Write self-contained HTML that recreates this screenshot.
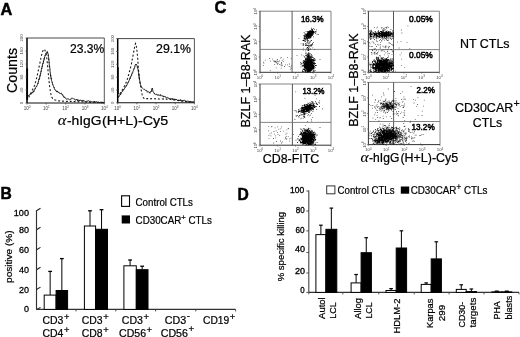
<!DOCTYPE html>
<html><head><meta charset="utf-8"><style>
html,body{margin:0;padding:0;background:#fff;}
svg{display:block;filter:grayscale(1) blur(0.2px);}
text{font-family:"Liberation Sans",sans-serif;}
</style></head><body>
<svg width="520" height="337" viewBox="0 0 520 337">
<rect width="520" height="337" fill="#fff"/>
<text x="0.5" y="14.8" font-size="17" font-weight="bold" text-anchor="start" fill="#000" textLength="11.8" lengthAdjust="spacingAndGlyphs" stroke="#000" stroke-width="0.5">A</text>
<text x="0.6" y="199.2" font-size="17" font-weight="bold" text-anchor="start" fill="#000" textLength="11.3" lengthAdjust="spacingAndGlyphs" stroke="#000" stroke-width="0.5">B</text>
<text x="214.6" y="12.8" font-size="17" font-weight="bold" text-anchor="start" fill="#000" textLength="11.9" lengthAdjust="spacingAndGlyphs" stroke="#000" stroke-width="0.5">C</text>
<text x="237.6" y="199.5" font-size="17" font-weight="bold" text-anchor="start" fill="#000" textLength="11.3" lengthAdjust="spacingAndGlyphs" stroke="#000" stroke-width="0.5">D</text>
<line x1="27" y1="38" x2="104.3" y2="38" stroke="#333" stroke-width="0.9"/>
<line x1="104.3" y1="38" x2="104.3" y2="103" stroke="#444" stroke-width="0.9"/>
<line x1="27" y1="103" x2="104.3" y2="103" stroke="#111" stroke-width="1.1"/>
<line x1="27" y1="38" x2="27" y2="103" stroke="#000" stroke-width="1.5"/>
<line x1="27.2" y1="68.3" x2="27.2" y2="100" stroke="#000" stroke-width="1.7"/>
<line x1="25.5" y1="103.0" x2="27" y2="103.0" stroke="#444" stroke-width="0.8"/>
<line x1="25.5" y1="90.0" x2="27" y2="90.0" stroke="#444" stroke-width="0.8"/>
<line x1="25.5" y1="77.0" x2="27" y2="77.0" stroke="#444" stroke-width="0.8"/>
<line x1="25.5" y1="64.0" x2="27" y2="64.0" stroke="#444" stroke-width="0.8"/>
<line x1="25.5" y1="51.0" x2="27" y2="51.0" stroke="#444" stroke-width="0.8"/>
<line x1="25.5" y1="38.0" x2="27" y2="38.0" stroke="#444" stroke-width="0.8"/>
<line x1="27.0" y1="103" x2="27.0" y2="104.5" stroke="#444" stroke-width="0.8"/>
<line x1="46.325" y1="103" x2="46.325" y2="104.5" stroke="#444" stroke-width="0.8"/>
<line x1="65.65" y1="103" x2="65.65" y2="104.5" stroke="#444" stroke-width="0.8"/>
<line x1="84.975" y1="103" x2="84.975" y2="104.5" stroke="#444" stroke-width="0.8"/>
<line x1="104.3" y1="103" x2="104.3" y2="104.5" stroke="#444" stroke-width="0.8"/>
<text x="27.0" y="110.0" font-size="4.5" text-anchor="middle" fill="#444">10<tspan font-size="3.1" dy="-1.7">0</tspan></text>
<text x="46.3" y="110.0" font-size="4.5" text-anchor="middle" fill="#444">10<tspan font-size="3.1" dy="-1.7">1</tspan></text>
<text x="65.7" y="110.0" font-size="4.5" text-anchor="middle" fill="#444">10<tspan font-size="3.1" dy="-1.7">2</tspan></text>
<text x="85.0" y="110.0" font-size="4.5" text-anchor="middle" fill="#444">10<tspan font-size="3.1" dy="-1.7">3</tspan></text>
<text x="104.3" y="110.0" font-size="4.5" text-anchor="middle" fill="#444">10<tspan font-size="3.1" dy="-1.7">4</tspan></text>
<text transform="translate(23.0,103.0) rotate(-90)" font-size="4.3" text-anchor="middle" fill="#444">0</text>
<text transform="translate(23.0,90.0) rotate(-90)" font-size="4.3" text-anchor="middle" fill="#444">40</text>
<text transform="translate(23.0,77.0) rotate(-90)" font-size="4.3" text-anchor="middle" fill="#444">80</text>
<text transform="translate(23.0,64.0) rotate(-90)" font-size="4.3" text-anchor="middle" fill="#444">120</text>
<text transform="translate(23.0,51.0) rotate(-90)" font-size="4.3" text-anchor="middle" fill="#444">160</text>
<text transform="translate(23.0,38.0) rotate(-90)" font-size="4.3" text-anchor="middle" fill="#444">200</text>
<line x1="117.7" y1="38.6" x2="194.4" y2="38.6" stroke="#333" stroke-width="0.9"/>
<line x1="194.4" y1="38.6" x2="194.4" y2="102.8" stroke="#444" stroke-width="0.9"/>
<line x1="117.7" y1="102.8" x2="194.4" y2="102.8" stroke="#111" stroke-width="1.1"/>
<line x1="117.7" y1="38.6" x2="117.7" y2="102.8" stroke="#000" stroke-width="1.5"/>
<line x1="117.9" y1="67.3" x2="117.9" y2="94" stroke="#000" stroke-width="1.7"/>
<line x1="116.2" y1="102.8" x2="117.7" y2="102.8" stroke="#444" stroke-width="0.8"/>
<line x1="116.2" y1="89.96" x2="117.7" y2="89.96" stroke="#444" stroke-width="0.8"/>
<line x1="116.2" y1="77.12" x2="117.7" y2="77.12" stroke="#444" stroke-width="0.8"/>
<line x1="116.2" y1="64.28" x2="117.7" y2="64.28" stroke="#444" stroke-width="0.8"/>
<line x1="116.2" y1="51.440000000000005" x2="117.7" y2="51.440000000000005" stroke="#444" stroke-width="0.8"/>
<line x1="116.2" y1="38.60000000000001" x2="117.7" y2="38.60000000000001" stroke="#444" stroke-width="0.8"/>
<line x1="117.7" y1="102.8" x2="117.7" y2="104.3" stroke="#444" stroke-width="0.8"/>
<line x1="136.875" y1="102.8" x2="136.875" y2="104.3" stroke="#444" stroke-width="0.8"/>
<line x1="156.05" y1="102.8" x2="156.05" y2="104.3" stroke="#444" stroke-width="0.8"/>
<line x1="175.22500000000002" y1="102.8" x2="175.22500000000002" y2="104.3" stroke="#444" stroke-width="0.8"/>
<line x1="194.4" y1="102.8" x2="194.4" y2="104.3" stroke="#444" stroke-width="0.8"/>
<text x="117.7" y="109.8" font-size="4.5" text-anchor="middle" fill="#444">10<tspan font-size="3.1" dy="-1.7">0</tspan></text>
<text x="136.9" y="109.8" font-size="4.5" text-anchor="middle" fill="#444">10<tspan font-size="3.1" dy="-1.7">1</tspan></text>
<text x="156.1" y="109.8" font-size="4.5" text-anchor="middle" fill="#444">10<tspan font-size="3.1" dy="-1.7">2</tspan></text>
<text x="175.2" y="109.8" font-size="4.5" text-anchor="middle" fill="#444">10<tspan font-size="3.1" dy="-1.7">3</tspan></text>
<text x="194.4" y="109.8" font-size="4.5" text-anchor="middle" fill="#444">10<tspan font-size="3.1" dy="-1.7">4</tspan></text>
<text transform="translate(113.7,102.8) rotate(-90)" font-size="4.3" text-anchor="middle" fill="#444">0</text>
<text transform="translate(113.7,90.0) rotate(-90)" font-size="4.3" text-anchor="middle" fill="#444">40</text>
<text transform="translate(113.7,77.1) rotate(-90)" font-size="4.3" text-anchor="middle" fill="#444">80</text>
<text transform="translate(113.7,64.3) rotate(-90)" font-size="4.3" text-anchor="middle" fill="#444">120</text>
<text transform="translate(113.7,51.4) rotate(-90)" font-size="4.3" text-anchor="middle" fill="#444">160</text>
<text transform="translate(113.7,38.6) rotate(-90)" font-size="4.3" text-anchor="middle" fill="#444">200</text>
<path d="M27.80,95.53 L28.07,95.57 L28.43,95.97 L28.85,95.12 L29.33,94.99 L29.83,94.88 L30.34,94.00 L30.83,94.18 L31.30,93.99 L31.60,93.97 L31.90,92.62 L32.21,92.61 L32.53,91.95 L32.84,92.67 L33.15,92.12 L33.46,90.75 L33.76,91.76 L34.06,91.33 L34.35,90.45 L34.63,89.98 L34.90,88.89 L35.14,88.30 L35.37,88.70 L35.59,87.63 L35.80,87.46 L36.01,87.17 L36.21,86.47 L36.41,86.73 L36.61,86.29 L36.81,86.47 L37.00,85.53 L37.20,85.24 L37.40,84.53 L37.60,84.24 L37.73,83.57 L37.86,82.93 L37.99,83.63 L38.12,83.23 L38.25,82.59 L38.38,81.98 L38.51,80.97 L38.64,80.41 L38.77,80.06 L38.90,79.29 L39.03,79.88 L39.16,78.87 L39.29,79.07 L39.42,77.90 L39.55,78.28 L39.68,77.62 L39.81,75.86 L39.94,75.68 L40.07,76.22 L40.20,75.05 L40.30,75.42 L40.41,74.14 L40.51,73.23 L40.61,73.63 L40.72,73.42 L40.82,72.21 L40.93,71.48 L41.04,71.39 L41.14,71.87 L41.25,71.09 L41.36,69.66 L41.46,69.39 L41.57,68.70 L41.67,68.16 L41.78,68.80 L41.89,67.40 L41.99,67.51 L42.10,66.89 L42.20,66.05 L42.30,66.42 L42.40,65.08 L42.51,65.42 L42.61,64.21 L42.71,64.26 L42.80,63.55 L42.90,63.25 L43.04,63.77 L43.18,62.99 L43.31,61.72 L43.45,62.08 L43.58,60.57 L43.71,60.35 L43.85,60.56 L43.98,59.78 L44.11,58.51 L44.23,59.40 L44.36,57.80 L44.49,57.45 L44.61,57.81 L44.73,56.76 L44.85,56.33 L44.97,55.64 L45.09,55.32 L45.20,55.72 L45.45,54.51 L45.70,54.39 L45.94,53.46 L46.17,53.06 L46.39,53.38 L46.60,52.33 L46.81,52.23 L47.00,52.55 L47.23,51.51 L47.44,51.60 L47.63,53.03 L47.81,53.41 L48.00,53.30 L48.20,54.23 L48.25,55.35 L48.30,55.98 L48.35,55.21 L48.40,56.71 L48.45,57.00 L48.51,56.99 L48.56,57.15 L48.61,57.12 L48.66,57.48 L48.71,59.34 L48.77,58.74 L48.82,59.93 L48.87,59.75 L48.92,61.11 L48.98,61.28 L49.03,61.33 L49.08,61.66 L49.13,62.99 L49.19,62.52 L49.24,63.25 L49.29,64.24 L49.34,65.16 L49.40,65.27 L49.45,65.23 L49.50,66.63 L49.56,66.03 L49.61,66.22 L49.66,67.07 L49.72,67.81 L49.77,67.70 L49.82,68.35 L49.87,69.11 L49.92,69.88 L49.97,69.69 L50.02,70.50 L50.07,71.76 L50.13,72.35 L50.18,72.32 L50.23,72.83 L50.29,73.11 L50.35,72.89 L50.40,73.18 L50.46,73.59 L50.53,75.35 L50.59,75.47 L50.66,76.28 L50.73,75.28 L50.80,76.60 L50.90,76.89 L51.00,77.76 L51.10,77.65 L51.21,79.17 L51.33,78.27 L51.44,79.46 L51.56,80.23 L51.68,80.94 L51.81,81.16 L51.93,81.56 L52.05,82.14 L52.18,82.75 L52.30,82.33 L52.42,83.24 L52.55,83.97 L52.67,84.31 L52.78,84.01 L52.90,84.94 L53.08,85.61 L53.26,85.71 L53.43,86.29 L53.61,86.40 L53.78,87.15 L53.95,87.61 L54.13,87.22 L54.31,88.44 L54.50,89.34 L54.69,89.52 L54.90,89.64 L55.19,89.57 L55.49,90.49 L55.80,90.61 L56.12,90.73 L56.45,91.63 L56.81,90.79 L57.19,92.08 L57.60,91.29 L57.96,92.38 L58.35,92.41 L58.77,92.23 L59.20,93.13 L59.64,93.01 L60.09,93.38 L60.52,94.04 L60.94,93.25 L61.34,93.12 L61.70,93.80 L62.06,94.68 L62.39,94.31 L62.69,94.63 L62.97,96.12 L63.24,96.14 L63.53,96.19 L63.82,97.24 L64.14,96.73 L64.50,97.55 L64.89,97.14 L65.31,97.77 L65.74,98.61 L66.19,99.04 L66.65,99.23 L67.11,98.70 L67.58,99.18 L68.04,98.93 L68.50,98.75 L68.95,99.32 L69.40,99.79 L69.86,99.71 L70.32,99.38 L70.77,99.59 L71.23,98.44 L71.69,98.17 L72.14,98.53 L72.60,98.26 L73.05,98.24 L73.48,98.65 L73.91,99.12 L74.35,99.10 L74.78,99.03 L75.23,100.01 L75.69,100.41 L76.18,99.79 L76.70,99.36 L77.10,99.38 L77.49,100.73 L77.88,99.55 L78.28,100.62 L78.69,100.48 L79.11,100.15 L79.55,100.93 L80.02,99.83 L80.51,100.07 L81.04,100.61 L81.60,100.02 L82.20,101.29 L82.57,100.44 L82.95,100.34 L83.35,100.24 L83.76,101.15 L84.18,100.91 L84.62,101.23 L85.07,101.30 L85.52,101.57 L85.99,101.84 L86.46,101.46 L86.93,100.77 L87.41,101.23 L87.89,100.82 L88.38,100.61 L88.86,101.34 L89.34,101.74 L89.83,100.97 L90.30,101.15 L90.77,101.30 L91.24,101.86 L91.70,101.63 L92.16,101.81 L92.64,102.06 L93.13,101.55 L93.62,102.18 L94.13,102.39 L94.64,101.20 L95.15,102.51 L95.66,102.23 L96.17,101.38 L96.67,101.90 L97.17,102.19 L97.66,102.66 L98.14,101.89 L98.61,102.21 L99.06,102.71 L99.49,102.62 L99.90,102.87 L100.29,102.17 L100.65,102.48 L100.99,101.83 L101.30,102.63 L102.18,102.84 L102.81,102.62 L103.25,102.77 L103.56,102.04 L103.79,103.08 L104.00,102.50" fill="none" stroke="#111" stroke-width="0.95"/>
<path d="M28.70,97.54 L28.84,97.25 L29.01,96.76 L29.22,96.40 L29.45,95.78 L29.70,95.43 L29.96,94.86 L30.24,94.14 L30.51,93.49 L30.79,93.03 L31.05,92.52 L31.30,92.08 L31.54,91.52 L31.78,90.94 L32.03,90.74 L32.27,90.09 L32.52,89.88 L32.77,89.25 L33.01,88.84 L33.26,88.49 L33.51,87.77 L33.75,87.21 L34.00,86.70 L34.15,86.37 L34.30,85.99 L34.45,85.52 L34.60,85.17 L34.75,84.58 L34.90,84.26 L35.05,83.54 L35.20,83.10 L35.35,82.70 L35.50,82.13 L35.65,81.75 L35.80,81.20 L35.95,80.63 L36.10,80.19 L36.25,79.55 L36.40,78.91 L36.55,78.35 L36.70,77.90 L36.81,77.49 L36.92,76.83 L37.03,76.57 L37.14,76.14 L37.25,75.52 L37.36,75.05 L37.47,74.44 L37.58,74.04 L37.69,73.52 L37.80,73.04 L37.91,72.35 L38.02,72.11 L38.13,71.46 L38.24,70.90 L38.35,70.50 L38.46,69.90 L38.57,69.36 L38.67,68.90 L38.78,68.20 L38.89,67.84 L38.99,67.30 L39.09,66.97 L39.20,66.47 L39.30,65.80 L39.40,65.39 L39.52,64.74 L39.64,64.27 L39.75,63.83 L39.87,63.30 L39.98,62.61 L40.09,62.01 L40.20,61.42 L40.31,61.00 L40.42,60.54 L40.53,59.77 L40.64,59.43 L40.75,58.68 L40.86,58.22 L40.96,57.73 L41.07,57.38 L41.17,56.79 L41.28,56.34 L41.39,55.97 L41.49,55.39 L41.60,55.16 L41.70,54.59 L41.90,53.98 L42.10,53.21 L42.30,52.54 L42.49,52.01 L42.68,51.41 L42.88,50.87 L43.07,50.42 L43.25,50.05 L43.44,49.62 L43.62,49.38 L43.80,49.34 L44.12,49.26 L44.44,49.41 L44.74,49.92 L45.04,50.44 L45.33,51.26 L45.60,51.92 L45.70,52.42 L45.80,52.81 L45.89,53.23 L45.98,53.47 L46.07,53.90 L46.16,54.54 L46.25,54.81 L46.34,55.54 L46.42,56.02 L46.51,56.33 L46.59,56.91 L46.67,57.63 L46.76,58.07 L46.84,58.63 L46.92,59.47 L47.00,59.98 L47.05,60.50 L47.10,60.73 L47.15,61.25 L47.20,61.78 L47.25,62.04 L47.30,62.56 L47.34,63.18 L47.39,63.73 L47.43,64.24 L47.48,64.48 L47.53,65.10 L47.57,65.68 L47.62,66.12 L47.66,66.69 L47.71,67.07 L47.75,67.56 L47.80,68.10 L47.85,68.61 L47.90,69.30 L47.94,69.82 L47.99,70.38 L48.04,70.79 L48.09,71.33 L48.15,71.88 L48.20,72.60 L48.25,73.13 L48.30,73.60 L48.35,73.85 L48.40,74.35 L48.45,75.14 L48.50,75.51 L48.55,76.13 L48.60,76.54 L48.66,77.11 L48.71,77.67 L48.76,78.18 L48.82,78.78 L48.87,79.14 L48.92,79.89 L48.98,80.47 L49.03,80.80 L49.09,81.41 L49.14,82.02 L49.20,82.44 L49.26,82.89 L49.31,83.38 L49.37,83.98 L49.42,84.32 L49.48,85.05 L49.53,85.49 L49.59,85.91 L49.64,86.39 L49.70,86.74 L49.79,87.30 L49.87,87.98 L49.95,88.55 L50.04,89.28 L50.12,89.80 L50.20,90.18 L50.28,90.91 L50.37,91.38 L50.45,91.90 L50.54,92.39 L50.62,92.74 L50.71,93.34 L50.80,93.77 L50.90,94.14 L50.99,94.56 L51.09,94.95 L51.19,95.22 L51.30,95.67 L51.53,96.19 L51.73,96.87 L51.93,97.41 L52.15,97.70 L52.41,98.17 L52.72,98.59 L53.11,98.91 L53.60,99.12 L53.93,99.53 L54.27,99.64 L54.62,99.71 L54.99,99.97 L55.37,100.10 L55.79,100.23 L56.24,100.32 L56.73,100.63 L57.26,100.64 L57.85,100.76 L58.50,100.89 L59.21,101.05 L60.00,100.86 L60.37,101.07 L60.75,101.15 L61.15,101.04 L61.57,101.11 L62.00,101.03 L62.45,101.11 L62.91,101.18 L63.38,101.13 L63.87,101.19 L64.36,101.41 L64.87,101.32 L65.38,101.33 L65.90,101.48 L66.43,101.38 L66.96,101.52 L67.50,101.43 L68.04,101.50 L68.59,101.29 L69.13,101.46 L69.68,101.52 L70.23,101.32 L70.78,101.60 L71.32,101.38 L71.86,101.49 L72.40,101.41 L72.93,101.53 L73.46,101.58 L73.98,101.43 L74.50,101.71 L75.00,101.58 L75.50,101.63 L76.00,101.67 L76.50,101.62 L77.01,101.62 L77.51,101.75 L78.02,101.74 L78.52,101.68 L79.03,101.83 L79.53,101.73 L80.04,101.67 L80.54,101.76 L81.05,101.72 L81.55,101.77 L82.06,101.97 L82.56,101.89 L83.07,102.06 L83.57,102.04 L84.07,101.85 L84.57,102.15 L85.07,102.16 L85.57,101.91 L86.07,102.18 L86.57,102.06 L87.06,102.09 L87.56,102.26 L88.05,102.06 L88.54,102.16 L89.03,102.30 L89.52,102.25 L90.00,102.19 L90.53,102.36 L91.06,102.33 L91.61,102.28 L92.17,102.15 L92.74,102.31 L93.32,102.28 L93.90,102.21 L94.48,102.18 L95.06,102.34 L95.65,102.23 L96.23,102.34 L96.80,102.42 L97.37,102.36 L97.94,102.32 L98.49,102.42 L99.03,102.38 L99.56,102.50 L100.07,102.44 L100.57,102.59 L101.05,102.58 L101.51,102.52 L101.94,102.38 L102.36,102.35 L102.74,102.59 L103.10,102.57 L103.43,102.53 L103.73,102.45 L104.00,102.50" fill="none" stroke="#1a1a1a" stroke-width="1.1" stroke-dasharray="2,2"/>
<path d="M118.30,96.66 L118.48,97.03 L118.73,96.52 L119.03,96.16 L119.39,95.74 L119.80,95.38 L120.02,94.24 L120.26,94.02 L120.51,94.80 L120.78,94.36 L121.06,93.95 L121.35,92.31 L121.65,91.95 L121.96,91.85 L122.27,91.65 L122.60,91.49 L122.82,90.39 L123.06,90.72 L123.30,89.68 L123.54,89.35 L123.79,89.88 L124.05,89.33 L124.31,89.08 L124.57,88.31 L124.83,88.08 L125.10,87.28 L125.36,87.07 L125.62,87.26 L125.89,86.98 L126.14,85.40 L126.40,85.03 L126.61,85.69 L126.83,85.02 L127.04,84.84 L127.26,83.59 L127.48,83.49 L127.70,82.81 L127.92,83.21 L128.14,82.11 L128.36,82.09 L128.57,82.15 L128.79,80.72 L129.00,80.61 L129.21,80.47 L129.42,80.30 L129.62,79.13 L129.82,78.62 L130.01,77.80 L130.20,78.56 L130.41,76.92 L130.61,76.48 L130.81,76.76 L131.01,76.21 L131.21,76.07 L131.40,75.06 L131.58,75.34 L131.77,73.87 L131.95,73.66 L132.13,73.91 L132.30,72.63 L132.47,72.56 L132.63,72.79 L132.79,72.36 L132.95,71.35 L133.10,70.76 L133.30,70.58 L133.48,70.63 L133.66,69.59 L133.84,68.73 L134.00,69.13 L134.16,68.45 L134.32,68.52 L134.46,68.12 L134.60,67.67 L134.74,66.57 L134.87,66.77 L135.00,65.71 L135.31,64.86 L135.54,64.27 L135.78,64.70 L136.10,64.79 L136.23,64.00 L136.36,64.40 L136.51,64.69 L136.67,65.02 L136.83,65.44 L136.99,65.85 L137.16,66.01 L137.33,67.06 L137.49,67.93 L137.65,68.09 L137.81,69.10 L137.96,69.29 L138.10,69.31 L138.18,70.55 L138.25,71.12 L138.32,70.63 L138.39,70.66 L138.46,71.85 L138.53,72.35 L138.59,72.86 L138.66,73.94 L138.72,73.96 L138.79,74.69 L138.85,74.08 L138.91,75.30 L138.97,76.17 L139.04,75.61 L139.10,76.10 L139.16,77.57 L139.22,78.29 L139.28,77.53 L139.35,78.80 L139.41,78.50 L139.47,79.81 L139.54,80.06 L139.60,79.82 L139.71,80.39 L139.82,81.79 L139.93,81.98 L140.04,82.87 L140.15,82.81 L140.25,83.19 L140.36,84.58 L140.47,84.56 L140.59,84.70 L140.71,85.14 L140.83,85.77 L140.96,86.09 L141.10,86.72 L141.42,86.55 L141.75,87.59 L142.11,87.68 L142.48,88.23 L142.88,88.43 L143.30,88.80 L143.64,89.17 L143.99,89.56 L144.37,89.38 L144.75,89.50 L145.14,90.07 L145.53,90.50 L145.92,90.21 L146.30,90.48 L146.68,90.35 L147.08,91.55 L147.47,92.24 L147.87,91.62 L148.26,91.58 L148.63,91.87 L148.98,92.38 L149.30,92.29 L149.87,93.31 L150.38,91.75 L150.81,91.77 L151.20,91.02 L151.39,91.44 L151.55,91.10 L151.68,89.61 L151.80,88.84 L151.93,88.94 L152.05,88.80 L152.20,89.21 L152.32,88.05 L152.43,88.48 L152.54,89.03 L152.65,89.60 L152.77,90.20 L152.90,91.50 L153.04,91.87 L153.21,91.80 L153.40,92.13 L153.73,92.70 L154.09,92.88 L154.49,94.04 L154.93,93.61 L155.40,94.17 L155.90,94.78 L156.30,94.40 L156.72,94.17 L157.16,95.18 L157.62,95.28 L158.10,94.49 L158.59,94.86 L159.09,95.57 L159.60,94.97 L160.01,94.70 L160.44,94.57 L160.87,96.05 L161.31,95.97 L161.76,95.50 L162.21,95.87 L162.67,96.01 L163.14,95.82 L163.62,97.06 L164.10,96.74 L164.50,96.26 L164.90,96.08 L165.29,96.94 L165.69,96.96 L166.09,97.78 L166.50,97.83 L166.92,97.85 L167.36,97.35 L167.81,97.52 L168.28,97.93 L168.78,98.00 L169.30,99.05 L169.69,98.62 L170.10,98.89 L170.53,99.52 L170.98,98.51 L171.43,99.00 L171.90,98.51 L172.38,99.52 L172.86,98.44 L173.34,99.74 L173.83,99.85 L174.31,99.89 L174.78,98.85 L175.25,99.20 L175.71,99.93 L176.16,99.07 L176.59,99.71 L177.00,99.75 L177.50,100.56 L177.97,100.07 L178.41,100.54 L178.82,99.76 L179.23,100.54 L179.62,100.03 L180.03,100.82 L180.44,99.64 L180.88,100.79 L181.34,99.93 L181.85,100.50 L182.40,100.55 L183.00,100.09 L183.38,101.16 L183.79,100.44 L184.23,100.51 L184.69,100.23 L185.18,100.65 L185.68,100.97 L186.20,101.43 L186.73,100.98 L187.27,101.56 L187.81,100.78 L188.36,101.30 L188.89,101.49 L189.42,102.33 L189.94,102.21 L190.45,102.03 L190.93,101.15 L191.40,101.77 L191.83,102.34 L192.24,101.70 L192.61,102.25 L192.95,102.15 L193.25,101.52 L193.50,102.30" fill="none" stroke="#111" stroke-width="0.95"/>
<path d="M118.30,97.65 L118.42,97.29 L118.58,96.73 L118.77,96.38 L118.99,95.76 L119.23,95.23 L119.50,94.70 L119.80,94.04 L120.02,93.65 L120.26,93.26 L120.51,92.93 L120.78,92.38 L121.06,91.92 L121.35,91.62 L121.65,91.01 L121.96,90.68 L122.27,90.01 L122.60,89.47 L122.81,88.96 L123.03,88.70 L123.26,88.06 L123.50,87.64 L123.74,87.18 L123.99,86.90 L124.24,86.44 L124.49,85.80 L124.75,85.38 L125.00,85.02 L125.25,84.44 L125.49,83.78 L125.73,83.30 L125.96,82.76 L126.19,82.22 L126.40,81.77 L126.58,81.21 L126.75,81.00 L126.92,80.36 L127.09,79.89 L127.25,79.43 L127.42,78.96 L127.58,78.45 L127.74,77.80 L127.89,77.26 L128.05,76.76 L128.20,76.12 L128.34,75.71 L128.49,75.28 L128.63,74.86 L128.77,74.30 L128.91,73.76 L129.04,73.26 L129.17,72.61 L129.30,72.25 L129.46,71.69 L129.60,71.25 L129.74,70.57 L129.88,70.15 L130.01,69.70 L130.13,69.30 L130.25,68.84 L130.37,68.30 L130.49,67.68 L130.60,67.38 L130.72,66.93 L130.84,66.33 L130.95,65.75 L131.08,65.26 L131.20,64.59 L131.30,64.31 L131.40,63.93 L131.50,63.32 L131.60,62.90 L131.70,62.45 L131.80,61.77 L131.90,61.49 L132.00,60.90 L132.10,60.26 L132.20,59.72 L132.30,59.26 L132.40,58.84 L132.50,58.36 L132.60,57.73 L132.70,57.39 L132.80,56.71 L132.90,56.22 L133.00,55.60 L133.10,55.34 L133.20,54.59 L133.29,54.30 L133.39,53.65 L133.49,53.10 L133.60,52.54 L133.70,51.87 L133.80,51.49 L133.90,50.94 L134.01,50.31 L134.11,49.68 L134.21,48.98 L134.30,48.65 L134.40,47.97 L134.50,47.65 L134.59,46.98 L134.68,46.63 L134.76,46.30 L134.85,45.73 L134.93,45.51 L135.00,45.07 L135.53,43.43 L136.00,44.40 L136.06,44.89 L136.12,45.16 L136.18,45.38 L136.24,45.61 L136.30,46.09 L136.37,46.50 L136.43,46.81 L136.50,47.31 L136.57,47.85 L136.63,48.10 L136.70,48.67 L136.77,49.29 L136.84,49.75 L136.91,50.40 L136.98,51.05 L137.05,51.55 L137.12,52.29 L137.19,52.87 L137.26,53.63 L137.33,54.25 L137.40,55.04 L137.44,55.26 L137.48,55.87 L137.52,56.15 L137.55,56.84 L137.59,57.20 L137.63,57.64 L137.67,58.11 L137.71,58.68 L137.75,59.21 L137.79,59.76 L137.83,60.29 L137.87,60.75 L137.91,61.45 L137.95,61.95 L137.98,62.51 L138.02,62.94 L138.06,63.51 L138.10,64.12 L138.14,64.78 L138.18,65.24 L138.22,65.80 L138.26,66.34 L138.30,67.04 L138.34,67.42 L138.38,67.89 L138.42,68.64 L138.46,69.23 L138.50,69.71 L138.54,70.19 L138.58,70.75 L138.62,71.12 L138.66,71.69 L138.70,72.01 L138.74,72.49 L138.78,73.04 L138.82,73.49 L138.86,73.87 L138.90,74.17 L138.97,75.08 L139.05,75.71 L139.12,76.27 L139.20,76.90 L139.28,77.51 L139.35,78.02 L139.43,78.50 L139.50,79.26 L139.58,79.77 L139.65,80.15 L139.72,80.67 L139.80,80.99 L139.88,81.55 L139.95,81.81 L140.03,82.41 L140.10,82.79 L140.18,83.34 L140.25,83.55 L140.33,84.21 L140.40,84.49 L140.48,85.15 L140.57,85.81 L140.65,86.07 L140.74,86.69 L140.82,87.25 L140.90,87.80 L140.99,88.25 L141.07,89.03 L141.16,89.53 L141.24,89.92 L141.32,90.41 L141.41,90.97 L141.49,91.28 L141.57,91.73 L141.66,92.43 L141.74,92.67 L141.82,93.13 L141.90,93.63 L142.07,94.41 L142.23,94.93 L142.38,95.44 L142.53,95.98 L142.68,96.63 L142.86,97.02 L143.06,97.18 L143.30,97.70 L143.58,97.97 L143.74,98.25 L144.04,98.30 L144.72,98.61 L146.00,98.75 L146.31,98.53 L146.66,98.68 L147.03,98.57 L147.42,98.79 L147.85,98.56 L148.29,98.59 L148.75,98.78 L149.23,98.67 L149.73,98.85 L150.25,98.85 L150.78,98.81 L151.31,98.65 L151.86,98.82 L152.42,98.90 L152.98,98.76 L153.55,98.65 L154.12,98.70 L154.68,98.73 L155.25,98.86 L155.82,98.71 L156.38,98.72 L156.93,98.74 L157.47,98.88 L158.01,98.93 L158.53,98.82 L159.03,98.92 L159.53,99.00 L160.00,98.93 L160.54,98.84 L161.08,98.88 L161.61,99.09 L162.14,99.04 L162.66,98.94 L163.19,99.07 L163.71,98.93 L164.22,99.22 L164.73,99.08 L165.24,99.14 L165.75,99.16 L166.25,99.04 L166.75,99.24 L167.24,99.17 L167.73,99.19 L168.22,99.39 L168.71,99.21 L169.19,99.30 L169.66,99.48 L170.14,99.36 L170.61,99.41 L171.08,99.53 L171.54,99.46 L172.00,99.72 L172.54,99.80 L173.07,99.57 L173.59,99.76 L174.10,99.91 L174.61,99.87 L175.10,100.10 L175.59,100.05 L176.07,100.02 L176.55,100.21 L177.03,100.31 L177.51,100.30 L177.99,100.47 L178.47,100.58 L178.95,100.58 L179.44,100.65 L179.94,100.83 L180.44,100.85 L180.95,100.87 L181.47,101.07 L182.00,100.90 L182.48,101.14 L182.99,101.02 L183.51,101.21 L184.05,101.16 L184.61,101.28 L185.18,101.44 L185.76,101.50 L186.34,101.57 L186.93,101.46 L187.51,101.60 L188.09,101.57 L188.66,101.74 L189.22,101.77 L189.76,101.69 L190.29,101.91 L190.80,101.99 L191.28,102.00 L191.74,102.13 L192.16,101.97 L192.56,102.00 L192.91,102.00 L193.23,102.17 L193.50,102.20" fill="none" stroke="#1a1a1a" stroke-width="1.1" stroke-dasharray="2,2"/>
<text x="70" y="52.8" font-size="12.5" text-anchor="start" fill="#000" textLength="34.3" lengthAdjust="spacingAndGlyphs" stroke="#000" stroke-width="0.22">23.3%</text>
<text x="156.1" y="53.0" font-size="12.5" text-anchor="start" fill="#000" textLength="34.9" lengthAdjust="spacingAndGlyphs" stroke="#000" stroke-width="0.22">29.1%</text>
<text transform="translate(17.1,92.9) rotate(-90)" font-size="14.6" text-anchor="start" fill="#000" textLength="44.9" lengthAdjust="spacingAndGlyphs" stroke="#000" stroke-width="0.22">Counts</text>
<text x="57.7" y="124.6" font-size="14.8" style="font-family:&quot;Liberation Serif&quot;,serif;font-style:italic" stroke="#000" stroke-width="0.1" textLength="8.6" lengthAdjust="spacingAndGlyphs">&#945;</text>
<text x="66.9" y="124.6" font-size="12.3" text-anchor="start" fill="#000" textLength="34.6" lengthAdjust="spacingAndGlyphs" stroke="#000" stroke-width="0.22">-hIgG</text>
<text x="101.9" y="124.6" font-size="12.3" text-anchor="start" fill="#000" textLength="66.3" lengthAdjust="spacingAndGlyphs" stroke="#000" stroke-width="0.22">(H+L)-Cy5</text>
<line x1="260" y1="11.2" x2="331" y2="11.2" stroke="#777" stroke-width="0.9"/>
<line x1="331" y1="11.2" x2="331" y2="72.3" stroke="#777" stroke-width="0.9"/>
<line x1="260" y1="72.3" x2="331" y2="72.3" stroke="#333" stroke-width="1"/>
<line x1="260" y1="11.2" x2="260" y2="72.3" stroke="#333" stroke-width="1"/>
<line x1="292.1" y1="11.2" x2="292.1" y2="72.3" stroke="#444" stroke-width="0.9"/>
<line x1="260" y1="49.4" x2="331" y2="49.4" stroke="#777" stroke-width="0.9"/>
<line x1="260.0" y1="72.3" x2="260.0" y2="73.6" stroke="#555" stroke-width="0.7"/>
<text x="260.0" y="78.6" font-size="4.3" text-anchor="middle" fill="#444">10<tspan font-size="3" dy="-1.4">0</tspan></text>
<line x1="258.7" y1="72.3" x2="260" y2="72.3" stroke="#555" stroke-width="0.7"/>
<text transform="translate(257.2,72.3) rotate(-90)" font-size="4.3" text-anchor="middle" fill="#444">10<tspan font-size="3" dy="-1.4">0</tspan></text>
<line x1="277.75" y1="72.3" x2="277.75" y2="73.6" stroke="#555" stroke-width="0.7"/>
<text x="277.8" y="78.6" font-size="4.3" text-anchor="middle" fill="#444">10<tspan font-size="3" dy="-1.4">1</tspan></text>
<line x1="258.7" y1="57.025" x2="260" y2="57.025" stroke="#555" stroke-width="0.7"/>
<text transform="translate(257.2,57.0) rotate(-90)" font-size="4.3" text-anchor="middle" fill="#444">10<tspan font-size="3" dy="-1.4">1</tspan></text>
<line x1="295.5" y1="72.3" x2="295.5" y2="73.6" stroke="#555" stroke-width="0.7"/>
<text x="295.5" y="78.6" font-size="4.3" text-anchor="middle" fill="#444">10<tspan font-size="3" dy="-1.4">2</tspan></text>
<line x1="258.7" y1="41.75" x2="260" y2="41.75" stroke="#555" stroke-width="0.7"/>
<text transform="translate(257.2,41.8) rotate(-90)" font-size="4.3" text-anchor="middle" fill="#444">10<tspan font-size="3" dy="-1.4">2</tspan></text>
<line x1="313.25" y1="72.3" x2="313.25" y2="73.6" stroke="#555" stroke-width="0.7"/>
<text x="313.2" y="78.6" font-size="4.3" text-anchor="middle" fill="#444">10<tspan font-size="3" dy="-1.4">3</tspan></text>
<line x1="258.7" y1="26.475" x2="260" y2="26.475" stroke="#555" stroke-width="0.7"/>
<text transform="translate(257.2,26.5) rotate(-90)" font-size="4.3" text-anchor="middle" fill="#444">10<tspan font-size="3" dy="-1.4">3</tspan></text>
<line x1="331.0" y1="72.3" x2="331.0" y2="73.6" stroke="#555" stroke-width="0.7"/>
<text x="331.0" y="78.6" font-size="4.3" text-anchor="middle" fill="#444">10<tspan font-size="3" dy="-1.4">4</tspan></text>
<line x1="258.7" y1="11.200000000000003" x2="260" y2="11.200000000000003" stroke="#555" stroke-width="0.7"/>
<text transform="translate(257.2,11.2) rotate(-90)" font-size="4.3" text-anchor="middle" fill="#444">10<tspan font-size="3" dy="-1.4">4</tspan></text>
<path d="M307.4,36.2h0.8v0.8h-0.8zM310.4,36.3h0.8v0.8h-0.8zM313.8,31.8h0.8v0.8h-0.8zM306.2,35.3h0.8v0.8h-0.8zM308.7,32.9h0.8v0.8h-0.8zM310.7,33.9h0.8v0.8h-0.8zM310.9,32.9h0.8v0.8h-0.8zM306.4,34.5h0.8v0.8h-0.8zM310.0,35.7h0.8v0.8h-0.8zM313.1,32.5h0.8v0.8h-0.8zM310.4,34.2h0.8v0.8h-0.8zM311.9,34.1h0.8v0.8h-0.8zM309.2,30.8h0.8v0.8h-0.8zM311.3,32.8h0.8v0.8h-0.8zM308.6,35.4h0.8v0.8h-0.8zM309.5,33.5h0.8v0.8h-0.8zM305.7,37.0h0.8v0.8h-0.8zM310.1,33.0h0.8v0.8h-0.8zM306.3,37.2h0.8v0.8h-0.8zM310.6,33.0h0.8v0.8h-0.8zM309.5,32.9h0.8v0.8h-0.8zM308.2,35.7h0.8v0.8h-0.8zM308.5,34.8h0.8v0.8h-0.8zM316.2,29.4h0.8v0.8h-0.8zM307.7,31.9h0.8v0.8h-0.8zM309.9,34.7h0.8v0.8h-0.8zM307.4,34.9h0.8v0.8h-0.8zM305.1,38.4h0.8v0.8h-0.8zM308.5,35.8h0.8v0.8h-0.8zM311.6,31.5h0.8v0.8h-0.8zM311.2,32.6h0.8v0.8h-0.8zM308.3,34.0h0.8v0.8h-0.8zM308.5,36.9h0.8v0.8h-0.8zM309.8,31.4h0.8v0.8h-0.8zM310.0,31.8h0.8v0.8h-0.8zM307.2,37.9h0.8v0.8h-0.8zM307.6,37.5h0.8v0.8h-0.8zM310.3,34.7h0.8v0.8h-0.8zM311.1,34.5h0.8v0.8h-0.8zM310.3,34.1h0.8v0.8h-0.8zM310.6,34.8h0.8v0.8h-0.8zM309.2,35.8h0.8v0.8h-0.8zM311.9,31.4h0.8v0.8h-0.8zM309.4,32.7h0.8v0.8h-0.8zM308.7,34.8h0.8v0.8h-0.8zM307.5,33.6h0.8v0.8h-0.8zM309.1,34.3h0.8v0.8h-0.8zM310.3,34.3h0.8v0.8h-0.8zM306.8,38.6h0.8v0.8h-0.8zM307.9,33.4h0.8v0.8h-0.8zM308.7,35.1h0.8v0.8h-0.8zM310.4,32.1h0.8v0.8h-0.8zM307.8,31.9h0.8v0.8h-0.8zM309.2,33.6h0.8v0.8h-0.8zM309.0,35.7h0.8v0.8h-0.8zM313.6,32.2h0.8v0.8h-0.8zM308.9,37.1h0.8v0.8h-0.8zM308.3,34.5h0.8v0.8h-0.8zM308.3,35.5h0.8v0.8h-0.8zM310.2,33.2h0.8v0.8h-0.8zM308.4,34.2h0.8v0.8h-0.8zM309.1,35.8h0.8v0.8h-0.8zM307.8,34.7h0.8v0.8h-0.8zM307.9,33.5h0.8v0.8h-0.8zM307.1,32.7h0.8v0.8h-0.8zM310.3,33.9h0.8v0.8h-0.8zM309.9,36.3h0.8v0.8h-0.8zM307.9,36.0h0.8v0.8h-0.8zM309.4,32.6h0.8v0.8h-0.8zM309.4,35.4h0.8v0.8h-0.8zM309.4,34.2h0.8v0.8h-0.8zM312.0,31.9h0.8v0.8h-0.8zM305.0,35.9h0.8v0.8h-0.8zM310.5,32.5h0.8v0.8h-0.8zM305.0,33.5h0.8v0.8h-0.8zM311.1,35.2h0.8v0.8h-0.8zM304.4,33.6h0.8v0.8h-0.8zM309.5,32.6h0.8v0.8h-0.8zM308.1,34.1h0.8v0.8h-0.8zM307.6,36.0h0.8v0.8h-0.8zM311.2,32.9h0.8v0.8h-0.8zM308.9,36.1h0.8v0.8h-0.8zM309.3,34.8h0.8v0.8h-0.8zM307.8,36.3h0.8v0.8h-0.8zM311.7,34.2h0.8v0.8h-0.8zM309.5,34.5h0.8v0.8h-0.8zM308.7,36.0h0.8v0.8h-0.8zM311.6,33.9h0.8v0.8h-0.8zM307.1,33.3h0.8v0.8h-0.8zM308.7,33.9h0.8v0.8h-0.8zM308.1,35.9h0.8v0.8h-0.8zM311.2,32.9h0.8v0.8h-0.8zM311.6,32.6h0.8v0.8h-0.8zM306.5,35.0h0.8v0.8h-0.8zM309.0,35.4h0.8v0.8h-0.8zM310.9,32.6h0.8v0.8h-0.8zM310.2,31.4h0.8v0.8h-0.8zM310.2,35.9h0.8v0.8h-0.8zM310.9,34.5h0.8v0.8h-0.8zM303.7,35.2h0.8v0.8h-0.8zM308.3,36.6h0.8v0.8h-0.8zM311.6,30.6h0.8v0.8h-0.8zM306.1,34.5h0.8v0.8h-0.8zM307.8,36.1h0.8v0.8h-0.8zM310.2,36.6h0.8v0.8h-0.8zM309.8,32.0h0.8v0.8h-0.8zM309.3,33.4h0.8v0.8h-0.8zM311.4,33.7h0.8v0.8h-0.8zM309.2,35.6h0.8v0.8h-0.8zM310.0,33.0h0.8v0.8h-0.8zM310.2,34.3h0.8v0.8h-0.8zM307.7,33.8h0.8v0.8h-0.8zM311.5,31.9h0.8v0.8h-0.8zM308.3,35.5h0.8v0.8h-0.8zM306.2,36.5h0.8v0.8h-0.8zM305.9,35.8h0.8v0.8h-0.8zM304.8,36.1h0.8v0.8h-0.8zM310.6,32.3h0.8v0.8h-0.8zM308.3,38.0h0.8v0.8h-0.8zM309.2,36.7h0.8v0.8h-0.8zM306.6,33.2h0.8v0.8h-0.8zM312.2,30.5h0.8v0.8h-0.8zM311.6,34.1h0.8v0.8h-0.8zM306.5,36.2h0.8v0.8h-0.8zM308.5,35.6h0.8v0.8h-0.8zM307.8,32.6h0.8v0.8h-0.8zM309.9,34.8h0.8v0.8h-0.8zM309.0,35.1h0.8v0.8h-0.8zM307.9,34.8h0.8v0.8h-0.8zM309.8,33.6h0.8v0.8h-0.8zM312.4,33.0h0.8v0.8h-0.8zM311.3,33.4h0.8v0.8h-0.8zM308.2,32.4h0.8v0.8h-0.8zM312.7,34.2h0.8v0.8h-0.8zM309.2,33.3h0.8v0.8h-0.8zM310.1,35.4h0.8v0.8h-0.8zM308.6,32.4h0.8v0.8h-0.8zM308.0,33.4h0.8v0.8h-0.8zM307.8,33.3h0.8v0.8h-0.8zM308.7,37.1h0.8v0.8h-0.8zM309.5,30.5h0.8v0.8h-0.8zM306.7,35.1h0.8v0.8h-0.8zM307.0,33.1h0.8v0.8h-0.8zM309.2,30.7h0.8v0.8h-0.8zM311.0,33.6h0.8v0.8h-0.8zM307.7,33.9h0.8v0.8h-0.8zM309.3,34.1h0.8v0.8h-0.8zM303.8,36.0h0.8v0.8h-0.8zM310.0,33.0h0.8v0.8h-0.8zM307.3,33.6h0.8v0.8h-0.8zM306.9,34.3h0.8v0.8h-0.8zM313.3,28.0h0.8v0.8h-0.8zM312.5,32.0h0.8v0.8h-0.8zM309.6,33.9h0.8v0.8h-0.8zM309.8,36.4h0.8v0.8h-0.8zM310.0,33.1h0.8v0.8h-0.8zM309.0,34.4h0.8v0.8h-0.8zM306.5,35.5h0.8v0.8h-0.8zM308.4,35.7h0.8v0.8h-0.8zM308.4,30.9h0.8v0.8h-0.8zM309.5,35.5h0.8v0.8h-0.8zM305.4,34.8h0.8v0.8h-0.8zM310.8,32.2h0.8v0.8h-0.8zM307.0,33.4h0.8v0.8h-0.8zM308.8,33.1h0.8v0.8h-0.8zM309.8,34.1h0.8v0.8h-0.8zM310.1,32.5h0.8v0.8h-0.8zM308.0,34.9h0.8v0.8h-0.8zM309.0,34.3h0.8v0.8h-0.8zM307.8,34.6h0.8v0.8h-0.8zM307.3,34.3h0.8v0.8h-0.8zM310.4,35.0h0.8v0.8h-0.8zM308.5,35.5h0.8v0.8h-0.8zM309.8,33.6h0.8v0.8h-0.8zM309.8,32.3h0.8v0.8h-0.8zM310.4,33.4h0.8v0.8h-0.8zM302.6,40.1h0.8v0.8h-0.8zM312.0,35.2h0.8v0.8h-0.8zM307.1,35.8h0.8v0.8h-0.8zM308.8,32.3h0.8v0.8h-0.8zM311.8,32.5h0.8v0.8h-0.8zM306.3,34.0h0.8v0.8h-0.8zM310.5,37.3h0.8v0.8h-0.8zM310.9,27.7h0.8v0.8h-0.8zM306.1,37.7h0.8v0.8h-0.8zM308.2,33.5h0.8v0.8h-0.8zM310.3,33.1h0.8v0.8h-0.8zM309.8,33.8h0.8v0.8h-0.8zM308.1,37.3h0.8v0.8h-0.8zM309.2,36.0h0.8v0.8h-0.8zM310.4,32.9h0.8v0.8h-0.8zM309.3,33.7h0.8v0.8h-0.8zM305.1,36.7h0.8v0.8h-0.8zM308.3,31.5h0.8v0.8h-0.8zM307.1,37.7h0.8v0.8h-0.8zM309.1,30.9h0.8v0.8h-0.8zM309.9,33.2h0.8v0.8h-0.8zM310.6,32.0h0.8v0.8h-0.8zM307.9,33.5h0.8v0.8h-0.8zM309.3,33.6h0.8v0.8h-0.8zM307.4,34.7h0.8v0.8h-0.8zM308.1,35.9h0.8v0.8h-0.8zM305.5,33.9h0.8v0.8h-0.8zM308.2,36.8h0.8v0.8h-0.8zM308.6,35.6h0.8v0.8h-0.8zM310.0,32.2h0.8v0.8h-0.8zM311.0,33.3h0.8v0.8h-0.8zM308.3,33.3h0.8v0.8h-0.8zM307.7,32.6h0.8v0.8h-0.8zM307.9,33.8h0.8v0.8h-0.8zM310.2,33.7h0.8v0.8h-0.8zM308.6,36.0h0.8v0.8h-0.8zM311.4,32.1h0.8v0.8h-0.8zM308.0,35.8h0.8v0.8h-0.8zM303.7,37.4h0.8v0.8h-0.8zM312.1,35.3h0.8v0.8h-0.8zM309.0,36.9h0.8v0.8h-0.8zM315.4,32.3h0.8v0.8h-0.8zM305.4,39.1h0.8v0.8h-0.8zM310.4,34.8h0.8v0.8h-0.8zM308.1,33.6h0.8v0.8h-0.8zM310.0,36.1h0.8v0.8h-0.8zM310.4,32.3h0.8v0.8h-0.8zM310.6,34.3h0.8v0.8h-0.8zM310.1,33.0h0.8v0.8h-0.8zM307.0,34.2h0.8v0.8h-0.8zM307.6,34.1h0.8v0.8h-0.8zM304.6,35.0h0.8v0.8h-0.8zM309.7,31.3h0.8v0.8h-0.8zM306.4,36.1h0.8v0.8h-0.8zM313.1,33.0h0.8v0.8h-0.8zM307.2,33.5h0.8v0.8h-0.8zM307.1,33.9h0.8v0.8h-0.8zM308.4,35.5h0.8v0.8h-0.8zM306.2,34.9h0.8v0.8h-0.8zM308.5,34.4h0.8v0.8h-0.8zM306.7,34.4h0.8v0.8h-0.8zM306.1,35.0h0.8v0.8h-0.8zM309.8,32.9h0.8v0.8h-0.8zM303.5,39.9h0.8v0.8h-0.8zM308.0,33.1h0.8v0.8h-0.8zM305.6,31.0h0.8v0.8h-0.8zM306.9,38.1h0.8v0.8h-0.8zM315.3,32.9h0.8v0.8h-0.8zM307.6,35.3h0.8v0.8h-0.8zM309.4,31.3h0.8v0.8h-0.8zM311.8,30.3h0.8v0.8h-0.8zM308.6,32.1h0.8v0.8h-0.8zM309.7,33.4h0.8v0.8h-0.8zM310.0,30.9h0.8v0.8h-0.8zM310.7,36.1h0.8v0.8h-0.8zM307.0,36.4h0.8v0.8h-0.8zM309.4,32.7h0.8v0.8h-0.8zM309.8,36.1h0.8v0.8h-0.8zM311.8,32.7h0.8v0.8h-0.8zM308.4,32.3h0.8v0.8h-0.8zM310.9,35.9h0.8v0.8h-0.8zM309.8,30.7h0.8v0.8h-0.8zM304.2,36.7h0.8v0.8h-0.8zM308.8,33.1h0.8v0.8h-0.8zM308.7,34.9h0.8v0.8h-0.8zM311.0,32.7h0.8v0.8h-0.8zM310.1,30.3h0.8v0.8h-0.8zM310.3,33.7h0.8v0.8h-0.8zM307.3,37.9h0.8v0.8h-0.8zM304.4,35.0h0.8v0.8h-0.8zM315.6,31.0h0.8v0.8h-0.8zM311.1,34.9h0.8v0.8h-0.8zM310.2,30.8h0.8v0.8h-0.8zM311.3,34.8h0.8v0.8h-0.8zM308.8,34.4h0.8v0.8h-0.8zM308.8,35.6h0.8v0.8h-0.8zM307.3,34.3h0.8v0.8h-0.8zM305.7,35.0h0.8v0.8h-0.8zM309.9,34.2h0.8v0.8h-0.8zM307.2,33.4h0.8v0.8h-0.8zM310.0,33.8h0.8v0.8h-0.8zM311.1,31.3h0.8v0.8h-0.8zM308.7,35.3h0.8v0.8h-0.8zM312.0,31.4h0.8v0.8h-0.8zM307.9,33.1h0.8v0.8h-0.8zM309.2,35.7h0.8v0.8h-0.8zM311.8,33.9h0.8v0.8h-0.8zM306.5,37.7h0.8v0.8h-0.8zM307.7,36.2h0.8v0.8h-0.8zM304.2,37.9h0.8v0.8h-0.8zM308.5,37.0h0.8v0.8h-0.8zM310.5,35.3h0.8v0.8h-0.8zM310.0,37.0h0.8v0.8h-0.8zM310.0,36.9h0.8v0.8h-0.8zM307.1,33.7h0.8v0.8h-0.8zM310.4,32.0h0.8v0.8h-0.8zM307.6,32.5h0.8v0.8h-0.8zM308.4,34.7h0.8v0.8h-0.8zM308.0,35.6h0.8v0.8h-0.8zM305.3,38.9h0.8v0.8h-0.8zM309.6,36.4h0.8v0.8h-0.8zM307.7,33.8h0.8v0.8h-0.8zM308.4,35.1h0.8v0.8h-0.8zM309.7,32.5h0.8v0.8h-0.8zM307.8,35.8h0.8v0.8h-0.8zM309.0,30.6h0.8v0.8h-0.8zM306.2,35.0h0.8v0.8h-0.8zM313.6,32.5h0.8v0.8h-0.8zM311.1,33.2h0.8v0.8h-0.8zM307.9,37.2h0.8v0.8h-0.8zM307.3,33.8h0.8v0.8h-0.8zM311.5,29.0h0.8v0.8h-0.8zM312.0,31.9h0.8v0.8h-0.8zM307.3,35.8h0.8v0.8h-0.8zM307.5,35.6h0.8v0.8h-0.8zM306.5,33.7h0.8v0.8h-0.8zM313.9,28.9h0.8v0.8h-0.8zM310.9,32.3h0.8v0.8h-0.8zM309.1,31.4h0.8v0.8h-0.8zM303.7,32.0h0.8v0.8h-0.8zM311.5,32.8h0.8v0.8h-0.8zM307.5,37.0h0.8v0.8h-0.8zM313.1,36.4h0.8v0.8h-0.8zM310.4,34.7h0.8v0.8h-0.8zM311.0,33.9h0.8v0.8h-0.8zM308.6,33.6h0.8v0.8h-0.8zM311.6,34.2h0.8v0.8h-0.8zM305.5,34.7h0.8v0.8h-0.8zM310.7,36.2h0.8v0.8h-0.8zM306.9,32.4h0.8v0.8h-0.8zM311.4,33.5h0.8v0.8h-0.8zM313.1,30.9h0.8v0.8h-0.8zM312.3,29.8h0.8v0.8h-0.8zM311.0,32.6h0.8v0.8h-0.8zM309.1,33.2h0.8v0.8h-0.8zM313.3,31.8h0.8v0.8h-0.8zM311.2,33.6h0.8v0.8h-0.8zM312.6,32.1h0.8v0.8h-0.8zM311.4,32.2h0.8v0.8h-0.8zM309.7,33.0h0.8v0.8h-0.8zM310.4,31.4h0.8v0.8h-0.8zM310.6,32.7h0.8v0.8h-0.8zM311.9,33.0h0.8v0.8h-0.8zM309.2,32.9h0.8v0.8h-0.8zM310.8,31.6h0.8v0.8h-0.8zM310.9,31.4h0.8v0.8h-0.8zM312.1,30.8h0.8v0.8h-0.8zM310.0,34.1h0.8v0.8h-0.8zM311.4,28.7h0.8v0.8h-0.8zM310.7,32.4h0.8v0.8h-0.8zM313.3,32.5h0.8v0.8h-0.8zM309.4,30.9h0.8v0.8h-0.8zM312.4,32.4h0.8v0.8h-0.8zM311.4,31.8h0.8v0.8h-0.8zM311.7,35.3h0.8v0.8h-0.8zM308.1,32.1h0.8v0.8h-0.8zM312.2,31.4h0.8v0.8h-0.8zM311.9,31.8h0.8v0.8h-0.8zM314.0,31.8h0.8v0.8h-0.8zM310.9,33.7h0.8v0.8h-0.8zM308.0,31.8h0.8v0.8h-0.8zM312.0,30.5h0.8v0.8h-0.8zM308.1,34.4h0.8v0.8h-0.8zM310.4,33.4h0.8v0.8h-0.8zM310.1,31.5h0.8v0.8h-0.8zM310.5,33.7h0.8v0.8h-0.8zM309.8,33.3h0.8v0.8h-0.8zM309.9,33.6h0.8v0.8h-0.8zM313.5,30.9h0.8v0.8h-0.8zM312.5,31.5h0.8v0.8h-0.8zM309.4,32.9h0.8v0.8h-0.8zM311.2,32.5h0.8v0.8h-0.8zM310.5,33.4h0.8v0.8h-0.8zM310.0,33.0h0.8v0.8h-0.8zM309.9,31.1h0.8v0.8h-0.8zM312.1,31.2h0.8v0.8h-0.8zM310.9,32.1h0.8v0.8h-0.8zM307.1,33.1h0.8v0.8h-0.8zM310.5,34.1h0.8v0.8h-0.8zM310.6,33.4h0.8v0.8h-0.8zM308.9,32.5h0.8v0.8h-0.8zM311.1,33.7h0.8v0.8h-0.8zM308.6,33.8h0.8v0.8h-0.8zM311.4,31.9h0.8v0.8h-0.8zM311.4,32.9h0.8v0.8h-0.8zM310.4,31.0h0.8v0.8h-0.8zM311.0,30.8h0.8v0.8h-0.8zM311.5,33.9h0.8v0.8h-0.8zM315.0,31.0h0.8v0.8h-0.8zM310.7,31.0h0.8v0.8h-0.8zM311.2,34.5h0.8v0.8h-0.8zM310.1,30.6h0.8v0.8h-0.8zM313.2,31.1h0.8v0.8h-0.8zM312.8,31.2h0.8v0.8h-0.8zM307.6,33.8h0.8v0.8h-0.8zM310.5,32.2h0.8v0.8h-0.8zM312.2,30.0h0.8v0.8h-0.8zM310.6,32.2h0.8v0.8h-0.8zM309.9,31.3h0.8v0.8h-0.8zM307.3,31.1h0.8v0.8h-0.8zM311.1,31.7h0.8v0.8h-0.8zM310.2,31.0h0.8v0.8h-0.8zM310.1,31.3h0.8v0.8h-0.8zM309.8,33.6h0.8v0.8h-0.8zM312.1,32.1h0.8v0.8h-0.8zM310.5,31.9h0.8v0.8h-0.8zM313.5,31.9h0.8v0.8h-0.8zM309.2,31.9h0.8v0.8h-0.8zM311.5,32.1h0.8v0.8h-0.8zM311.5,35.3h0.8v0.8h-0.8zM307.6,33.6h0.8v0.8h-0.8zM311.9,32.9h0.8v0.8h-0.8zM308.2,33.7h0.8v0.8h-0.8zM313.7,32.0h0.8v0.8h-0.8zM310.5,32.5h0.8v0.8h-0.8zM310.0,33.5h0.8v0.8h-0.8zM307.9,31.4h0.8v0.8h-0.8zM309.0,33.8h0.8v0.8h-0.8zM310.0,34.6h0.8v0.8h-0.8zM313.2,31.8h0.8v0.8h-0.8zM312.5,32.6h0.8v0.8h-0.8zM311.8,32.7h0.8v0.8h-0.8zM312.0,32.4h0.8v0.8h-0.8zM309.0,32.6h0.8v0.8h-0.8zM310.2,34.0h0.8v0.8h-0.8zM310.8,30.9h0.8v0.8h-0.8zM309.1,32.7h0.8v0.8h-0.8zM311.8,31.2h0.8v0.8h-0.8zM310.0,31.8h0.8v0.8h-0.8zM311.9,33.8h0.8v0.8h-0.8zM309.7,32.6h0.8v0.8h-0.8zM313.5,31.1h0.8v0.8h-0.8zM310.3,34.4h0.8v0.8h-0.8zM309.7,34.0h0.8v0.8h-0.8zM306.9,33.9h0.8v0.8h-0.8zM311.5,30.7h0.8v0.8h-0.8zM310.0,33.0h0.8v0.8h-0.8zM310.5,31.8h0.8v0.8h-0.8zM311.4,34.6h0.8v0.8h-0.8zM312.9,31.0h0.8v0.8h-0.8zM309.0,32.9h0.8v0.8h-0.8zM310.8,33.0h0.8v0.8h-0.8zM312.4,30.1h0.8v0.8h-0.8zM310.7,31.6h0.8v0.8h-0.8zM310.5,31.4h0.8v0.8h-0.8zM312.2,32.9h0.8v0.8h-0.8zM310.1,32.3h0.8v0.8h-0.8zM309.9,30.9h0.8v0.8h-0.8zM312.0,29.1h0.8v0.8h-0.8zM309.7,31.8h0.8v0.8h-0.8zM312.3,30.2h0.8v0.8h-0.8zM311.7,34.5h0.8v0.8h-0.8zM310.1,31.6h0.8v0.8h-0.8zM311.0,32.4h0.8v0.8h-0.8zM309.8,32.8h0.8v0.8h-0.8zM311.1,33.1h0.8v0.8h-0.8zM312.4,32.2h0.8v0.8h-0.8zM311.3,33.1h0.8v0.8h-0.8zM311.5,33.5h0.8v0.8h-0.8zM311.0,31.4h0.8v0.8h-0.8zM311.2,29.5h0.8v0.8h-0.8zM309.0,32.5h0.8v0.8h-0.8zM309.7,31.2h0.8v0.8h-0.8zM307.9,31.7h0.8v0.8h-0.8zM304.6,38.0h0.8v0.8h-0.8zM307.2,39.6h0.8v0.8h-0.8zM303.1,40.1h0.8v0.8h-0.8zM304.6,39.9h0.8v0.8h-0.8zM303.2,40.0h0.8v0.8h-0.8zM305.8,38.4h0.8v0.8h-0.8zM303.5,38.4h0.8v0.8h-0.8zM304.8,41.2h0.8v0.8h-0.8zM306.7,40.3h0.8v0.8h-0.8zM304.2,38.5h0.8v0.8h-0.8zM305.0,38.5h0.8v0.8h-0.8zM303.9,38.6h0.8v0.8h-0.8zM305.5,38.7h0.8v0.8h-0.8zM304.8,38.5h0.8v0.8h-0.8zM304.3,38.5h0.8v0.8h-0.8zM310.4,45.6h0.8v0.8h-0.8zM310.8,44.6h0.8v0.8h-0.8zM310.0,41.4h0.8v0.8h-0.8zM307.0,44.9h0.8v0.8h-0.8zM306.5,44.7h0.8v0.8h-0.8zM306.0,44.6h0.8v0.8h-0.8zM306.5,45.0h0.8v0.8h-0.8zM307.2,42.4h0.8v0.8h-0.8zM307.0,45.1h0.8v0.8h-0.8zM305.3,45.3h0.8v0.8h-0.8zM310.3,44.4h0.8v0.8h-0.8zM308.9,46.6h0.8v0.8h-0.8zM306.2,48.5h0.8v0.8h-0.8zM312.9,42.3h0.8v0.8h-0.8zM312.1,43.2h0.8v0.8h-0.8zM310.7,40.3h0.8v0.8h-0.8zM310.1,45.4h0.8v0.8h-0.8zM305.2,42.9h0.8v0.8h-0.8zM305.7,42.7h0.8v0.8h-0.8zM308.6,44.5h0.8v0.8h-0.8zM302.8,44.2h0.8v0.8h-0.8zM308.8,45.3h0.8v0.8h-0.8zM311.2,40.2h0.8v0.8h-0.8zM308.3,45.1h0.8v0.8h-0.8zM309.3,41.5h0.8v0.8h-0.8zM305.2,44.6h0.8v0.8h-0.8zM308.0,40.3h0.8v0.8h-0.8zM308.6,45.0h0.8v0.8h-0.8zM309.3,38.2h0.8v0.8h-0.8zM308.8,42.7h0.8v0.8h-0.8zM306.9,47.1h0.8v0.8h-0.8zM311.2,45.4h0.8v0.8h-0.8zM307.6,48.4h0.8v0.8h-0.8zM306.0,44.6h0.8v0.8h-0.8zM306.8,42.4h0.8v0.8h-0.8zM308.2,50.3h0.8v0.8h-0.8zM308.3,46.3h0.8v0.8h-0.8zM307.8,48.0h0.8v0.8h-0.8zM308.2,42.7h0.8v0.8h-0.8zM308.0,48.8h0.8v0.8h-0.8zM307.6,48.2h0.8v0.8h-0.8zM307.7,50.3h0.8v0.8h-0.8zM308.4,46.7h0.8v0.8h-0.8zM307.2,47.2h0.8v0.8h-0.8zM307.4,41.1h0.8v0.8h-0.8zM309.4,61.1h0.8v0.8h-0.8zM312.3,67.6h0.8v0.8h-0.8zM308.7,67.2h0.8v0.8h-0.8zM302.1,70.0h0.8v0.8h-0.8zM307.0,67.2h0.8v0.8h-0.8zM315.1,59.8h0.8v0.8h-0.8zM307.6,66.1h0.8v0.8h-0.8zM309.7,59.6h0.8v0.8h-0.8zM306.3,69.8h0.8v0.8h-0.8zM307.1,66.8h0.8v0.8h-0.8zM305.2,62.1h0.8v0.8h-0.8zM304.0,65.9h0.8v0.8h-0.8zM311.5,65.3h0.8v0.8h-0.8zM307.9,65.8h0.8v0.8h-0.8zM309.8,64.1h0.8v0.8h-0.8zM310.0,71.3h0.8v0.8h-0.8zM314.2,63.2h0.8v0.8h-0.8zM305.4,71.2h0.8v0.8h-0.8zM311.1,68.9h0.8v0.8h-0.8zM310.1,64.3h0.8v0.8h-0.8zM311.1,68.6h0.8v0.8h-0.8zM311.6,61.5h0.8v0.8h-0.8zM311.2,63.9h0.8v0.8h-0.8zM307.7,66.2h0.8v0.8h-0.8zM310.0,65.9h0.8v0.8h-0.8zM308.1,65.8h0.8v0.8h-0.8zM308.0,66.9h0.8v0.8h-0.8zM310.8,67.7h0.8v0.8h-0.8zM305.5,64.0h0.8v0.8h-0.8zM308.8,61.1h0.8v0.8h-0.8zM309.6,64.6h0.8v0.8h-0.8zM308.8,66.3h0.8v0.8h-0.8zM307.1,70.0h0.8v0.8h-0.8zM311.2,63.3h0.8v0.8h-0.8zM309.8,67.4h0.8v0.8h-0.8zM306.7,63.9h0.8v0.8h-0.8zM310.4,56.7h0.8v0.8h-0.8zM305.3,66.1h0.8v0.8h-0.8zM310.2,62.1h0.8v0.8h-0.8zM309.2,64.9h0.8v0.8h-0.8zM308.8,61.8h0.8v0.8h-0.8zM310.0,65.6h0.8v0.8h-0.8zM310.5,69.6h0.8v0.8h-0.8zM308.7,65.6h0.8v0.8h-0.8zM309.4,70.6h0.8v0.8h-0.8zM305.0,65.0h0.8v0.8h-0.8zM307.1,65.4h0.8v0.8h-0.8zM310.7,65.3h0.8v0.8h-0.8zM310.5,65.6h0.8v0.8h-0.8zM306.8,62.9h0.8v0.8h-0.8zM305.2,65.8h0.8v0.8h-0.8zM307.6,67.7h0.8v0.8h-0.8zM311.1,62.2h0.8v0.8h-0.8zM305.9,67.0h0.8v0.8h-0.8zM306.4,65.7h0.8v0.8h-0.8zM310.2,63.8h0.8v0.8h-0.8zM313.1,62.5h0.8v0.8h-0.8zM309.7,63.7h0.8v0.8h-0.8zM301.4,64.5h0.8v0.8h-0.8zM308.2,66.9h0.8v0.8h-0.8zM308.3,62.7h0.8v0.8h-0.8zM307.3,64.1h0.8v0.8h-0.8zM310.5,64.2h0.8v0.8h-0.8zM311.7,67.8h0.8v0.8h-0.8zM306.8,68.4h0.8v0.8h-0.8zM302.9,65.1h0.8v0.8h-0.8zM306.2,64.7h0.8v0.8h-0.8zM311.5,65.0h0.8v0.8h-0.8zM308.2,69.2h0.8v0.8h-0.8zM306.7,62.4h0.8v0.8h-0.8zM311.1,67.0h0.8v0.8h-0.8zM305.0,65.5h0.8v0.8h-0.8zM310.6,64.5h0.8v0.8h-0.8zM307.6,65.5h0.8v0.8h-0.8zM309.2,62.8h0.8v0.8h-0.8zM310.7,60.0h0.8v0.8h-0.8zM306.0,64.9h0.8v0.8h-0.8zM302.9,62.4h0.8v0.8h-0.8zM305.7,65.2h0.8v0.8h-0.8zM307.4,70.9h0.8v0.8h-0.8zM306.3,64.9h0.8v0.8h-0.8zM309.2,67.1h0.8v0.8h-0.8zM310.9,60.0h0.8v0.8h-0.8zM314.1,64.0h0.8v0.8h-0.8zM306.8,59.8h0.8v0.8h-0.8zM307.5,59.3h0.8v0.8h-0.8zM309.1,63.1h0.8v0.8h-0.8zM309.4,62.5h0.8v0.8h-0.8zM311.6,65.5h0.8v0.8h-0.8zM306.2,69.7h0.8v0.8h-0.8zM304.4,60.5h0.8v0.8h-0.8zM311.9,63.1h0.8v0.8h-0.8zM312.0,66.9h0.8v0.8h-0.8zM314.1,70.8h0.8v0.8h-0.8zM310.1,63.0h0.8v0.8h-0.8zM310.1,69.5h0.8v0.8h-0.8zM309.0,55.7h0.8v0.8h-0.8zM307.7,63.8h0.8v0.8h-0.8zM308.5,63.9h0.8v0.8h-0.8zM311.5,61.0h0.8v0.8h-0.8zM309.7,58.7h0.8v0.8h-0.8zM303.2,61.8h0.8v0.8h-0.8zM306.7,62.1h0.8v0.8h-0.8zM306.9,67.0h0.8v0.8h-0.8zM310.1,65.3h0.8v0.8h-0.8zM309.1,62.8h0.8v0.8h-0.8zM306.1,60.5h0.8v0.8h-0.8zM307.6,61.4h0.8v0.8h-0.8zM307.8,67.3h0.8v0.8h-0.8zM310.0,69.3h0.8v0.8h-0.8zM306.3,58.0h0.8v0.8h-0.8zM305.8,71.4h0.8v0.8h-0.8zM310.4,63.6h0.8v0.8h-0.8zM311.9,63.7h0.8v0.8h-0.8zM312.8,63.7h0.8v0.8h-0.8zM307.6,67.2h0.8v0.8h-0.8zM305.7,64.5h0.8v0.8h-0.8zM313.5,66.4h0.8v0.8h-0.8zM305.8,64.2h0.8v0.8h-0.8zM308.5,62.6h0.8v0.8h-0.8zM309.6,69.0h0.8v0.8h-0.8zM308.7,67.8h0.8v0.8h-0.8zM309.3,65.4h0.8v0.8h-0.8zM306.7,68.1h0.8v0.8h-0.8zM312.0,63.6h0.8v0.8h-0.8zM306.4,66.7h0.8v0.8h-0.8zM308.9,68.6h0.8v0.8h-0.8zM309.8,64.6h0.8v0.8h-0.8zM305.1,67.0h0.8v0.8h-0.8zM308.8,60.9h0.8v0.8h-0.8zM304.9,59.1h0.8v0.8h-0.8zM310.2,63.6h0.8v0.8h-0.8zM300.3,62.2h0.8v0.8h-0.8zM307.0,64.6h0.8v0.8h-0.8zM308.7,63.9h0.8v0.8h-0.8zM310.5,68.3h0.8v0.8h-0.8zM308.0,70.1h0.8v0.8h-0.8zM308.3,62.2h0.8v0.8h-0.8zM309.0,60.4h0.8v0.8h-0.8zM307.8,61.6h0.8v0.8h-0.8zM307.5,65.6h0.8v0.8h-0.8zM302.5,66.3h0.8v0.8h-0.8zM309.2,64.3h0.8v0.8h-0.8zM310.4,66.1h0.8v0.8h-0.8zM307.7,61.8h0.8v0.8h-0.8zM310.4,67.4h0.8v0.8h-0.8zM304.9,62.7h0.8v0.8h-0.8zM305.6,67.7h0.8v0.8h-0.8zM307.2,61.0h0.8v0.8h-0.8zM312.4,66.4h0.8v0.8h-0.8zM309.2,65.8h0.8v0.8h-0.8zM308.1,65.1h0.8v0.8h-0.8zM310.8,66.4h0.8v0.8h-0.8zM307.4,65.3h0.8v0.8h-0.8zM313.3,63.2h0.8v0.8h-0.8zM305.3,65.4h0.8v0.8h-0.8zM310.2,66.9h0.8v0.8h-0.8zM309.5,71.3h0.8v0.8h-0.8zM306.0,64.8h0.8v0.8h-0.8zM304.4,69.0h0.8v0.8h-0.8zM308.4,70.7h0.8v0.8h-0.8zM307.9,61.6h0.8v0.8h-0.8zM306.8,67.6h0.8v0.8h-0.8zM306.5,65.8h0.8v0.8h-0.8zM306.8,62.7h0.8v0.8h-0.8zM307.2,70.2h0.8v0.8h-0.8zM305.9,66.0h0.8v0.8h-0.8zM310.6,62.6h0.8v0.8h-0.8zM304.8,69.8h0.8v0.8h-0.8zM312.9,64.2h0.8v0.8h-0.8zM305.6,67.8h0.8v0.8h-0.8zM308.5,62.3h0.8v0.8h-0.8zM307.6,57.3h0.8v0.8h-0.8zM306.5,61.1h0.8v0.8h-0.8zM305.3,66.8h0.8v0.8h-0.8zM309.2,70.4h0.8v0.8h-0.8zM301.8,62.8h0.8v0.8h-0.8zM306.5,69.2h0.8v0.8h-0.8zM311.2,65.3h0.8v0.8h-0.8zM308.8,62.5h0.8v0.8h-0.8zM307.3,63.5h0.8v0.8h-0.8zM302.2,71.1h0.8v0.8h-0.8zM310.4,71.7h0.8v0.8h-0.8zM311.7,66.6h0.8v0.8h-0.8zM310.7,59.5h0.8v0.8h-0.8zM306.0,67.7h0.8v0.8h-0.8zM307.6,59.7h0.8v0.8h-0.8zM308.5,60.8h0.8v0.8h-0.8zM308.6,70.0h0.8v0.8h-0.8zM305.7,63.5h0.8v0.8h-0.8zM309.9,64.9h0.8v0.8h-0.8zM309.0,62.2h0.8v0.8h-0.8zM307.7,57.2h0.8v0.8h-0.8zM308.1,69.1h0.8v0.8h-0.8zM305.7,64.3h0.8v0.8h-0.8zM310.3,68.9h0.8v0.8h-0.8zM311.5,62.1h0.8v0.8h-0.8zM307.5,70.6h0.8v0.8h-0.8zM307.4,65.9h0.8v0.8h-0.8zM306.4,62.8h0.8v0.8h-0.8zM301.0,63.2h0.8v0.8h-0.8zM303.0,61.7h0.8v0.8h-0.8zM306.1,69.3h0.8v0.8h-0.8zM310.5,66.2h0.8v0.8h-0.8zM307.2,60.4h0.8v0.8h-0.8zM309.8,62.2h0.8v0.8h-0.8zM308.3,68.0h0.8v0.8h-0.8zM308.1,64.8h0.8v0.8h-0.8zM306.0,68.3h0.8v0.8h-0.8zM309.9,67.2h0.8v0.8h-0.8zM312.7,59.7h0.8v0.8h-0.8zM308.6,67.0h0.8v0.8h-0.8zM309.4,65.9h0.8v0.8h-0.8zM309.7,60.0h0.8v0.8h-0.8zM308.3,68.7h0.8v0.8h-0.8zM308.4,64.3h0.8v0.8h-0.8zM310.7,59.2h0.8v0.8h-0.8zM309.5,69.8h0.8v0.8h-0.8zM307.9,62.2h0.8v0.8h-0.8zM309.9,63.4h0.8v0.8h-0.8zM306.5,65.5h0.8v0.8h-0.8zM304.3,67.1h0.8v0.8h-0.8zM305.5,63.1h0.8v0.8h-0.8zM310.4,64.8h0.8v0.8h-0.8zM309.2,69.4h0.8v0.8h-0.8zM312.4,71.7h0.8v0.8h-0.8zM307.1,67.9h0.8v0.8h-0.8zM304.3,67.5h0.8v0.8h-0.8zM311.8,62.6h0.8v0.8h-0.8zM309.7,67.6h0.8v0.8h-0.8zM308.1,62.9h0.8v0.8h-0.8zM312.4,60.6h0.8v0.8h-0.8zM309.0,68.0h0.8v0.8h-0.8zM309.1,70.1h0.8v0.8h-0.8zM312.3,66.4h0.8v0.8h-0.8zM313.0,67.4h0.8v0.8h-0.8zM305.4,63.9h0.8v0.8h-0.8zM309.2,65.5h0.8v0.8h-0.8zM304.6,61.3h0.8v0.8h-0.8zM309.7,65.6h0.8v0.8h-0.8zM312.4,65.6h0.8v0.8h-0.8zM309.5,67.3h0.8v0.8h-0.8zM306.7,60.7h0.8v0.8h-0.8zM307.4,68.2h0.8v0.8h-0.8zM307.8,69.0h0.8v0.8h-0.8zM307.1,67.4h0.8v0.8h-0.8zM308.6,67.7h0.8v0.8h-0.8zM308.6,65.6h0.8v0.8h-0.8zM307.4,69.0h0.8v0.8h-0.8zM308.5,66.6h0.8v0.8h-0.8zM310.2,62.0h0.8v0.8h-0.8zM306.4,64.8h0.8v0.8h-0.8zM311.8,61.5h0.8v0.8h-0.8zM306.0,61.7h0.8v0.8h-0.8zM307.6,61.5h0.8v0.8h-0.8zM306.5,66.7h0.8v0.8h-0.8zM305.8,64.9h0.8v0.8h-0.8zM305.6,64.3h0.8v0.8h-0.8zM309.9,58.4h0.8v0.8h-0.8zM308.7,65.7h0.8v0.8h-0.8zM308.4,65.8h0.8v0.8h-0.8zM309.6,60.7h0.8v0.8h-0.8zM308.2,67.0h0.8v0.8h-0.8zM311.8,60.5h0.8v0.8h-0.8zM307.0,60.5h0.8v0.8h-0.8zM308.5,61.5h0.8v0.8h-0.8zM306.1,67.4h0.8v0.8h-0.8zM314.2,58.3h0.8v0.8h-0.8zM312.7,62.0h0.8v0.8h-0.8zM310.3,66.1h0.8v0.8h-0.8zM311.7,64.3h0.8v0.8h-0.8zM306.5,64.7h0.8v0.8h-0.8zM310.6,62.1h0.8v0.8h-0.8zM309.6,64.9h0.8v0.8h-0.8zM309.0,65.0h0.8v0.8h-0.8zM310.1,67.6h0.8v0.8h-0.8zM307.8,63.8h0.8v0.8h-0.8zM303.1,62.1h0.8v0.8h-0.8zM304.7,67.1h0.8v0.8h-0.8zM305.8,62.7h0.8v0.8h-0.8zM309.9,68.2h0.8v0.8h-0.8zM311.6,62.2h0.8v0.8h-0.8zM309.2,68.4h0.8v0.8h-0.8zM306.4,64.2h0.8v0.8h-0.8zM305.5,62.9h0.8v0.8h-0.8zM310.4,65.3h0.8v0.8h-0.8zM307.6,63.1h0.8v0.8h-0.8zM312.4,67.4h0.8v0.8h-0.8zM307.5,64.5h0.8v0.8h-0.8zM307.3,63.1h0.8v0.8h-0.8zM310.2,60.3h0.8v0.8h-0.8zM308.6,63.9h0.8v0.8h-0.8zM313.0,66.2h0.8v0.8h-0.8zM309.7,66.7h0.8v0.8h-0.8zM310.1,65.4h0.8v0.8h-0.8zM302.4,66.3h0.8v0.8h-0.8zM307.8,67.2h0.8v0.8h-0.8zM309.4,63.2h0.8v0.8h-0.8zM306.3,61.7h0.8v0.8h-0.8zM309.3,64.6h0.8v0.8h-0.8zM306.3,63.8h0.8v0.8h-0.8zM309.5,62.8h0.8v0.8h-0.8zM308.3,63.0h0.8v0.8h-0.8zM302.0,65.3h0.8v0.8h-0.8zM308.7,67.6h0.8v0.8h-0.8zM311.9,62.6h0.8v0.8h-0.8zM310.1,65.8h0.8v0.8h-0.8zM308.8,67.6h0.8v0.8h-0.8zM310.8,60.9h0.8v0.8h-0.8zM312.3,64.4h0.8v0.8h-0.8zM306.9,62.7h0.8v0.8h-0.8zM308.0,61.3h0.8v0.8h-0.8zM311.3,66.3h0.8v0.8h-0.8zM306.3,67.6h0.8v0.8h-0.8zM309.2,65.2h0.8v0.8h-0.8zM311.0,64.7h0.8v0.8h-0.8zM307.9,66.6h0.8v0.8h-0.8zM304.0,61.1h0.8v0.8h-0.8zM309.8,68.4h0.8v0.8h-0.8zM304.3,65.0h0.8v0.8h-0.8zM306.9,64.1h0.8v0.8h-0.8zM310.1,69.8h0.8v0.8h-0.8zM313.0,68.0h0.8v0.8h-0.8zM310.2,65.4h0.8v0.8h-0.8zM303.9,66.2h0.8v0.8h-0.8zM305.6,61.4h0.8v0.8h-0.8zM308.9,59.9h0.8v0.8h-0.8zM313.0,66.9h0.8v0.8h-0.8zM309.5,66.5h0.8v0.8h-0.8zM309.2,65.2h0.8v0.8h-0.8zM310.4,62.8h0.8v0.8h-0.8zM309.3,65.5h0.8v0.8h-0.8zM310.5,61.4h0.8v0.8h-0.8zM309.2,64.6h0.8v0.8h-0.8zM310.2,66.7h0.8v0.8h-0.8zM309.0,66.5h0.8v0.8h-0.8zM309.7,69.4h0.8v0.8h-0.8zM309.3,66.7h0.8v0.8h-0.8zM306.2,64.3h0.8v0.8h-0.8zM310.5,68.3h0.8v0.8h-0.8zM306.1,64.8h0.8v0.8h-0.8zM307.9,65.1h0.8v0.8h-0.8zM307.4,63.6h0.8v0.8h-0.8zM308.4,65.4h0.8v0.8h-0.8zM311.1,62.2h0.8v0.8h-0.8zM306.2,67.5h0.8v0.8h-0.8zM309.8,64.4h0.8v0.8h-0.8zM305.7,68.4h0.8v0.8h-0.8zM305.9,68.6h0.8v0.8h-0.8zM309.2,64.5h0.8v0.8h-0.8zM308.2,67.6h0.8v0.8h-0.8zM308.6,59.4h0.8v0.8h-0.8zM306.8,58.1h0.8v0.8h-0.8zM309.6,67.9h0.8v0.8h-0.8zM311.2,60.7h0.8v0.8h-0.8zM313.9,70.8h0.8v0.8h-0.8zM308.3,58.6h0.8v0.8h-0.8zM306.4,68.3h0.8v0.8h-0.8zM313.8,63.2h0.8v0.8h-0.8zM304.0,61.9h0.8v0.8h-0.8zM313.4,65.0h0.8v0.8h-0.8zM305.1,58.3h0.8v0.8h-0.8zM310.2,67.6h0.8v0.8h-0.8zM307.4,64.3h0.8v0.8h-0.8zM308.8,63.9h0.8v0.8h-0.8zM307.2,63.1h0.8v0.8h-0.8zM307.1,68.9h0.8v0.8h-0.8zM309.6,68.3h0.8v0.8h-0.8zM313.2,57.6h0.8v0.8h-0.8zM308.4,68.0h0.8v0.8h-0.8zM308.0,63.1h0.8v0.8h-0.8zM309.6,63.3h0.8v0.8h-0.8zM306.5,64.0h0.8v0.8h-0.8zM308.7,65.0h0.8v0.8h-0.8zM310.8,65.0h0.8v0.8h-0.8zM308.0,64.1h0.8v0.8h-0.8zM308.2,62.7h0.8v0.8h-0.8zM304.6,65.6h0.8v0.8h-0.8zM312.2,59.1h0.8v0.8h-0.8zM306.7,66.3h0.8v0.8h-0.8zM306.9,66.7h0.8v0.8h-0.8zM308.5,61.4h0.8v0.8h-0.8zM308.0,63.3h0.8v0.8h-0.8zM309.9,56.8h0.8v0.8h-0.8zM309.6,69.2h0.8v0.8h-0.8zM309.0,65.7h0.8v0.8h-0.8zM307.2,66.0h0.8v0.8h-0.8zM308.2,60.9h0.8v0.8h-0.8zM305.6,57.5h0.8v0.8h-0.8zM309.7,65.5h0.8v0.8h-0.8zM311.3,65.8h0.8v0.8h-0.8zM310.3,60.7h0.8v0.8h-0.8zM303.9,63.1h0.8v0.8h-0.8zM307.8,66.1h0.8v0.8h-0.8zM308.2,64.4h0.8v0.8h-0.8zM308.7,65.8h0.8v0.8h-0.8zM309.1,66.0h0.8v0.8h-0.8zM307.3,64.7h0.8v0.8h-0.8zM304.9,61.4h0.8v0.8h-0.8zM307.9,66.3h0.8v0.8h-0.8zM306.7,60.5h0.8v0.8h-0.8zM311.0,62.3h0.8v0.8h-0.8zM304.3,61.9h0.8v0.8h-0.8zM305.6,57.2h0.8v0.8h-0.8zM307.6,70.4h0.8v0.8h-0.8zM306.7,62.3h0.8v0.8h-0.8zM311.4,65.2h0.8v0.8h-0.8zM308.3,69.3h0.8v0.8h-0.8zM305.6,64.8h0.8v0.8h-0.8zM309.8,65.6h0.8v0.8h-0.8zM305.6,62.0h0.8v0.8h-0.8zM313.0,64.7h0.8v0.8h-0.8zM307.9,68.4h0.8v0.8h-0.8zM304.1,64.8h0.8v0.8h-0.8zM304.2,69.4h0.8v0.8h-0.8zM306.1,65.3h0.8v0.8h-0.8zM306.3,65.4h0.8v0.8h-0.8zM309.4,65.0h0.8v0.8h-0.8zM307.8,65.8h0.8v0.8h-0.8zM308.0,63.4h0.8v0.8h-0.8zM310.2,67.7h0.8v0.8h-0.8zM305.2,61.7h0.8v0.8h-0.8zM306.6,65.9h0.8v0.8h-0.8zM305.1,69.9h0.8v0.8h-0.8zM308.7,65.5h0.8v0.8h-0.8zM310.8,62.6h0.8v0.8h-0.8zM309.5,66.3h0.8v0.8h-0.8zM311.8,61.6h0.8v0.8h-0.8zM312.0,66.9h0.8v0.8h-0.8zM309.2,68.4h0.8v0.8h-0.8zM308.0,64.4h0.8v0.8h-0.8zM310.7,63.9h0.8v0.8h-0.8zM311.3,69.4h0.8v0.8h-0.8zM309.1,65.6h0.8v0.8h-0.8zM307.0,62.1h0.8v0.8h-0.8zM312.2,61.7h0.8v0.8h-0.8zM308.8,65.9h0.8v0.8h-0.8zM306.4,62.8h0.8v0.8h-0.8zM306.8,71.8h0.8v0.8h-0.8zM309.5,69.4h0.8v0.8h-0.8zM313.7,68.2h0.8v0.8h-0.8zM311.9,63.6h0.8v0.8h-0.8zM306.9,69.6h0.8v0.8h-0.8zM312.3,61.8h0.8v0.8h-0.8zM311.5,66.0h0.8v0.8h-0.8zM310.6,68.1h0.8v0.8h-0.8zM313.4,63.0h0.8v0.8h-0.8zM308.6,69.1h0.8v0.8h-0.8zM308.0,66.8h0.8v0.8h-0.8zM308.4,59.6h0.8v0.8h-0.8zM307.2,67.9h0.8v0.8h-0.8zM307.3,60.1h0.8v0.8h-0.8zM307.4,65.4h0.8v0.8h-0.8zM309.9,66.1h0.8v0.8h-0.8zM310.0,61.7h0.8v0.8h-0.8zM307.1,62.6h0.8v0.8h-0.8zM307.5,66.5h0.8v0.8h-0.8zM312.0,64.3h0.8v0.8h-0.8zM311.3,68.6h0.8v0.8h-0.8zM305.8,62.5h0.8v0.8h-0.8zM309.0,60.7h0.8v0.8h-0.8zM313.3,59.1h0.8v0.8h-0.8zM305.6,67.6h0.8v0.8h-0.8zM306.8,67.3h0.8v0.8h-0.8zM306.2,68.4h0.8v0.8h-0.8zM307.2,67.4h0.8v0.8h-0.8zM311.2,60.3h0.8v0.8h-0.8zM306.4,59.5h0.8v0.8h-0.8zM305.9,68.0h0.8v0.8h-0.8zM308.6,67.8h0.8v0.8h-0.8zM312.2,68.4h0.8v0.8h-0.8zM310.5,63.7h0.8v0.8h-0.8zM307.7,66.1h0.8v0.8h-0.8zM310.8,68.6h0.8v0.8h-0.8zM309.4,64.2h0.8v0.8h-0.8zM308.5,70.4h0.8v0.8h-0.8zM309.4,71.5h0.8v0.8h-0.8zM306.9,67.9h0.8v0.8h-0.8zM309.2,67.5h0.8v0.8h-0.8zM306.8,66.2h0.8v0.8h-0.8zM308.5,64.2h0.8v0.8h-0.8zM305.7,60.6h0.8v0.8h-0.8zM307.8,66.9h0.8v0.8h-0.8zM309.3,65.9h0.8v0.8h-0.8zM309.5,60.8h0.8v0.8h-0.8zM311.3,65.3h0.8v0.8h-0.8zM306.8,63.4h0.8v0.8h-0.8zM311.2,65.7h0.8v0.8h-0.8zM305.0,70.6h0.8v0.8h-0.8zM310.8,61.9h0.8v0.8h-0.8zM311.8,69.1h0.8v0.8h-0.8zM311.3,67.2h0.8v0.8h-0.8zM309.5,65.8h0.8v0.8h-0.8zM307.4,66.0h0.8v0.8h-0.8zM311.9,64.8h0.8v0.8h-0.8zM313.6,60.2h0.8v0.8h-0.8zM308.8,60.4h0.8v0.8h-0.8zM304.3,65.9h0.8v0.8h-0.8zM307.9,63.4h0.8v0.8h-0.8zM306.1,64.4h0.8v0.8h-0.8zM304.7,64.5h0.8v0.8h-0.8zM307.4,61.1h0.8v0.8h-0.8zM309.7,59.2h0.8v0.8h-0.8zM309.8,66.0h0.8v0.8h-0.8zM310.0,65.6h0.8v0.8h-0.8zM310.7,64.3h0.8v0.8h-0.8zM306.0,66.3h0.8v0.8h-0.8zM306.7,64.0h0.8v0.8h-0.8zM309.0,62.2h0.8v0.8h-0.8zM311.1,60.2h0.8v0.8h-0.8zM311.7,65.0h0.8v0.8h-0.8zM312.9,68.7h0.8v0.8h-0.8zM310.4,66.1h0.8v0.8h-0.8zM309.0,60.8h0.8v0.8h-0.8zM307.3,62.1h0.8v0.8h-0.8zM306.9,64.7h0.8v0.8h-0.8zM306.7,65.6h0.8v0.8h-0.8zM308.1,63.6h0.8v0.8h-0.8zM309.7,66.6h0.8v0.8h-0.8zM305.4,64.1h0.8v0.8h-0.8zM316.0,65.2h0.8v0.8h-0.8zM309.8,62.3h0.8v0.8h-0.8zM311.1,70.0h0.8v0.8h-0.8zM310.1,64.7h0.8v0.8h-0.8zM308.8,59.1h0.8v0.8h-0.8zM310.2,64.2h0.8v0.8h-0.8zM309.7,66.3h0.8v0.8h-0.8zM311.0,63.1h0.8v0.8h-0.8zM310.2,67.1h0.8v0.8h-0.8zM308.8,69.6h0.8v0.8h-0.8zM307.8,59.6h0.8v0.8h-0.8zM306.1,66.4h0.8v0.8h-0.8zM306.2,65.6h0.8v0.8h-0.8zM304.9,66.4h0.8v0.8h-0.8zM308.1,62.2h0.8v0.8h-0.8zM307.3,64.3h0.8v0.8h-0.8zM311.0,65.9h0.8v0.8h-0.8zM308.2,65.6h0.8v0.8h-0.8zM310.9,66.6h0.8v0.8h-0.8zM313.1,62.8h0.8v0.8h-0.8zM310.7,65.5h0.8v0.8h-0.8zM307.1,67.0h0.8v0.8h-0.8zM310.8,68.2h0.8v0.8h-0.8zM309.9,62.3h0.8v0.8h-0.8zM309.1,66.4h0.8v0.8h-0.8zM312.8,65.5h0.8v0.8h-0.8zM309.1,70.1h0.8v0.8h-0.8zM308.9,63.7h0.8v0.8h-0.8zM309.4,67.6h0.8v0.8h-0.8zM309.1,59.8h0.8v0.8h-0.8zM307.7,68.3h0.8v0.8h-0.8zM306.9,67.9h0.8v0.8h-0.8zM309.1,62.6h0.8v0.8h-0.8zM310.7,58.3h0.8v0.8h-0.8zM303.5,60.2h0.8v0.8h-0.8zM310.0,64.3h0.8v0.8h-0.8zM310.3,64.9h0.8v0.8h-0.8zM309.0,63.5h0.8v0.8h-0.8zM307.7,68.3h0.8v0.8h-0.8zM310.6,60.9h0.8v0.8h-0.8zM310.1,71.5h0.8v0.8h-0.8zM310.6,62.1h0.8v0.8h-0.8zM310.5,65.8h0.8v0.8h-0.8zM307.9,68.2h0.8v0.8h-0.8zM311.7,63.5h0.8v0.8h-0.8zM309.0,63.9h0.8v0.8h-0.8zM308.7,70.2h0.8v0.8h-0.8zM307.6,66.9h0.8v0.8h-0.8zM309.3,65.4h0.8v0.8h-0.8zM305.9,67.1h0.8v0.8h-0.8zM306.0,67.4h0.8v0.8h-0.8zM308.5,65.6h0.8v0.8h-0.8zM307.6,62.4h0.8v0.8h-0.8zM306.2,65.2h0.8v0.8h-0.8zM308.5,66.0h0.8v0.8h-0.8zM308.0,67.6h0.8v0.8h-0.8zM309.1,65.5h0.8v0.8h-0.8zM308.1,65.1h0.8v0.8h-0.8zM310.3,62.9h0.8v0.8h-0.8zM305.7,66.4h0.8v0.8h-0.8zM309.7,65.2h0.8v0.8h-0.8zM309.3,61.0h0.8v0.8h-0.8zM306.3,65.1h0.8v0.8h-0.8zM308.6,61.2h0.8v0.8h-0.8zM309.8,59.1h0.8v0.8h-0.8zM311.8,61.8h0.8v0.8h-0.8zM307.3,61.8h0.8v0.8h-0.8zM305.4,64.1h0.8v0.8h-0.8zM304.0,64.1h0.8v0.8h-0.8zM309.1,64.2h0.8v0.8h-0.8zM308.6,60.6h0.8v0.8h-0.8zM304.1,60.9h0.8v0.8h-0.8zM311.3,66.1h0.8v0.8h-0.8zM304.3,70.5h0.8v0.8h-0.8zM310.2,68.5h0.8v0.8h-0.8zM311.2,69.2h0.8v0.8h-0.8zM304.5,65.4h0.8v0.8h-0.8zM306.8,71.2h0.8v0.8h-0.8zM310.4,65.1h0.8v0.8h-0.8zM308.1,58.5h0.8v0.8h-0.8zM308.9,62.5h0.8v0.8h-0.8zM312.0,67.4h0.8v0.8h-0.8zM308.5,63.9h0.8v0.8h-0.8zM311.4,63.4h0.8v0.8h-0.8zM311.4,65.8h0.8v0.8h-0.8zM308.0,66.3h0.8v0.8h-0.8zM313.0,60.1h0.8v0.8h-0.8zM310.5,67.4h0.8v0.8h-0.8zM308.1,69.7h0.8v0.8h-0.8zM310.3,66.8h0.8v0.8h-0.8zM306.2,66.9h0.8v0.8h-0.8zM305.5,66.7h0.8v0.8h-0.8zM314.0,62.3h0.8v0.8h-0.8zM312.5,61.7h0.8v0.8h-0.8zM308.9,67.4h0.8v0.8h-0.8zM305.1,66.1h0.8v0.8h-0.8zM306.8,63.2h0.8v0.8h-0.8zM310.8,64.9h0.8v0.8h-0.8zM309.7,65.2h0.8v0.8h-0.8zM309.6,70.0h0.8v0.8h-0.8zM309.0,64.2h0.8v0.8h-0.8zM308.8,67.4h0.8v0.8h-0.8zM309.8,58.3h0.8v0.8h-0.8zM308.5,66.5h0.8v0.8h-0.8zM315.1,63.2h0.8v0.8h-0.8zM308.0,61.5h0.8v0.8h-0.8zM308.5,59.5h0.8v0.8h-0.8zM306.6,64.9h0.8v0.8h-0.8zM305.0,64.3h0.8v0.8h-0.8zM307.0,69.1h0.8v0.8h-0.8zM312.6,71.8h0.8v0.8h-0.8zM309.0,67.2h0.8v0.8h-0.8zM314.5,63.1h0.8v0.8h-0.8zM312.9,62.2h0.8v0.8h-0.8zM311.3,60.2h0.8v0.8h-0.8zM307.7,64.5h0.8v0.8h-0.8zM308.1,59.0h0.8v0.8h-0.8zM309.0,64.2h0.8v0.8h-0.8zM312.4,66.9h0.8v0.8h-0.8zM303.3,65.5h0.8v0.8h-0.8zM311.3,64.8h0.8v0.8h-0.8zM306.9,60.8h0.8v0.8h-0.8zM307.8,62.1h0.8v0.8h-0.8zM308.0,64.1h0.8v0.8h-0.8zM311.8,62.0h0.8v0.8h-0.8zM309.5,61.6h0.8v0.8h-0.8zM309.4,68.4h0.8v0.8h-0.8zM307.3,61.3h0.8v0.8h-0.8zM308.8,65.2h0.8v0.8h-0.8zM307.1,66.4h0.8v0.8h-0.8zM308.9,67.2h0.8v0.8h-0.8zM305.3,67.5h0.8v0.8h-0.8zM311.8,62.5h0.8v0.8h-0.8zM313.6,65.8h0.8v0.8h-0.8zM305.5,61.7h0.8v0.8h-0.8zM306.8,63.0h0.8v0.8h-0.8zM308.1,66.0h0.8v0.8h-0.8zM308.2,64.1h0.8v0.8h-0.8zM306.3,58.6h0.8v0.8h-0.8zM306.9,61.2h0.8v0.8h-0.8zM310.9,57.4h0.8v0.8h-0.8zM311.5,56.0h0.8v0.8h-0.8zM308.2,65.1h0.8v0.8h-0.8zM305.9,62.0h0.8v0.8h-0.8zM310.8,61.7h0.8v0.8h-0.8zM308.4,65.2h0.8v0.8h-0.8zM310.3,61.1h0.8v0.8h-0.8zM311.9,64.6h0.8v0.8h-0.8zM311.2,60.6h0.8v0.8h-0.8zM311.4,64.8h0.8v0.8h-0.8zM310.6,63.1h0.8v0.8h-0.8zM310.8,65.2h0.8v0.8h-0.8zM307.0,66.6h0.8v0.8h-0.8zM308.2,63.7h0.8v0.8h-0.8zM307.7,68.0h0.8v0.8h-0.8zM311.0,68.0h0.8v0.8h-0.8zM304.6,67.7h0.8v0.8h-0.8zM309.6,68.7h0.8v0.8h-0.8zM308.7,65.5h0.8v0.8h-0.8zM306.9,71.4h0.8v0.8h-0.8zM307.9,68.6h0.8v0.8h-0.8zM306.7,64.6h0.8v0.8h-0.8zM307.7,64.7h0.8v0.8h-0.8zM307.4,67.1h0.8v0.8h-0.8zM310.3,60.0h0.8v0.8h-0.8zM307.6,60.9h0.8v0.8h-0.8zM311.3,61.1h0.8v0.8h-0.8zM309.8,65.6h0.8v0.8h-0.8zM308.5,58.9h0.8v0.8h-0.8zM312.9,64.6h0.8v0.8h-0.8zM310.4,68.5h0.8v0.8h-0.8zM306.2,61.9h0.8v0.8h-0.8zM313.0,71.3h0.8v0.8h-0.8zM306.6,64.8h0.8v0.8h-0.8zM311.0,64.6h0.8v0.8h-0.8zM312.0,67.0h0.8v0.8h-0.8zM308.5,67.2h0.8v0.8h-0.8zM307.5,69.1h0.8v0.8h-0.8zM307.0,69.3h0.8v0.8h-0.8zM314.9,59.5h0.8v0.8h-0.8zM312.9,60.4h0.8v0.8h-0.8zM308.5,71.0h0.8v0.8h-0.8zM311.4,67.3h0.8v0.8h-0.8zM309.6,65.7h0.8v0.8h-0.8zM309.8,64.5h0.8v0.8h-0.8zM308.0,61.2h0.8v0.8h-0.8zM313.0,65.0h0.8v0.8h-0.8zM313.4,67.5h0.8v0.8h-0.8zM309.8,61.6h0.8v0.8h-0.8zM308.0,65.3h0.8v0.8h-0.8zM308.4,64.1h0.8v0.8h-0.8zM303.0,63.8h0.8v0.8h-0.8zM308.1,63.6h0.8v0.8h-0.8zM307.9,60.1h0.8v0.8h-0.8zM306.5,69.8h0.8v0.8h-0.8zM306.3,63.4h0.8v0.8h-0.8zM306.6,64.6h0.8v0.8h-0.8zM307.4,71.5h0.8v0.8h-0.8zM306.1,69.5h0.8v0.8h-0.8zM307.5,66.5h0.8v0.8h-0.8zM315.0,65.1h0.8v0.8h-0.8zM308.7,55.9h0.8v0.8h-0.8zM307.8,64.4h0.8v0.8h-0.8zM309.0,65.9h0.8v0.8h-0.8zM305.9,62.1h0.8v0.8h-0.8zM310.6,64.3h0.8v0.8h-0.8zM308.8,67.3h0.8v0.8h-0.8zM309.0,65.6h0.8v0.8h-0.8zM306.0,65.1h0.8v0.8h-0.8zM304.4,70.8h0.8v0.8h-0.8zM306.8,70.5h0.8v0.8h-0.8zM307.5,64.7h0.8v0.8h-0.8zM312.0,65.8h0.8v0.8h-0.8zM309.2,64.3h0.8v0.8h-0.8zM308.1,62.8h0.8v0.8h-0.8zM306.8,59.4h0.8v0.8h-0.8zM308.3,62.6h0.8v0.8h-0.8zM313.5,61.3h0.8v0.8h-0.8zM307.8,64.7h0.8v0.8h-0.8zM304.9,70.2h0.8v0.8h-0.8zM310.5,66.1h0.8v0.8h-0.8zM313.6,66.7h0.8v0.8h-0.8zM308.0,66.1h0.8v0.8h-0.8zM307.6,66.7h0.8v0.8h-0.8zM305.4,66.8h0.8v0.8h-0.8zM308.0,63.8h0.8v0.8h-0.8zM307.8,64.8h0.8v0.8h-0.8zM304.4,67.1h0.8v0.8h-0.8zM308.2,70.9h0.8v0.8h-0.8zM308.7,68.2h0.8v0.8h-0.8zM308.7,64.7h0.8v0.8h-0.8zM305.7,63.7h0.8v0.8h-0.8zM307.3,57.4h0.8v0.8h-0.8zM308.0,62.9h0.8v0.8h-0.8zM309.5,68.5h0.8v0.8h-0.8zM308.0,69.0h0.8v0.8h-0.8zM311.9,67.6h0.8v0.8h-0.8zM307.9,65.5h0.8v0.8h-0.8zM312.8,70.1h0.8v0.8h-0.8zM311.6,59.6h0.8v0.8h-0.8zM303.1,70.9h0.8v0.8h-0.8zM310.5,69.5h0.8v0.8h-0.8zM310.2,64.2h0.8v0.8h-0.8zM309.9,65.0h0.8v0.8h-0.8zM312.5,67.9h0.8v0.8h-0.8zM306.4,62.7h0.8v0.8h-0.8zM311.3,68.0h0.8v0.8h-0.8zM309.5,66.3h0.8v0.8h-0.8zM305.6,62.4h0.8v0.8h-0.8zM310.1,59.3h0.8v0.8h-0.8zM310.0,67.1h0.8v0.8h-0.8zM310.4,67.9h0.8v0.8h-0.8zM313.5,66.1h0.8v0.8h-0.8zM306.7,59.7h0.8v0.8h-0.8zM303.1,65.5h0.8v0.8h-0.8zM311.0,59.8h0.8v0.8h-0.8zM309.2,62.9h0.8v0.8h-0.8zM308.1,65.9h0.8v0.8h-0.8zM308.9,61.4h0.8v0.8h-0.8zM310.7,64.8h0.8v0.8h-0.8zM304.0,67.7h0.8v0.8h-0.8zM312.7,64.0h0.8v0.8h-0.8zM312.8,60.1h0.8v0.8h-0.8zM308.1,69.4h0.8v0.8h-0.8zM312.1,66.9h0.8v0.8h-0.8zM311.4,63.9h0.8v0.8h-0.8zM310.6,68.3h0.8v0.8h-0.8zM311.1,66.4h0.8v0.8h-0.8zM310.9,66.6h0.8v0.8h-0.8zM310.3,60.2h0.8v0.8h-0.8zM310.3,62.2h0.8v0.8h-0.8zM307.8,65.4h0.8v0.8h-0.8zM309.4,61.0h0.8v0.8h-0.8zM307.4,66.0h0.8v0.8h-0.8zM307.7,65.3h0.8v0.8h-0.8zM309.3,65.9h0.8v0.8h-0.8zM307.4,65.8h0.8v0.8h-0.8zM310.2,61.1h0.8v0.8h-0.8zM310.7,62.0h0.8v0.8h-0.8zM309.7,67.2h0.8v0.8h-0.8zM310.4,61.4h0.8v0.8h-0.8zM306.5,61.4h0.8v0.8h-0.8zM310.2,65.6h0.8v0.8h-0.8zM304.2,67.6h0.8v0.8h-0.8zM311.7,63.5h0.8v0.8h-0.8zM308.6,66.0h0.8v0.8h-0.8zM306.2,63.8h0.8v0.8h-0.8zM310.1,64.1h0.8v0.8h-0.8zM308.7,65.5h0.8v0.8h-0.8zM313.1,66.0h0.8v0.8h-0.8zM309.6,63.7h0.8v0.8h-0.8zM311.9,65.4h0.8v0.8h-0.8zM308.7,69.4h0.8v0.8h-0.8zM312.1,62.2h0.8v0.8h-0.8zM308.0,69.3h0.8v0.8h-0.8zM307.6,70.2h0.8v0.8h-0.8zM308.3,71.4h0.8v0.8h-0.8zM306.3,58.9h0.8v0.8h-0.8zM305.1,71.6h0.8v0.8h-0.8zM306.9,63.8h0.8v0.8h-0.8zM307.3,62.8h0.8v0.8h-0.8zM309.1,65.6h0.8v0.8h-0.8zM307.2,63.5h0.8v0.8h-0.8zM312.1,68.3h0.8v0.8h-0.8zM311.2,69.2h0.8v0.8h-0.8zM308.3,68.0h0.8v0.8h-0.8zM312.9,62.5h0.8v0.8h-0.8zM312.2,57.3h0.8v0.8h-0.8zM303.9,60.5h0.8v0.8h-0.8zM306.2,62.1h0.8v0.8h-0.8zM307.5,67.8h0.8v0.8h-0.8zM306.9,64.0h0.8v0.8h-0.8zM305.5,60.0h0.8v0.8h-0.8zM308.3,62.8h0.8v0.8h-0.8zM311.0,65.5h0.8v0.8h-0.8zM304.2,67.5h0.8v0.8h-0.8zM305.7,63.9h0.8v0.8h-0.8zM306.1,62.5h0.8v0.8h-0.8zM307.2,61.3h0.8v0.8h-0.8zM306.9,64.2h0.8v0.8h-0.8zM310.5,67.4h0.8v0.8h-0.8zM313.2,59.9h0.8v0.8h-0.8zM307.7,69.0h0.8v0.8h-0.8zM305.9,64.6h0.8v0.8h-0.8zM310.5,70.1h0.8v0.8h-0.8zM310.1,66.2h0.8v0.8h-0.8zM308.3,67.1h0.8v0.8h-0.8zM309.0,66.2h0.8v0.8h-0.8zM307.1,64.7h0.8v0.8h-0.8zM306.5,61.6h0.8v0.8h-0.8zM306.6,62.4h0.8v0.8h-0.8zM307.0,63.3h0.8v0.8h-0.8zM304.9,66.1h0.8v0.8h-0.8zM309.5,70.1h0.8v0.8h-0.8zM302.8,60.6h0.8v0.8h-0.8zM306.3,62.3h0.8v0.8h-0.8zM308.8,62.4h0.8v0.8h-0.8zM306.7,67.4h0.8v0.8h-0.8zM308.2,59.9h0.8v0.8h-0.8zM311.5,64.6h0.8v0.8h-0.8zM312.1,64.9h0.8v0.8h-0.8zM307.8,65.9h0.8v0.8h-0.8zM311.9,65.5h0.8v0.8h-0.8zM307.9,60.7h0.8v0.8h-0.8zM309.1,61.6h0.8v0.8h-0.8zM308.4,60.7h0.8v0.8h-0.8zM306.5,62.0h0.8v0.8h-0.8zM307.0,61.4h0.8v0.8h-0.8zM311.8,67.6h0.8v0.8h-0.8zM307.8,61.8h0.8v0.8h-0.8zM311.4,64.3h0.8v0.8h-0.8zM310.1,68.3h0.8v0.8h-0.8zM307.7,66.5h0.8v0.8h-0.8zM309.8,63.7h0.8v0.8h-0.8zM308.2,63.1h0.8v0.8h-0.8zM300.2,63.8h0.8v0.8h-0.8zM312.8,68.4h0.8v0.8h-0.8zM315.5,65.3h0.8v0.8h-0.8zM310.9,63.1h0.8v0.8h-0.8zM306.8,62.3h0.8v0.8h-0.8zM309.8,67.6h0.8v0.8h-0.8zM303.9,67.3h0.8v0.8h-0.8zM310.9,67.6h0.8v0.8h-0.8zM305.5,65.7h0.8v0.8h-0.8zM309.5,60.8h0.8v0.8h-0.8zM307.0,63.5h0.8v0.8h-0.8zM303.8,63.1h0.8v0.8h-0.8zM312.1,66.3h0.8v0.8h-0.8zM306.5,65.2h0.8v0.8h-0.8zM309.6,67.0h0.8v0.8h-0.8zM306.2,66.3h0.8v0.8h-0.8zM307.0,63.5h0.8v0.8h-0.8zM306.5,62.5h0.8v0.8h-0.8zM309.9,59.5h0.8v0.8h-0.8zM306.4,64.2h0.8v0.8h-0.8zM308.5,70.1h0.8v0.8h-0.8zM305.1,66.9h0.8v0.8h-0.8zM308.4,71.3h0.8v0.8h-0.8zM308.1,71.4h0.8v0.8h-0.8zM306.3,66.2h0.8v0.8h-0.8zM305.9,63.2h0.8v0.8h-0.8zM305.5,63.8h0.8v0.8h-0.8zM312.5,63.4h0.8v0.8h-0.8zM314.8,70.2h0.8v0.8h-0.8zM309.4,65.1h0.8v0.8h-0.8zM309.4,62.7h0.8v0.8h-0.8zM310.1,65.4h0.8v0.8h-0.8zM303.8,65.2h0.8v0.8h-0.8zM310.1,65.2h0.8v0.8h-0.8zM309.4,65.1h0.8v0.8h-0.8zM307.4,68.4h0.8v0.8h-0.8zM312.1,64.1h0.8v0.8h-0.8zM310.6,61.6h0.8v0.8h-0.8zM311.8,62.4h0.8v0.8h-0.8zM308.8,68.1h0.8v0.8h-0.8zM307.4,65.2h0.8v0.8h-0.8zM311.2,63.3h0.8v0.8h-0.8zM309.5,68.5h0.8v0.8h-0.8zM309.3,62.6h0.8v0.8h-0.8zM307.7,64.3h0.8v0.8h-0.8zM308.7,67.1h0.8v0.8h-0.8zM304.8,64.8h0.8v0.8h-0.8zM309.1,69.8h0.8v0.8h-0.8zM305.0,62.3h0.8v0.8h-0.8zM310.9,64.9h0.8v0.8h-0.8zM311.4,64.9h0.8v0.8h-0.8zM307.0,64.9h0.8v0.8h-0.8zM311.7,67.3h0.8v0.8h-0.8zM309.1,65.5h0.8v0.8h-0.8zM311.3,67.0h0.8v0.8h-0.8zM309.3,67.4h0.8v0.8h-0.8zM308.9,61.5h0.8v0.8h-0.8zM310.9,68.9h0.8v0.8h-0.8zM312.1,64.9h0.8v0.8h-0.8zM305.7,66.3h0.8v0.8h-0.8zM307.2,59.2h0.8v0.8h-0.8zM309.0,62.6h0.8v0.8h-0.8zM308.8,63.5h0.8v0.8h-0.8zM310.7,67.7h0.8v0.8h-0.8zM309.9,68.8h0.8v0.8h-0.8zM304.4,67.4h0.8v0.8h-0.8zM311.2,63.8h0.8v0.8h-0.8zM308.9,61.3h0.8v0.8h-0.8zM307.6,66.0h0.8v0.8h-0.8zM305.5,58.9h0.8v0.8h-0.8zM307.8,62.4h0.8v0.8h-0.8zM306.3,64.5h0.8v0.8h-0.8zM305.3,68.5h0.8v0.8h-0.8zM311.5,65.2h0.8v0.8h-0.8zM307.2,64.9h0.8v0.8h-0.8zM308.4,62.6h0.8v0.8h-0.8zM307.1,66.4h0.8v0.8h-0.8zM306.4,63.0h0.8v0.8h-0.8zM307.5,61.9h0.8v0.8h-0.8zM309.3,61.0h0.8v0.8h-0.8zM310.9,67.3h0.8v0.8h-0.8zM308.6,67.7h0.8v0.8h-0.8zM311.3,63.8h0.8v0.8h-0.8zM308.5,63.1h0.8v0.8h-0.8zM307.7,63.8h0.8v0.8h-0.8zM308.8,66.6h0.8v0.8h-0.8zM314.0,66.1h0.8v0.8h-0.8zM310.9,64.3h0.8v0.8h-0.8zM312.7,65.4h0.8v0.8h-0.8zM308.2,64.2h0.8v0.8h-0.8zM308.7,63.8h0.8v0.8h-0.8zM309.1,70.5h0.8v0.8h-0.8zM308.8,62.7h0.8v0.8h-0.8zM304.1,64.7h0.8v0.8h-0.8zM306.2,62.6h0.8v0.8h-0.8zM309.0,66.1h0.8v0.8h-0.8zM309.8,68.6h0.8v0.8h-0.8zM306.3,63.0h0.8v0.8h-0.8zM306.5,61.9h0.8v0.8h-0.8zM307.0,62.4h0.8v0.8h-0.8zM310.3,61.7h0.8v0.8h-0.8zM313.9,58.6h0.8v0.8h-0.8zM310.6,60.1h0.8v0.8h-0.8zM307.4,61.2h0.8v0.8h-0.8zM308.6,66.5h0.8v0.8h-0.8zM307.6,63.0h0.8v0.8h-0.8zM306.2,62.4h0.8v0.8h-0.8zM306.5,62.9h0.8v0.8h-0.8zM308.7,67.7h0.8v0.8h-0.8zM306.9,58.7h0.8v0.8h-0.8zM307.7,67.5h0.8v0.8h-0.8zM306.1,66.1h0.8v0.8h-0.8zM305.8,61.0h0.8v0.8h-0.8zM309.1,59.2h0.8v0.8h-0.8zM307.6,56.6h0.8v0.8h-0.8zM306.0,66.1h0.8v0.8h-0.8zM307.3,62.7h0.8v0.8h-0.8zM309.8,62.1h0.8v0.8h-0.8zM305.8,63.6h0.8v0.8h-0.8zM308.4,65.4h0.8v0.8h-0.8zM308.1,68.6h0.8v0.8h-0.8zM309.9,64.5h0.8v0.8h-0.8zM314.1,60.1h0.8v0.8h-0.8zM309.1,62.5h0.8v0.8h-0.8zM313.7,65.8h0.8v0.8h-0.8zM310.5,66.1h0.8v0.8h-0.8zM312.1,63.2h0.8v0.8h-0.8zM310.7,59.6h0.8v0.8h-0.8zM309.9,68.4h0.8v0.8h-0.8zM310.6,66.7h0.8v0.8h-0.8zM304.0,65.2h0.8v0.8h-0.8zM307.7,69.6h0.8v0.8h-0.8zM309.8,66.9h0.8v0.8h-0.8zM311.7,66.5h0.8v0.8h-0.8zM305.2,62.4h0.8v0.8h-0.8zM303.5,68.6h0.8v0.8h-0.8zM308.0,60.9h0.8v0.8h-0.8zM309.7,63.6h0.8v0.8h-0.8zM307.8,68.9h0.8v0.8h-0.8zM303.5,60.3h0.8v0.8h-0.8zM308.3,64.1h0.8v0.8h-0.8zM311.2,63.8h0.8v0.8h-0.8zM309.8,70.2h0.8v0.8h-0.8zM305.2,60.5h0.8v0.8h-0.8zM306.8,64.2h0.8v0.8h-0.8zM305.8,65.7h0.8v0.8h-0.8zM306.6,68.4h0.8v0.8h-0.8zM309.7,67.0h0.8v0.8h-0.8zM309.0,65.5h0.8v0.8h-0.8zM304.6,64.2h0.8v0.8h-0.8zM304.2,69.0h0.8v0.8h-0.8zM305.8,62.0h0.8v0.8h-0.8zM307.4,71.7h0.8v0.8h-0.8zM305.8,70.0h0.8v0.8h-0.8zM308.0,63.2h0.8v0.8h-0.8zM308.4,63.2h0.8v0.8h-0.8zM306.8,67.1h0.8v0.8h-0.8zM307.4,67.6h0.8v0.8h-0.8zM309.9,67.7h0.8v0.8h-0.8zM312.3,68.2h0.8v0.8h-0.8zM306.2,69.0h0.8v0.8h-0.8zM302.5,68.8h0.8v0.8h-0.8zM311.4,61.6h0.8v0.8h-0.8zM311.6,59.0h0.8v0.8h-0.8zM310.9,63.6h0.8v0.8h-0.8zM307.8,64.3h0.8v0.8h-0.8zM307.1,67.1h0.8v0.8h-0.8zM308.4,64.7h0.8v0.8h-0.8zM308.6,63.7h0.8v0.8h-0.8zM306.1,66.7h0.8v0.8h-0.8zM310.5,61.2h0.8v0.8h-0.8zM310.8,68.8h0.8v0.8h-0.8zM308.9,69.4h0.8v0.8h-0.8zM303.3,69.1h0.8v0.8h-0.8zM306.7,65.8h0.8v0.8h-0.8zM307.5,66.9h0.8v0.8h-0.8zM305.0,64.0h0.8v0.8h-0.8zM309.5,64.5h0.8v0.8h-0.8zM306.7,69.5h0.8v0.8h-0.8zM304.8,65.1h0.8v0.8h-0.8zM308.1,63.7h0.8v0.8h-0.8zM310.1,65.6h0.8v0.8h-0.8zM308.1,66.9h0.8v0.8h-0.8zM308.3,66.5h0.8v0.8h-0.8zM311.6,65.6h0.8v0.8h-0.8zM308.7,63.1h0.8v0.8h-0.8zM311.9,67.9h0.8v0.8h-0.8zM309.8,65.8h0.8v0.8h-0.8zM306.5,65.2h0.8v0.8h-0.8zM309.2,61.3h0.8v0.8h-0.8zM306.2,64.5h0.8v0.8h-0.8zM313.2,66.0h0.8v0.8h-0.8zM305.0,68.8h0.8v0.8h-0.8zM310.7,67.1h0.8v0.8h-0.8zM307.2,64.5h0.8v0.8h-0.8zM313.8,68.4h0.8v0.8h-0.8zM319.6,59.2h0.8v0.8h-0.8zM304.7,63.6h0.8v0.8h-0.8zM306.3,62.8h0.8v0.8h-0.8zM310.3,69.0h0.8v0.8h-0.8zM305.1,66.7h0.8v0.8h-0.8zM310.6,65.7h0.8v0.8h-0.8zM311.8,68.5h0.8v0.8h-0.8zM306.6,65.3h0.8v0.8h-0.8zM309.2,61.2h0.8v0.8h-0.8zM308.0,68.1h0.8v0.8h-0.8zM309.5,65.0h0.8v0.8h-0.8zM314.8,66.9h0.8v0.8h-0.8zM310.9,62.2h0.8v0.8h-0.8zM311.5,63.6h0.8v0.8h-0.8zM308.1,63.6h0.8v0.8h-0.8zM305.4,66.7h0.8v0.8h-0.8zM305.5,67.5h0.8v0.8h-0.8zM306.6,68.9h0.8v0.8h-0.8zM309.4,68.6h0.8v0.8h-0.8zM305.9,66.7h0.8v0.8h-0.8zM310.4,65.8h0.8v0.8h-0.8zM308.3,63.1h0.8v0.8h-0.8zM300.6,66.5h0.8v0.8h-0.8zM305.5,61.7h0.8v0.8h-0.8zM309.5,56.7h0.8v0.8h-0.8zM306.7,67.1h0.8v0.8h-0.8zM308.6,64.3h0.8v0.8h-0.8zM306.6,65.5h0.8v0.8h-0.8zM304.8,63.2h0.8v0.8h-0.8zM310.5,62.1h0.8v0.8h-0.8zM308.2,63.8h0.8v0.8h-0.8zM305.5,58.8h0.8v0.8h-0.8zM306.4,62.5h0.8v0.8h-0.8zM306.0,64.8h0.8v0.8h-0.8zM309.3,66.9h0.8v0.8h-0.8zM309.4,61.3h0.8v0.8h-0.8zM312.0,66.1h0.8v0.8h-0.8zM310.4,60.9h0.8v0.8h-0.8zM309.8,68.5h0.8v0.8h-0.8zM307.1,65.5h0.8v0.8h-0.8zM308.4,67.0h0.8v0.8h-0.8zM309.0,65.8h0.8v0.8h-0.8zM306.3,61.2h0.8v0.8h-0.8zM306.2,66.6h0.8v0.8h-0.8zM311.8,63.0h0.8v0.8h-0.8zM304.6,66.1h0.8v0.8h-0.8zM308.5,62.3h0.8v0.8h-0.8zM312.3,67.2h0.8v0.8h-0.8zM308.6,60.7h0.8v0.8h-0.8zM311.7,68.5h0.8v0.8h-0.8zM310.6,70.1h0.8v0.8h-0.8zM306.0,61.8h0.8v0.8h-0.8zM310.7,66.4h0.8v0.8h-0.8zM308.5,63.5h0.8v0.8h-0.8zM311.1,65.8h0.8v0.8h-0.8zM310.7,61.4h0.8v0.8h-0.8zM308.7,66.3h0.8v0.8h-0.8zM311.1,59.7h0.8v0.8h-0.8zM308.1,54.7h0.8v0.8h-0.8zM308.4,55.7h0.8v0.8h-0.8zM309.0,57.6h0.8v0.8h-0.8zM308.8,55.9h0.8v0.8h-0.8zM309.7,58.8h0.8v0.8h-0.8zM308.5,54.4h0.8v0.8h-0.8zM311.0,57.8h0.8v0.8h-0.8zM311.6,55.2h0.8v0.8h-0.8zM307.8,55.7h0.8v0.8h-0.8zM308.3,53.1h0.8v0.8h-0.8zM309.6,53.1h0.8v0.8h-0.8zM304.3,55.9h0.8v0.8h-0.8zM306.8,56.5h0.8v0.8h-0.8zM306.7,53.3h0.8v0.8h-0.8zM305.4,53.5h0.8v0.8h-0.8zM308.0,60.2h0.8v0.8h-0.8zM309.4,54.7h0.8v0.8h-0.8zM310.4,56.5h0.8v0.8h-0.8zM305.6,52.5h0.8v0.8h-0.8zM306.2,54.9h0.8v0.8h-0.8zM308.5,54.8h0.8v0.8h-0.8zM307.6,54.1h0.8v0.8h-0.8zM308.7,57.6h0.8v0.8h-0.8zM306.8,58.5h0.8v0.8h-0.8zM307.2,55.4h0.8v0.8h-0.8zM310.9,57.2h0.8v0.8h-0.8zM308.5,52.2h0.8v0.8h-0.8zM308.5,55.3h0.8v0.8h-0.8zM308.1,58.2h0.8v0.8h-0.8zM307.6,59.6h0.8v0.8h-0.8zM308.5,56.3h0.8v0.8h-0.8zM307.9,56.2h0.8v0.8h-0.8zM310.4,56.5h0.8v0.8h-0.8zM306.9,54.5h0.8v0.8h-0.8zM310.1,57.1h0.8v0.8h-0.8zM307.1,55.8h0.8v0.8h-0.8zM308.5,57.1h0.8v0.8h-0.8zM307.0,56.2h0.8v0.8h-0.8zM306.5,54.5h0.8v0.8h-0.8zM308.1,58.7h0.8v0.8h-0.8zM308.3,59.3h0.8v0.8h-0.8zM309.0,58.6h0.8v0.8h-0.8zM308.2,52.4h0.8v0.8h-0.8zM305.2,55.2h0.8v0.8h-0.8zM311.1,55.7h0.8v0.8h-0.8zM307.7,57.2h0.8v0.8h-0.8zM307.8,55.3h0.8v0.8h-0.8zM308.7,56.8h0.8v0.8h-0.8zM307.5,54.4h0.8v0.8h-0.8zM310.8,54.3h0.8v0.8h-0.8zM307.1,55.6h0.8v0.8h-0.8zM308.2,56.6h0.8v0.8h-0.8zM310.7,58.6h0.8v0.8h-0.8zM308.3,56.2h0.8v0.8h-0.8zM309.9,55.8h0.8v0.8h-0.8zM308.7,53.8h0.8v0.8h-0.8zM309.0,55.8h0.8v0.8h-0.8zM306.3,56.5h0.8v0.8h-0.8zM311.7,56.7h0.8v0.8h-0.8zM307.2,58.6h0.8v0.8h-0.8z" fill="#000" fill-opacity="1"/>
<path d="M281.3,63.3h0.8v0.8h-0.8zM288.8,66.1h0.8v0.8h-0.8zM276.2,62.2h0.8v0.8h-0.8zM280.3,57.8h0.8v0.8h-0.8zM280.9,56.9h0.8v0.8h-0.8zM275.4,61.5h0.8v0.8h-0.8zM280.7,63.8h0.8v0.8h-0.8zM274.1,63.9h0.8v0.8h-0.8zM281.0,62.1h0.8v0.8h-0.8zM279.2,60.5h0.8v0.8h-0.8zM290.7,68.0h0.8v0.8h-0.8zM280.7,67.8h0.8v0.8h-0.8zM273.3,60.4h0.8v0.8h-0.8zM276.9,64.3h0.8v0.8h-0.8zM276.9,58.9h0.8v0.8h-0.8zM269.3,58.1h0.8v0.8h-0.8zM285.1,64.4h0.8v0.8h-0.8zM269.9,69.9h0.8v0.8h-0.8zM275.9,60.7h0.8v0.8h-0.8zM277.9,62.7h0.8v0.8h-0.8zM276.5,62.4h0.8v0.8h-0.8zM284.0,66.1h0.8v0.8h-0.8zM274.6,61.8h0.8v0.8h-0.8zM274.1,60.8h0.8v0.8h-0.8zM278.4,61.2h0.8v0.8h-0.8zM282.9,58.8h0.8v0.8h-0.8zM281.5,65.4h0.8v0.8h-0.8zM277.0,61.2h0.8v0.8h-0.8zM282.9,61.0h0.8v0.8h-0.8zM276.9,63.3h0.8v0.8h-0.8zM263.0,65.3h0.8v0.8h-0.8zM280.6,64.8h0.8v0.8h-0.8zM270.1,60.8h0.8v0.8h-0.8zM281.8,64.7h0.8v0.8h-0.8zM275.2,60.7h0.8v0.8h-0.8zM288.9,63.6h0.8v0.8h-0.8zM287.0,57.2h0.8v0.8h-0.8zM281.8,60.3h0.8v0.8h-0.8zM275.8,67.5h0.8v0.8h-0.8zM272.2,58.8h0.8v0.8h-0.8zM274.5,61.5h0.8v0.8h-0.8zM279.2,64.2h0.8v0.8h-0.8zM287.0,64.4h0.8v0.8h-0.8zM290.4,66.7h0.8v0.8h-0.8zM290.8,58.2h0.8v0.8h-0.8zM291.0,65.4h0.8v0.8h-0.8zM263.2,61.7h0.8v0.8h-0.8zM273.5,60.6h0.8v0.8h-0.8zM264.9,59.7h0.8v0.8h-0.8zM263.5,62.7h0.8v0.8h-0.8zM277.0,59.5h0.8v0.8h-0.8zM289.8,69.3h0.8v0.8h-0.8zM309.0,59.7h0.8v0.8h-0.8zM304.3,56.9h0.8v0.8h-0.8zM317.9,34.1h0.8v0.8h-0.8zM316.7,34.0h0.8v0.8h-0.8zM298.5,37.9h0.8v0.8h-0.8zM296.6,54.9h0.8v0.8h-0.8zM307.0,57.0h0.8v0.8h-0.8zM308.7,42.4h0.8v0.8h-0.8zM311.7,44.8h0.8v0.8h-0.8zM305.0,40.8h0.8v0.8h-0.8zM304.1,37.5h0.8v0.8h-0.8zM302.7,45.1h0.8v0.8h-0.8zM302.9,47.7h0.8v0.8h-0.8zM309.8,48.2h0.8v0.8h-0.8zM308.5,56.6h0.8v0.8h-0.8zM304.9,58.8h0.8v0.8h-0.8zM306.9,49.7h0.8v0.8h-0.8zM308.2,58.1h0.8v0.8h-0.8zM302.8,55.5h0.8v0.8h-0.8zM305.3,50.6h0.8v0.8h-0.8zM303.5,35.0h0.8v0.8h-0.8zM311.1,54.5h0.8v0.8h-0.8zM303.4,44.6h0.8v0.8h-0.8zM302.8,49.8h0.8v0.8h-0.8zM314.1,49.2h0.8v0.8h-0.8zM301.1,54.4h0.8v0.8h-0.8zM303.9,40.6h0.8v0.8h-0.8zM308.3,50.0h0.8v0.8h-0.8zM307.6,54.2h0.8v0.8h-0.8zM310.3,37.6h0.8v0.8h-0.8zM307.6,56.8h0.8v0.8h-0.8zM311.3,43.9h0.8v0.8h-0.8zM300.7,43.4h0.8v0.8h-0.8zM308.4,48.8h0.8v0.8h-0.8zM309.8,48.9h0.8v0.8h-0.8zM302.6,43.4h0.8v0.8h-0.8zM306.2,54.9h0.8v0.8h-0.8zM312.1,44.1h0.8v0.8h-0.8zM308.5,49.6h0.8v0.8h-0.8zM303.0,43.0h0.8v0.8h-0.8zM312.4,47.4h0.8v0.8h-0.8z" fill="#000" fill-opacity="0.75"/>
<text x="300.9" y="21.6" font-size="9.9" text-anchor="start" fill="#000" textLength="22.6" lengthAdjust="spacingAndGlyphs" stroke="#000" stroke-width="0.55">16.3%</text>
<line x1="368.4" y1="11.2" x2="439.4" y2="11.2" stroke="#777" stroke-width="0.9"/>
<line x1="439.4" y1="11.2" x2="439.4" y2="72.3" stroke="#777" stroke-width="0.9"/>
<line x1="368.4" y1="72.3" x2="439.4" y2="72.3" stroke="#333" stroke-width="1"/>
<line x1="368.4" y1="11.2" x2="368.4" y2="72.3" stroke="#333" stroke-width="1"/>
<line x1="393.5" y1="11.2" x2="393.5" y2="72.3" stroke="#444" stroke-width="0.9"/>
<line x1="368.4" y1="49.6" x2="439.4" y2="49.6" stroke="#777" stroke-width="0.9"/>
<line x1="368.4" y1="72.3" x2="368.4" y2="73.6" stroke="#555" stroke-width="0.7"/>
<text x="368.4" y="78.6" font-size="4.3" text-anchor="middle" fill="#444">10<tspan font-size="3" dy="-1.4">0</tspan></text>
<line x1="367.09999999999997" y1="72.3" x2="368.4" y2="72.3" stroke="#555" stroke-width="0.7"/>
<text transform="translate(365.6,72.3) rotate(-90)" font-size="4.3" text-anchor="middle" fill="#444">10<tspan font-size="3" dy="-1.4">0</tspan></text>
<line x1="386.15" y1="72.3" x2="386.15" y2="73.6" stroke="#555" stroke-width="0.7"/>
<text x="386.1" y="78.6" font-size="4.3" text-anchor="middle" fill="#444">10<tspan font-size="3" dy="-1.4">1</tspan></text>
<line x1="367.09999999999997" y1="57.025" x2="368.4" y2="57.025" stroke="#555" stroke-width="0.7"/>
<text transform="translate(365.6,57.0) rotate(-90)" font-size="4.3" text-anchor="middle" fill="#444">10<tspan font-size="3" dy="-1.4">1</tspan></text>
<line x1="403.9" y1="72.3" x2="403.9" y2="73.6" stroke="#555" stroke-width="0.7"/>
<text x="403.9" y="78.6" font-size="4.3" text-anchor="middle" fill="#444">10<tspan font-size="3" dy="-1.4">2</tspan></text>
<line x1="367.09999999999997" y1="41.75" x2="368.4" y2="41.75" stroke="#555" stroke-width="0.7"/>
<text transform="translate(365.6,41.8) rotate(-90)" font-size="4.3" text-anchor="middle" fill="#444">10<tspan font-size="3" dy="-1.4">2</tspan></text>
<line x1="421.65" y1="72.3" x2="421.65" y2="73.6" stroke="#555" stroke-width="0.7"/>
<text x="421.6" y="78.6" font-size="4.3" text-anchor="middle" fill="#444">10<tspan font-size="3" dy="-1.4">3</tspan></text>
<line x1="367.09999999999997" y1="26.475" x2="368.4" y2="26.475" stroke="#555" stroke-width="0.7"/>
<text transform="translate(365.6,26.5) rotate(-90)" font-size="4.3" text-anchor="middle" fill="#444">10<tspan font-size="3" dy="-1.4">3</tspan></text>
<line x1="439.4" y1="72.3" x2="439.4" y2="73.6" stroke="#555" stroke-width="0.7"/>
<text x="439.4" y="78.6" font-size="4.3" text-anchor="middle" fill="#444">10<tspan font-size="3" dy="-1.4">4</tspan></text>
<line x1="367.09999999999997" y1="11.200000000000003" x2="368.4" y2="11.200000000000003" stroke="#555" stroke-width="0.7"/>
<text transform="translate(365.6,11.2) rotate(-90)" font-size="4.3" text-anchor="middle" fill="#444">10<tspan font-size="3" dy="-1.4">4</tspan></text>
<path d="M384.1,34.7h0.8v0.8h-0.8zM386.1,35.0h0.8v0.8h-0.8zM380.9,33.4h0.8v0.8h-0.8zM385.6,34.5h0.8v0.8h-0.8zM381.2,31.5h0.8v0.8h-0.8zM388.4,35.3h0.8v0.8h-0.8zM388.7,33.8h0.8v0.8h-0.8zM376.5,33.4h0.8v0.8h-0.8zM385.6,31.6h0.8v0.8h-0.8zM381.6,35.5h0.8v0.8h-0.8zM386.0,33.8h0.8v0.8h-0.8zM390.1,35.1h0.8v0.8h-0.8zM386.9,33.7h0.8v0.8h-0.8zM386.4,35.5h0.8v0.8h-0.8zM385.9,32.1h0.8v0.8h-0.8zM383.7,33.6h0.8v0.8h-0.8zM386.4,35.9h0.8v0.8h-0.8zM384.2,33.4h0.8v0.8h-0.8zM387.8,34.7h0.8v0.8h-0.8zM381.0,34.7h0.8v0.8h-0.8zM385.3,34.5h0.8v0.8h-0.8zM377.7,31.1h0.8v0.8h-0.8zM377.8,31.5h0.8v0.8h-0.8zM388.8,35.5h0.8v0.8h-0.8zM378.7,36.2h0.8v0.8h-0.8zM379.4,32.8h0.8v0.8h-0.8zM387.6,35.2h0.8v0.8h-0.8zM389.5,35.0h0.8v0.8h-0.8zM385.6,36.3h0.8v0.8h-0.8zM384.2,34.1h0.8v0.8h-0.8zM386.3,33.5h0.8v0.8h-0.8zM383.9,35.8h0.8v0.8h-0.8zM391.7,34.9h0.8v0.8h-0.8zM384.0,33.3h0.8v0.8h-0.8zM382.8,33.5h0.8v0.8h-0.8zM382.5,33.9h0.8v0.8h-0.8zM383.5,35.6h0.8v0.8h-0.8zM378.2,33.4h0.8v0.8h-0.8zM388.1,33.4h0.8v0.8h-0.8zM382.7,34.8h0.8v0.8h-0.8zM384.2,32.6h0.8v0.8h-0.8zM385.2,35.0h0.8v0.8h-0.8zM377.0,35.4h0.8v0.8h-0.8zM376.9,35.0h0.8v0.8h-0.8zM378.7,34.4h0.8v0.8h-0.8zM384.3,35.5h0.8v0.8h-0.8zM384.2,33.4h0.8v0.8h-0.8zM381.2,34.3h0.8v0.8h-0.8zM383.5,35.3h0.8v0.8h-0.8zM386.4,35.9h0.8v0.8h-0.8zM387.7,34.3h0.8v0.8h-0.8zM384.3,34.9h0.8v0.8h-0.8zM388.0,32.0h0.8v0.8h-0.8zM386.3,33.5h0.8v0.8h-0.8zM386.0,35.2h0.8v0.8h-0.8zM376.0,33.8h0.8v0.8h-0.8zM389.0,31.4h0.8v0.8h-0.8zM385.6,34.0h0.8v0.8h-0.8zM382.0,35.4h0.8v0.8h-0.8zM388.7,34.1h0.8v0.8h-0.8zM390.9,36.2h0.8v0.8h-0.8zM385.5,35.3h0.8v0.8h-0.8zM388.5,36.6h0.8v0.8h-0.8zM388.2,35.0h0.8v0.8h-0.8zM385.1,35.1h0.8v0.8h-0.8zM391.6,33.9h0.8v0.8h-0.8zM384.1,32.6h0.8v0.8h-0.8zM382.4,33.2h0.8v0.8h-0.8zM389.9,34.6h0.8v0.8h-0.8zM375.6,34.3h0.8v0.8h-0.8zM392.8,34.0h0.8v0.8h-0.8zM385.1,38.3h0.8v0.8h-0.8zM383.5,33.7h0.8v0.8h-0.8zM387.5,37.7h0.8v0.8h-0.8zM386.6,31.6h0.8v0.8h-0.8zM384.0,33.7h0.8v0.8h-0.8zM388.0,33.5h0.8v0.8h-0.8zM385.3,32.1h0.8v0.8h-0.8zM379.0,34.1h0.8v0.8h-0.8zM391.9,32.6h0.8v0.8h-0.8zM377.6,35.8h0.8v0.8h-0.8zM386.4,35.2h0.8v0.8h-0.8zM383.9,34.4h0.8v0.8h-0.8zM384.3,34.1h0.8v0.8h-0.8zM392.6,33.5h0.8v0.8h-0.8zM382.9,34.1h0.8v0.8h-0.8zM383.9,36.6h0.8v0.8h-0.8zM384.0,34.6h0.8v0.8h-0.8zM379.2,34.9h0.8v0.8h-0.8zM387.6,35.0h0.8v0.8h-0.8zM377.5,33.1h0.8v0.8h-0.8zM372.9,36.5h0.8v0.8h-0.8zM384.2,36.5h0.8v0.8h-0.8zM393.3,35.6h0.8v0.8h-0.8zM381.8,33.7h0.8v0.8h-0.8zM388.2,31.1h0.8v0.8h-0.8zM390.9,36.3h0.8v0.8h-0.8zM388.6,33.6h0.8v0.8h-0.8zM386.3,31.7h0.8v0.8h-0.8zM380.4,33.4h0.8v0.8h-0.8zM381.3,36.5h0.8v0.8h-0.8zM386.7,30.5h0.8v0.8h-0.8zM389.8,34.8h0.8v0.8h-0.8zM383.6,33.0h0.8v0.8h-0.8zM385.9,31.7h0.8v0.8h-0.8zM382.1,35.4h0.8v0.8h-0.8zM385.3,33.4h0.8v0.8h-0.8zM383.3,31.7h0.8v0.8h-0.8zM373.7,34.9h0.8v0.8h-0.8zM378.2,31.7h0.8v0.8h-0.8zM386.1,35.4h0.8v0.8h-0.8zM383.1,35.7h0.8v0.8h-0.8zM384.9,29.4h0.8v0.8h-0.8zM391.9,32.4h0.8v0.8h-0.8zM391.7,33.6h0.8v0.8h-0.8zM384.3,33.3h0.8v0.8h-0.8zM380.1,35.0h0.8v0.8h-0.8zM392.1,36.0h0.8v0.8h-0.8zM382.2,34.8h0.8v0.8h-0.8zM389.4,34.9h0.8v0.8h-0.8zM378.8,37.1h0.8v0.8h-0.8zM381.3,32.8h0.8v0.8h-0.8zM385.3,34.4h0.8v0.8h-0.8zM382.2,32.1h0.8v0.8h-0.8zM379.2,34.1h0.8v0.8h-0.8zM376.2,35.7h0.8v0.8h-0.8zM387.6,34.4h0.8v0.8h-0.8zM385.6,32.7h0.8v0.8h-0.8zM382.1,35.4h0.8v0.8h-0.8zM382.3,36.4h0.8v0.8h-0.8zM389.2,35.1h0.8v0.8h-0.8zM383.6,32.7h0.8v0.8h-0.8zM384.0,32.6h0.8v0.8h-0.8zM383.0,33.5h0.8v0.8h-0.8zM382.1,35.8h0.8v0.8h-0.8zM380.7,32.9h0.8v0.8h-0.8zM389.9,34.4h0.8v0.8h-0.8zM386.9,33.1h0.8v0.8h-0.8zM386.1,36.0h0.8v0.8h-0.8zM384.7,34.7h0.8v0.8h-0.8zM390.1,34.9h0.8v0.8h-0.8zM390.2,32.3h0.8v0.8h-0.8zM376.7,32.4h0.8v0.8h-0.8zM386.6,33.0h0.8v0.8h-0.8zM375.6,36.8h0.8v0.8h-0.8zM390.5,33.2h0.8v0.8h-0.8zM381.7,33.0h0.8v0.8h-0.8zM387.9,34.7h0.8v0.8h-0.8zM385.3,36.1h0.8v0.8h-0.8zM380.9,32.2h0.8v0.8h-0.8zM384.6,34.0h0.8v0.8h-0.8zM385.1,34.7h0.8v0.8h-0.8zM377.7,36.4h0.8v0.8h-0.8zM376.6,34.5h0.8v0.8h-0.8zM386.2,35.3h0.8v0.8h-0.8zM385.6,32.8h0.8v0.8h-0.8zM383.7,32.0h0.8v0.8h-0.8zM383.9,33.7h0.8v0.8h-0.8zM376.2,37.3h0.8v0.8h-0.8zM381.9,34.9h0.8v0.8h-0.8zM390.5,34.0h0.8v0.8h-0.8zM382.8,32.4h0.8v0.8h-0.8zM381.3,33.0h0.8v0.8h-0.8zM383.9,35.2h0.8v0.8h-0.8zM385.5,36.3h0.8v0.8h-0.8zM386.4,34.4h0.8v0.8h-0.8zM370.9,33.8h0.8v0.8h-0.8zM385.8,31.8h0.8v0.8h-0.8zM384.3,33.0h0.8v0.8h-0.8zM383.7,34.0h0.8v0.8h-0.8zM383.4,34.0h0.8v0.8h-0.8zM386.2,34.5h0.8v0.8h-0.8zM381.6,35.4h0.8v0.8h-0.8zM384.9,34.6h0.8v0.8h-0.8zM392.5,36.5h0.8v0.8h-0.8zM386.5,34.8h0.8v0.8h-0.8zM385.1,33.8h0.8v0.8h-0.8zM388.4,35.7h0.8v0.8h-0.8zM386.7,32.9h0.8v0.8h-0.8zM383.4,30.5h0.8v0.8h-0.8zM385.1,31.4h0.8v0.8h-0.8zM383.1,32.5h0.8v0.8h-0.8zM375.2,32.5h0.8v0.8h-0.8zM383.6,33.9h0.8v0.8h-0.8zM375.9,35.0h0.8v0.8h-0.8zM383.2,32.3h0.8v0.8h-0.8zM391.4,33.0h0.8v0.8h-0.8zM385.6,36.3h0.8v0.8h-0.8zM384.9,33.9h0.8v0.8h-0.8zM388.9,33.4h0.8v0.8h-0.8zM384.9,33.8h0.8v0.8h-0.8zM382.9,35.2h0.8v0.8h-0.8zM385.8,36.2h0.8v0.8h-0.8zM386.4,31.9h0.8v0.8h-0.8zM386.4,33.6h0.8v0.8h-0.8zM383.5,35.5h0.8v0.8h-0.8zM386.5,31.6h0.8v0.8h-0.8zM377.3,33.5h0.8v0.8h-0.8zM386.8,32.3h0.8v0.8h-0.8zM380.7,31.3h0.8v0.8h-0.8zM385.8,33.2h0.8v0.8h-0.8zM391.4,34.4h0.8v0.8h-0.8zM385.7,33.1h0.8v0.8h-0.8zM389.0,32.0h0.8v0.8h-0.8zM385.8,34.7h0.8v0.8h-0.8zM381.1,32.2h0.8v0.8h-0.8zM389.8,36.8h0.8v0.8h-0.8zM386.3,36.8h0.8v0.8h-0.8zM386.7,33.7h0.8v0.8h-0.8zM382.8,32.2h0.8v0.8h-0.8zM388.7,33.2h0.8v0.8h-0.8zM381.7,34.6h0.8v0.8h-0.8zM386.8,32.9h0.8v0.8h-0.8zM385.5,33.8h0.8v0.8h-0.8zM385.2,33.8h0.8v0.8h-0.8zM382.7,30.4h0.8v0.8h-0.8zM381.9,35.8h0.8v0.8h-0.8zM383.1,34.3h0.8v0.8h-0.8zM387.3,32.5h0.8v0.8h-0.8zM384.9,33.6h0.8v0.8h-0.8zM386.2,34.9h0.8v0.8h-0.8zM384.9,33.7h0.8v0.8h-0.8zM388.8,34.2h0.8v0.8h-0.8zM377.9,35.9h0.8v0.8h-0.8zM386.6,33.1h0.8v0.8h-0.8zM384.3,32.6h0.8v0.8h-0.8zM385.2,31.8h0.8v0.8h-0.8zM389.1,34.7h0.8v0.8h-0.8zM380.1,34.8h0.8v0.8h-0.8zM378.0,33.2h0.8v0.8h-0.8zM380.0,35.0h0.8v0.8h-0.8zM387.7,32.0h0.8v0.8h-0.8zM385.4,34.8h0.8v0.8h-0.8zM383.0,37.7h0.8v0.8h-0.8zM377.5,36.0h0.8v0.8h-0.8zM391.3,33.5h0.8v0.8h-0.8zM379.4,35.8h0.8v0.8h-0.8zM373.4,34.0h0.8v0.8h-0.8zM378.1,34.0h0.8v0.8h-0.8zM382.0,32.1h0.8v0.8h-0.8zM387.0,35.7h0.8v0.8h-0.8zM378.4,35.0h0.8v0.8h-0.8zM385.0,33.0h0.8v0.8h-0.8zM382.1,34.8h0.8v0.8h-0.8zM389.6,33.6h0.8v0.8h-0.8zM373.4,35.2h0.8v0.8h-0.8zM386.3,31.1h0.8v0.8h-0.8zM382.2,34.0h0.8v0.8h-0.8zM383.2,34.5h0.8v0.8h-0.8zM380.5,35.0h0.8v0.8h-0.8zM372.1,34.5h0.8v0.8h-0.8zM381.8,33.8h0.8v0.8h-0.8zM386.6,37.2h0.8v0.8h-0.8zM374.8,34.1h0.8v0.8h-0.8zM374.8,34.4h0.8v0.8h-0.8zM377.9,31.8h0.8v0.8h-0.8zM389.8,35.0h0.8v0.8h-0.8zM382.0,37.1h0.8v0.8h-0.8zM370.5,35.1h0.8v0.8h-0.8zM393.2,33.5h0.8v0.8h-0.8zM375.8,32.6h0.8v0.8h-0.8zM390.6,36.5h0.8v0.8h-0.8zM384.2,36.2h0.8v0.8h-0.8zM377.3,33.5h0.8v0.8h-0.8zM387.7,32.3h0.8v0.8h-0.8zM383.5,34.2h0.8v0.8h-0.8zM376.0,34.7h0.8v0.8h-0.8zM373.0,32.9h0.8v0.8h-0.8zM375.7,35.0h0.8v0.8h-0.8zM382.0,31.6h0.8v0.8h-0.8zM380.1,39.0h0.8v0.8h-0.8zM382.4,35.1h0.8v0.8h-0.8zM389.9,31.2h0.8v0.8h-0.8zM375.6,32.7h0.8v0.8h-0.8zM380.9,35.5h0.8v0.8h-0.8zM369.6,35.7h0.8v0.8h-0.8zM384.7,31.8h0.8v0.8h-0.8zM375.9,33.1h0.8v0.8h-0.8zM393.0,32.1h0.8v0.8h-0.8zM388.6,38.4h0.8v0.8h-0.8zM379.1,32.5h0.8v0.8h-0.8zM381.8,32.1h0.8v0.8h-0.8zM379.1,32.0h0.8v0.8h-0.8zM371.3,30.8h0.8v0.8h-0.8zM388.2,32.8h0.8v0.8h-0.8zM373.6,36.5h0.8v0.8h-0.8zM380.4,33.5h0.8v0.8h-0.8zM376.3,34.2h0.8v0.8h-0.8zM379.5,33.3h0.8v0.8h-0.8zM380.4,35.8h0.8v0.8h-0.8zM380.3,37.0h0.8v0.8h-0.8zM388.5,32.0h0.8v0.8h-0.8zM374.8,31.5h0.8v0.8h-0.8zM376.3,35.7h0.8v0.8h-0.8zM379.2,33.1h0.8v0.8h-0.8zM382.3,29.6h0.8v0.8h-0.8zM383.9,33.8h0.8v0.8h-0.8zM386.3,33.5h0.8v0.8h-0.8zM388.6,36.4h0.8v0.8h-0.8zM379.5,35.4h0.8v0.8h-0.8zM375.2,32.7h0.8v0.8h-0.8zM373.8,33.7h0.8v0.8h-0.8zM373.0,31.9h0.8v0.8h-0.8zM380.0,31.1h0.8v0.8h-0.8zM385.7,32.2h0.8v0.8h-0.8zM379.8,33.5h0.8v0.8h-0.8zM388.7,35.4h0.8v0.8h-0.8zM379.8,32.9h0.8v0.8h-0.8zM387.6,33.9h0.8v0.8h-0.8zM374.1,34.4h0.8v0.8h-0.8zM386.0,34.1h0.8v0.8h-0.8zM381.9,37.3h0.8v0.8h-0.8zM377.8,35.8h0.8v0.8h-0.8zM392.6,37.8h0.8v0.8h-0.8zM373.4,35.3h0.8v0.8h-0.8zM382.5,39.2h0.8v0.8h-0.8zM390.5,36.3h0.8v0.8h-0.8zM389.9,35.3h0.8v0.8h-0.8zM374.2,38.9h0.8v0.8h-0.8zM369.6,35.8h0.8v0.8h-0.8zM387.0,34.6h0.8v0.8h-0.8zM388.7,34.1h0.8v0.8h-0.8zM387.3,34.7h0.8v0.8h-0.8zM376.4,36.3h0.8v0.8h-0.8zM377.6,35.5h0.8v0.8h-0.8zM374.2,34.7h0.8v0.8h-0.8zM385.5,36.6h0.8v0.8h-0.8zM373.9,33.0h0.8v0.8h-0.8zM381.5,32.0h0.8v0.8h-0.8zM385.9,39.2h0.8v0.8h-0.8zM386.4,35.5h0.8v0.8h-0.8zM375.7,35.4h0.8v0.8h-0.8zM385.4,38.3h0.8v0.8h-0.8zM379.1,36.8h0.8v0.8h-0.8zM379.1,33.6h0.8v0.8h-0.8zM378.6,34.8h0.8v0.8h-0.8zM371.1,33.4h0.8v0.8h-0.8zM392.1,30.4h0.8v0.8h-0.8zM387.9,35.8h0.8v0.8h-0.8zM378.6,32.5h0.8v0.8h-0.8zM389.7,33.5h0.8v0.8h-0.8zM383.8,33.7h0.8v0.8h-0.8zM373.7,36.4h0.8v0.8h-0.8zM386.3,32.2h0.8v0.8h-0.8zM389.4,31.5h0.8v0.8h-0.8zM372.6,36.0h0.8v0.8h-0.8zM378.6,34.2h0.8v0.8h-0.8zM392.9,31.9h0.8v0.8h-0.8zM386.0,33.3h0.8v0.8h-0.8zM382.3,33.7h0.8v0.8h-0.8zM376.1,34.3h0.8v0.8h-0.8zM375.1,34.2h0.8v0.8h-0.8zM374.9,33.6h0.8v0.8h-0.8zM382.6,31.2h0.8v0.8h-0.8zM381.2,35.7h0.8v0.8h-0.8zM382.5,36.2h0.8v0.8h-0.8zM374.6,35.4h0.8v0.8h-0.8zM383.9,28.4h0.8v0.8h-0.8zM381.6,36.1h0.8v0.8h-0.8zM381.2,34.3h0.8v0.8h-0.8zM380.7,33.9h0.8v0.8h-0.8zM374.3,32.7h0.8v0.8h-0.8zM381.5,34.7h0.8v0.8h-0.8zM386.1,35.3h0.8v0.8h-0.8zM381.1,30.9h0.8v0.8h-0.8zM373.2,37.8h0.8v0.8h-0.8zM384.6,35.6h0.8v0.8h-0.8zM374.2,33.2h0.8v0.8h-0.8zM383.5,32.6h0.8v0.8h-0.8zM390.1,32.6h0.8v0.8h-0.8zM378.6,31.8h0.8v0.8h-0.8zM384.2,36.9h0.8v0.8h-0.8zM383.1,34.2h0.8v0.8h-0.8zM379.1,35.9h0.8v0.8h-0.8zM381.6,37.9h0.8v0.8h-0.8zM379.8,33.4h0.8v0.8h-0.8zM378.0,30.2h0.8v0.8h-0.8zM383.3,34.5h0.8v0.8h-0.8zM370.4,31.7h0.8v0.8h-0.8zM374.1,33.5h0.8v0.8h-0.8zM374.5,35.8h0.8v0.8h-0.8zM390.0,32.8h0.8v0.8h-0.8zM381.8,31.9h0.8v0.8h-0.8zM390.9,31.9h0.8v0.8h-0.8zM376.1,34.2h0.8v0.8h-0.8zM375.9,39.8h0.8v0.8h-0.8zM380.3,33.7h0.8v0.8h-0.8zM374.7,34.0h0.8v0.8h-0.8zM377.4,33.3h0.8v0.8h-0.8zM388.6,32.9h0.8v0.8h-0.8zM384.6,32.9h0.8v0.8h-0.8zM388.7,32.6h0.8v0.8h-0.8zM374.8,33.7h0.8v0.8h-0.8zM390.4,33.3h0.8v0.8h-0.8zM375.5,33.9h0.8v0.8h-0.8zM376.6,34.7h0.8v0.8h-0.8zM376.8,34.9h0.8v0.8h-0.8zM387.9,35.2h0.8v0.8h-0.8zM392.2,34.8h0.8v0.8h-0.8zM379.7,35.8h0.8v0.8h-0.8zM376.5,33.8h0.8v0.8h-0.8zM381.0,32.5h0.8v0.8h-0.8zM383.8,34.0h0.8v0.8h-0.8zM379.9,32.8h0.8v0.8h-0.8zM377.9,32.7h0.8v0.8h-0.8zM376.4,34.2h0.8v0.8h-0.8zM372.2,33.5h0.8v0.8h-0.8zM385.1,33.0h0.8v0.8h-0.8zM373.8,33.1h0.8v0.8h-0.8zM387.6,32.6h0.8v0.8h-0.8zM392.5,30.7h0.8v0.8h-0.8zM376.0,35.5h0.8v0.8h-0.8zM391.0,33.8h0.8v0.8h-0.8zM370.1,33.6h0.8v0.8h-0.8zM375.3,32.8h0.8v0.8h-0.8zM379.0,32.9h0.8v0.8h-0.8zM369.7,34.3h0.8v0.8h-0.8zM369.5,31.3h0.8v0.8h-0.8zM369.6,29.9h0.8v0.8h-0.8zM369.8,33.4h0.8v0.8h-0.8zM369.0,37.5h0.8v0.8h-0.8zM371.1,36.3h0.8v0.8h-0.8zM369.9,33.3h0.8v0.8h-0.8zM370.1,36.7h0.8v0.8h-0.8zM369.7,33.9h0.8v0.8h-0.8zM369.3,34.0h0.8v0.8h-0.8zM370.4,32.7h0.8v0.8h-0.8zM370.6,34.3h0.8v0.8h-0.8zM371.5,34.4h0.8v0.8h-0.8zM370.8,32.5h0.8v0.8h-0.8zM371.7,34.3h0.8v0.8h-0.8zM369.7,36.5h0.8v0.8h-0.8zM369.9,32.2h0.8v0.8h-0.8zM370.2,35.0h0.8v0.8h-0.8zM369.8,33.4h0.8v0.8h-0.8zM369.4,34.7h0.8v0.8h-0.8zM369.4,33.0h0.8v0.8h-0.8zM370.0,32.7h0.8v0.8h-0.8zM370.5,31.6h0.8v0.8h-0.8zM370.2,36.0h0.8v0.8h-0.8zM381.3,65.8h0.8v0.8h-0.8zM387.1,63.6h0.8v0.8h-0.8zM382.3,64.4h0.8v0.8h-0.8zM382.5,63.6h0.8v0.8h-0.8zM380.8,61.9h0.8v0.8h-0.8zM380.3,65.6h0.8v0.8h-0.8zM388.6,70.6h0.8v0.8h-0.8zM377.4,61.8h0.8v0.8h-0.8zM383.2,61.8h0.8v0.8h-0.8zM379.8,64.3h0.8v0.8h-0.8zM380.8,62.2h0.8v0.8h-0.8zM384.3,62.4h0.8v0.8h-0.8zM382.1,66.2h0.8v0.8h-0.8zM386.6,65.8h0.8v0.8h-0.8zM388.3,65.6h0.8v0.8h-0.8zM376.6,70.0h0.8v0.8h-0.8zM390.7,68.8h0.8v0.8h-0.8zM381.3,67.2h0.8v0.8h-0.8zM380.2,63.2h0.8v0.8h-0.8zM385.9,65.4h0.8v0.8h-0.8zM380.3,60.3h0.8v0.8h-0.8zM387.0,65.1h0.8v0.8h-0.8zM384.0,62.1h0.8v0.8h-0.8zM379.8,64.9h0.8v0.8h-0.8zM374.8,69.2h0.8v0.8h-0.8zM383.4,68.8h0.8v0.8h-0.8zM387.7,63.2h0.8v0.8h-0.8zM385.7,61.3h0.8v0.8h-0.8zM379.2,69.6h0.8v0.8h-0.8zM380.9,62.5h0.8v0.8h-0.8zM385.5,65.2h0.8v0.8h-0.8zM387.8,60.8h0.8v0.8h-0.8zM382.2,61.5h0.8v0.8h-0.8zM383.5,64.2h0.8v0.8h-0.8zM379.1,59.2h0.8v0.8h-0.8zM377.2,68.2h0.8v0.8h-0.8zM381.7,61.4h0.8v0.8h-0.8zM384.2,61.3h0.8v0.8h-0.8zM387.6,68.0h0.8v0.8h-0.8zM383.6,63.2h0.8v0.8h-0.8zM375.0,66.7h0.8v0.8h-0.8zM392.6,65.8h0.8v0.8h-0.8zM380.9,67.8h0.8v0.8h-0.8zM381.6,61.0h0.8v0.8h-0.8zM382.9,67.1h0.8v0.8h-0.8zM375.0,68.6h0.8v0.8h-0.8zM390.8,65.0h0.8v0.8h-0.8zM381.2,60.3h0.8v0.8h-0.8zM385.8,64.2h0.8v0.8h-0.8zM388.9,70.4h0.8v0.8h-0.8zM389.1,65.7h0.8v0.8h-0.8zM375.1,69.6h0.8v0.8h-0.8zM381.2,63.5h0.8v0.8h-0.8zM388.3,66.7h0.8v0.8h-0.8zM378.6,64.0h0.8v0.8h-0.8zM382.1,64.6h0.8v0.8h-0.8zM378.0,70.1h0.8v0.8h-0.8zM382.8,67.3h0.8v0.8h-0.8zM386.7,62.7h0.8v0.8h-0.8zM381.4,68.1h0.8v0.8h-0.8zM390.9,60.2h0.8v0.8h-0.8zM392.2,63.2h0.8v0.8h-0.8zM382.5,63.7h0.8v0.8h-0.8zM386.1,64.5h0.8v0.8h-0.8zM383.2,62.0h0.8v0.8h-0.8zM390.1,66.3h0.8v0.8h-0.8zM386.4,69.8h0.8v0.8h-0.8zM382.2,65.6h0.8v0.8h-0.8zM382.7,68.1h0.8v0.8h-0.8zM384.7,59.4h0.8v0.8h-0.8zM386.0,64.4h0.8v0.8h-0.8zM384.6,68.4h0.8v0.8h-0.8zM382.2,67.3h0.8v0.8h-0.8zM383.5,64.8h0.8v0.8h-0.8zM381.1,64.8h0.8v0.8h-0.8zM382.0,67.8h0.8v0.8h-0.8zM372.9,67.1h0.8v0.8h-0.8zM383.1,61.6h0.8v0.8h-0.8zM387.0,65.0h0.8v0.8h-0.8zM386.0,69.7h0.8v0.8h-0.8zM384.4,59.8h0.8v0.8h-0.8zM376.1,65.0h0.8v0.8h-0.8zM383.0,59.1h0.8v0.8h-0.8zM373.5,63.3h0.8v0.8h-0.8zM372.4,66.8h0.8v0.8h-0.8zM372.9,68.1h0.8v0.8h-0.8zM381.2,68.9h0.8v0.8h-0.8zM378.1,63.6h0.8v0.8h-0.8zM388.4,59.7h0.8v0.8h-0.8zM386.5,70.0h0.8v0.8h-0.8zM378.9,64.6h0.8v0.8h-0.8zM391.0,70.2h0.8v0.8h-0.8zM390.9,64.8h0.8v0.8h-0.8zM381.8,64.6h0.8v0.8h-0.8zM381.7,67.9h0.8v0.8h-0.8zM387.3,66.9h0.8v0.8h-0.8zM380.3,67.8h0.8v0.8h-0.8zM385.7,66.0h0.8v0.8h-0.8zM389.1,63.9h0.8v0.8h-0.8zM384.0,68.9h0.8v0.8h-0.8zM380.0,68.2h0.8v0.8h-0.8zM386.9,70.2h0.8v0.8h-0.8zM389.4,63.2h0.8v0.8h-0.8zM391.7,63.6h0.8v0.8h-0.8zM378.1,64.2h0.8v0.8h-0.8zM381.9,62.2h0.8v0.8h-0.8zM388.0,66.9h0.8v0.8h-0.8zM386.3,60.5h0.8v0.8h-0.8zM391.8,66.8h0.8v0.8h-0.8zM388.8,66.4h0.8v0.8h-0.8zM385.2,67.8h0.8v0.8h-0.8zM384.3,69.9h0.8v0.8h-0.8zM381.2,58.4h0.8v0.8h-0.8zM381.9,65.2h0.8v0.8h-0.8zM385.4,65.5h0.8v0.8h-0.8zM385.5,66.7h0.8v0.8h-0.8zM382.7,67.1h0.8v0.8h-0.8zM386.1,62.6h0.8v0.8h-0.8zM375.5,66.0h0.8v0.8h-0.8zM385.8,68.8h0.8v0.8h-0.8zM388.6,66.2h0.8v0.8h-0.8zM388.9,63.3h0.8v0.8h-0.8zM381.4,69.8h0.8v0.8h-0.8zM378.1,65.1h0.8v0.8h-0.8zM378.8,61.1h0.8v0.8h-0.8zM391.6,63.7h0.8v0.8h-0.8zM380.1,59.6h0.8v0.8h-0.8zM384.6,67.3h0.8v0.8h-0.8zM386.2,62.2h0.8v0.8h-0.8zM391.0,65.9h0.8v0.8h-0.8zM385.9,67.2h0.8v0.8h-0.8zM386.1,64.2h0.8v0.8h-0.8zM385.2,62.8h0.8v0.8h-0.8zM384.7,62.0h0.8v0.8h-0.8zM377.0,63.2h0.8v0.8h-0.8zM382.9,62.9h0.8v0.8h-0.8zM382.2,63.4h0.8v0.8h-0.8zM383.8,71.1h0.8v0.8h-0.8zM386.2,68.1h0.8v0.8h-0.8zM388.1,68.1h0.8v0.8h-0.8zM385.5,68.1h0.8v0.8h-0.8zM388.5,64.7h0.8v0.8h-0.8zM382.3,65.2h0.8v0.8h-0.8zM383.3,66.8h0.8v0.8h-0.8zM381.6,63.9h0.8v0.8h-0.8zM384.6,66.9h0.8v0.8h-0.8zM383.1,60.3h0.8v0.8h-0.8zM382.5,68.1h0.8v0.8h-0.8zM382.5,69.4h0.8v0.8h-0.8zM381.3,64.4h0.8v0.8h-0.8zM387.2,69.1h0.8v0.8h-0.8zM382.2,70.1h0.8v0.8h-0.8zM384.4,66.6h0.8v0.8h-0.8zM391.7,68.1h0.8v0.8h-0.8zM382.6,65.0h0.8v0.8h-0.8zM379.5,69.0h0.8v0.8h-0.8zM385.2,71.5h0.8v0.8h-0.8zM389.1,65.3h0.8v0.8h-0.8zM380.8,64.2h0.8v0.8h-0.8zM389.3,64.9h0.8v0.8h-0.8zM388.8,69.4h0.8v0.8h-0.8zM390.4,66.1h0.8v0.8h-0.8zM386.8,61.0h0.8v0.8h-0.8zM385.2,65.4h0.8v0.8h-0.8zM387.8,59.4h0.8v0.8h-0.8zM384.4,63.7h0.8v0.8h-0.8zM384.1,64.8h0.8v0.8h-0.8zM382.1,67.3h0.8v0.8h-0.8zM384.8,69.1h0.8v0.8h-0.8zM385.2,70.2h0.8v0.8h-0.8zM377.4,71.3h0.8v0.8h-0.8zM378.5,63.7h0.8v0.8h-0.8zM383.9,60.8h0.8v0.8h-0.8zM380.8,65.8h0.8v0.8h-0.8zM385.5,60.6h0.8v0.8h-0.8zM370.1,67.5h0.8v0.8h-0.8zM376.1,66.4h0.8v0.8h-0.8zM385.7,67.9h0.8v0.8h-0.8zM381.1,63.3h0.8v0.8h-0.8zM379.0,60.9h0.8v0.8h-0.8zM382.5,71.0h0.8v0.8h-0.8zM386.8,62.3h0.8v0.8h-0.8zM377.4,63.2h0.8v0.8h-0.8zM383.5,66.2h0.8v0.8h-0.8zM385.8,69.0h0.8v0.8h-0.8zM377.6,60.1h0.8v0.8h-0.8zM383.2,67.2h0.8v0.8h-0.8zM381.1,66.2h0.8v0.8h-0.8zM383.2,69.1h0.8v0.8h-0.8zM382.6,63.7h0.8v0.8h-0.8zM385.9,68.6h0.8v0.8h-0.8zM380.7,64.9h0.8v0.8h-0.8zM380.3,61.5h0.8v0.8h-0.8zM382.1,64.1h0.8v0.8h-0.8zM379.9,64.8h0.8v0.8h-0.8zM383.2,66.5h0.8v0.8h-0.8zM381.1,60.6h0.8v0.8h-0.8zM383.0,67.6h0.8v0.8h-0.8zM389.3,65.0h0.8v0.8h-0.8zM382.4,62.8h0.8v0.8h-0.8zM390.3,63.3h0.8v0.8h-0.8zM381.3,65.1h0.8v0.8h-0.8zM382.5,65.5h0.8v0.8h-0.8zM385.5,70.9h0.8v0.8h-0.8zM385.9,66.7h0.8v0.8h-0.8zM385.9,68.2h0.8v0.8h-0.8zM382.1,65.0h0.8v0.8h-0.8zM381.9,64.7h0.8v0.8h-0.8zM381.8,67.9h0.8v0.8h-0.8zM388.4,65.1h0.8v0.8h-0.8zM382.2,68.1h0.8v0.8h-0.8zM382.7,67.1h0.8v0.8h-0.8zM380.7,70.0h0.8v0.8h-0.8zM381.5,67.2h0.8v0.8h-0.8zM391.4,66.6h0.8v0.8h-0.8zM382.4,67.8h0.8v0.8h-0.8zM390.5,57.9h0.8v0.8h-0.8zM381.8,64.8h0.8v0.8h-0.8zM387.5,60.3h0.8v0.8h-0.8zM387.3,65.5h0.8v0.8h-0.8zM386.2,61.9h0.8v0.8h-0.8zM384.2,67.3h0.8v0.8h-0.8zM383.3,64.5h0.8v0.8h-0.8zM386.7,65.5h0.8v0.8h-0.8zM377.6,57.8h0.8v0.8h-0.8zM388.6,68.6h0.8v0.8h-0.8zM383.0,64.5h0.8v0.8h-0.8zM386.8,63.5h0.8v0.8h-0.8zM377.8,69.5h0.8v0.8h-0.8zM377.3,63.9h0.8v0.8h-0.8zM389.5,66.9h0.8v0.8h-0.8zM388.6,70.3h0.8v0.8h-0.8zM384.5,60.3h0.8v0.8h-0.8zM375.8,57.8h0.8v0.8h-0.8zM387.0,60.5h0.8v0.8h-0.8zM383.0,65.6h0.8v0.8h-0.8zM385.2,65.2h0.8v0.8h-0.8zM389.5,66.4h0.8v0.8h-0.8zM388.5,65.0h0.8v0.8h-0.8zM383.7,65.8h0.8v0.8h-0.8zM385.8,67.9h0.8v0.8h-0.8zM381.4,67.4h0.8v0.8h-0.8zM386.5,64.9h0.8v0.8h-0.8zM382.6,63.3h0.8v0.8h-0.8zM378.2,66.1h0.8v0.8h-0.8zM380.3,70.7h0.8v0.8h-0.8zM385.1,71.2h0.8v0.8h-0.8zM384.1,60.4h0.8v0.8h-0.8zM385.6,66.0h0.8v0.8h-0.8zM387.5,57.1h0.8v0.8h-0.8zM384.0,70.2h0.8v0.8h-0.8zM384.0,58.4h0.8v0.8h-0.8zM385.5,66.9h0.8v0.8h-0.8zM390.0,67.2h0.8v0.8h-0.8zM379.0,69.3h0.8v0.8h-0.8zM386.8,69.4h0.8v0.8h-0.8zM382.8,68.8h0.8v0.8h-0.8zM374.0,60.7h0.8v0.8h-0.8zM386.4,70.7h0.8v0.8h-0.8zM386.2,65.9h0.8v0.8h-0.8zM382.9,63.9h0.8v0.8h-0.8zM388.7,59.2h0.8v0.8h-0.8zM384.9,70.4h0.8v0.8h-0.8zM376.0,57.6h0.8v0.8h-0.8zM379.1,65.3h0.8v0.8h-0.8zM386.1,63.3h0.8v0.8h-0.8zM387.2,63.5h0.8v0.8h-0.8zM376.2,68.8h0.8v0.8h-0.8zM383.6,63.0h0.8v0.8h-0.8zM376.0,56.7h0.8v0.8h-0.8zM378.7,67.7h0.8v0.8h-0.8zM379.4,60.7h0.8v0.8h-0.8zM380.0,67.3h0.8v0.8h-0.8zM386.4,69.5h0.8v0.8h-0.8zM379.6,70.4h0.8v0.8h-0.8zM391.0,66.8h0.8v0.8h-0.8zM388.5,71.0h0.8v0.8h-0.8zM385.4,62.3h0.8v0.8h-0.8zM386.1,66.6h0.8v0.8h-0.8zM383.9,64.5h0.8v0.8h-0.8zM389.4,65.4h0.8v0.8h-0.8zM377.9,66.4h0.8v0.8h-0.8zM388.3,59.8h0.8v0.8h-0.8zM378.5,66.2h0.8v0.8h-0.8zM385.5,67.2h0.8v0.8h-0.8zM385.0,67.7h0.8v0.8h-0.8zM380.1,64.5h0.8v0.8h-0.8zM383.2,66.8h0.8v0.8h-0.8zM392.7,68.4h0.8v0.8h-0.8zM378.8,66.6h0.8v0.8h-0.8zM391.5,65.7h0.8v0.8h-0.8zM387.2,66.0h0.8v0.8h-0.8zM378.4,65.5h0.8v0.8h-0.8zM381.8,61.0h0.8v0.8h-0.8zM383.0,64.0h0.8v0.8h-0.8zM382.5,67.8h0.8v0.8h-0.8zM378.7,65.6h0.8v0.8h-0.8zM385.4,66.3h0.8v0.8h-0.8zM384.9,65.6h0.8v0.8h-0.8zM376.4,58.2h0.8v0.8h-0.8zM381.0,63.9h0.8v0.8h-0.8zM379.4,62.7h0.8v0.8h-0.8zM381.8,71.2h0.8v0.8h-0.8zM383.2,68.1h0.8v0.8h-0.8zM386.8,65.9h0.8v0.8h-0.8zM388.1,63.4h0.8v0.8h-0.8zM382.8,61.3h0.8v0.8h-0.8zM383.1,68.4h0.8v0.8h-0.8zM379.6,65.0h0.8v0.8h-0.8zM382.5,65.1h0.8v0.8h-0.8zM381.8,66.3h0.8v0.8h-0.8zM377.9,65.8h0.8v0.8h-0.8zM391.4,61.5h0.8v0.8h-0.8zM387.4,62.9h0.8v0.8h-0.8zM381.0,71.5h0.8v0.8h-0.8zM386.8,67.5h0.8v0.8h-0.8zM391.3,67.6h0.8v0.8h-0.8zM383.2,57.4h0.8v0.8h-0.8zM386.9,71.2h0.8v0.8h-0.8zM381.6,61.2h0.8v0.8h-0.8zM375.7,67.3h0.8v0.8h-0.8zM372.5,66.6h0.8v0.8h-0.8zM387.4,63.7h0.8v0.8h-0.8zM378.8,64.3h0.8v0.8h-0.8zM390.8,61.3h0.8v0.8h-0.8zM379.9,67.1h0.8v0.8h-0.8zM380.7,69.8h0.8v0.8h-0.8zM380.2,61.1h0.8v0.8h-0.8zM376.7,64.5h0.8v0.8h-0.8zM388.7,65.3h0.8v0.8h-0.8zM380.9,60.0h0.8v0.8h-0.8zM384.8,63.0h0.8v0.8h-0.8zM377.3,60.9h0.8v0.8h-0.8zM384.5,67.3h0.8v0.8h-0.8zM384.7,69.3h0.8v0.8h-0.8zM386.8,63.2h0.8v0.8h-0.8zM391.4,62.6h0.8v0.8h-0.8zM384.6,65.4h0.8v0.8h-0.8zM388.9,65.1h0.8v0.8h-0.8zM385.1,58.5h0.8v0.8h-0.8zM383.2,65.8h0.8v0.8h-0.8zM390.6,59.3h0.8v0.8h-0.8zM378.0,68.2h0.8v0.8h-0.8zM373.8,59.2h0.8v0.8h-0.8zM381.9,62.2h0.8v0.8h-0.8zM385.9,68.9h0.8v0.8h-0.8zM387.2,62.0h0.8v0.8h-0.8zM380.4,64.6h0.8v0.8h-0.8zM385.5,67.2h0.8v0.8h-0.8zM381.8,68.8h0.8v0.8h-0.8zM386.9,64.2h0.8v0.8h-0.8zM384.5,70.7h0.8v0.8h-0.8zM386.6,64.3h0.8v0.8h-0.8zM382.1,68.6h0.8v0.8h-0.8zM385.4,65.8h0.8v0.8h-0.8zM380.2,64.4h0.8v0.8h-0.8zM384.4,71.3h0.8v0.8h-0.8zM377.6,65.7h0.8v0.8h-0.8zM379.3,60.5h0.8v0.8h-0.8zM389.3,68.8h0.8v0.8h-0.8zM385.8,65.5h0.8v0.8h-0.8zM383.4,67.0h0.8v0.8h-0.8zM385.4,67.2h0.8v0.8h-0.8zM386.6,59.7h0.8v0.8h-0.8zM377.7,65.2h0.8v0.8h-0.8zM383.4,60.7h0.8v0.8h-0.8zM388.0,67.0h0.8v0.8h-0.8zM385.0,68.9h0.8v0.8h-0.8zM386.5,64.9h0.8v0.8h-0.8zM380.8,69.2h0.8v0.8h-0.8zM381.4,62.8h0.8v0.8h-0.8zM379.2,67.7h0.8v0.8h-0.8zM384.8,64.7h0.8v0.8h-0.8zM388.0,62.4h0.8v0.8h-0.8zM387.5,63.5h0.8v0.8h-0.8zM382.9,64.6h0.8v0.8h-0.8zM384.6,70.0h0.8v0.8h-0.8zM380.8,68.8h0.8v0.8h-0.8zM389.4,64.7h0.8v0.8h-0.8zM380.6,61.4h0.8v0.8h-0.8zM382.8,65.7h0.8v0.8h-0.8zM379.3,66.8h0.8v0.8h-0.8zM384.8,68.7h0.8v0.8h-0.8zM379.8,64.8h0.8v0.8h-0.8zM377.6,63.9h0.8v0.8h-0.8zM377.1,69.2h0.8v0.8h-0.8zM373.5,67.3h0.8v0.8h-0.8zM384.2,60.0h0.8v0.8h-0.8zM387.2,69.7h0.8v0.8h-0.8zM391.9,64.4h0.8v0.8h-0.8zM387.1,66.0h0.8v0.8h-0.8zM390.3,65.3h0.8v0.8h-0.8zM388.8,61.8h0.8v0.8h-0.8zM380.5,61.6h0.8v0.8h-0.8zM382.8,61.0h0.8v0.8h-0.8zM384.3,63.3h0.8v0.8h-0.8zM377.1,66.1h0.8v0.8h-0.8zM388.9,67.0h0.8v0.8h-0.8zM385.2,64.5h0.8v0.8h-0.8zM382.8,59.8h0.8v0.8h-0.8zM392.7,59.5h0.8v0.8h-0.8zM379.5,61.7h0.8v0.8h-0.8zM378.6,65.8h0.8v0.8h-0.8zM380.1,63.4h0.8v0.8h-0.8zM385.2,61.1h0.8v0.8h-0.8zM378.4,66.8h0.8v0.8h-0.8zM381.3,58.9h0.8v0.8h-0.8zM386.4,60.3h0.8v0.8h-0.8zM383.5,65.3h0.8v0.8h-0.8zM384.9,66.2h0.8v0.8h-0.8zM381.7,65.1h0.8v0.8h-0.8zM375.9,66.2h0.8v0.8h-0.8zM374.8,67.7h0.8v0.8h-0.8zM380.1,68.2h0.8v0.8h-0.8zM383.3,67.0h0.8v0.8h-0.8zM381.4,64.4h0.8v0.8h-0.8zM385.8,67.5h0.8v0.8h-0.8zM384.2,67.7h0.8v0.8h-0.8zM389.5,64.3h0.8v0.8h-0.8zM381.6,63.0h0.8v0.8h-0.8zM393.2,64.4h0.8v0.8h-0.8zM381.5,63.2h0.8v0.8h-0.8zM379.7,65.7h0.8v0.8h-0.8zM384.2,61.8h0.8v0.8h-0.8zM391.8,68.9h0.8v0.8h-0.8zM382.1,67.0h0.8v0.8h-0.8zM382.7,63.5h0.8v0.8h-0.8zM379.6,62.9h0.8v0.8h-0.8zM391.8,71.0h0.8v0.8h-0.8zM383.0,64.1h0.8v0.8h-0.8zM388.8,62.3h0.8v0.8h-0.8zM387.0,60.0h0.8v0.8h-0.8zM385.4,67.8h0.8v0.8h-0.8zM387.4,70.7h0.8v0.8h-0.8zM389.2,63.8h0.8v0.8h-0.8zM377.2,57.2h0.8v0.8h-0.8zM378.6,64.7h0.8v0.8h-0.8zM385.7,66.7h0.8v0.8h-0.8zM384.1,64.6h0.8v0.8h-0.8zM385.3,69.2h0.8v0.8h-0.8zM383.9,68.5h0.8v0.8h-0.8zM390.3,66.0h0.8v0.8h-0.8zM386.9,66.5h0.8v0.8h-0.8zM389.2,68.3h0.8v0.8h-0.8zM384.7,69.4h0.8v0.8h-0.8zM389.3,66.1h0.8v0.8h-0.8zM378.0,71.4h0.8v0.8h-0.8zM384.8,67.9h0.8v0.8h-0.8zM384.6,64.3h0.8v0.8h-0.8zM378.2,65.4h0.8v0.8h-0.8zM382.8,67.2h0.8v0.8h-0.8zM382.4,65.2h0.8v0.8h-0.8zM387.3,65.4h0.8v0.8h-0.8zM380.9,67.0h0.8v0.8h-0.8zM382.3,61.8h0.8v0.8h-0.8zM378.7,62.3h0.8v0.8h-0.8zM380.9,57.6h0.8v0.8h-0.8zM376.9,63.2h0.8v0.8h-0.8zM381.8,64.7h0.8v0.8h-0.8zM386.3,61.6h0.8v0.8h-0.8zM390.9,66.6h0.8v0.8h-0.8zM372.3,65.1h0.8v0.8h-0.8zM379.0,67.1h0.8v0.8h-0.8zM391.9,60.4h0.8v0.8h-0.8zM384.1,61.5h0.8v0.8h-0.8zM376.7,67.5h0.8v0.8h-0.8zM387.6,62.9h0.8v0.8h-0.8zM381.8,61.0h0.8v0.8h-0.8zM380.5,64.4h0.8v0.8h-0.8zM382.8,67.8h0.8v0.8h-0.8zM384.5,65.1h0.8v0.8h-0.8zM384.1,67.4h0.8v0.8h-0.8zM386.3,60.6h0.8v0.8h-0.8zM382.7,66.7h0.8v0.8h-0.8zM380.0,60.2h0.8v0.8h-0.8zM378.9,61.0h0.8v0.8h-0.8zM382.6,64.7h0.8v0.8h-0.8zM386.1,58.6h0.8v0.8h-0.8zM385.7,68.1h0.8v0.8h-0.8zM387.1,59.2h0.8v0.8h-0.8zM388.7,71.0h0.8v0.8h-0.8zM384.9,63.2h0.8v0.8h-0.8zM390.7,61.9h0.8v0.8h-0.8zM392.0,61.5h0.8v0.8h-0.8zM385.8,66.3h0.8v0.8h-0.8zM384.5,63.2h0.8v0.8h-0.8zM378.8,70.1h0.8v0.8h-0.8zM385.7,62.2h0.8v0.8h-0.8zM377.4,67.9h0.8v0.8h-0.8zM390.0,65.1h0.8v0.8h-0.8zM381.6,67.3h0.8v0.8h-0.8zM385.9,69.5h0.8v0.8h-0.8zM382.9,62.8h0.8v0.8h-0.8zM383.3,60.6h0.8v0.8h-0.8zM378.5,63.4h0.8v0.8h-0.8zM382.8,65.5h0.8v0.8h-0.8zM376.9,64.0h0.8v0.8h-0.8zM392.9,59.3h0.8v0.8h-0.8zM381.9,63.6h0.8v0.8h-0.8zM386.5,62.5h0.8v0.8h-0.8zM384.8,65.8h0.8v0.8h-0.8zM390.1,66.8h0.8v0.8h-0.8zM377.1,65.4h0.8v0.8h-0.8zM380.7,69.3h0.8v0.8h-0.8zM386.1,66.5h0.8v0.8h-0.8zM383.2,62.8h0.8v0.8h-0.8zM388.5,68.4h0.8v0.8h-0.8zM388.9,61.6h0.8v0.8h-0.8zM386.2,65.3h0.8v0.8h-0.8zM378.6,63.1h0.8v0.8h-0.8zM384.1,64.5h0.8v0.8h-0.8zM382.2,64.3h0.8v0.8h-0.8zM383.6,63.7h0.8v0.8h-0.8zM375.6,65.7h0.8v0.8h-0.8zM391.7,64.6h0.8v0.8h-0.8zM384.3,62.4h0.8v0.8h-0.8zM379.8,62.0h0.8v0.8h-0.8zM377.3,65.4h0.8v0.8h-0.8zM379.3,66.3h0.8v0.8h-0.8zM384.0,60.3h0.8v0.8h-0.8zM384.2,63.6h0.8v0.8h-0.8zM378.1,65.1h0.8v0.8h-0.8zM386.0,58.0h0.8v0.8h-0.8zM383.7,65.7h0.8v0.8h-0.8zM392.1,58.4h0.8v0.8h-0.8zM380.2,69.1h0.8v0.8h-0.8zM380.1,67.4h0.8v0.8h-0.8zM378.9,61.2h0.8v0.8h-0.8zM387.1,63.3h0.8v0.8h-0.8zM378.5,65.3h0.8v0.8h-0.8zM389.0,64.8h0.8v0.8h-0.8zM391.3,66.2h0.8v0.8h-0.8zM387.6,67.8h0.8v0.8h-0.8zM382.2,64.2h0.8v0.8h-0.8zM377.3,62.7h0.8v0.8h-0.8zM380.2,68.7h0.8v0.8h-0.8zM381.4,66.4h0.8v0.8h-0.8zM379.8,62.0h0.8v0.8h-0.8zM386.5,59.1h0.8v0.8h-0.8zM383.7,61.8h0.8v0.8h-0.8zM379.6,64.5h0.8v0.8h-0.8zM393.1,68.2h0.8v0.8h-0.8zM387.4,66.8h0.8v0.8h-0.8zM385.9,62.8h0.8v0.8h-0.8zM384.3,64.8h0.8v0.8h-0.8zM386.4,68.2h0.8v0.8h-0.8zM378.1,60.7h0.8v0.8h-0.8zM390.3,61.4h0.8v0.8h-0.8zM388.4,66.3h0.8v0.8h-0.8zM382.9,65.8h0.8v0.8h-0.8zM387.7,64.6h0.8v0.8h-0.8zM391.0,65.2h0.8v0.8h-0.8zM389.6,66.2h0.8v0.8h-0.8zM384.5,67.8h0.8v0.8h-0.8zM382.9,62.9h0.8v0.8h-0.8zM383.2,65.5h0.8v0.8h-0.8zM381.8,67.8h0.8v0.8h-0.8zM385.1,66.2h0.8v0.8h-0.8zM381.9,66.0h0.8v0.8h-0.8zM386.8,64.2h0.8v0.8h-0.8zM382.4,66.1h0.8v0.8h-0.8zM384.6,63.2h0.8v0.8h-0.8zM387.4,66.7h0.8v0.8h-0.8zM392.3,61.2h0.8v0.8h-0.8zM377.6,66.1h0.8v0.8h-0.8zM392.4,68.5h0.8v0.8h-0.8zM383.6,62.6h0.8v0.8h-0.8zM385.0,63.5h0.8v0.8h-0.8zM379.7,65.5h0.8v0.8h-0.8zM380.3,64.1h0.8v0.8h-0.8zM380.1,64.5h0.8v0.8h-0.8zM385.7,65.4h0.8v0.8h-0.8zM384.7,61.6h0.8v0.8h-0.8zM376.8,64.8h0.8v0.8h-0.8zM383.4,67.4h0.8v0.8h-0.8zM377.1,68.3h0.8v0.8h-0.8zM382.9,61.5h0.8v0.8h-0.8zM380.7,63.6h0.8v0.8h-0.8zM389.7,63.6h0.8v0.8h-0.8zM385.0,62.1h0.8v0.8h-0.8zM377.1,62.7h0.8v0.8h-0.8zM375.9,64.0h0.8v0.8h-0.8zM382.4,71.1h0.8v0.8h-0.8zM381.2,68.9h0.8v0.8h-0.8zM386.4,67.9h0.8v0.8h-0.8zM384.4,64.6h0.8v0.8h-0.8zM385.7,69.1h0.8v0.8h-0.8zM379.7,60.9h0.8v0.8h-0.8zM380.7,60.2h0.8v0.8h-0.8zM381.4,64.0h0.8v0.8h-0.8zM379.9,64.4h0.8v0.8h-0.8zM389.0,65.3h0.8v0.8h-0.8zM388.6,64.6h0.8v0.8h-0.8zM383.9,60.5h0.8v0.8h-0.8zM389.1,66.2h0.8v0.8h-0.8zM390.2,64.8h0.8v0.8h-0.8zM378.3,58.3h0.8v0.8h-0.8zM387.0,61.5h0.8v0.8h-0.8zM378.0,66.0h0.8v0.8h-0.8zM379.7,71.2h0.8v0.8h-0.8zM380.9,68.3h0.8v0.8h-0.8zM380.4,63.3h0.8v0.8h-0.8zM382.3,64.5h0.8v0.8h-0.8zM385.0,64.0h0.8v0.8h-0.8zM389.9,60.4h0.8v0.8h-0.8zM385.3,59.7h0.8v0.8h-0.8zM385.8,69.3h0.8v0.8h-0.8zM390.5,67.3h0.8v0.8h-0.8zM384.2,62.9h0.8v0.8h-0.8zM381.6,65.7h0.8v0.8h-0.8zM380.0,60.6h0.8v0.8h-0.8zM389.4,66.9h0.8v0.8h-0.8zM385.6,63.7h0.8v0.8h-0.8zM386.6,63.7h0.8v0.8h-0.8zM385.4,65.3h0.8v0.8h-0.8zM383.6,63.0h0.8v0.8h-0.8zM386.6,62.4h0.8v0.8h-0.8zM390.8,68.3h0.8v0.8h-0.8zM382.4,66.8h0.8v0.8h-0.8zM387.4,65.3h0.8v0.8h-0.8zM378.3,66.2h0.8v0.8h-0.8zM381.9,64.5h0.8v0.8h-0.8zM393.1,65.3h0.8v0.8h-0.8zM376.9,67.7h0.8v0.8h-0.8zM388.4,62.4h0.8v0.8h-0.8zM383.3,62.8h0.8v0.8h-0.8zM384.8,69.2h0.8v0.8h-0.8zM384.3,70.0h0.8v0.8h-0.8zM382.4,68.3h0.8v0.8h-0.8zM379.7,67.7h0.8v0.8h-0.8zM391.1,68.6h0.8v0.8h-0.8zM390.9,68.5h0.8v0.8h-0.8zM383.7,67.7h0.8v0.8h-0.8zM387.6,66.0h0.8v0.8h-0.8zM387.7,64.3h0.8v0.8h-0.8zM379.8,70.1h0.8v0.8h-0.8zM384.5,70.9h0.8v0.8h-0.8zM392.4,63.8h0.8v0.8h-0.8zM391.3,66.7h0.8v0.8h-0.8zM385.5,59.3h0.8v0.8h-0.8zM381.6,64.4h0.8v0.8h-0.8zM380.8,61.2h0.8v0.8h-0.8zM375.7,65.7h0.8v0.8h-0.8zM385.3,68.2h0.8v0.8h-0.8zM376.9,59.9h0.8v0.8h-0.8zM393.1,64.8h0.8v0.8h-0.8zM383.1,68.7h0.8v0.8h-0.8zM378.5,64.6h0.8v0.8h-0.8zM387.4,66.7h0.8v0.8h-0.8zM387.6,63.8h0.8v0.8h-0.8zM390.5,60.3h0.8v0.8h-0.8zM373.3,64.5h0.8v0.8h-0.8zM384.1,65.1h0.8v0.8h-0.8zM373.9,60.6h0.8v0.8h-0.8zM381.9,68.2h0.8v0.8h-0.8zM389.0,70.9h0.8v0.8h-0.8zM377.8,63.4h0.8v0.8h-0.8zM375.4,61.1h0.8v0.8h-0.8zM377.7,64.7h0.8v0.8h-0.8zM379.6,66.2h0.8v0.8h-0.8zM390.0,64.3h0.8v0.8h-0.8zM381.5,65.3h0.8v0.8h-0.8zM382.6,64.4h0.8v0.8h-0.8zM380.4,65.6h0.8v0.8h-0.8zM381.0,66.7h0.8v0.8h-0.8zM384.3,68.8h0.8v0.8h-0.8zM386.1,67.0h0.8v0.8h-0.8zM383.1,63.7h0.8v0.8h-0.8zM386.2,62.3h0.8v0.8h-0.8zM385.4,70.9h0.8v0.8h-0.8zM380.4,67.5h0.8v0.8h-0.8zM386.4,65.2h0.8v0.8h-0.8zM388.5,63.7h0.8v0.8h-0.8zM377.9,67.0h0.8v0.8h-0.8zM385.7,66.2h0.8v0.8h-0.8zM387.7,61.5h0.8v0.8h-0.8zM379.7,71.3h0.8v0.8h-0.8zM382.2,68.8h0.8v0.8h-0.8zM385.5,58.7h0.8v0.8h-0.8zM384.4,67.8h0.8v0.8h-0.8zM377.6,64.8h0.8v0.8h-0.8zM378.5,64.2h0.8v0.8h-0.8zM384.1,62.7h0.8v0.8h-0.8zM377.2,67.2h0.8v0.8h-0.8zM386.2,63.5h0.8v0.8h-0.8zM380.3,68.2h0.8v0.8h-0.8zM382.9,69.2h0.8v0.8h-0.8zM386.6,64.3h0.8v0.8h-0.8zM388.2,59.0h0.8v0.8h-0.8zM379.2,65.4h0.8v0.8h-0.8zM387.8,68.1h0.8v0.8h-0.8zM386.0,62.4h0.8v0.8h-0.8zM383.2,71.6h0.8v0.8h-0.8zM386.8,68.9h0.8v0.8h-0.8zM384.1,61.2h0.8v0.8h-0.8zM381.8,69.6h0.8v0.8h-0.8zM380.0,69.5h0.8v0.8h-0.8zM385.8,59.3h0.8v0.8h-0.8zM383.9,63.5h0.8v0.8h-0.8zM382.7,70.2h0.8v0.8h-0.8zM377.1,59.8h0.8v0.8h-0.8zM382.0,65.6h0.8v0.8h-0.8zM384.8,65.7h0.8v0.8h-0.8zM379.5,64.5h0.8v0.8h-0.8zM387.4,66.4h0.8v0.8h-0.8zM384.6,60.1h0.8v0.8h-0.8zM375.4,67.3h0.8v0.8h-0.8zM377.6,67.5h0.8v0.8h-0.8zM385.0,64.9h0.8v0.8h-0.8zM377.9,63.3h0.8v0.8h-0.8zM389.6,64.3h0.8v0.8h-0.8zM383.3,67.1h0.8v0.8h-0.8zM380.9,64.5h0.8v0.8h-0.8zM384.8,67.3h0.8v0.8h-0.8zM380.9,61.7h0.8v0.8h-0.8zM386.9,63.6h0.8v0.8h-0.8zM383.7,61.7h0.8v0.8h-0.8zM385.0,68.3h0.8v0.8h-0.8zM378.4,65.8h0.8v0.8h-0.8zM377.6,62.4h0.8v0.8h-0.8zM387.4,69.2h0.8v0.8h-0.8zM385.6,62.1h0.8v0.8h-0.8zM383.1,67.8h0.8v0.8h-0.8zM381.7,64.1h0.8v0.8h-0.8zM384.4,68.0h0.8v0.8h-0.8zM380.7,60.0h0.8v0.8h-0.8zM381.0,64.7h0.8v0.8h-0.8zM382.5,66.2h0.8v0.8h-0.8zM388.6,65.1h0.8v0.8h-0.8zM385.3,63.0h0.8v0.8h-0.8zM383.1,67.1h0.8v0.8h-0.8zM378.2,68.6h0.8v0.8h-0.8zM379.6,64.2h0.8v0.8h-0.8zM386.0,67.2h0.8v0.8h-0.8zM383.9,63.1h0.8v0.8h-0.8zM392.3,64.9h0.8v0.8h-0.8zM383.7,65.4h0.8v0.8h-0.8zM384.1,64.3h0.8v0.8h-0.8zM380.9,61.7h0.8v0.8h-0.8zM378.3,67.6h0.8v0.8h-0.8zM391.1,65.8h0.8v0.8h-0.8zM384.2,64.4h0.8v0.8h-0.8zM381.8,71.6h0.8v0.8h-0.8zM384.3,67.0h0.8v0.8h-0.8zM386.5,65.0h0.8v0.8h-0.8zM383.9,65.6h0.8v0.8h-0.8zM386.5,67.3h0.8v0.8h-0.8zM391.0,63.8h0.8v0.8h-0.8zM385.4,68.3h0.8v0.8h-0.8zM380.9,64.6h0.8v0.8h-0.8zM386.3,66.0h0.8v0.8h-0.8zM383.1,66.1h0.8v0.8h-0.8zM378.7,65.8h0.8v0.8h-0.8zM375.3,63.1h0.8v0.8h-0.8zM374.7,69.3h0.8v0.8h-0.8zM387.1,64.5h0.8v0.8h-0.8zM373.4,61.2h0.8v0.8h-0.8zM376.6,65.2h0.8v0.8h-0.8zM387.3,67.1h0.8v0.8h-0.8zM381.8,63.3h0.8v0.8h-0.8zM388.0,64.6h0.8v0.8h-0.8zM376.2,62.8h0.8v0.8h-0.8zM380.8,70.1h0.8v0.8h-0.8zM382.6,59.4h0.8v0.8h-0.8zM381.8,68.0h0.8v0.8h-0.8zM379.2,63.4h0.8v0.8h-0.8zM377.6,66.0h0.8v0.8h-0.8zM383.6,63.3h0.8v0.8h-0.8zM384.1,66.9h0.8v0.8h-0.8zM380.4,64.9h0.8v0.8h-0.8zM386.3,64.2h0.8v0.8h-0.8zM376.1,67.1h0.8v0.8h-0.8zM383.1,66.6h0.8v0.8h-0.8zM384.3,70.5h0.8v0.8h-0.8zM377.0,71.9h0.8v0.8h-0.8zM385.7,67.6h0.8v0.8h-0.8zM379.4,65.3h0.8v0.8h-0.8zM382.9,66.7h0.8v0.8h-0.8zM375.9,65.0h0.8v0.8h-0.8zM380.4,63.0h0.8v0.8h-0.8zM381.0,67.2h0.8v0.8h-0.8zM387.8,67.4h0.8v0.8h-0.8zM375.5,63.9h0.8v0.8h-0.8zM384.5,65.6h0.8v0.8h-0.8zM387.1,63.4h0.8v0.8h-0.8zM382.0,58.3h0.8v0.8h-0.8zM383.0,67.3h0.8v0.8h-0.8zM384.2,62.4h0.8v0.8h-0.8zM383.3,65.2h0.8v0.8h-0.8zM379.2,63.4h0.8v0.8h-0.8zM384.3,67.4h0.8v0.8h-0.8zM392.3,62.0h0.8v0.8h-0.8zM382.0,68.0h0.8v0.8h-0.8zM381.2,67.9h0.8v0.8h-0.8zM374.8,71.0h0.8v0.8h-0.8zM387.8,65.5h0.8v0.8h-0.8zM377.5,63.8h0.8v0.8h-0.8zM379.8,69.9h0.8v0.8h-0.8zM381.1,66.0h0.8v0.8h-0.8zM386.2,64.0h0.8v0.8h-0.8zM380.5,57.7h0.8v0.8h-0.8zM387.2,70.2h0.8v0.8h-0.8zM384.2,62.1h0.8v0.8h-0.8zM385.7,64.3h0.8v0.8h-0.8zM370.8,64.1h0.8v0.8h-0.8zM374.2,64.1h0.8v0.8h-0.8zM378.1,68.0h0.8v0.8h-0.8zM376.3,65.7h0.8v0.8h-0.8zM382.8,59.8h0.8v0.8h-0.8zM383.7,62.8h0.8v0.8h-0.8zM378.8,60.2h0.8v0.8h-0.8zM383.4,63.1h0.8v0.8h-0.8zM382.7,65.0h0.8v0.8h-0.8zM390.0,64.3h0.8v0.8h-0.8zM383.7,69.8h0.8v0.8h-0.8zM381.2,69.2h0.8v0.8h-0.8zM385.6,58.7h0.8v0.8h-0.8zM390.2,64.6h0.8v0.8h-0.8zM378.1,64.2h0.8v0.8h-0.8zM384.2,65.9h0.8v0.8h-0.8zM393.0,59.3h0.8v0.8h-0.8zM384.9,63.3h0.8v0.8h-0.8zM381.4,63.6h0.8v0.8h-0.8zM379.9,70.6h0.8v0.8h-0.8zM384.2,65.0h0.8v0.8h-0.8zM384.8,59.9h0.8v0.8h-0.8zM382.7,63.4h0.8v0.8h-0.8zM379.0,69.7h0.8v0.8h-0.8zM384.3,67.2h0.8v0.8h-0.8zM380.7,65.5h0.8v0.8h-0.8zM383.3,67.2h0.8v0.8h-0.8zM384.0,66.7h0.8v0.8h-0.8zM379.9,66.8h0.8v0.8h-0.8zM385.3,66.8h0.8v0.8h-0.8zM382.1,65.9h0.8v0.8h-0.8zM383.1,66.2h0.8v0.8h-0.8zM383.3,63.5h0.8v0.8h-0.8zM381.1,65.6h0.8v0.8h-0.8zM378.4,56.8h0.8v0.8h-0.8zM383.0,63.8h0.8v0.8h-0.8zM384.4,67.1h0.8v0.8h-0.8zM384.9,64.3h0.8v0.8h-0.8zM384.1,59.4h0.8v0.8h-0.8zM385.9,62.1h0.8v0.8h-0.8zM379.8,66.8h0.8v0.8h-0.8zM380.5,62.0h0.8v0.8h-0.8zM382.1,61.7h0.8v0.8h-0.8zM386.9,61.4h0.8v0.8h-0.8zM382.9,68.7h0.8v0.8h-0.8zM388.0,66.2h0.8v0.8h-0.8zM377.8,67.2h0.8v0.8h-0.8zM389.0,68.3h0.8v0.8h-0.8zM386.0,67.2h0.8v0.8h-0.8zM382.8,66.4h0.8v0.8h-0.8zM385.1,65.2h0.8v0.8h-0.8zM389.2,62.2h0.8v0.8h-0.8zM389.1,63.2h0.8v0.8h-0.8zM378.7,64.1h0.8v0.8h-0.8zM379.6,64.3h0.8v0.8h-0.8zM386.2,69.2h0.8v0.8h-0.8zM388.7,62.7h0.8v0.8h-0.8zM385.2,69.4h0.8v0.8h-0.8zM388.3,70.9h0.8v0.8h-0.8zM383.7,61.9h0.8v0.8h-0.8zM379.2,71.6h0.8v0.8h-0.8zM381.8,65.7h0.8v0.8h-0.8zM381.1,62.1h0.8v0.8h-0.8zM390.2,69.7h0.8v0.8h-0.8zM384.2,67.3h0.8v0.8h-0.8zM380.1,64.7h0.8v0.8h-0.8zM381.0,68.4h0.8v0.8h-0.8zM389.1,63.3h0.8v0.8h-0.8zM375.6,67.9h0.8v0.8h-0.8zM392.7,61.8h0.8v0.8h-0.8zM391.7,66.2h0.8v0.8h-0.8zM384.7,59.9h0.8v0.8h-0.8zM382.5,60.3h0.8v0.8h-0.8zM384.4,62.8h0.8v0.8h-0.8zM380.6,64.7h0.8v0.8h-0.8zM384.1,69.9h0.8v0.8h-0.8zM383.9,65.5h0.8v0.8h-0.8zM378.8,62.0h0.8v0.8h-0.8zM384.4,64.8h0.8v0.8h-0.8zM382.6,66.8h0.8v0.8h-0.8zM390.6,62.0h0.8v0.8h-0.8zM386.5,68.3h0.8v0.8h-0.8zM381.1,60.8h0.8v0.8h-0.8zM377.8,65.7h0.8v0.8h-0.8zM383.9,66.4h0.8v0.8h-0.8zM386.5,68.6h0.8v0.8h-0.8zM389.4,70.7h0.8v0.8h-0.8zM383.3,65.7h0.8v0.8h-0.8zM379.4,61.2h0.8v0.8h-0.8zM383.3,61.5h0.8v0.8h-0.8zM389.5,62.6h0.8v0.8h-0.8zM391.0,62.8h0.8v0.8h-0.8zM382.8,68.8h0.8v0.8h-0.8zM385.3,69.8h0.8v0.8h-0.8zM379.6,67.6h0.8v0.8h-0.8zM381.6,66.8h0.8v0.8h-0.8zM377.2,62.3h0.8v0.8h-0.8zM382.1,66.7h0.8v0.8h-0.8zM378.7,62.1h0.8v0.8h-0.8zM375.3,63.3h0.8v0.8h-0.8zM390.8,63.1h0.8v0.8h-0.8zM374.7,60.5h0.8v0.8h-0.8zM378.4,63.6h0.8v0.8h-0.8zM384.6,68.1h0.8v0.8h-0.8zM381.1,67.2h0.8v0.8h-0.8zM383.1,67.3h0.8v0.8h-0.8zM388.2,67.8h0.8v0.8h-0.8zM375.9,67.6h0.8v0.8h-0.8zM381.8,57.5h0.8v0.8h-0.8zM385.4,64.3h0.8v0.8h-0.8zM377.8,58.7h0.8v0.8h-0.8zM385.7,66.1h0.8v0.8h-0.8zM386.4,65.5h0.8v0.8h-0.8zM392.4,62.9h0.8v0.8h-0.8zM383.8,65.5h0.8v0.8h-0.8zM390.7,69.4h0.8v0.8h-0.8zM380.9,69.2h0.8v0.8h-0.8zM380.4,67.9h0.8v0.8h-0.8zM376.3,59.1h0.8v0.8h-0.8zM387.9,66.6h0.8v0.8h-0.8zM381.7,59.4h0.8v0.8h-0.8zM380.9,63.2h0.8v0.8h-0.8zM386.8,65.6h0.8v0.8h-0.8zM374.4,62.5h0.8v0.8h-0.8zM378.2,62.8h0.8v0.8h-0.8zM377.8,69.0h0.8v0.8h-0.8zM388.6,64.5h0.8v0.8h-0.8zM380.0,61.9h0.8v0.8h-0.8zM387.8,66.8h0.8v0.8h-0.8zM388.8,63.2h0.8v0.8h-0.8zM381.1,66.7h0.8v0.8h-0.8zM378.2,69.3h0.8v0.8h-0.8zM380.8,60.9h0.8v0.8h-0.8zM387.7,64.2h0.8v0.8h-0.8zM382.1,69.8h0.8v0.8h-0.8zM390.0,62.9h0.8v0.8h-0.8zM388.9,60.2h0.8v0.8h-0.8zM390.0,65.9h0.8v0.8h-0.8zM383.7,70.3h0.8v0.8h-0.8zM385.4,59.2h0.8v0.8h-0.8zM385.1,68.3h0.8v0.8h-0.8zM388.2,70.5h0.8v0.8h-0.8zM381.8,61.0h0.8v0.8h-0.8zM376.3,63.5h0.8v0.8h-0.8zM380.7,65.8h0.8v0.8h-0.8zM391.1,63.5h0.8v0.8h-0.8zM377.6,65.3h0.8v0.8h-0.8zM384.4,67.6h0.8v0.8h-0.8zM389.9,66.9h0.8v0.8h-0.8zM384.9,62.8h0.8v0.8h-0.8zM385.2,68.6h0.8v0.8h-0.8zM381.9,70.8h0.8v0.8h-0.8zM383.6,67.8h0.8v0.8h-0.8zM376.0,69.0h0.8v0.8h-0.8zM383.0,63.6h0.8v0.8h-0.8zM384.5,66.1h0.8v0.8h-0.8zM380.2,60.9h0.8v0.8h-0.8zM385.4,67.6h0.8v0.8h-0.8zM384.4,64.3h0.8v0.8h-0.8zM382.5,58.9h0.8v0.8h-0.8zM381.2,62.7h0.8v0.8h-0.8zM382.8,57.5h0.8v0.8h-0.8zM377.5,63.5h0.8v0.8h-0.8zM375.0,60.6h0.8v0.8h-0.8zM390.2,64.4h0.8v0.8h-0.8zM381.1,65.3h0.8v0.8h-0.8zM378.7,65.5h0.8v0.8h-0.8zM381.2,61.7h0.8v0.8h-0.8zM383.7,67.5h0.8v0.8h-0.8zM383.5,60.8h0.8v0.8h-0.8zM383.9,63.0h0.8v0.8h-0.8zM381.3,65.8h0.8v0.8h-0.8zM385.5,68.0h0.8v0.8h-0.8zM387.8,67.7h0.8v0.8h-0.8zM391.5,69.1h0.8v0.8h-0.8zM390.7,69.3h0.8v0.8h-0.8zM381.8,68.1h0.8v0.8h-0.8zM388.8,68.0h0.8v0.8h-0.8zM389.6,67.4h0.8v0.8h-0.8zM379.9,64.6h0.8v0.8h-0.8zM379.2,60.9h0.8v0.8h-0.8zM392.8,68.2h0.8v0.8h-0.8zM389.3,60.9h0.8v0.8h-0.8zM387.2,63.8h0.8v0.8h-0.8zM386.9,67.8h0.8v0.8h-0.8zM389.5,62.7h0.8v0.8h-0.8zM389.4,68.8h0.8v0.8h-0.8zM385.3,61.7h0.8v0.8h-0.8zM378.0,59.7h0.8v0.8h-0.8zM376.3,68.0h0.8v0.8h-0.8zM376.2,62.7h0.8v0.8h-0.8zM385.0,63.6h0.8v0.8h-0.8zM385.8,69.4h0.8v0.8h-0.8zM381.3,67.5h0.8v0.8h-0.8zM388.5,65.2h0.8v0.8h-0.8zM388.2,65.2h0.8v0.8h-0.8zM384.5,68.4h0.8v0.8h-0.8zM382.6,64.7h0.8v0.8h-0.8zM386.2,68.8h0.8v0.8h-0.8zM378.8,69.1h0.8v0.8h-0.8zM384.6,66.1h0.8v0.8h-0.8zM390.0,62.2h0.8v0.8h-0.8zM379.6,61.6h0.8v0.8h-0.8zM384.4,67.0h0.8v0.8h-0.8zM376.9,67.0h0.8v0.8h-0.8zM378.2,66.1h0.8v0.8h-0.8zM383.8,68.6h0.8v0.8h-0.8zM387.3,57.5h0.8v0.8h-0.8zM380.1,67.9h0.8v0.8h-0.8zM386.3,61.9h0.8v0.8h-0.8zM385.9,66.8h0.8v0.8h-0.8zM383.3,65.4h0.8v0.8h-0.8zM392.5,68.0h0.8v0.8h-0.8zM387.8,59.7h0.8v0.8h-0.8zM382.1,68.2h0.8v0.8h-0.8zM384.9,64.8h0.8v0.8h-0.8zM379.5,66.5h0.8v0.8h-0.8zM383.2,60.0h0.8v0.8h-0.8zM375.5,60.5h0.8v0.8h-0.8zM380.9,63.9h0.8v0.8h-0.8zM379.9,65.1h0.8v0.8h-0.8zM390.5,61.9h0.8v0.8h-0.8zM388.8,68.1h0.8v0.8h-0.8zM378.6,60.6h0.8v0.8h-0.8zM387.2,68.8h0.8v0.8h-0.8zM387.3,67.5h0.8v0.8h-0.8zM380.7,67.6h0.8v0.8h-0.8zM378.9,67.4h0.8v0.8h-0.8zM387.8,67.9h0.8v0.8h-0.8zM389.9,67.6h0.8v0.8h-0.8zM388.7,66.1h0.8v0.8h-0.8zM391.5,65.3h0.8v0.8h-0.8zM390.6,63.2h0.8v0.8h-0.8zM378.6,66.2h0.8v0.8h-0.8zM383.6,63.8h0.8v0.8h-0.8zM380.3,68.3h0.8v0.8h-0.8zM385.9,68.5h0.8v0.8h-0.8zM382.0,66.7h0.8v0.8h-0.8zM379.3,63.3h0.8v0.8h-0.8zM387.5,68.2h0.8v0.8h-0.8zM384.4,69.6h0.8v0.8h-0.8zM380.4,70.1h0.8v0.8h-0.8zM383.2,65.1h0.8v0.8h-0.8zM379.5,70.1h0.8v0.8h-0.8zM379.4,70.2h0.8v0.8h-0.8zM390.3,59.3h0.8v0.8h-0.8zM383.6,61.6h0.8v0.8h-0.8zM381.6,65.4h0.8v0.8h-0.8zM382.5,67.7h0.8v0.8h-0.8zM385.9,59.5h0.8v0.8h-0.8zM378.2,61.0h0.8v0.8h-0.8zM377.5,67.3h0.8v0.8h-0.8zM383.0,65.6h0.8v0.8h-0.8zM374.2,64.2h0.8v0.8h-0.8zM373.6,65.3h0.8v0.8h-0.8zM380.8,66.9h0.8v0.8h-0.8zM386.1,68.2h0.8v0.8h-0.8zM382.7,66.7h0.8v0.8h-0.8zM384.4,61.7h0.8v0.8h-0.8zM384.0,69.2h0.8v0.8h-0.8zM380.3,69.3h0.8v0.8h-0.8zM382.3,69.9h0.8v0.8h-0.8zM383.9,62.5h0.8v0.8h-0.8zM384.6,69.5h0.8v0.8h-0.8zM375.0,62.1h0.8v0.8h-0.8zM385.5,61.7h0.8v0.8h-0.8zM375.4,65.4h0.8v0.8h-0.8zM381.4,64.4h0.8v0.8h-0.8zM381.8,66.3h0.8v0.8h-0.8zM379.6,60.0h0.8v0.8h-0.8zM382.5,64.3h0.8v0.8h-0.8zM382.8,65.6h0.8v0.8h-0.8zM380.4,60.0h0.8v0.8h-0.8zM385.7,70.3h0.8v0.8h-0.8zM385.9,65.8h0.8v0.8h-0.8zM386.4,64.1h0.8v0.8h-0.8zM377.1,58.8h0.8v0.8h-0.8zM384.0,61.5h0.8v0.8h-0.8zM379.3,66.7h0.8v0.8h-0.8zM388.0,70.1h0.8v0.8h-0.8zM375.7,64.5h0.8v0.8h-0.8zM380.2,65.5h0.8v0.8h-0.8zM383.4,66.9h0.8v0.8h-0.8zM382.5,61.3h0.8v0.8h-0.8zM374.1,71.3h0.8v0.8h-0.8zM380.7,67.6h0.8v0.8h-0.8zM384.1,67.9h0.8v0.8h-0.8zM383.6,69.3h0.8v0.8h-0.8zM379.0,67.1h0.8v0.8h-0.8zM385.7,62.5h0.8v0.8h-0.8zM379.2,62.7h0.8v0.8h-0.8zM383.1,64.7h0.8v0.8h-0.8zM381.4,64.8h0.8v0.8h-0.8zM379.0,67.9h0.8v0.8h-0.8zM378.8,64.7h0.8v0.8h-0.8zM376.0,71.6h0.8v0.8h-0.8zM383.8,67.8h0.8v0.8h-0.8zM375.8,67.3h0.8v0.8h-0.8zM385.5,64.0h0.8v0.8h-0.8zM378.5,67.6h0.8v0.8h-0.8zM376.5,65.6h0.8v0.8h-0.8zM381.4,65.1h0.8v0.8h-0.8zM377.5,66.9h0.8v0.8h-0.8zM372.9,66.3h0.8v0.8h-0.8zM382.3,69.3h0.8v0.8h-0.8zM370.6,65.5h0.8v0.8h-0.8zM385.1,63.1h0.8v0.8h-0.8zM374.6,67.0h0.8v0.8h-0.8zM375.3,63.7h0.8v0.8h-0.8zM375.1,66.6h0.8v0.8h-0.8zM379.1,67.1h0.8v0.8h-0.8zM372.1,61.1h0.8v0.8h-0.8zM381.1,65.7h0.8v0.8h-0.8zM378.5,67.2h0.8v0.8h-0.8zM383.9,69.4h0.8v0.8h-0.8zM375.8,68.4h0.8v0.8h-0.8zM380.1,70.4h0.8v0.8h-0.8zM387.1,67.0h0.8v0.8h-0.8zM374.3,67.7h0.8v0.8h-0.8zM375.1,66.0h0.8v0.8h-0.8zM382.2,64.2h0.8v0.8h-0.8zM370.2,64.3h0.8v0.8h-0.8zM373.9,61.1h0.8v0.8h-0.8zM380.5,67.7h0.8v0.8h-0.8zM379.1,69.5h0.8v0.8h-0.8zM379.0,68.9h0.8v0.8h-0.8zM375.1,67.5h0.8v0.8h-0.8zM376.8,62.6h0.8v0.8h-0.8zM379.1,63.3h0.8v0.8h-0.8zM381.9,61.1h0.8v0.8h-0.8zM370.3,70.0h0.8v0.8h-0.8zM380.6,65.1h0.8v0.8h-0.8zM370.3,64.1h0.8v0.8h-0.8zM375.6,71.3h0.8v0.8h-0.8zM371.1,71.0h0.8v0.8h-0.8zM380.8,64.0h0.8v0.8h-0.8zM383.5,66.3h0.8v0.8h-0.8zM374.9,65.0h0.8v0.8h-0.8zM381.6,64.4h0.8v0.8h-0.8zM375.2,65.6h0.8v0.8h-0.8zM377.4,62.3h0.8v0.8h-0.8zM383.8,71.6h0.8v0.8h-0.8zM377.6,67.6h0.8v0.8h-0.8zM377.3,62.9h0.8v0.8h-0.8zM379.4,63.0h0.8v0.8h-0.8zM372.0,64.4h0.8v0.8h-0.8zM379.7,64.7h0.8v0.8h-0.8zM381.5,68.2h0.8v0.8h-0.8zM382.1,70.4h0.8v0.8h-0.8zM376.0,68.4h0.8v0.8h-0.8zM380.7,67.2h0.8v0.8h-0.8zM376.0,67.8h0.8v0.8h-0.8zM378.8,68.4h0.8v0.8h-0.8zM377.7,64.5h0.8v0.8h-0.8zM372.2,65.9h0.8v0.8h-0.8zM385.3,66.8h0.8v0.8h-0.8zM378.1,63.8h0.8v0.8h-0.8zM379.5,66.4h0.8v0.8h-0.8zM378.8,65.4h0.8v0.8h-0.8zM373.9,63.5h0.8v0.8h-0.8zM375.6,63.3h0.8v0.8h-0.8zM373.7,67.0h0.8v0.8h-0.8zM378.1,64.6h0.8v0.8h-0.8zM377.5,69.5h0.8v0.8h-0.8zM373.3,68.1h0.8v0.8h-0.8zM369.8,70.9h0.8v0.8h-0.8zM385.3,66.6h0.8v0.8h-0.8zM380.6,67.5h0.8v0.8h-0.8zM370.2,69.0h0.8v0.8h-0.8zM381.2,68.6h0.8v0.8h-0.8zM379.2,62.6h0.8v0.8h-0.8zM379.0,63.8h0.8v0.8h-0.8zM375.7,69.4h0.8v0.8h-0.8zM378.0,57.6h0.8v0.8h-0.8zM382.0,61.7h0.8v0.8h-0.8zM373.1,63.0h0.8v0.8h-0.8zM383.0,62.1h0.8v0.8h-0.8zM379.4,67.9h0.8v0.8h-0.8zM369.4,70.3h0.8v0.8h-0.8zM375.1,71.1h0.8v0.8h-0.8zM376.3,70.5h0.8v0.8h-0.8zM386.4,59.5h0.8v0.8h-0.8zM373.1,64.2h0.8v0.8h-0.8zM381.8,71.1h0.8v0.8h-0.8zM378.5,67.5h0.8v0.8h-0.8zM381.1,63.2h0.8v0.8h-0.8zM375.5,66.5h0.8v0.8h-0.8zM383.4,63.9h0.8v0.8h-0.8zM380.6,63.8h0.8v0.8h-0.8zM373.2,66.4h0.8v0.8h-0.8zM378.7,66.3h0.8v0.8h-0.8zM374.9,64.4h0.8v0.8h-0.8zM381.7,61.7h0.8v0.8h-0.8zM375.4,62.6h0.8v0.8h-0.8zM378.3,70.0h0.8v0.8h-0.8zM376.4,64.0h0.8v0.8h-0.8zM376.5,66.2h0.8v0.8h-0.8zM376.0,63.2h0.8v0.8h-0.8zM379.3,70.6h0.8v0.8h-0.8zM378.8,64.0h0.8v0.8h-0.8zM383.3,66.2h0.8v0.8h-0.8zM379.6,65.6h0.8v0.8h-0.8zM379.8,62.1h0.8v0.8h-0.8zM377.8,65.5h0.8v0.8h-0.8zM377.1,66.5h0.8v0.8h-0.8zM389.2,63.1h0.8v0.8h-0.8zM376.7,62.1h0.8v0.8h-0.8zM378.3,64.4h0.8v0.8h-0.8zM381.9,65.7h0.8v0.8h-0.8zM377.4,66.2h0.8v0.8h-0.8zM386.0,69.3h0.8v0.8h-0.8zM379.6,69.3h0.8v0.8h-0.8zM377.0,61.2h0.8v0.8h-0.8zM372.3,67.7h0.8v0.8h-0.8zM379.4,64.3h0.8v0.8h-0.8zM374.1,68.6h0.8v0.8h-0.8zM376.2,62.4h0.8v0.8h-0.8zM380.9,66.4h0.8v0.8h-0.8zM373.0,70.7h0.8v0.8h-0.8zM375.6,64.4h0.8v0.8h-0.8zM374.9,65.0h0.8v0.8h-0.8zM384.0,65.0h0.8v0.8h-0.8zM380.9,63.9h0.8v0.8h-0.8zM382.8,69.9h0.8v0.8h-0.8zM381.3,71.3h0.8v0.8h-0.8zM378.9,60.0h0.8v0.8h-0.8zM372.8,64.1h0.8v0.8h-0.8zM381.2,66.4h0.8v0.8h-0.8zM379.1,66.7h0.8v0.8h-0.8zM376.6,65.8h0.8v0.8h-0.8zM375.7,66.1h0.8v0.8h-0.8zM380.7,71.0h0.8v0.8h-0.8zM383.6,65.6h0.8v0.8h-0.8zM376.1,64.8h0.8v0.8h-0.8zM370.5,68.9h0.8v0.8h-0.8zM381.5,67.3h0.8v0.8h-0.8zM378.1,68.1h0.8v0.8h-0.8zM381.8,70.0h0.8v0.8h-0.8zM375.3,70.2h0.8v0.8h-0.8zM373.5,69.9h0.8v0.8h-0.8zM388.7,69.2h0.8v0.8h-0.8zM378.1,70.9h0.8v0.8h-0.8zM377.7,66.5h0.8v0.8h-0.8zM376.0,65.6h0.8v0.8h-0.8zM378.6,64.0h0.8v0.8h-0.8zM382.7,67.1h0.8v0.8h-0.8zM373.1,63.8h0.8v0.8h-0.8zM377.7,65.1h0.8v0.8h-0.8zM384.0,62.9h0.8v0.8h-0.8zM378.0,65.7h0.8v0.8h-0.8zM377.3,68.0h0.8v0.8h-0.8zM380.3,64.4h0.8v0.8h-0.8zM375.8,67.2h0.8v0.8h-0.8zM377.8,64.5h0.8v0.8h-0.8zM371.5,67.1h0.8v0.8h-0.8zM376.1,67.6h0.8v0.8h-0.8zM375.4,65.8h0.8v0.8h-0.8zM377.0,60.6h0.8v0.8h-0.8zM378.1,67.0h0.8v0.8h-0.8zM377.6,66.3h0.8v0.8h-0.8zM383.8,60.0h0.8v0.8h-0.8zM373.9,64.0h0.8v0.8h-0.8zM374.8,64.5h0.8v0.8h-0.8zM372.7,65.0h0.8v0.8h-0.8zM379.9,63.9h0.8v0.8h-0.8zM380.6,68.6h0.8v0.8h-0.8zM381.3,66.8h0.8v0.8h-0.8zM370.2,65.6h0.8v0.8h-0.8zM380.5,57.5h0.8v0.8h-0.8zM380.6,64.2h0.8v0.8h-0.8zM380.7,70.2h0.8v0.8h-0.8zM377.7,62.9h0.8v0.8h-0.8zM380.5,62.1h0.8v0.8h-0.8zM378.1,65.8h0.8v0.8h-0.8zM382.4,60.8h0.8v0.8h-0.8zM378.8,71.7h0.8v0.8h-0.8zM377.3,71.8h0.8v0.8h-0.8zM381.8,61.1h0.8v0.8h-0.8zM380.2,67.1h0.8v0.8h-0.8zM375.2,65.3h0.8v0.8h-0.8zM370.6,71.2h0.8v0.8h-0.8zM380.0,65.1h0.8v0.8h-0.8zM381.4,70.5h0.8v0.8h-0.8zM377.5,65.8h0.8v0.8h-0.8zM380.5,65.5h0.8v0.8h-0.8zM385.2,69.2h0.8v0.8h-0.8zM378.8,64.8h0.8v0.8h-0.8zM369.5,62.7h0.8v0.8h-0.8zM386.7,65.8h0.8v0.8h-0.8zM383.0,60.0h0.8v0.8h-0.8zM372.9,68.8h0.8v0.8h-0.8zM382.6,61.6h0.8v0.8h-0.8zM371.7,62.7h0.8v0.8h-0.8zM378.4,59.2h0.8v0.8h-0.8zM384.8,62.6h0.8v0.8h-0.8zM379.4,68.5h0.8v0.8h-0.8zM377.6,66.0h0.8v0.8h-0.8zM382.6,65.5h0.8v0.8h-0.8zM376.1,65.8h0.8v0.8h-0.8zM369.0,64.4h0.8v0.8h-0.8zM375.9,70.1h0.8v0.8h-0.8zM379.8,63.0h0.8v0.8h-0.8zM372.2,68.0h0.8v0.8h-0.8zM379.6,68.4h0.8v0.8h-0.8zM378.2,67.1h0.8v0.8h-0.8zM378.3,71.7h0.8v0.8h-0.8zM378.0,63.0h0.8v0.8h-0.8zM381.6,68.4h0.8v0.8h-0.8zM376.7,70.1h0.8v0.8h-0.8zM380.3,63.8h0.8v0.8h-0.8zM374.5,71.0h0.8v0.8h-0.8zM381.8,62.4h0.8v0.8h-0.8zM373.3,71.9h0.8v0.8h-0.8zM389.0,69.5h0.8v0.8h-0.8zM377.8,64.9h0.8v0.8h-0.8zM381.5,70.7h0.8v0.8h-0.8zM379.7,65.5h0.8v0.8h-0.8zM372.2,62.0h0.8v0.8h-0.8zM373.4,60.0h0.8v0.8h-0.8zM379.8,64.7h0.8v0.8h-0.8zM385.3,69.2h0.8v0.8h-0.8zM381.8,65.2h0.8v0.8h-0.8zM378.3,63.9h0.8v0.8h-0.8zM376.0,65.9h0.8v0.8h-0.8zM376.5,64.8h0.8v0.8h-0.8zM377.2,66.3h0.8v0.8h-0.8zM383.5,65.4h0.8v0.8h-0.8zM376.5,67.8h0.8v0.8h-0.8zM379.0,62.6h0.8v0.8h-0.8zM376.9,65.6h0.8v0.8h-0.8zM375.0,68.5h0.8v0.8h-0.8zM379.5,64.3h0.8v0.8h-0.8z" fill="#000" fill-opacity="1"/>
<path d="M370.2,38.4h0.8v0.8h-0.8zM374.2,26.9h0.8v0.8h-0.8zM371.6,37.0h0.8v0.8h-0.8zM379.3,32.1h0.8v0.8h-0.8zM385.9,27.2h0.8v0.8h-0.8zM376.0,37.4h0.8v0.8h-0.8zM374.9,48.2h0.8v0.8h-0.8zM377.1,36.5h0.8v0.8h-0.8zM391.8,38.0h0.8v0.8h-0.8zM374.6,37.0h0.8v0.8h-0.8zM392.8,45.1h0.8v0.8h-0.8zM376.5,27.7h0.8v0.8h-0.8zM391.2,32.9h0.8v0.8h-0.8zM370.9,35.7h0.8v0.8h-0.8zM387.3,34.6h0.8v0.8h-0.8zM388.3,47.6h0.8v0.8h-0.8zM385.1,46.3h0.8v0.8h-0.8zM383.1,28.0h0.8v0.8h-0.8zM385.3,31.9h0.8v0.8h-0.8zM388.4,46.6h0.8v0.8h-0.8zM380.2,42.2h0.8v0.8h-0.8zM370.2,39.2h0.8v0.8h-0.8zM384.8,47.1h0.8v0.8h-0.8zM370.7,30.5h0.8v0.8h-0.8zM387.3,40.1h0.8v0.8h-0.8zM379.8,48.3h0.8v0.8h-0.8zM370.7,46.0h0.8v0.8h-0.8zM371.7,31.6h0.8v0.8h-0.8zM384.8,27.2h0.8v0.8h-0.8zM387.4,33.1h0.8v0.8h-0.8zM388.1,39.8h0.8v0.8h-0.8zM375.1,44.2h0.8v0.8h-0.8zM391.0,44.2h0.8v0.8h-0.8zM371.2,36.2h0.8v0.8h-0.8zM370.6,36.3h0.8v0.8h-0.8zM375.8,38.2h0.8v0.8h-0.8zM389.8,43.1h0.8v0.8h-0.8zM388.0,27.3h0.8v0.8h-0.8zM380.6,35.6h0.8v0.8h-0.8zM386.4,46.4h0.8v0.8h-0.8zM369.2,45.8h0.8v0.8h-0.8zM376.9,26.8h0.8v0.8h-0.8zM383.9,38.3h0.8v0.8h-0.8zM392.1,44.5h0.8v0.8h-0.8zM380.2,43.9h0.8v0.8h-0.8zM390.4,37.9h0.8v0.8h-0.8zM376.6,41.0h0.8v0.8h-0.8zM389.4,42.4h0.8v0.8h-0.8zM383.8,29.8h0.8v0.8h-0.8zM386.5,39.8h0.8v0.8h-0.8zM386.4,36.6h0.8v0.8h-0.8zM369.9,31.9h0.8v0.8h-0.8zM383.2,29.6h0.8v0.8h-0.8zM376.8,35.4h0.8v0.8h-0.8zM372.4,32.5h0.8v0.8h-0.8zM379.8,47.0h0.8v0.8h-0.8zM386.3,28.3h0.8v0.8h-0.8zM378.4,44.6h0.8v0.8h-0.8zM369.0,42.3h0.8v0.8h-0.8zM386.2,31.8h0.8v0.8h-0.8zM369.3,33.1h0.8v0.8h-0.8zM376.9,41.3h0.8v0.8h-0.8zM370.8,29.8h0.8v0.8h-0.8zM386.3,26.9h0.8v0.8h-0.8zM383.3,34.5h0.8v0.8h-0.8zM377.1,35.4h0.8v0.8h-0.8zM377.2,44.3h0.8v0.8h-0.8zM391.0,39.1h0.8v0.8h-0.8zM385.4,45.4h0.8v0.8h-0.8zM371.6,36.8h0.8v0.8h-0.8zM369.6,43.4h0.8v0.8h-0.8zM390.5,29.1h0.8v0.8h-0.8zM379.1,40.3h0.8v0.8h-0.8zM381.8,27.2h0.8v0.8h-0.8zM378.8,33.8h0.8v0.8h-0.8zM383.5,46.5h0.8v0.8h-0.8zM370.9,38.4h0.8v0.8h-0.8zM380.1,34.9h0.8v0.8h-0.8zM373.6,36.4h0.8v0.8h-0.8zM371.8,41.5h0.8v0.8h-0.8zM376.1,46.1h0.8v0.8h-0.8zM374.8,30.9h0.8v0.8h-0.8zM373.5,42.7h0.8v0.8h-0.8zM389.2,46.0h0.8v0.8h-0.8zM381.4,40.7h0.8v0.8h-0.8zM377.6,38.3h0.8v0.8h-0.8zM371.7,46.1h0.8v0.8h-0.8zM379.2,37.1h0.8v0.8h-0.8zM371.5,37.8h0.8v0.8h-0.8zM373.7,48.6h0.8v0.8h-0.8zM370.8,34.1h0.8v0.8h-0.8zM370.9,30.6h0.8v0.8h-0.8zM381.0,27.6h0.8v0.8h-0.8zM384.2,39.8h0.8v0.8h-0.8zM387.4,33.9h0.8v0.8h-0.8zM384.3,33.8h0.8v0.8h-0.8zM385.5,48.7h0.8v0.8h-0.8zM373.3,41.7h0.8v0.8h-0.8zM388.1,31.7h0.8v0.8h-0.8zM370.2,37.8h0.8v0.8h-0.8zM381.3,40.1h0.8v0.8h-0.8zM387.3,33.7h0.8v0.8h-0.8zM388.4,42.4h0.8v0.8h-0.8zM374.9,31.3h0.8v0.8h-0.8zM379.9,45.7h0.8v0.8h-0.8zM390.0,38.2h0.8v0.8h-0.8zM381.7,37.4h0.8v0.8h-0.8zM386.9,26.5h0.8v0.8h-0.8zM386.0,37.9h0.8v0.8h-0.8zM382.5,45.7h0.8v0.8h-0.8zM371.6,52.6h0.8v0.8h-0.8zM391.8,50.7h0.8v0.8h-0.8zM383.8,50.9h0.8v0.8h-0.8zM387.4,53.5h0.8v0.8h-0.8zM372.3,50.0h0.8v0.8h-0.8zM377.3,52.1h0.8v0.8h-0.8zM388.1,55.6h0.8v0.8h-0.8zM382.3,49.6h0.8v0.8h-0.8zM380.0,55.6h0.8v0.8h-0.8zM370.9,52.1h0.8v0.8h-0.8zM375.4,53.5h0.8v0.8h-0.8zM374.1,49.3h0.8v0.8h-0.8zM373.5,52.7h0.8v0.8h-0.8zM379.1,54.9h0.8v0.8h-0.8zM374.1,53.6h0.8v0.8h-0.8zM391.2,49.2h0.8v0.8h-0.8zM380.8,50.5h0.8v0.8h-0.8zM378.3,50.8h0.8v0.8h-0.8zM387.2,50.8h0.8v0.8h-0.8zM392.6,50.4h0.8v0.8h-0.8zM376.1,53.5h0.8v0.8h-0.8zM372.0,50.2h0.8v0.8h-0.8zM377.0,53.6h0.8v0.8h-0.8zM388.7,53.1h0.8v0.8h-0.8zM375.9,52.9h0.8v0.8h-0.8zM392.6,51.6h0.8v0.8h-0.8zM371.7,49.3h0.8v0.8h-0.8zM379.9,55.6h0.8v0.8h-0.8zM391.6,53.9h0.8v0.8h-0.8zM374.6,51.6h0.8v0.8h-0.8zM374.1,52.1h0.8v0.8h-0.8zM387.5,49.2h0.8v0.8h-0.8zM381.5,50.5h0.8v0.8h-0.8zM383.9,54.5h0.8v0.8h-0.8zM387.4,51.4h0.8v0.8h-0.8zM390.5,49.1h0.8v0.8h-0.8zM376.1,50.0h0.8v0.8h-0.8zM385.4,52.4h0.8v0.8h-0.8zM383.5,49.4h0.8v0.8h-0.8zM371.5,54.2h0.8v0.8h-0.8zM404.4,67.3h0.8v0.8h-0.8zM400.9,52.5h0.8v0.8h-0.8zM400.9,65.3h0.8v0.8h-0.8zM398.7,47.6h0.8v0.8h-0.8zM406.6,42.2h0.8v0.8h-0.8zM400.9,29.6h0.8v0.8h-0.8zM409.4,48.0h0.8v0.8h-0.8zM401.5,32.6h0.8v0.8h-0.8zM400.6,41.2h0.8v0.8h-0.8zM397.0,41.7h0.8v0.8h-0.8zM399.7,54.5h0.8v0.8h-0.8zM395.2,70.7h0.8v0.8h-0.8zM407.5,25.5h0.8v0.8h-0.8zM401.3,58.8h0.8v0.8h-0.8z" fill="#000" fill-opacity="0.75"/>
<text x="409" y="21.5" font-size="9.9" text-anchor="start" fill="#000" textLength="23.8" lengthAdjust="spacingAndGlyphs" stroke="#000" stroke-width="0.55">0.05%</text>
<text x="409" y="58.0" font-size="9.9" text-anchor="start" fill="#000" textLength="23.8" lengthAdjust="spacingAndGlyphs" stroke="#000" stroke-width="0.55">0.05%</text>
<line x1="260" y1="84" x2="331" y2="84" stroke="#777" stroke-width="0.9"/>
<line x1="331" y1="84" x2="331" y2="145.2" stroke="#777" stroke-width="0.9"/>
<line x1="260" y1="145.2" x2="331" y2="145.2" stroke="#333" stroke-width="1"/>
<line x1="260" y1="84" x2="260" y2="145.2" stroke="#333" stroke-width="1"/>
<line x1="292.4" y1="84" x2="292.4" y2="145.2" stroke="#444" stroke-width="0.9"/>
<line x1="260" y1="122.4" x2="331" y2="122.4" stroke="#777" stroke-width="0.9"/>
<line x1="260.0" y1="145.2" x2="260.0" y2="146.5" stroke="#555" stroke-width="0.7"/>
<text x="260.0" y="151.5" font-size="4.3" text-anchor="middle" fill="#444">10<tspan font-size="3" dy="-1.4">0</tspan></text>
<line x1="258.7" y1="145.2" x2="260" y2="145.2" stroke="#555" stroke-width="0.7"/>
<text transform="translate(257.2,145.2) rotate(-90)" font-size="4.3" text-anchor="middle" fill="#444">10<tspan font-size="3" dy="-1.4">0</tspan></text>
<line x1="277.75" y1="145.2" x2="277.75" y2="146.5" stroke="#555" stroke-width="0.7"/>
<text x="277.8" y="151.5" font-size="4.3" text-anchor="middle" fill="#444">10<tspan font-size="3" dy="-1.4">1</tspan></text>
<line x1="258.7" y1="129.89999999999998" x2="260" y2="129.89999999999998" stroke="#555" stroke-width="0.7"/>
<text transform="translate(257.2,129.9) rotate(-90)" font-size="4.3" text-anchor="middle" fill="#444">10<tspan font-size="3" dy="-1.4">1</tspan></text>
<line x1="295.5" y1="145.2" x2="295.5" y2="146.5" stroke="#555" stroke-width="0.7"/>
<text x="295.5" y="151.5" font-size="4.3" text-anchor="middle" fill="#444">10<tspan font-size="3" dy="-1.4">2</tspan></text>
<line x1="258.7" y1="114.6" x2="260" y2="114.6" stroke="#555" stroke-width="0.7"/>
<text transform="translate(257.2,114.6) rotate(-90)" font-size="4.3" text-anchor="middle" fill="#444">10<tspan font-size="3" dy="-1.4">2</tspan></text>
<line x1="313.25" y1="145.2" x2="313.25" y2="146.5" stroke="#555" stroke-width="0.7"/>
<text x="313.2" y="151.5" font-size="4.3" text-anchor="middle" fill="#444">10<tspan font-size="3" dy="-1.4">3</tspan></text>
<line x1="258.7" y1="99.3" x2="260" y2="99.3" stroke="#555" stroke-width="0.7"/>
<text transform="translate(257.2,99.3) rotate(-90)" font-size="4.3" text-anchor="middle" fill="#444">10<tspan font-size="3" dy="-1.4">3</tspan></text>
<line x1="331.0" y1="145.2" x2="331.0" y2="146.5" stroke="#555" stroke-width="0.7"/>
<text x="331.0" y="151.5" font-size="4.3" text-anchor="middle" fill="#444">10<tspan font-size="3" dy="-1.4">4</tspan></text>
<line x1="258.7" y1="84.0" x2="260" y2="84.0" stroke="#555" stroke-width="0.7"/>
<text transform="translate(257.2,84.0) rotate(-90)" font-size="4.3" text-anchor="middle" fill="#444">10<tspan font-size="3" dy="-1.4">4</tspan></text>
<path d="M314.4,105.4h0.8v0.8h-0.8zM307.9,107.2h0.8v0.8h-0.8zM304.4,114.1h0.8v0.8h-0.8zM306.7,111.3h0.8v0.8h-0.8zM306.6,107.8h0.8v0.8h-0.8zM303.5,109.8h0.8v0.8h-0.8zM307.0,107.1h0.8v0.8h-0.8zM306.1,107.9h0.8v0.8h-0.8zM302.8,108.3h0.8v0.8h-0.8zM315.0,101.2h0.8v0.8h-0.8zM307.9,104.4h0.8v0.8h-0.8zM303.9,111.3h0.8v0.8h-0.8zM302.0,111.8h0.8v0.8h-0.8zM311.6,105.1h0.8v0.8h-0.8zM310.2,108.4h0.8v0.8h-0.8zM298.7,110.9h0.8v0.8h-0.8zM305.8,110.3h0.8v0.8h-0.8zM303.9,106.6h0.8v0.8h-0.8zM301.8,110.5h0.8v0.8h-0.8zM307.2,108.6h0.8v0.8h-0.8zM302.9,110.8h0.8v0.8h-0.8zM305.3,106.5h0.8v0.8h-0.8zM303.7,114.0h0.8v0.8h-0.8zM308.4,106.4h0.8v0.8h-0.8zM308.0,105.8h0.8v0.8h-0.8zM313.2,106.0h0.8v0.8h-0.8zM298.1,111.3h0.8v0.8h-0.8zM305.7,108.7h0.8v0.8h-0.8zM303.1,111.7h0.8v0.8h-0.8zM308.3,110.2h0.8v0.8h-0.8zM308.5,110.2h0.8v0.8h-0.8zM312.3,105.5h0.8v0.8h-0.8zM308.4,109.1h0.8v0.8h-0.8zM308.2,107.0h0.8v0.8h-0.8zM316.1,106.0h0.8v0.8h-0.8zM307.4,105.1h0.8v0.8h-0.8zM302.5,109.6h0.8v0.8h-0.8zM301.3,107.5h0.8v0.8h-0.8zM309.4,108.1h0.8v0.8h-0.8zM304.5,109.0h0.8v0.8h-0.8zM311.4,107.6h0.8v0.8h-0.8zM313.0,104.5h0.8v0.8h-0.8zM306.0,110.1h0.8v0.8h-0.8zM313.1,104.5h0.8v0.8h-0.8zM305.2,108.2h0.8v0.8h-0.8zM311.7,108.1h0.8v0.8h-0.8zM303.9,111.6h0.8v0.8h-0.8zM310.5,108.9h0.8v0.8h-0.8zM304.8,108.8h0.8v0.8h-0.8zM308.9,108.0h0.8v0.8h-0.8zM303.7,111.0h0.8v0.8h-0.8zM308.6,106.6h0.8v0.8h-0.8zM309.1,109.2h0.8v0.8h-0.8zM306.7,108.1h0.8v0.8h-0.8zM302.9,109.7h0.8v0.8h-0.8zM303.3,107.5h0.8v0.8h-0.8zM310.5,107.1h0.8v0.8h-0.8zM308.0,107.8h0.8v0.8h-0.8zM310.1,102.7h0.8v0.8h-0.8zM311.9,104.5h0.8v0.8h-0.8zM302.7,108.2h0.8v0.8h-0.8zM303.4,109.3h0.8v0.8h-0.8zM308.7,105.3h0.8v0.8h-0.8zM309.1,105.8h0.8v0.8h-0.8zM307.8,110.4h0.8v0.8h-0.8zM304.5,106.7h0.8v0.8h-0.8zM307.2,108.6h0.8v0.8h-0.8zM305.0,108.0h0.8v0.8h-0.8zM308.1,105.3h0.8v0.8h-0.8zM305.5,106.9h0.8v0.8h-0.8zM308.5,106.2h0.8v0.8h-0.8zM307.9,107.3h0.8v0.8h-0.8zM305.7,106.7h0.8v0.8h-0.8zM310.7,104.9h0.8v0.8h-0.8zM305.1,106.1h0.8v0.8h-0.8zM306.2,106.5h0.8v0.8h-0.8zM303.6,111.6h0.8v0.8h-0.8zM309.6,107.2h0.8v0.8h-0.8zM307.8,108.7h0.8v0.8h-0.8zM306.8,108.4h0.8v0.8h-0.8zM302.8,109.1h0.8v0.8h-0.8zM303.9,103.9h0.8v0.8h-0.8zM301.6,108.6h0.8v0.8h-0.8zM312.6,101.8h0.8v0.8h-0.8zM300.4,112.5h0.8v0.8h-0.8zM303.4,110.6h0.8v0.8h-0.8zM307.8,110.9h0.8v0.8h-0.8zM307.3,109.5h0.8v0.8h-0.8zM306.0,108.4h0.8v0.8h-0.8zM306.6,107.9h0.8v0.8h-0.8zM313.0,108.2h0.8v0.8h-0.8zM306.5,107.6h0.8v0.8h-0.8zM308.1,109.4h0.8v0.8h-0.8zM309.3,106.9h0.8v0.8h-0.8zM302.8,114.7h0.8v0.8h-0.8zM312.3,106.3h0.8v0.8h-0.8zM308.9,109.8h0.8v0.8h-0.8zM312.7,105.3h0.8v0.8h-0.8zM307.6,107.2h0.8v0.8h-0.8zM313.4,104.0h0.8v0.8h-0.8zM306.0,110.6h0.8v0.8h-0.8zM308.9,106.9h0.8v0.8h-0.8zM310.0,107.1h0.8v0.8h-0.8zM306.9,108.7h0.8v0.8h-0.8zM308.9,107.4h0.8v0.8h-0.8zM308.6,107.5h0.8v0.8h-0.8zM307.8,105.5h0.8v0.8h-0.8zM313.6,106.8h0.8v0.8h-0.8zM308.3,108.5h0.8v0.8h-0.8zM313.6,105.7h0.8v0.8h-0.8zM302.5,110.9h0.8v0.8h-0.8zM299.5,111.2h0.8v0.8h-0.8zM311.0,103.7h0.8v0.8h-0.8zM300.9,110.1h0.8v0.8h-0.8zM309.7,110.6h0.8v0.8h-0.8zM305.8,108.4h0.8v0.8h-0.8zM304.1,113.7h0.8v0.8h-0.8zM306.5,109.1h0.8v0.8h-0.8zM310.3,106.0h0.8v0.8h-0.8zM303.2,108.7h0.8v0.8h-0.8zM307.1,109.6h0.8v0.8h-0.8zM310.0,105.4h0.8v0.8h-0.8zM304.3,106.3h0.8v0.8h-0.8zM308.6,111.6h0.8v0.8h-0.8zM308.1,106.7h0.8v0.8h-0.8zM312.5,106.2h0.8v0.8h-0.8zM312.2,108.7h0.8v0.8h-0.8zM302.4,110.3h0.8v0.8h-0.8zM306.9,110.5h0.8v0.8h-0.8zM306.5,108.4h0.8v0.8h-0.8zM299.1,110.7h0.8v0.8h-0.8zM303.8,107.3h0.8v0.8h-0.8zM307.0,107.2h0.8v0.8h-0.8zM308.2,109.2h0.8v0.8h-0.8zM308.2,107.4h0.8v0.8h-0.8zM307.0,105.6h0.8v0.8h-0.8zM304.9,107.7h0.8v0.8h-0.8zM312.5,102.6h0.8v0.8h-0.8zM305.8,109.6h0.8v0.8h-0.8zM305.5,110.0h0.8v0.8h-0.8zM303.4,111.7h0.8v0.8h-0.8zM305.6,104.0h0.8v0.8h-0.8zM300.6,108.3h0.8v0.8h-0.8zM305.5,107.9h0.8v0.8h-0.8zM308.4,108.5h0.8v0.8h-0.8zM309.2,107.8h0.8v0.8h-0.8zM302.5,106.9h0.8v0.8h-0.8zM302.6,110.7h0.8v0.8h-0.8zM302.2,107.6h0.8v0.8h-0.8zM303.9,110.2h0.8v0.8h-0.8zM301.7,110.0h0.8v0.8h-0.8zM309.9,108.2h0.8v0.8h-0.8zM300.5,110.9h0.8v0.8h-0.8zM306.6,113.2h0.8v0.8h-0.8zM304.6,106.1h0.8v0.8h-0.8zM304.4,109.1h0.8v0.8h-0.8zM305.5,110.0h0.8v0.8h-0.8zM305.3,108.8h0.8v0.8h-0.8zM319.2,102.8h0.8v0.8h-0.8zM309.7,106.6h0.8v0.8h-0.8zM299.3,115.1h0.8v0.8h-0.8zM305.6,110.0h0.8v0.8h-0.8zM301.7,110.7h0.8v0.8h-0.8zM309.6,104.3h0.8v0.8h-0.8zM314.3,106.4h0.8v0.8h-0.8zM307.8,106.9h0.8v0.8h-0.8zM308.3,102.9h0.8v0.8h-0.8zM309.5,102.5h0.8v0.8h-0.8zM305.9,111.1h0.8v0.8h-0.8zM306.3,104.2h0.8v0.8h-0.8zM299.6,108.7h0.8v0.8h-0.8zM304.0,107.5h0.8v0.8h-0.8zM309.8,105.7h0.8v0.8h-0.8zM314.0,107.3h0.8v0.8h-0.8zM303.2,112.3h0.8v0.8h-0.8zM310.4,103.8h0.8v0.8h-0.8zM304.7,107.2h0.8v0.8h-0.8zM303.0,109.7h0.8v0.8h-0.8zM307.1,106.1h0.8v0.8h-0.8zM301.3,111.9h0.8v0.8h-0.8zM312.3,107.6h0.8v0.8h-0.8zM301.1,109.6h0.8v0.8h-0.8zM304.9,107.4h0.8v0.8h-0.8zM309.7,104.6h0.8v0.8h-0.8zM305.8,109.1h0.8v0.8h-0.8zM307.1,108.3h0.8v0.8h-0.8zM306.5,109.1h0.8v0.8h-0.8zM307.8,107.5h0.8v0.8h-0.8zM309.0,107.7h0.8v0.8h-0.8zM309.6,107.6h0.8v0.8h-0.8zM308.6,107.8h0.8v0.8h-0.8zM303.2,108.7h0.8v0.8h-0.8zM305.0,107.4h0.8v0.8h-0.8zM304.4,107.7h0.8v0.8h-0.8zM304.4,109.8h0.8v0.8h-0.8zM319.0,106.1h0.8v0.8h-0.8zM306.6,108.1h0.8v0.8h-0.8zM305.5,108.1h0.8v0.8h-0.8zM309.0,107.7h0.8v0.8h-0.8zM308.4,109.1h0.8v0.8h-0.8zM305.6,110.0h0.8v0.8h-0.8zM306.4,106.1h0.8v0.8h-0.8zM310.4,104.2h0.8v0.8h-0.8zM308.9,105.4h0.8v0.8h-0.8zM305.1,111.1h0.8v0.8h-0.8zM308.1,107.3h0.8v0.8h-0.8zM302.4,106.5h0.8v0.8h-0.8zM304.7,108.6h0.8v0.8h-0.8zM309.8,106.4h0.8v0.8h-0.8zM309.8,105.3h0.8v0.8h-0.8zM310.6,107.8h0.8v0.8h-0.8zM306.4,109.8h0.8v0.8h-0.8zM311.5,102.8h0.8v0.8h-0.8zM301.4,109.1h0.8v0.8h-0.8zM303.8,107.4h0.8v0.8h-0.8zM306.0,105.4h0.8v0.8h-0.8zM313.0,104.7h0.8v0.8h-0.8zM307.2,107.3h0.8v0.8h-0.8zM304.7,109.2h0.8v0.8h-0.8zM306.4,108.9h0.8v0.8h-0.8zM308.6,105.3h0.8v0.8h-0.8zM299.7,109.9h0.8v0.8h-0.8zM305.8,104.2h0.8v0.8h-0.8zM308.3,107.4h0.8v0.8h-0.8zM302.1,110.6h0.8v0.8h-0.8zM309.9,106.2h0.8v0.8h-0.8zM308.8,108.1h0.8v0.8h-0.8zM311.8,108.0h0.8v0.8h-0.8zM303.8,108.9h0.8v0.8h-0.8zM305.9,106.3h0.8v0.8h-0.8zM307.4,108.4h0.8v0.8h-0.8zM306.2,104.3h0.8v0.8h-0.8zM302.3,104.9h0.8v0.8h-0.8zM306.9,107.8h0.8v0.8h-0.8zM310.2,108.1h0.8v0.8h-0.8zM303.2,109.5h0.8v0.8h-0.8zM307.8,109.0h0.8v0.8h-0.8zM310.6,105.7h0.8v0.8h-0.8zM302.0,111.8h0.8v0.8h-0.8zM304.4,105.3h0.8v0.8h-0.8zM306.6,106.3h0.8v0.8h-0.8zM307.7,110.0h0.8v0.8h-0.8zM305.7,106.7h0.8v0.8h-0.8zM307.9,106.8h0.8v0.8h-0.8zM307.8,109.5h0.8v0.8h-0.8zM307.8,108.4h0.8v0.8h-0.8zM306.5,108.3h0.8v0.8h-0.8zM302.3,108.5h0.8v0.8h-0.8zM311.3,108.4h0.8v0.8h-0.8zM303.3,111.0h0.8v0.8h-0.8zM309.1,105.1h0.8v0.8h-0.8zM309.6,107.8h0.8v0.8h-0.8zM312.3,108.9h0.8v0.8h-0.8zM307.0,108.6h0.8v0.8h-0.8zM303.7,110.0h0.8v0.8h-0.8zM306.6,107.6h0.8v0.8h-0.8zM307.8,109.2h0.8v0.8h-0.8zM310.6,107.7h0.8v0.8h-0.8zM311.9,102.5h0.8v0.8h-0.8zM306.1,108.1h0.8v0.8h-0.8zM304.9,107.9h0.8v0.8h-0.8zM301.5,109.8h0.8v0.8h-0.8zM310.6,105.1h0.8v0.8h-0.8zM306.9,108.7h0.8v0.8h-0.8zM305.9,106.4h0.8v0.8h-0.8zM305.8,110.8h0.8v0.8h-0.8zM303.3,107.1h0.8v0.8h-0.8zM313.6,104.9h0.8v0.8h-0.8zM301.3,106.9h0.8v0.8h-0.8zM303.0,107.1h0.8v0.8h-0.8zM308.3,107.9h0.8v0.8h-0.8zM310.3,106.1h0.8v0.8h-0.8zM310.0,106.0h0.8v0.8h-0.8zM303.1,107.6h0.8v0.8h-0.8zM306.9,105.3h0.8v0.8h-0.8zM310.8,106.7h0.8v0.8h-0.8zM310.5,107.9h0.8v0.8h-0.8zM310.3,106.5h0.8v0.8h-0.8zM313.1,105.2h0.8v0.8h-0.8zM310.7,109.2h0.8v0.8h-0.8zM308.3,105.8h0.8v0.8h-0.8zM310.5,108.1h0.8v0.8h-0.8zM309.9,105.7h0.8v0.8h-0.8zM309.0,104.6h0.8v0.8h-0.8zM311.0,108.2h0.8v0.8h-0.8zM308.3,107.4h0.8v0.8h-0.8zM308.0,106.7h0.8v0.8h-0.8zM309.0,106.3h0.8v0.8h-0.8zM315.0,106.2h0.8v0.8h-0.8zM310.9,105.4h0.8v0.8h-0.8zM309.3,106.6h0.8v0.8h-0.8zM306.9,107.8h0.8v0.8h-0.8zM310.4,108.4h0.8v0.8h-0.8zM309.6,105.2h0.8v0.8h-0.8zM310.5,107.0h0.8v0.8h-0.8zM312.7,103.4h0.8v0.8h-0.8zM308.3,106.8h0.8v0.8h-0.8zM310.9,105.0h0.8v0.8h-0.8zM311.1,107.0h0.8v0.8h-0.8zM304.2,109.8h0.8v0.8h-0.8zM304.0,105.2h0.8v0.8h-0.8zM306.8,107.2h0.8v0.8h-0.8zM307.7,106.5h0.8v0.8h-0.8zM307.0,107.3h0.8v0.8h-0.8zM310.5,109.0h0.8v0.8h-0.8zM305.5,105.6h0.8v0.8h-0.8zM307.4,106.0h0.8v0.8h-0.8zM308.3,107.5h0.8v0.8h-0.8zM307.3,105.7h0.8v0.8h-0.8zM311.4,108.5h0.8v0.8h-0.8zM312.7,109.4h0.8v0.8h-0.8zM307.0,108.4h0.8v0.8h-0.8zM310.2,106.5h0.8v0.8h-0.8zM310.0,105.7h0.8v0.8h-0.8zM306.2,106.3h0.8v0.8h-0.8zM305.4,106.1h0.8v0.8h-0.8zM308.8,105.2h0.8v0.8h-0.8zM307.1,103.9h0.8v0.8h-0.8zM306.1,106.5h0.8v0.8h-0.8zM307.2,106.8h0.8v0.8h-0.8zM307.3,105.9h0.8v0.8h-0.8zM305.1,108.9h0.8v0.8h-0.8zM308.1,107.8h0.8v0.8h-0.8zM307.0,105.0h0.8v0.8h-0.8zM309.3,106.0h0.8v0.8h-0.8zM308.5,107.5h0.8v0.8h-0.8zM310.0,107.7h0.8v0.8h-0.8zM309.1,104.0h0.8v0.8h-0.8zM309.7,108.7h0.8v0.8h-0.8zM309.5,108.0h0.8v0.8h-0.8zM309.7,107.3h0.8v0.8h-0.8zM310.0,104.6h0.8v0.8h-0.8zM304.0,106.7h0.8v0.8h-0.8zM310.0,107.4h0.8v0.8h-0.8zM308.1,105.9h0.8v0.8h-0.8zM306.4,107.1h0.8v0.8h-0.8zM309.4,107.6h0.8v0.8h-0.8zM308.4,108.3h0.8v0.8h-0.8zM307.1,108.1h0.8v0.8h-0.8zM306.9,108.6h0.8v0.8h-0.8zM310.8,105.3h0.8v0.8h-0.8zM309.8,105.3h0.8v0.8h-0.8zM312.6,108.1h0.8v0.8h-0.8zM308.9,107.1h0.8v0.8h-0.8zM308.6,106.0h0.8v0.8h-0.8zM306.3,106.5h0.8v0.8h-0.8zM310.9,107.1h0.8v0.8h-0.8zM311.2,108.0h0.8v0.8h-0.8zM309.9,105.4h0.8v0.8h-0.8zM306.6,106.1h0.8v0.8h-0.8zM303.9,104.5h0.8v0.8h-0.8zM308.9,108.5h0.8v0.8h-0.8zM313.5,106.9h0.8v0.8h-0.8zM310.8,107.1h0.8v0.8h-0.8zM306.7,107.9h0.8v0.8h-0.8zM308.6,107.5h0.8v0.8h-0.8zM304.6,106.2h0.8v0.8h-0.8zM310.8,106.3h0.8v0.8h-0.8zM308.7,107.8h0.8v0.8h-0.8zM311.9,108.5h0.8v0.8h-0.8zM305.8,107.6h0.8v0.8h-0.8zM310.1,105.2h0.8v0.8h-0.8zM298.1,110.5h0.8v0.8h-0.8zM304.6,107.6h0.8v0.8h-0.8zM302.6,114.2h0.8v0.8h-0.8zM298.1,109.2h0.8v0.8h-0.8zM306.9,111.0h0.8v0.8h-0.8zM301.7,108.2h0.8v0.8h-0.8zM318.4,102.0h0.8v0.8h-0.8zM319.3,100.5h0.8v0.8h-0.8zM311.2,102.8h0.8v0.8h-0.8zM315.4,106.6h0.8v0.8h-0.8zM306.6,107.2h0.8v0.8h-0.8zM316.3,108.9h0.8v0.8h-0.8zM306.6,109.9h0.8v0.8h-0.8zM303.3,113.0h0.8v0.8h-0.8zM305.2,111.7h0.8v0.8h-0.8zM296.2,115.7h0.8v0.8h-0.8zM311.8,107.3h0.8v0.8h-0.8zM313.7,103.3h0.8v0.8h-0.8zM312.7,106.8h0.8v0.8h-0.8zM307.3,110.4h0.8v0.8h-0.8zM311.3,101.2h0.8v0.8h-0.8zM306.5,109.0h0.8v0.8h-0.8zM310.5,107.4h0.8v0.8h-0.8zM304.1,111.3h0.8v0.8h-0.8zM309.9,105.4h0.8v0.8h-0.8zM307.1,108.6h0.8v0.8h-0.8zM303.1,111.0h0.8v0.8h-0.8zM316.4,103.0h0.8v0.8h-0.8zM310.1,109.4h0.8v0.8h-0.8zM312.3,105.4h0.8v0.8h-0.8zM300.6,114.6h0.8v0.8h-0.8zM295.7,115.4h0.8v0.8h-0.8zM312.4,108.5h0.8v0.8h-0.8zM306.5,108.6h0.8v0.8h-0.8zM304.7,113.1h0.8v0.8h-0.8zM295.7,110.6h0.8v0.8h-0.8zM303.2,110.3h0.8v0.8h-0.8zM308.6,107.4h0.8v0.8h-0.8zM305.8,107.8h0.8v0.8h-0.8zM313.0,108.9h0.8v0.8h-0.8zM298.6,116.7h0.8v0.8h-0.8zM308.1,108.8h0.8v0.8h-0.8zM311.3,108.5h0.8v0.8h-0.8zM307.8,110.1h0.8v0.8h-0.8zM297.2,115.2h0.8v0.8h-0.8zM305.6,106.2h0.8v0.8h-0.8zM303.9,112.4h0.8v0.8h-0.8zM302.5,108.0h0.8v0.8h-0.8zM304.1,108.6h0.8v0.8h-0.8zM308.3,112.3h0.8v0.8h-0.8zM317.1,104.1h0.8v0.8h-0.8zM307.4,105.6h0.8v0.8h-0.8zM310.5,109.0h0.8v0.8h-0.8zM303.6,113.0h0.8v0.8h-0.8zM303.0,111.4h0.8v0.8h-0.8zM307.7,108.9h0.8v0.8h-0.8zM308.4,109.8h0.8v0.8h-0.8zM303.2,111.5h0.8v0.8h-0.8zM311.2,110.2h0.8v0.8h-0.8zM301.1,110.5h0.8v0.8h-0.8zM302.1,107.2h0.8v0.8h-0.8zM310.9,113.3h0.8v0.8h-0.8zM302.5,110.2h0.8v0.8h-0.8zM303.8,110.3h0.8v0.8h-0.8zM304.0,116.7h0.8v0.8h-0.8zM301.5,113.9h0.8v0.8h-0.8zM311.5,107.3h0.8v0.8h-0.8zM311.7,101.3h0.8v0.8h-0.8zM308.0,108.1h0.8v0.8h-0.8zM306.4,106.8h0.8v0.8h-0.8zM299.7,110.0h0.8v0.8h-0.8zM307.0,111.0h0.8v0.8h-0.8zM316.1,103.8h0.8v0.8h-0.8zM298.3,116.2h0.8v0.8h-0.8zM302.6,107.8h0.8v0.8h-0.8zM307.4,102.7h0.8v0.8h-0.8zM301.5,117.7h0.8v0.8h-0.8zM303.9,112.1h0.8v0.8h-0.8zM311.4,102.8h0.8v0.8h-0.8zM308.3,112.2h0.8v0.8h-0.8zM312.5,110.9h0.8v0.8h-0.8zM322.1,108.4h0.8v0.8h-0.8zM309.0,106.0h0.8v0.8h-0.8zM309.8,105.5h0.8v0.8h-0.8zM294.5,110.3h0.8v0.8h-0.8zM306.2,109.2h0.8v0.8h-0.8zM304.4,113.8h0.8v0.8h-0.8zM304.3,107.8h0.8v0.8h-0.8zM305.9,109.4h0.8v0.8h-0.8zM309.2,107.8h0.8v0.8h-0.8zM310.3,106.0h0.8v0.8h-0.8zM306.0,111.4h0.8v0.8h-0.8zM302.1,112.1h0.8v0.8h-0.8zM308.3,111.7h0.8v0.8h-0.8zM294.5,119.2h0.8v0.8h-0.8zM304.3,110.6h0.8v0.8h-0.8zM314.2,107.2h0.8v0.8h-0.8zM298.1,112.3h0.8v0.8h-0.8zM309.6,106.8h0.8v0.8h-0.8zM309.1,110.8h0.8v0.8h-0.8zM315.7,102.6h0.8v0.8h-0.8zM296.5,111.7h0.8v0.8h-0.8zM304.8,113.3h0.8v0.8h-0.8zM309.0,112.2h0.8v0.8h-0.8zM305.3,105.4h0.8v0.8h-0.8zM307.3,106.7h0.8v0.8h-0.8zM305.6,104.4h0.8v0.8h-0.8zM310.0,134.7h0.8v0.8h-0.8zM306.1,140.9h0.8v0.8h-0.8zM306.7,135.1h0.8v0.8h-0.8zM312.3,137.0h0.8v0.8h-0.8zM310.6,137.7h0.8v0.8h-0.8zM301.5,137.4h0.8v0.8h-0.8zM308.7,137.5h0.8v0.8h-0.8zM312.9,132.6h0.8v0.8h-0.8zM305.0,140.1h0.8v0.8h-0.8zM311.1,140.8h0.8v0.8h-0.8zM304.3,139.1h0.8v0.8h-0.8zM309.1,143.9h0.8v0.8h-0.8zM314.5,139.6h0.8v0.8h-0.8zM309.5,140.5h0.8v0.8h-0.8zM307.1,139.0h0.8v0.8h-0.8zM308.7,138.5h0.8v0.8h-0.8zM309.7,138.1h0.8v0.8h-0.8zM305.6,141.7h0.8v0.8h-0.8zM310.5,135.6h0.8v0.8h-0.8zM309.4,135.2h0.8v0.8h-0.8zM308.5,135.7h0.8v0.8h-0.8zM305.5,139.4h0.8v0.8h-0.8zM304.5,140.5h0.8v0.8h-0.8zM312.7,137.2h0.8v0.8h-0.8zM305.0,139.3h0.8v0.8h-0.8zM306.7,133.1h0.8v0.8h-0.8zM314.5,136.5h0.8v0.8h-0.8zM313.5,140.9h0.8v0.8h-0.8zM309.6,139.3h0.8v0.8h-0.8zM306.4,140.1h0.8v0.8h-0.8zM305.5,139.3h0.8v0.8h-0.8zM304.6,138.2h0.8v0.8h-0.8zM298.0,136.3h0.8v0.8h-0.8zM308.6,138.3h0.8v0.8h-0.8zM308.4,139.7h0.8v0.8h-0.8zM313.1,136.4h0.8v0.8h-0.8zM295.6,139.7h0.8v0.8h-0.8zM308.1,138.1h0.8v0.8h-0.8zM309.8,143.2h0.8v0.8h-0.8zM308.4,135.0h0.8v0.8h-0.8zM309.8,135.8h0.8v0.8h-0.8zM302.5,134.6h0.8v0.8h-0.8zM307.4,133.6h0.8v0.8h-0.8zM306.2,139.5h0.8v0.8h-0.8zM300.0,142.0h0.8v0.8h-0.8zM314.0,137.5h0.8v0.8h-0.8zM307.1,137.2h0.8v0.8h-0.8zM297.7,138.6h0.8v0.8h-0.8zM302.5,137.5h0.8v0.8h-0.8zM303.9,135.1h0.8v0.8h-0.8zM305.0,134.6h0.8v0.8h-0.8zM300.2,141.8h0.8v0.8h-0.8zM303.8,140.9h0.8v0.8h-0.8zM309.8,137.0h0.8v0.8h-0.8zM307.5,138.2h0.8v0.8h-0.8zM309.0,139.3h0.8v0.8h-0.8zM306.5,137.9h0.8v0.8h-0.8zM310.7,135.4h0.8v0.8h-0.8zM301.9,131.2h0.8v0.8h-0.8zM306.2,141.1h0.8v0.8h-0.8zM314.2,136.1h0.8v0.8h-0.8zM307.9,135.2h0.8v0.8h-0.8zM307.7,137.4h0.8v0.8h-0.8zM310.3,140.5h0.8v0.8h-0.8zM308.8,138.2h0.8v0.8h-0.8zM310.2,137.3h0.8v0.8h-0.8zM311.6,142.7h0.8v0.8h-0.8zM310.1,143.5h0.8v0.8h-0.8zM305.3,139.6h0.8v0.8h-0.8zM308.2,135.6h0.8v0.8h-0.8zM308.5,137.5h0.8v0.8h-0.8zM308.9,138.5h0.8v0.8h-0.8zM309.7,137.0h0.8v0.8h-0.8zM307.4,140.9h0.8v0.8h-0.8zM311.6,138.5h0.8v0.8h-0.8zM301.7,140.9h0.8v0.8h-0.8zM309.4,134.5h0.8v0.8h-0.8zM300.9,132.9h0.8v0.8h-0.8zM302.2,143.7h0.8v0.8h-0.8zM305.9,137.5h0.8v0.8h-0.8zM309.8,142.8h0.8v0.8h-0.8zM307.9,137.8h0.8v0.8h-0.8zM310.7,142.3h0.8v0.8h-0.8zM308.2,136.2h0.8v0.8h-0.8zM303.9,140.8h0.8v0.8h-0.8zM304.2,136.2h0.8v0.8h-0.8zM300.3,134.1h0.8v0.8h-0.8zM309.4,136.1h0.8v0.8h-0.8zM309.9,137.5h0.8v0.8h-0.8zM305.6,141.0h0.8v0.8h-0.8zM307.8,136.9h0.8v0.8h-0.8zM312.3,134.8h0.8v0.8h-0.8zM303.7,138.1h0.8v0.8h-0.8zM307.3,131.9h0.8v0.8h-0.8zM306.4,137.2h0.8v0.8h-0.8zM304.5,138.6h0.8v0.8h-0.8zM300.4,139.4h0.8v0.8h-0.8zM303.1,141.1h0.8v0.8h-0.8zM304.7,132.7h0.8v0.8h-0.8zM307.3,135.3h0.8v0.8h-0.8zM305.4,135.2h0.8v0.8h-0.8zM308.8,137.4h0.8v0.8h-0.8zM308.7,138.7h0.8v0.8h-0.8zM308.7,138.1h0.8v0.8h-0.8zM303.4,140.1h0.8v0.8h-0.8zM306.1,138.2h0.8v0.8h-0.8zM307.8,138.4h0.8v0.8h-0.8zM305.1,136.1h0.8v0.8h-0.8zM304.3,137.0h0.8v0.8h-0.8zM309.7,135.0h0.8v0.8h-0.8zM308.2,143.6h0.8v0.8h-0.8zM302.7,138.2h0.8v0.8h-0.8zM308.3,137.2h0.8v0.8h-0.8zM305.5,140.3h0.8v0.8h-0.8zM306.9,138.7h0.8v0.8h-0.8zM303.7,142.0h0.8v0.8h-0.8zM313.7,137.1h0.8v0.8h-0.8zM308.7,136.2h0.8v0.8h-0.8zM311.3,139.4h0.8v0.8h-0.8zM308.1,137.6h0.8v0.8h-0.8zM304.2,138.7h0.8v0.8h-0.8zM308.5,132.1h0.8v0.8h-0.8zM307.7,132.0h0.8v0.8h-0.8zM312.3,138.4h0.8v0.8h-0.8zM308.9,135.5h0.8v0.8h-0.8zM313.3,139.2h0.8v0.8h-0.8zM307.7,137.4h0.8v0.8h-0.8zM304.6,136.8h0.8v0.8h-0.8zM306.3,134.1h0.8v0.8h-0.8zM310.9,132.9h0.8v0.8h-0.8zM308.7,142.0h0.8v0.8h-0.8zM308.1,139.1h0.8v0.8h-0.8zM306.0,134.6h0.8v0.8h-0.8zM313.0,133.3h0.8v0.8h-0.8zM308.7,134.4h0.8v0.8h-0.8zM309.1,140.0h0.8v0.8h-0.8zM311.1,138.0h0.8v0.8h-0.8zM307.5,136.9h0.8v0.8h-0.8zM307.4,137.7h0.8v0.8h-0.8zM310.0,137.3h0.8v0.8h-0.8zM303.5,138.4h0.8v0.8h-0.8zM315.4,133.8h0.8v0.8h-0.8zM312.0,138.6h0.8v0.8h-0.8zM310.8,140.2h0.8v0.8h-0.8zM302.6,141.0h0.8v0.8h-0.8zM306.3,133.1h0.8v0.8h-0.8zM308.9,134.6h0.8v0.8h-0.8zM306.8,138.9h0.8v0.8h-0.8zM302.5,140.5h0.8v0.8h-0.8zM309.8,138.3h0.8v0.8h-0.8zM310.3,137.7h0.8v0.8h-0.8zM312.3,136.6h0.8v0.8h-0.8zM308.0,140.2h0.8v0.8h-0.8zM308.9,133.0h0.8v0.8h-0.8zM306.3,141.7h0.8v0.8h-0.8zM305.7,133.2h0.8v0.8h-0.8zM308.8,134.8h0.8v0.8h-0.8zM311.4,135.9h0.8v0.8h-0.8zM299.5,133.9h0.8v0.8h-0.8zM303.8,135.7h0.8v0.8h-0.8zM308.3,138.1h0.8v0.8h-0.8zM310.3,135.3h0.8v0.8h-0.8zM305.7,139.1h0.8v0.8h-0.8zM308.9,140.6h0.8v0.8h-0.8zM302.5,138.5h0.8v0.8h-0.8zM308.7,139.6h0.8v0.8h-0.8zM306.3,138.7h0.8v0.8h-0.8zM301.7,134.6h0.8v0.8h-0.8zM311.0,135.1h0.8v0.8h-0.8zM302.0,134.6h0.8v0.8h-0.8zM307.7,138.8h0.8v0.8h-0.8zM307.7,138.4h0.8v0.8h-0.8zM303.3,136.9h0.8v0.8h-0.8zM310.5,134.4h0.8v0.8h-0.8zM306.6,137.8h0.8v0.8h-0.8zM310.2,135.7h0.8v0.8h-0.8zM311.6,138.8h0.8v0.8h-0.8zM308.2,137.2h0.8v0.8h-0.8zM305.2,134.0h0.8v0.8h-0.8zM309.7,137.8h0.8v0.8h-0.8zM310.0,140.3h0.8v0.8h-0.8zM304.4,138.3h0.8v0.8h-0.8zM305.1,131.9h0.8v0.8h-0.8zM310.4,138.2h0.8v0.8h-0.8zM307.6,141.8h0.8v0.8h-0.8zM303.6,141.6h0.8v0.8h-0.8zM305.7,139.0h0.8v0.8h-0.8zM307.5,135.2h0.8v0.8h-0.8zM302.6,141.3h0.8v0.8h-0.8zM305.9,139.1h0.8v0.8h-0.8zM305.8,138.6h0.8v0.8h-0.8zM306.7,137.6h0.8v0.8h-0.8zM310.0,143.2h0.8v0.8h-0.8zM304.1,136.0h0.8v0.8h-0.8zM308.5,136.8h0.8v0.8h-0.8zM307.0,140.4h0.8v0.8h-0.8zM307.3,134.5h0.8v0.8h-0.8zM310.1,138.4h0.8v0.8h-0.8zM308.7,138.4h0.8v0.8h-0.8zM301.3,141.9h0.8v0.8h-0.8zM304.9,141.6h0.8v0.8h-0.8zM303.3,138.2h0.8v0.8h-0.8zM308.2,136.0h0.8v0.8h-0.8zM308.7,139.6h0.8v0.8h-0.8zM305.5,139.9h0.8v0.8h-0.8zM307.6,140.0h0.8v0.8h-0.8zM304.7,135.9h0.8v0.8h-0.8zM305.8,136.3h0.8v0.8h-0.8zM306.0,139.6h0.8v0.8h-0.8zM308.4,135.5h0.8v0.8h-0.8zM306.7,139.4h0.8v0.8h-0.8zM304.8,136.8h0.8v0.8h-0.8zM305.8,134.8h0.8v0.8h-0.8zM303.9,135.4h0.8v0.8h-0.8zM309.4,136.7h0.8v0.8h-0.8zM308.5,136.1h0.8v0.8h-0.8zM302.5,136.1h0.8v0.8h-0.8zM310.0,138.2h0.8v0.8h-0.8zM305.6,138.8h0.8v0.8h-0.8zM307.2,136.2h0.8v0.8h-0.8zM305.3,138.8h0.8v0.8h-0.8zM305.9,132.9h0.8v0.8h-0.8zM308.2,133.9h0.8v0.8h-0.8zM301.6,133.4h0.8v0.8h-0.8zM300.3,141.8h0.8v0.8h-0.8zM306.3,141.1h0.8v0.8h-0.8zM308.3,136.8h0.8v0.8h-0.8zM302.2,139.6h0.8v0.8h-0.8zM306.6,137.4h0.8v0.8h-0.8zM302.8,142.1h0.8v0.8h-0.8zM304.5,138.9h0.8v0.8h-0.8zM307.2,143.3h0.8v0.8h-0.8zM312.5,139.4h0.8v0.8h-0.8zM306.4,141.5h0.8v0.8h-0.8zM310.1,132.6h0.8v0.8h-0.8zM307.4,135.8h0.8v0.8h-0.8zM311.5,143.0h0.8v0.8h-0.8zM304.7,136.8h0.8v0.8h-0.8zM304.5,139.7h0.8v0.8h-0.8zM310.2,133.1h0.8v0.8h-0.8zM302.1,139.9h0.8v0.8h-0.8zM308.1,135.3h0.8v0.8h-0.8zM308.6,141.5h0.8v0.8h-0.8zM312.2,139.7h0.8v0.8h-0.8zM305.3,140.6h0.8v0.8h-0.8zM309.0,136.2h0.8v0.8h-0.8zM312.1,142.5h0.8v0.8h-0.8zM314.5,138.3h0.8v0.8h-0.8zM306.2,137.3h0.8v0.8h-0.8zM307.7,135.2h0.8v0.8h-0.8zM302.9,143.6h0.8v0.8h-0.8zM309.8,139.4h0.8v0.8h-0.8zM310.6,136.1h0.8v0.8h-0.8zM306.3,137.4h0.8v0.8h-0.8zM311.9,137.6h0.8v0.8h-0.8zM308.2,136.6h0.8v0.8h-0.8zM308.8,139.9h0.8v0.8h-0.8zM307.4,136.7h0.8v0.8h-0.8zM313.5,135.0h0.8v0.8h-0.8zM305.0,140.3h0.8v0.8h-0.8zM304.1,134.8h0.8v0.8h-0.8zM308.8,140.9h0.8v0.8h-0.8zM314.7,144.2h0.8v0.8h-0.8zM308.9,144.1h0.8v0.8h-0.8zM303.4,137.4h0.8v0.8h-0.8zM302.5,142.5h0.8v0.8h-0.8zM305.5,138.6h0.8v0.8h-0.8zM306.1,138.7h0.8v0.8h-0.8zM306.3,140.2h0.8v0.8h-0.8zM310.7,136.8h0.8v0.8h-0.8zM307.2,137.1h0.8v0.8h-0.8zM304.8,143.1h0.8v0.8h-0.8zM301.0,132.1h0.8v0.8h-0.8zM301.9,141.9h0.8v0.8h-0.8zM309.3,141.4h0.8v0.8h-0.8zM303.6,137.5h0.8v0.8h-0.8zM314.0,133.7h0.8v0.8h-0.8zM300.7,133.4h0.8v0.8h-0.8zM306.3,140.7h0.8v0.8h-0.8zM310.0,137.4h0.8v0.8h-0.8zM308.4,137.7h0.8v0.8h-0.8zM306.0,142.3h0.8v0.8h-0.8zM307.7,137.3h0.8v0.8h-0.8zM307.4,138.5h0.8v0.8h-0.8zM308.8,141.4h0.8v0.8h-0.8zM307.3,139.4h0.8v0.8h-0.8zM306.4,136.2h0.8v0.8h-0.8zM313.6,136.6h0.8v0.8h-0.8zM313.0,133.2h0.8v0.8h-0.8zM313.0,134.3h0.8v0.8h-0.8zM307.1,138.2h0.8v0.8h-0.8zM307.4,138.0h0.8v0.8h-0.8zM305.1,140.6h0.8v0.8h-0.8zM306.4,134.6h0.8v0.8h-0.8zM310.1,139.5h0.8v0.8h-0.8zM305.2,133.8h0.8v0.8h-0.8zM310.6,138.4h0.8v0.8h-0.8zM306.8,135.8h0.8v0.8h-0.8zM303.7,142.4h0.8v0.8h-0.8zM308.7,135.6h0.8v0.8h-0.8zM309.3,138.9h0.8v0.8h-0.8zM307.9,132.4h0.8v0.8h-0.8zM309.0,140.1h0.8v0.8h-0.8zM303.8,139.6h0.8v0.8h-0.8zM306.6,138.6h0.8v0.8h-0.8zM304.0,140.4h0.8v0.8h-0.8zM307.4,137.7h0.8v0.8h-0.8zM308.3,134.6h0.8v0.8h-0.8zM308.8,143.5h0.8v0.8h-0.8zM309.5,137.9h0.8v0.8h-0.8zM304.5,138.6h0.8v0.8h-0.8zM307.2,137.0h0.8v0.8h-0.8zM305.7,137.6h0.8v0.8h-0.8zM309.5,138.2h0.8v0.8h-0.8zM308.5,138.8h0.8v0.8h-0.8zM309.7,137.5h0.8v0.8h-0.8zM307.4,141.1h0.8v0.8h-0.8zM309.2,142.9h0.8v0.8h-0.8zM302.7,138.4h0.8v0.8h-0.8zM305.1,138.8h0.8v0.8h-0.8zM308.5,139.3h0.8v0.8h-0.8zM304.3,140.2h0.8v0.8h-0.8zM310.6,138.5h0.8v0.8h-0.8zM307.8,142.8h0.8v0.8h-0.8zM310.4,136.5h0.8v0.8h-0.8zM311.2,139.5h0.8v0.8h-0.8zM304.3,135.9h0.8v0.8h-0.8zM301.4,135.4h0.8v0.8h-0.8zM307.4,140.9h0.8v0.8h-0.8zM307.2,136.6h0.8v0.8h-0.8zM306.4,135.9h0.8v0.8h-0.8zM306.0,143.6h0.8v0.8h-0.8zM307.7,134.4h0.8v0.8h-0.8zM307.1,135.8h0.8v0.8h-0.8zM303.9,135.2h0.8v0.8h-0.8zM313.2,135.1h0.8v0.8h-0.8zM304.8,137.5h0.8v0.8h-0.8zM309.3,139.4h0.8v0.8h-0.8zM306.2,137.4h0.8v0.8h-0.8zM311.8,135.8h0.8v0.8h-0.8zM309.5,135.0h0.8v0.8h-0.8zM307.0,137.4h0.8v0.8h-0.8zM310.2,132.0h0.8v0.8h-0.8zM302.4,138.0h0.8v0.8h-0.8zM307.7,140.5h0.8v0.8h-0.8zM302.7,141.1h0.8v0.8h-0.8zM309.2,137.3h0.8v0.8h-0.8zM311.8,136.1h0.8v0.8h-0.8zM310.9,142.3h0.8v0.8h-0.8zM307.0,138.6h0.8v0.8h-0.8zM305.9,138.7h0.8v0.8h-0.8zM308.9,136.5h0.8v0.8h-0.8zM307.3,139.1h0.8v0.8h-0.8zM303.3,138.2h0.8v0.8h-0.8zM307.8,143.0h0.8v0.8h-0.8zM308.9,137.0h0.8v0.8h-0.8zM307.0,140.0h0.8v0.8h-0.8zM304.1,139.5h0.8v0.8h-0.8zM304.7,141.2h0.8v0.8h-0.8zM310.8,135.5h0.8v0.8h-0.8zM310.0,140.5h0.8v0.8h-0.8zM303.4,136.9h0.8v0.8h-0.8zM307.1,141.0h0.8v0.8h-0.8zM305.2,141.7h0.8v0.8h-0.8zM310.8,137.6h0.8v0.8h-0.8zM306.5,138.8h0.8v0.8h-0.8zM308.8,139.7h0.8v0.8h-0.8zM302.8,136.2h0.8v0.8h-0.8zM302.5,141.8h0.8v0.8h-0.8zM310.3,137.5h0.8v0.8h-0.8zM309.5,134.5h0.8v0.8h-0.8zM307.4,139.6h0.8v0.8h-0.8zM302.3,138.2h0.8v0.8h-0.8zM303.6,141.1h0.8v0.8h-0.8zM307.0,136.8h0.8v0.8h-0.8zM304.0,141.2h0.8v0.8h-0.8zM307.8,136.2h0.8v0.8h-0.8zM305.5,135.4h0.8v0.8h-0.8zM311.2,136.6h0.8v0.8h-0.8zM313.0,136.8h0.8v0.8h-0.8zM304.4,137.2h0.8v0.8h-0.8zM306.9,140.4h0.8v0.8h-0.8zM315.2,143.9h0.8v0.8h-0.8zM309.5,133.5h0.8v0.8h-0.8zM312.3,143.9h0.8v0.8h-0.8zM302.6,137.3h0.8v0.8h-0.8zM310.5,138.6h0.8v0.8h-0.8zM300.0,141.3h0.8v0.8h-0.8zM303.4,136.2h0.8v0.8h-0.8zM302.7,139.8h0.8v0.8h-0.8zM313.8,138.8h0.8v0.8h-0.8zM310.3,135.8h0.8v0.8h-0.8zM303.4,139.0h0.8v0.8h-0.8zM301.8,135.2h0.8v0.8h-0.8zM307.7,134.8h0.8v0.8h-0.8zM310.1,142.5h0.8v0.8h-0.8zM304.7,137.3h0.8v0.8h-0.8zM307.2,139.6h0.8v0.8h-0.8zM303.6,135.7h0.8v0.8h-0.8zM310.7,140.1h0.8v0.8h-0.8zM313.1,143.3h0.8v0.8h-0.8zM308.7,135.9h0.8v0.8h-0.8zM305.2,134.9h0.8v0.8h-0.8zM310.2,141.3h0.8v0.8h-0.8zM312.2,136.4h0.8v0.8h-0.8zM311.5,136.2h0.8v0.8h-0.8zM307.5,136.2h0.8v0.8h-0.8zM308.8,138.6h0.8v0.8h-0.8zM307.6,130.8h0.8v0.8h-0.8zM308.8,141.0h0.8v0.8h-0.8zM310.4,134.0h0.8v0.8h-0.8zM300.7,142.2h0.8v0.8h-0.8zM307.4,136.7h0.8v0.8h-0.8zM303.8,135.6h0.8v0.8h-0.8zM303.6,135.5h0.8v0.8h-0.8zM308.8,132.3h0.8v0.8h-0.8zM312.9,142.1h0.8v0.8h-0.8zM301.6,138.6h0.8v0.8h-0.8zM307.9,140.9h0.8v0.8h-0.8zM297.0,142.1h0.8v0.8h-0.8zM312.1,136.1h0.8v0.8h-0.8zM305.9,141.0h0.8v0.8h-0.8zM308.4,143.7h0.8v0.8h-0.8zM303.3,133.8h0.8v0.8h-0.8zM306.7,138.2h0.8v0.8h-0.8zM305.6,139.9h0.8v0.8h-0.8zM305.1,139.7h0.8v0.8h-0.8zM303.5,143.3h0.8v0.8h-0.8zM310.1,138.5h0.8v0.8h-0.8zM304.6,136.8h0.8v0.8h-0.8zM304.2,133.3h0.8v0.8h-0.8zM304.0,141.8h0.8v0.8h-0.8zM306.1,141.1h0.8v0.8h-0.8zM307.8,136.4h0.8v0.8h-0.8zM303.5,136.8h0.8v0.8h-0.8zM307.4,135.4h0.8v0.8h-0.8zM304.9,134.3h0.8v0.8h-0.8zM311.8,132.9h0.8v0.8h-0.8zM308.8,134.0h0.8v0.8h-0.8zM306.0,143.8h0.8v0.8h-0.8zM304.7,139.3h0.8v0.8h-0.8zM303.6,143.7h0.8v0.8h-0.8zM311.5,142.8h0.8v0.8h-0.8zM304.7,132.7h0.8v0.8h-0.8zM303.1,132.9h0.8v0.8h-0.8zM311.1,138.7h0.8v0.8h-0.8zM306.5,135.1h0.8v0.8h-0.8zM308.6,136.9h0.8v0.8h-0.8zM305.4,138.7h0.8v0.8h-0.8zM303.7,133.0h0.8v0.8h-0.8zM310.7,143.7h0.8v0.8h-0.8zM300.8,139.6h0.8v0.8h-0.8zM302.2,135.9h0.8v0.8h-0.8zM305.9,140.9h0.8v0.8h-0.8zM301.5,142.7h0.8v0.8h-0.8zM307.1,143.3h0.8v0.8h-0.8zM304.3,130.6h0.8v0.8h-0.8zM309.7,134.3h0.8v0.8h-0.8zM315.4,139.0h0.8v0.8h-0.8zM310.6,134.3h0.8v0.8h-0.8zM306.8,138.5h0.8v0.8h-0.8zM301.1,133.2h0.8v0.8h-0.8zM307.7,139.5h0.8v0.8h-0.8zM305.6,144.4h0.8v0.8h-0.8zM311.9,131.4h0.8v0.8h-0.8zM305.1,133.9h0.8v0.8h-0.8zM303.5,136.2h0.8v0.8h-0.8zM300.6,138.9h0.8v0.8h-0.8zM311.4,142.3h0.8v0.8h-0.8zM301.5,138.7h0.8v0.8h-0.8zM308.8,136.3h0.8v0.8h-0.8zM313.0,140.0h0.8v0.8h-0.8zM311.5,138.2h0.8v0.8h-0.8zM309.3,140.4h0.8v0.8h-0.8zM303.8,132.2h0.8v0.8h-0.8zM307.3,134.5h0.8v0.8h-0.8zM310.3,134.2h0.8v0.8h-0.8zM308.8,133.5h0.8v0.8h-0.8zM313.8,138.6h0.8v0.8h-0.8zM303.1,137.8h0.8v0.8h-0.8zM307.6,129.6h0.8v0.8h-0.8zM303.4,138.9h0.8v0.8h-0.8zM304.3,136.6h0.8v0.8h-0.8zM312.0,141.9h0.8v0.8h-0.8zM307.7,139.3h0.8v0.8h-0.8zM312.5,139.1h0.8v0.8h-0.8zM302.1,138.5h0.8v0.8h-0.8zM302.9,135.2h0.8v0.8h-0.8zM307.3,137.6h0.8v0.8h-0.8zM306.8,140.3h0.8v0.8h-0.8zM306.3,138.6h0.8v0.8h-0.8zM309.6,136.1h0.8v0.8h-0.8zM306.2,136.8h0.8v0.8h-0.8zM303.3,135.1h0.8v0.8h-0.8zM308.6,138.1h0.8v0.8h-0.8zM302.2,140.2h0.8v0.8h-0.8zM309.6,140.9h0.8v0.8h-0.8zM311.2,138.2h0.8v0.8h-0.8zM309.1,137.2h0.8v0.8h-0.8zM303.7,137.5h0.8v0.8h-0.8zM308.6,138.7h0.8v0.8h-0.8zM305.0,135.5h0.8v0.8h-0.8zM305.1,136.4h0.8v0.8h-0.8zM306.1,139.5h0.8v0.8h-0.8zM306.7,130.5h0.8v0.8h-0.8zM309.6,136.2h0.8v0.8h-0.8zM313.6,143.9h0.8v0.8h-0.8zM310.5,137.1h0.8v0.8h-0.8zM306.8,133.0h0.8v0.8h-0.8zM312.0,136.2h0.8v0.8h-0.8zM310.5,139.1h0.8v0.8h-0.8zM313.5,138.4h0.8v0.8h-0.8zM307.2,136.2h0.8v0.8h-0.8zM301.6,139.3h0.8v0.8h-0.8zM304.8,141.1h0.8v0.8h-0.8zM311.2,138.7h0.8v0.8h-0.8zM314.8,139.1h0.8v0.8h-0.8zM309.9,135.4h0.8v0.8h-0.8zM309.4,137.6h0.8v0.8h-0.8zM312.0,137.6h0.8v0.8h-0.8zM299.8,140.8h0.8v0.8h-0.8zM311.0,133.8h0.8v0.8h-0.8zM307.1,139.1h0.8v0.8h-0.8zM309.8,134.7h0.8v0.8h-0.8zM304.5,136.2h0.8v0.8h-0.8zM305.5,135.9h0.8v0.8h-0.8zM307.8,133.3h0.8v0.8h-0.8zM308.5,134.6h0.8v0.8h-0.8zM305.4,135.7h0.8v0.8h-0.8zM309.8,138.4h0.8v0.8h-0.8zM305.4,139.0h0.8v0.8h-0.8zM303.8,138.6h0.8v0.8h-0.8zM307.8,138.0h0.8v0.8h-0.8zM302.9,139.0h0.8v0.8h-0.8zM309.0,139.1h0.8v0.8h-0.8zM305.6,141.2h0.8v0.8h-0.8zM313.2,141.8h0.8v0.8h-0.8zM308.1,143.4h0.8v0.8h-0.8zM304.6,132.1h0.8v0.8h-0.8zM304.3,135.6h0.8v0.8h-0.8zM305.1,137.4h0.8v0.8h-0.8zM308.2,136.8h0.8v0.8h-0.8zM303.8,136.8h0.8v0.8h-0.8zM308.7,134.6h0.8v0.8h-0.8zM302.4,136.3h0.8v0.8h-0.8zM308.1,135.8h0.8v0.8h-0.8zM306.1,135.7h0.8v0.8h-0.8zM308.6,135.9h0.8v0.8h-0.8zM304.2,135.7h0.8v0.8h-0.8zM305.5,136.4h0.8v0.8h-0.8zM299.4,134.4h0.8v0.8h-0.8zM306.2,140.3h0.8v0.8h-0.8zM303.8,134.1h0.8v0.8h-0.8zM306.0,133.4h0.8v0.8h-0.8zM300.8,137.9h0.8v0.8h-0.8zM308.3,136.4h0.8v0.8h-0.8zM308.6,139.5h0.8v0.8h-0.8zM309.7,137.0h0.8v0.8h-0.8zM308.8,135.9h0.8v0.8h-0.8zM307.8,140.6h0.8v0.8h-0.8zM312.8,139.2h0.8v0.8h-0.8zM305.6,136.0h0.8v0.8h-0.8zM303.3,140.4h0.8v0.8h-0.8zM311.2,135.3h0.8v0.8h-0.8zM305.7,137.3h0.8v0.8h-0.8zM302.2,133.8h0.8v0.8h-0.8zM308.9,135.6h0.8v0.8h-0.8zM309.1,139.0h0.8v0.8h-0.8zM311.7,135.6h0.8v0.8h-0.8zM311.9,136.4h0.8v0.8h-0.8zM307.2,142.0h0.8v0.8h-0.8zM305.5,134.1h0.8v0.8h-0.8zM309.5,136.8h0.8v0.8h-0.8zM302.0,142.1h0.8v0.8h-0.8zM304.9,140.4h0.8v0.8h-0.8zM306.9,135.2h0.8v0.8h-0.8zM307.5,133.3h0.8v0.8h-0.8zM310.8,134.5h0.8v0.8h-0.8zM306.4,137.8h0.8v0.8h-0.8zM302.7,142.9h0.8v0.8h-0.8zM307.9,138.5h0.8v0.8h-0.8zM302.4,136.5h0.8v0.8h-0.8zM306.7,136.4h0.8v0.8h-0.8zM305.0,130.5h0.8v0.8h-0.8zM308.3,140.6h0.8v0.8h-0.8zM303.1,142.0h0.8v0.8h-0.8zM305.5,136.6h0.8v0.8h-0.8zM307.7,137.3h0.8v0.8h-0.8zM309.3,134.3h0.8v0.8h-0.8zM307.5,133.9h0.8v0.8h-0.8zM314.9,132.7h0.8v0.8h-0.8zM311.7,141.8h0.8v0.8h-0.8zM306.4,137.3h0.8v0.8h-0.8zM306.7,139.4h0.8v0.8h-0.8zM309.0,139.3h0.8v0.8h-0.8zM309.7,138.9h0.8v0.8h-0.8zM304.2,139.8h0.8v0.8h-0.8zM305.2,134.3h0.8v0.8h-0.8zM308.3,137.1h0.8v0.8h-0.8zM298.5,140.4h0.8v0.8h-0.8zM307.2,139.3h0.8v0.8h-0.8zM302.9,137.1h0.8v0.8h-0.8zM305.1,137.6h0.8v0.8h-0.8zM310.8,134.7h0.8v0.8h-0.8zM305.9,136.5h0.8v0.8h-0.8zM308.3,132.6h0.8v0.8h-0.8zM309.3,135.8h0.8v0.8h-0.8zM311.8,141.7h0.8v0.8h-0.8zM306.1,135.7h0.8v0.8h-0.8zM305.7,135.5h0.8v0.8h-0.8zM310.3,144.1h0.8v0.8h-0.8zM303.0,135.1h0.8v0.8h-0.8zM307.6,138.5h0.8v0.8h-0.8zM308.6,133.6h0.8v0.8h-0.8zM309.8,136.7h0.8v0.8h-0.8zM309.2,137.1h0.8v0.8h-0.8zM302.5,140.7h0.8v0.8h-0.8zM306.4,135.9h0.8v0.8h-0.8zM302.6,136.4h0.8v0.8h-0.8zM311.1,141.8h0.8v0.8h-0.8zM309.5,135.9h0.8v0.8h-0.8zM307.6,138.5h0.8v0.8h-0.8zM305.2,136.6h0.8v0.8h-0.8zM307.9,134.7h0.8v0.8h-0.8zM306.3,134.1h0.8v0.8h-0.8zM305.0,136.1h0.8v0.8h-0.8zM308.4,139.6h0.8v0.8h-0.8zM304.8,138.2h0.8v0.8h-0.8zM312.0,130.6h0.8v0.8h-0.8zM306.7,132.9h0.8v0.8h-0.8zM311.2,139.3h0.8v0.8h-0.8zM308.8,138.9h0.8v0.8h-0.8zM301.7,141.6h0.8v0.8h-0.8zM306.2,137.2h0.8v0.8h-0.8zM302.2,138.0h0.8v0.8h-0.8zM301.6,132.7h0.8v0.8h-0.8zM314.9,137.0h0.8v0.8h-0.8zM314.7,142.6h0.8v0.8h-0.8zM311.4,131.2h0.8v0.8h-0.8zM312.6,138.1h0.8v0.8h-0.8zM305.2,144.7h0.8v0.8h-0.8zM310.0,140.6h0.8v0.8h-0.8zM303.6,136.8h0.8v0.8h-0.8zM309.3,137.5h0.8v0.8h-0.8zM300.7,138.4h0.8v0.8h-0.8zM307.0,136.8h0.8v0.8h-0.8zM308.2,136.1h0.8v0.8h-0.8zM311.6,132.2h0.8v0.8h-0.8zM304.7,139.6h0.8v0.8h-0.8zM310.4,143.1h0.8v0.8h-0.8zM310.6,133.9h0.8v0.8h-0.8zM310.1,136.6h0.8v0.8h-0.8zM311.8,141.0h0.8v0.8h-0.8zM304.3,136.9h0.8v0.8h-0.8zM307.8,133.8h0.8v0.8h-0.8zM302.1,136.5h0.8v0.8h-0.8zM309.6,142.4h0.8v0.8h-0.8zM308.7,138.4h0.8v0.8h-0.8zM305.8,142.3h0.8v0.8h-0.8zM302.6,139.6h0.8v0.8h-0.8zM310.7,142.4h0.8v0.8h-0.8zM304.4,134.6h0.8v0.8h-0.8zM305.9,140.4h0.8v0.8h-0.8zM308.7,137.7h0.8v0.8h-0.8zM310.2,137.7h0.8v0.8h-0.8zM306.6,143.4h0.8v0.8h-0.8zM305.9,138.8h0.8v0.8h-0.8zM304.8,139.4h0.8v0.8h-0.8zM305.2,140.2h0.8v0.8h-0.8zM306.4,137.7h0.8v0.8h-0.8zM314.8,140.0h0.8v0.8h-0.8zM310.3,136.6h0.8v0.8h-0.8zM306.1,140.4h0.8v0.8h-0.8zM310.0,139.2h0.8v0.8h-0.8zM310.9,130.7h0.8v0.8h-0.8zM307.5,141.5h0.8v0.8h-0.8zM309.3,141.6h0.8v0.8h-0.8zM304.1,139.6h0.8v0.8h-0.8zM304.5,132.6h0.8v0.8h-0.8zM313.0,140.2h0.8v0.8h-0.8zM312.3,135.6h0.8v0.8h-0.8zM306.9,135.5h0.8v0.8h-0.8zM311.3,136.0h0.8v0.8h-0.8zM305.3,136.5h0.8v0.8h-0.8zM305.6,135.7h0.8v0.8h-0.8zM313.2,134.1h0.8v0.8h-0.8zM304.3,133.4h0.8v0.8h-0.8zM311.0,134.9h0.8v0.8h-0.8zM309.7,142.5h0.8v0.8h-0.8zM308.5,143.9h0.8v0.8h-0.8zM310.1,133.1h0.8v0.8h-0.8zM309.2,136.6h0.8v0.8h-0.8zM312.1,133.6h0.8v0.8h-0.8zM310.4,132.8h0.8v0.8h-0.8zM309.1,132.2h0.8v0.8h-0.8zM299.0,139.3h0.8v0.8h-0.8zM303.1,141.7h0.8v0.8h-0.8zM307.5,135.7h0.8v0.8h-0.8zM310.7,144.0h0.8v0.8h-0.8zM305.8,135.5h0.8v0.8h-0.8zM307.4,133.9h0.8v0.8h-0.8zM305.9,134.4h0.8v0.8h-0.8zM312.3,134.1h0.8v0.8h-0.8zM311.7,141.4h0.8v0.8h-0.8zM306.1,137.5h0.8v0.8h-0.8zM304.0,143.0h0.8v0.8h-0.8zM305.3,138.5h0.8v0.8h-0.8zM305.6,137.8h0.8v0.8h-0.8zM309.2,139.4h0.8v0.8h-0.8zM310.8,137.9h0.8v0.8h-0.8zM309.1,132.6h0.8v0.8h-0.8zM305.9,131.7h0.8v0.8h-0.8zM310.1,137.8h0.8v0.8h-0.8zM302.9,135.7h0.8v0.8h-0.8zM308.4,142.6h0.8v0.8h-0.8zM305.4,139.0h0.8v0.8h-0.8zM303.2,140.4h0.8v0.8h-0.8zM306.7,135.1h0.8v0.8h-0.8zM311.3,144.4h0.8v0.8h-0.8zM310.4,138.0h0.8v0.8h-0.8zM310.6,135.8h0.8v0.8h-0.8zM305.9,134.0h0.8v0.8h-0.8zM305.7,136.8h0.8v0.8h-0.8zM307.8,135.3h0.8v0.8h-0.8zM305.4,129.1h0.8v0.8h-0.8zM312.3,140.7h0.8v0.8h-0.8zM308.9,138.3h0.8v0.8h-0.8zM302.9,133.6h0.8v0.8h-0.8zM305.9,136.1h0.8v0.8h-0.8zM308.5,135.8h0.8v0.8h-0.8zM299.2,140.1h0.8v0.8h-0.8zM305.3,139.2h0.8v0.8h-0.8zM306.6,140.1h0.8v0.8h-0.8zM309.4,136.0h0.8v0.8h-0.8zM308.0,138.0h0.8v0.8h-0.8zM307.3,133.4h0.8v0.8h-0.8zM305.0,137.7h0.8v0.8h-0.8zM306.1,130.9h0.8v0.8h-0.8zM309.7,137.8h0.8v0.8h-0.8zM306.2,134.8h0.8v0.8h-0.8zM304.6,137.8h0.8v0.8h-0.8zM311.7,141.7h0.8v0.8h-0.8zM307.2,138.1h0.8v0.8h-0.8zM307.8,140.3h0.8v0.8h-0.8zM310.7,140.6h0.8v0.8h-0.8zM307.0,141.1h0.8v0.8h-0.8zM300.7,134.1h0.8v0.8h-0.8zM308.7,140.4h0.8v0.8h-0.8zM304.6,140.9h0.8v0.8h-0.8zM306.4,137.2h0.8v0.8h-0.8zM306.9,136.3h0.8v0.8h-0.8zM310.6,136.3h0.8v0.8h-0.8zM304.8,140.3h0.8v0.8h-0.8zM303.4,137.6h0.8v0.8h-0.8zM304.5,137.3h0.8v0.8h-0.8zM302.0,136.3h0.8v0.8h-0.8zM301.6,138.5h0.8v0.8h-0.8zM307.7,134.5h0.8v0.8h-0.8zM302.4,134.9h0.8v0.8h-0.8zM304.2,142.6h0.8v0.8h-0.8zM309.6,135.3h0.8v0.8h-0.8zM309.7,138.7h0.8v0.8h-0.8zM303.1,132.3h0.8v0.8h-0.8zM304.7,133.4h0.8v0.8h-0.8zM304.5,135.8h0.8v0.8h-0.8zM308.2,131.7h0.8v0.8h-0.8zM313.6,136.1h0.8v0.8h-0.8zM303.7,135.0h0.8v0.8h-0.8zM303.7,141.4h0.8v0.8h-0.8zM304.1,129.6h0.8v0.8h-0.8zM304.5,139.5h0.8v0.8h-0.8zM303.3,137.4h0.8v0.8h-0.8zM311.5,140.5h0.8v0.8h-0.8zM303.2,140.3h0.8v0.8h-0.8zM307.1,136.5h0.8v0.8h-0.8zM313.7,135.3h0.8v0.8h-0.8zM309.4,136.3h0.8v0.8h-0.8zM304.7,133.0h0.8v0.8h-0.8zM308.7,138.5h0.8v0.8h-0.8zM312.7,134.9h0.8v0.8h-0.8zM311.4,136.0h0.8v0.8h-0.8zM302.8,138.5h0.8v0.8h-0.8zM310.0,136.8h0.8v0.8h-0.8zM311.1,143.4h0.8v0.8h-0.8zM312.3,138.5h0.8v0.8h-0.8zM304.4,143.3h0.8v0.8h-0.8zM308.1,136.4h0.8v0.8h-0.8zM303.3,139.4h0.8v0.8h-0.8zM313.2,139.5h0.8v0.8h-0.8zM304.1,138.4h0.8v0.8h-0.8zM305.9,139.2h0.8v0.8h-0.8zM313.1,132.1h0.8v0.8h-0.8zM308.1,136.5h0.8v0.8h-0.8zM308.1,136.6h0.8v0.8h-0.8zM304.0,142.3h0.8v0.8h-0.8zM306.1,136.3h0.8v0.8h-0.8zM310.7,140.3h0.8v0.8h-0.8zM310.6,135.4h0.8v0.8h-0.8zM306.1,140.1h0.8v0.8h-0.8zM305.0,134.2h0.8v0.8h-0.8zM303.9,135.6h0.8v0.8h-0.8zM302.3,135.6h0.8v0.8h-0.8zM305.4,140.6h0.8v0.8h-0.8zM303.6,137.0h0.8v0.8h-0.8zM305.6,134.9h0.8v0.8h-0.8zM303.4,137.4h0.8v0.8h-0.8zM309.2,137.7h0.8v0.8h-0.8zM302.5,141.3h0.8v0.8h-0.8zM307.3,137.3h0.8v0.8h-0.8zM302.3,136.4h0.8v0.8h-0.8zM313.2,138.6h0.8v0.8h-0.8zM306.8,144.4h0.8v0.8h-0.8zM311.1,136.7h0.8v0.8h-0.8zM304.0,134.5h0.8v0.8h-0.8zM306.6,135.5h0.8v0.8h-0.8zM309.2,135.0h0.8v0.8h-0.8zM310.5,133.6h0.8v0.8h-0.8zM301.7,141.5h0.8v0.8h-0.8zM303.9,138.4h0.8v0.8h-0.8zM309.1,138.2h0.8v0.8h-0.8zM311.1,140.0h0.8v0.8h-0.8zM307.2,137.7h0.8v0.8h-0.8zM311.6,137.7h0.8v0.8h-0.8zM310.2,140.2h0.8v0.8h-0.8zM305.1,139.5h0.8v0.8h-0.8zM316.7,134.6h0.8v0.8h-0.8zM310.1,131.0h0.8v0.8h-0.8zM306.3,136.3h0.8v0.8h-0.8zM308.8,138.3h0.8v0.8h-0.8zM302.8,133.7h0.8v0.8h-0.8zM306.8,135.5h0.8v0.8h-0.8zM306.4,138.2h0.8v0.8h-0.8zM307.1,142.4h0.8v0.8h-0.8zM308.2,138.9h0.8v0.8h-0.8zM304.5,142.3h0.8v0.8h-0.8zM310.9,138.3h0.8v0.8h-0.8zM306.6,139.1h0.8v0.8h-0.8zM310.9,141.0h0.8v0.8h-0.8zM305.1,140.6h0.8v0.8h-0.8zM307.2,135.5h0.8v0.8h-0.8zM306.1,140.3h0.8v0.8h-0.8zM313.2,136.6h0.8v0.8h-0.8zM305.5,138.1h0.8v0.8h-0.8zM305.8,133.4h0.8v0.8h-0.8zM311.2,134.5h0.8v0.8h-0.8zM306.1,137.9h0.8v0.8h-0.8zM306.4,140.2h0.8v0.8h-0.8zM303.6,133.4h0.8v0.8h-0.8zM308.0,137.4h0.8v0.8h-0.8zM303.4,140.1h0.8v0.8h-0.8zM307.9,132.4h0.8v0.8h-0.8zM307.9,139.5h0.8v0.8h-0.8zM309.5,135.3h0.8v0.8h-0.8zM306.5,137.4h0.8v0.8h-0.8zM308.8,135.2h0.8v0.8h-0.8zM306.8,136.5h0.8v0.8h-0.8zM306.7,135.1h0.8v0.8h-0.8zM308.4,140.9h0.8v0.8h-0.8zM311.6,137.4h0.8v0.8h-0.8zM308.3,137.8h0.8v0.8h-0.8zM308.4,134.2h0.8v0.8h-0.8zM301.5,142.5h0.8v0.8h-0.8zM315.7,135.4h0.8v0.8h-0.8zM310.2,138.6h0.8v0.8h-0.8zM311.5,134.3h0.8v0.8h-0.8zM307.8,144.5h0.8v0.8h-0.8zM314.5,134.1h0.8v0.8h-0.8zM307.3,136.8h0.8v0.8h-0.8zM313.7,140.5h0.8v0.8h-0.8zM304.6,139.5h0.8v0.8h-0.8zM306.8,133.4h0.8v0.8h-0.8zM305.6,140.7h0.8v0.8h-0.8zM300.3,142.8h0.8v0.8h-0.8zM309.5,140.6h0.8v0.8h-0.8zM300.8,139.7h0.8v0.8h-0.8zM304.3,132.7h0.8v0.8h-0.8zM304.6,138.7h0.8v0.8h-0.8zM311.0,142.5h0.8v0.8h-0.8zM309.5,138.6h0.8v0.8h-0.8zM306.1,134.0h0.8v0.8h-0.8zM308.8,137.6h0.8v0.8h-0.8zM307.4,133.5h0.8v0.8h-0.8zM304.6,137.3h0.8v0.8h-0.8zM305.9,138.8h0.8v0.8h-0.8zM311.9,139.0h0.8v0.8h-0.8zM308.6,136.6h0.8v0.8h-0.8zM302.6,138.9h0.8v0.8h-0.8zM307.2,135.5h0.8v0.8h-0.8zM304.7,140.3h0.8v0.8h-0.8zM309.1,137.5h0.8v0.8h-0.8zM309.9,132.7h0.8v0.8h-0.8zM306.9,142.3h0.8v0.8h-0.8zM306.1,138.6h0.8v0.8h-0.8zM306.4,138.9h0.8v0.8h-0.8zM303.9,133.0h0.8v0.8h-0.8zM310.2,139.3h0.8v0.8h-0.8zM310.4,134.7h0.8v0.8h-0.8zM308.0,137.2h0.8v0.8h-0.8zM300.2,133.2h0.8v0.8h-0.8zM308.8,143.2h0.8v0.8h-0.8zM305.5,143.2h0.8v0.8h-0.8zM303.7,139.8h0.8v0.8h-0.8zM306.1,134.0h0.8v0.8h-0.8zM310.0,135.5h0.8v0.8h-0.8zM308.7,140.7h0.8v0.8h-0.8zM304.9,135.5h0.8v0.8h-0.8zM306.8,137.5h0.8v0.8h-0.8zM313.1,139.8h0.8v0.8h-0.8zM305.1,138.2h0.8v0.8h-0.8zM306.5,137.4h0.8v0.8h-0.8zM310.3,139.6h0.8v0.8h-0.8zM306.2,140.3h0.8v0.8h-0.8zM310.5,139.6h0.8v0.8h-0.8zM305.3,142.7h0.8v0.8h-0.8zM312.1,135.0h0.8v0.8h-0.8zM310.1,140.3h0.8v0.8h-0.8zM308.9,140.2h0.8v0.8h-0.8zM306.5,137.0h0.8v0.8h-0.8zM309.7,138.0h0.8v0.8h-0.8zM310.3,142.3h0.8v0.8h-0.8zM307.6,139.4h0.8v0.8h-0.8zM311.9,134.8h0.8v0.8h-0.8zM302.4,139.4h0.8v0.8h-0.8zM312.3,136.5h0.8v0.8h-0.8zM308.6,136.3h0.8v0.8h-0.8zM307.1,137.4h0.8v0.8h-0.8zM314.3,132.4h0.8v0.8h-0.8zM305.2,133.4h0.8v0.8h-0.8zM308.3,144.6h0.8v0.8h-0.8zM300.4,128.4h0.8v0.8h-0.8zM309.2,137.4h0.8v0.8h-0.8zM306.9,138.0h0.8v0.8h-0.8zM307.2,136.7h0.8v0.8h-0.8zM305.8,138.1h0.8v0.8h-0.8zM305.4,136.4h0.8v0.8h-0.8zM309.4,140.0h0.8v0.8h-0.8zM310.5,141.5h0.8v0.8h-0.8zM308.3,143.9h0.8v0.8h-0.8zM308.9,138.5h0.8v0.8h-0.8zM300.2,141.5h0.8v0.8h-0.8zM308.7,137.4h0.8v0.8h-0.8zM302.0,136.8h0.8v0.8h-0.8zM303.9,137.4h0.8v0.8h-0.8zM308.2,137.5h0.8v0.8h-0.8zM306.7,137.3h0.8v0.8h-0.8zM314.0,134.6h0.8v0.8h-0.8zM309.2,134.9h0.8v0.8h-0.8zM306.2,141.6h0.8v0.8h-0.8zM303.9,137.6h0.8v0.8h-0.8zM303.4,142.5h0.8v0.8h-0.8zM308.3,140.2h0.8v0.8h-0.8zM306.9,141.3h0.8v0.8h-0.8zM303.0,139.6h0.8v0.8h-0.8zM300.0,141.9h0.8v0.8h-0.8zM305.2,136.2h0.8v0.8h-0.8zM311.6,137.7h0.8v0.8h-0.8zM309.1,136.1h0.8v0.8h-0.8zM305.8,141.1h0.8v0.8h-0.8zM305.0,136.0h0.8v0.8h-0.8zM309.1,136.7h0.8v0.8h-0.8zM302.2,137.1h0.8v0.8h-0.8zM312.7,135.4h0.8v0.8h-0.8zM302.2,140.7h0.8v0.8h-0.8zM305.6,135.9h0.8v0.8h-0.8zM314.2,138.2h0.8v0.8h-0.8zM303.5,139.7h0.8v0.8h-0.8zM308.5,136.7h0.8v0.8h-0.8zM305.6,137.4h0.8v0.8h-0.8zM304.8,140.2h0.8v0.8h-0.8zM313.8,131.5h0.8v0.8h-0.8zM307.2,139.7h0.8v0.8h-0.8zM307.2,141.2h0.8v0.8h-0.8zM310.5,138.2h0.8v0.8h-0.8zM305.1,141.1h0.8v0.8h-0.8zM305.0,135.7h0.8v0.8h-0.8zM306.5,138.5h0.8v0.8h-0.8zM305.4,136.9h0.8v0.8h-0.8zM307.9,141.5h0.8v0.8h-0.8zM304.9,134.8h0.8v0.8h-0.8zM302.8,136.9h0.8v0.8h-0.8zM307.8,139.7h0.8v0.8h-0.8zM305.8,133.7h0.8v0.8h-0.8zM303.1,141.0h0.8v0.8h-0.8zM309.4,140.4h0.8v0.8h-0.8zM310.3,138.0h0.8v0.8h-0.8zM305.6,134.3h0.8v0.8h-0.8zM307.4,136.9h0.8v0.8h-0.8zM303.5,135.7h0.8v0.8h-0.8zM302.9,139.5h0.8v0.8h-0.8zM307.6,142.2h0.8v0.8h-0.8zM307.5,137.0h0.8v0.8h-0.8zM309.7,138.8h0.8v0.8h-0.8zM300.2,137.7h0.8v0.8h-0.8zM302.6,133.4h0.8v0.8h-0.8zM303.6,141.6h0.8v0.8h-0.8zM312.9,136.4h0.8v0.8h-0.8zM309.0,140.4h0.8v0.8h-0.8zM308.2,144.1h0.8v0.8h-0.8zM306.7,135.9h0.8v0.8h-0.8zM302.7,134.9h0.8v0.8h-0.8zM307.0,131.3h0.8v0.8h-0.8zM310.7,132.1h0.8v0.8h-0.8zM302.7,135.8h0.8v0.8h-0.8zM305.7,136.4h0.8v0.8h-0.8zM306.1,143.6h0.8v0.8h-0.8zM305.7,140.1h0.8v0.8h-0.8zM303.9,143.0h0.8v0.8h-0.8zM306.6,138.5h0.8v0.8h-0.8zM303.2,134.8h0.8v0.8h-0.8zM307.1,133.2h0.8v0.8h-0.8zM308.6,138.5h0.8v0.8h-0.8zM297.2,138.4h0.8v0.8h-0.8zM310.2,134.7h0.8v0.8h-0.8zM308.4,143.2h0.8v0.8h-0.8zM306.9,137.4h0.8v0.8h-0.8zM312.4,139.0h0.8v0.8h-0.8zM311.8,134.7h0.8v0.8h-0.8zM306.7,139.5h0.8v0.8h-0.8zM309.1,140.9h0.8v0.8h-0.8zM310.2,136.8h0.8v0.8h-0.8zM306.1,136.7h0.8v0.8h-0.8zM309.6,140.5h0.8v0.8h-0.8zM304.8,139.3h0.8v0.8h-0.8zM306.1,135.8h0.8v0.8h-0.8zM307.5,141.0h0.8v0.8h-0.8zM306.0,134.8h0.8v0.8h-0.8zM304.4,136.5h0.8v0.8h-0.8zM307.1,138.0h0.8v0.8h-0.8zM306.2,137.2h0.8v0.8h-0.8zM308.3,133.1h0.8v0.8h-0.8zM304.9,142.6h0.8v0.8h-0.8zM306.1,141.4h0.8v0.8h-0.8zM306.2,136.0h0.8v0.8h-0.8zM303.1,139.1h0.8v0.8h-0.8zM308.1,128.3h0.8v0.8h-0.8zM305.3,142.6h0.8v0.8h-0.8zM310.2,139.9h0.8v0.8h-0.8zM304.3,138.8h0.8v0.8h-0.8zM304.4,137.5h0.8v0.8h-0.8zM309.7,141.6h0.8v0.8h-0.8zM301.7,141.4h0.8v0.8h-0.8zM313.2,134.9h0.8v0.8h-0.8zM307.3,141.0h0.8v0.8h-0.8zM307.0,140.8h0.8v0.8h-0.8zM307.5,140.2h0.8v0.8h-0.8zM316.7,141.9h0.8v0.8h-0.8zM306.7,135.4h0.8v0.8h-0.8zM308.6,134.4h0.8v0.8h-0.8zM302.8,135.8h0.8v0.8h-0.8zM307.7,136.4h0.8v0.8h-0.8zM307.8,134.6h0.8v0.8h-0.8zM310.7,138.5h0.8v0.8h-0.8zM306.7,134.8h0.8v0.8h-0.8zM306.7,136.5h0.8v0.8h-0.8zM306.4,133.2h0.8v0.8h-0.8zM309.3,138.1h0.8v0.8h-0.8zM312.7,141.2h0.8v0.8h-0.8zM302.7,135.3h0.8v0.8h-0.8zM308.8,138.9h0.8v0.8h-0.8zM307.7,137.4h0.8v0.8h-0.8zM309.2,141.9h0.8v0.8h-0.8zM303.1,137.7h0.8v0.8h-0.8zM303.4,133.3h0.8v0.8h-0.8zM304.2,140.8h0.8v0.8h-0.8zM311.9,143.0h0.8v0.8h-0.8zM308.0,137.0h0.8v0.8h-0.8zM307.0,139.3h0.8v0.8h-0.8zM305.6,137.5h0.8v0.8h-0.8zM304.4,136.3h0.8v0.8h-0.8zM307.5,138.0h0.8v0.8h-0.8zM308.8,141.9h0.8v0.8h-0.8zM309.6,139.9h0.8v0.8h-0.8zM304.8,140.9h0.8v0.8h-0.8zM314.3,136.7h0.8v0.8h-0.8zM300.1,131.6h0.8v0.8h-0.8zM311.0,140.5h0.8v0.8h-0.8zM307.4,137.2h0.8v0.8h-0.8zM311.9,136.2h0.8v0.8h-0.8zM309.5,137.0h0.8v0.8h-0.8zM309.8,142.0h0.8v0.8h-0.8zM309.5,141.5h0.8v0.8h-0.8zM306.4,139.5h0.8v0.8h-0.8zM309.5,144.2h0.8v0.8h-0.8zM308.0,139.0h0.8v0.8h-0.8zM305.3,139.2h0.8v0.8h-0.8zM301.9,136.9h0.8v0.8h-0.8zM311.7,135.8h0.8v0.8h-0.8zM306.3,140.2h0.8v0.8h-0.8zM304.7,138.9h0.8v0.8h-0.8zM303.9,136.6h0.8v0.8h-0.8zM311.1,133.7h0.8v0.8h-0.8zM301.0,132.4h0.8v0.8h-0.8zM309.3,136.2h0.8v0.8h-0.8zM311.8,132.3h0.8v0.8h-0.8zM308.2,130.6h0.8v0.8h-0.8zM314.6,140.2h0.8v0.8h-0.8zM306.0,136.0h0.8v0.8h-0.8zM307.1,130.9h0.8v0.8h-0.8zM300.4,133.5h0.8v0.8h-0.8zM305.4,133.8h0.8v0.8h-0.8zM311.8,130.4h0.8v0.8h-0.8zM309.1,134.1h0.8v0.8h-0.8zM306.3,135.5h0.8v0.8h-0.8zM307.8,139.3h0.8v0.8h-0.8zM303.2,141.9h0.8v0.8h-0.8zM304.1,132.7h0.8v0.8h-0.8zM306.6,140.6h0.8v0.8h-0.8zM308.4,136.6h0.8v0.8h-0.8zM312.1,134.1h0.8v0.8h-0.8zM304.4,143.3h0.8v0.8h-0.8zM311.3,136.3h0.8v0.8h-0.8zM307.5,136.0h0.8v0.8h-0.8zM308.1,137.5h0.8v0.8h-0.8zM303.6,133.6h0.8v0.8h-0.8zM306.8,135.4h0.8v0.8h-0.8zM305.5,136.4h0.8v0.8h-0.8zM306.7,143.3h0.8v0.8h-0.8zM308.2,135.7h0.8v0.8h-0.8zM308.6,133.7h0.8v0.8h-0.8zM304.1,138.4h0.8v0.8h-0.8zM304.2,134.6h0.8v0.8h-0.8zM312.2,143.4h0.8v0.8h-0.8zM310.2,134.1h0.8v0.8h-0.8zM301.5,134.9h0.8v0.8h-0.8zM303.0,135.0h0.8v0.8h-0.8zM305.7,138.9h0.8v0.8h-0.8zM314.4,134.6h0.8v0.8h-0.8zM306.3,132.6h0.8v0.8h-0.8zM312.0,140.8h0.8v0.8h-0.8zM308.3,135.1h0.8v0.8h-0.8zM306.4,130.9h0.8v0.8h-0.8zM301.8,130.5h0.8v0.8h-0.8zM307.9,129.0h0.8v0.8h-0.8zM309.5,129.7h0.8v0.8h-0.8zM307.9,131.8h0.8v0.8h-0.8zM308.2,128.7h0.8v0.8h-0.8zM307.5,131.4h0.8v0.8h-0.8zM305.7,128.8h0.8v0.8h-0.8zM307.0,131.5h0.8v0.8h-0.8zM309.9,132.6h0.8v0.8h-0.8zM307.7,127.8h0.8v0.8h-0.8zM306.7,129.9h0.8v0.8h-0.8zM309.9,131.6h0.8v0.8h-0.8zM304.0,128.4h0.8v0.8h-0.8zM307.1,128.9h0.8v0.8h-0.8zM302.9,128.0h0.8v0.8h-0.8zM309.7,131.1h0.8v0.8h-0.8zM304.3,130.2h0.8v0.8h-0.8zM305.6,129.2h0.8v0.8h-0.8zM309.1,132.4h0.8v0.8h-0.8zM309.2,129.9h0.8v0.8h-0.8zM309.6,128.3h0.8v0.8h-0.8zM302.7,129.4h0.8v0.8h-0.8zM305.6,131.7h0.8v0.8h-0.8zM304.4,130.6h0.8v0.8h-0.8zM307.4,131.0h0.8v0.8h-0.8zM305.6,129.9h0.8v0.8h-0.8zM304.8,130.3h0.8v0.8h-0.8zM305.0,131.2h0.8v0.8h-0.8zM307.3,130.3h0.8v0.8h-0.8zM307.1,130.7h0.8v0.8h-0.8zM308.6,132.2h0.8v0.8h-0.8zM302.6,132.4h0.8v0.8h-0.8zM307.6,131.8h0.8v0.8h-0.8zM309.2,129.9h0.8v0.8h-0.8zM304.9,131.9h0.8v0.8h-0.8zM310.8,129.7h0.8v0.8h-0.8zM303.1,131.8h0.8v0.8h-0.8zM308.8,130.3h0.8v0.8h-0.8zM304.3,133.2h0.8v0.8h-0.8zM306.1,130.8h0.8v0.8h-0.8zM305.4,132.7h0.8v0.8h-0.8zM307.5,132.4h0.8v0.8h-0.8zM308.7,131.5h0.8v0.8h-0.8zM306.3,130.0h0.8v0.8h-0.8zM305.4,130.0h0.8v0.8h-0.8zM303.7,131.4h0.8v0.8h-0.8zM309.2,130.6h0.8v0.8h-0.8zM300.8,129.3h0.8v0.8h-0.8zM302.3,130.0h0.8v0.8h-0.8z" fill="#000" fill-opacity="1"/>
<path d="M289.2,140.8h0.8v0.8h-0.8zM280.4,128.5h0.8v0.8h-0.8zM274.7,127.5h0.8v0.8h-0.8zM269.7,133.5h0.8v0.8h-0.8zM285.1,138.0h0.8v0.8h-0.8zM286.5,129.4h0.8v0.8h-0.8zM271.3,126.5h0.8v0.8h-0.8zM280.0,131.0h0.8v0.8h-0.8zM285.9,138.9h0.8v0.8h-0.8zM275.8,130.4h0.8v0.8h-0.8zM280.1,140.6h0.8v0.8h-0.8zM289.3,138.5h0.8v0.8h-0.8zM285.1,137.3h0.8v0.8h-0.8zM268.6,137.9h0.8v0.8h-0.8zM268.3,126.3h0.8v0.8h-0.8zM273.6,131.1h0.8v0.8h-0.8zM286.4,137.9h0.8v0.8h-0.8zM273.3,142.6h0.8v0.8h-0.8zM268.5,135.0h0.8v0.8h-0.8zM287.8,127.9h0.8v0.8h-0.8zM283.3,130.7h0.8v0.8h-0.8zM281.2,126.4h0.8v0.8h-0.8zM285.8,135.9h0.8v0.8h-0.8zM278.4,128.7h0.8v0.8h-0.8zM271.1,132.4h0.8v0.8h-0.8zM277.1,131.9h0.8v0.8h-0.8zM273.9,133.8h0.8v0.8h-0.8zM275.4,137.4h0.8v0.8h-0.8zM277.2,126.4h0.8v0.8h-0.8zM271.5,126.1h0.8v0.8h-0.8zM277.7,133.9h0.8v0.8h-0.8zM275.3,135.5h0.8v0.8h-0.8zM285.5,133.8h0.8v0.8h-0.8zM282.0,141.5h0.8v0.8h-0.8zM268.1,130.4h0.8v0.8h-0.8zM270.5,135.4h0.8v0.8h-0.8zM287.8,136.2h0.8v0.8h-0.8zM286.5,132.8h0.8v0.8h-0.8zM290.6,137.7h0.8v0.8h-0.8zM288.3,128.5h0.8v0.8h-0.8zM273.1,138.0h0.8v0.8h-0.8zM273.2,138.2h0.8v0.8h-0.8zM281.2,142.6h0.8v0.8h-0.8zM279.3,134.9h0.8v0.8h-0.8zM276.2,141.1h0.8v0.8h-0.8zM300.7,111.1h0.8v0.8h-0.8zM311.3,120.6h0.8v0.8h-0.8zM302.5,111.8h0.8v0.8h-0.8zM303.6,112.5h0.8v0.8h-0.8zM304.4,117.1h0.8v0.8h-0.8zM304.2,116.2h0.8v0.8h-0.8zM303.2,117.7h0.8v0.8h-0.8zM303.7,113.1h0.8v0.8h-0.8zM304.0,115.6h0.8v0.8h-0.8zM307.2,121.0h0.8v0.8h-0.8zM303.0,116.1h0.8v0.8h-0.8zM300.4,118.5h0.8v0.8h-0.8zM308.9,115.4h0.8v0.8h-0.8zM301.4,111.4h0.8v0.8h-0.8zM303.7,112.6h0.8v0.8h-0.8zM310.0,114.7h0.8v0.8h-0.8zM310.9,119.2h0.8v0.8h-0.8zM305.5,111.0h0.8v0.8h-0.8zM308.2,113.9h0.8v0.8h-0.8zM312.0,117.0h0.8v0.8h-0.8zM307.4,115.0h0.8v0.8h-0.8zM298.9,111.3h0.8v0.8h-0.8zM304.5,98.0h0.8v0.8h-0.8zM293.0,133.9h0.8v0.8h-0.8zM304.9,125.2h0.8v0.8h-0.8zM319.6,127.1h0.8v0.8h-0.8zM303.6,105.1h0.8v0.8h-0.8zM301.0,107.3h0.8v0.8h-0.8zM295.3,91.5h0.8v0.8h-0.8zM301.7,105.4h0.8v0.8h-0.8zM314.7,94.9h0.8v0.8h-0.8zM316.0,98.4h0.8v0.8h-0.8z" fill="#000" fill-opacity="0.75"/>
<text x="302.4" y="94.0" font-size="9.9" text-anchor="start" fill="#000" textLength="22.2" lengthAdjust="spacingAndGlyphs" stroke="#000" stroke-width="0.55">13.2%</text>
<line x1="368.4" y1="82.4" x2="440" y2="82.4" stroke="#777" stroke-width="0.9"/>
<line x1="440" y1="82.4" x2="440" y2="144.6" stroke="#777" stroke-width="0.9"/>
<line x1="368.4" y1="144.6" x2="440" y2="144.6" stroke="#333" stroke-width="1"/>
<line x1="368.4" y1="82.4" x2="368.4" y2="144.6" stroke="#333" stroke-width="1"/>
<line x1="393.6" y1="82.4" x2="393.6" y2="144.6" stroke="#444" stroke-width="0.9"/>
<line x1="368.4" y1="121.5" x2="440" y2="121.5" stroke="#777" stroke-width="0.9"/>
<line x1="368.4" y1="144.6" x2="368.4" y2="145.9" stroke="#555" stroke-width="0.7"/>
<text x="368.4" y="150.9" font-size="4.3" text-anchor="middle" fill="#444">10<tspan font-size="3" dy="-1.4">0</tspan></text>
<line x1="367.09999999999997" y1="144.6" x2="368.4" y2="144.6" stroke="#555" stroke-width="0.7"/>
<text transform="translate(365.6,144.6) rotate(-90)" font-size="4.3" text-anchor="middle" fill="#444">10<tspan font-size="3" dy="-1.4">0</tspan></text>
<line x1="386.29999999999995" y1="144.6" x2="386.29999999999995" y2="145.9" stroke="#555" stroke-width="0.7"/>
<text x="386.3" y="150.9" font-size="4.3" text-anchor="middle" fill="#444">10<tspan font-size="3" dy="-1.4">1</tspan></text>
<line x1="367.09999999999997" y1="129.05" x2="368.4" y2="129.05" stroke="#555" stroke-width="0.7"/>
<text transform="translate(365.6,129.1) rotate(-90)" font-size="4.3" text-anchor="middle" fill="#444">10<tspan font-size="3" dy="-1.4">1</tspan></text>
<line x1="404.2" y1="144.6" x2="404.2" y2="145.9" stroke="#555" stroke-width="0.7"/>
<text x="404.2" y="150.9" font-size="4.3" text-anchor="middle" fill="#444">10<tspan font-size="3" dy="-1.4">2</tspan></text>
<line x1="367.09999999999997" y1="113.5" x2="368.4" y2="113.5" stroke="#555" stroke-width="0.7"/>
<text transform="translate(365.6,113.5) rotate(-90)" font-size="4.3" text-anchor="middle" fill="#444">10<tspan font-size="3" dy="-1.4">2</tspan></text>
<line x1="422.1" y1="144.6" x2="422.1" y2="145.9" stroke="#555" stroke-width="0.7"/>
<text x="422.1" y="150.9" font-size="4.3" text-anchor="middle" fill="#444">10<tspan font-size="3" dy="-1.4">3</tspan></text>
<line x1="367.09999999999997" y1="97.95" x2="368.4" y2="97.95" stroke="#555" stroke-width="0.7"/>
<text transform="translate(365.6,98.0) rotate(-90)" font-size="4.3" text-anchor="middle" fill="#444">10<tspan font-size="3" dy="-1.4">3</tspan></text>
<line x1="440.0" y1="144.6" x2="440.0" y2="145.9" stroke="#555" stroke-width="0.7"/>
<text x="440.0" y="150.9" font-size="4.3" text-anchor="middle" fill="#444">10<tspan font-size="3" dy="-1.4">4</tspan></text>
<line x1="367.09999999999997" y1="82.4" x2="368.4" y2="82.4" stroke="#555" stroke-width="0.7"/>
<text transform="translate(365.6,82.4) rotate(-90)" font-size="4.3" text-anchor="middle" fill="#444">10<tspan font-size="3" dy="-1.4">4</tspan></text>
<path d="M392.4,105.8h0.8v0.8h-0.8zM387.2,106.7h0.8v0.8h-0.8zM385.2,105.0h0.8v0.8h-0.8zM390.5,108.1h0.8v0.8h-0.8zM390.0,102.5h0.8v0.8h-0.8zM387.2,107.2h0.8v0.8h-0.8zM384.5,105.9h0.8v0.8h-0.8zM386.5,107.4h0.8v0.8h-0.8zM390.9,106.9h0.8v0.8h-0.8zM378.8,108.5h0.8v0.8h-0.8zM387.0,105.8h0.8v0.8h-0.8zM382.8,104.6h0.8v0.8h-0.8zM391.7,104.1h0.8v0.8h-0.8zM388.2,107.0h0.8v0.8h-0.8zM386.5,108.1h0.8v0.8h-0.8zM383.7,105.1h0.8v0.8h-0.8zM389.5,103.1h0.8v0.8h-0.8zM385.6,106.1h0.8v0.8h-0.8zM388.9,107.0h0.8v0.8h-0.8zM386.2,106.6h0.8v0.8h-0.8zM392.3,106.1h0.8v0.8h-0.8zM382.9,106.2h0.8v0.8h-0.8zM396.2,104.6h0.8v0.8h-0.8zM384.9,106.6h0.8v0.8h-0.8zM386.8,104.3h0.8v0.8h-0.8zM388.3,107.7h0.8v0.8h-0.8zM388.6,107.5h0.8v0.8h-0.8zM387.4,104.3h0.8v0.8h-0.8zM391.4,105.6h0.8v0.8h-0.8zM392.0,107.1h0.8v0.8h-0.8zM389.0,105.9h0.8v0.8h-0.8zM386.4,101.7h0.8v0.8h-0.8zM386.7,105.1h0.8v0.8h-0.8zM386.3,106.9h0.8v0.8h-0.8zM386.2,104.2h0.8v0.8h-0.8zM390.3,103.9h0.8v0.8h-0.8zM390.9,106.2h0.8v0.8h-0.8zM390.8,108.1h0.8v0.8h-0.8zM392.9,106.5h0.8v0.8h-0.8zM387.5,109.0h0.8v0.8h-0.8zM388.3,106.0h0.8v0.8h-0.8zM386.4,104.8h0.8v0.8h-0.8zM392.3,107.8h0.8v0.8h-0.8zM391.8,103.3h0.8v0.8h-0.8zM390.3,103.2h0.8v0.8h-0.8zM381.8,107.9h0.8v0.8h-0.8zM388.5,108.8h0.8v0.8h-0.8zM393.9,103.2h0.8v0.8h-0.8zM381.3,108.4h0.8v0.8h-0.8zM384.0,105.2h0.8v0.8h-0.8zM389.6,107.5h0.8v0.8h-0.8zM390.3,103.6h0.8v0.8h-0.8zM387.8,105.7h0.8v0.8h-0.8zM393.0,104.8h0.8v0.8h-0.8zM392.3,107.5h0.8v0.8h-0.8zM387.5,105.2h0.8v0.8h-0.8zM392.5,108.4h0.8v0.8h-0.8zM383.2,102.7h0.8v0.8h-0.8zM387.3,106.6h0.8v0.8h-0.8zM386.3,103.1h0.8v0.8h-0.8zM384.7,106.7h0.8v0.8h-0.8zM383.6,107.3h0.8v0.8h-0.8zM388.5,105.4h0.8v0.8h-0.8zM379.8,102.4h0.8v0.8h-0.8zM387.5,106.3h0.8v0.8h-0.8zM390.3,108.1h0.8v0.8h-0.8zM387.7,105.4h0.8v0.8h-0.8zM389.2,107.9h0.8v0.8h-0.8zM386.5,107.9h0.8v0.8h-0.8zM391.8,100.5h0.8v0.8h-0.8zM389.7,108.5h0.8v0.8h-0.8zM387.8,107.7h0.8v0.8h-0.8zM387.7,106.4h0.8v0.8h-0.8zM386.7,105.8h0.8v0.8h-0.8zM382.2,103.8h0.8v0.8h-0.8zM383.9,107.5h0.8v0.8h-0.8zM391.5,106.2h0.8v0.8h-0.8zM390.5,103.9h0.8v0.8h-0.8zM385.6,106.6h0.8v0.8h-0.8zM383.6,102.9h0.8v0.8h-0.8zM379.7,108.0h0.8v0.8h-0.8zM387.3,105.7h0.8v0.8h-0.8zM388.7,108.0h0.8v0.8h-0.8zM382.5,104.1h0.8v0.8h-0.8zM385.9,109.0h0.8v0.8h-0.8zM382.1,103.4h0.8v0.8h-0.8zM387.4,104.7h0.8v0.8h-0.8zM392.0,105.9h0.8v0.8h-0.8zM387.3,108.0h0.8v0.8h-0.8zM380.5,103.3h0.8v0.8h-0.8zM391.7,103.3h0.8v0.8h-0.8zM385.6,104.9h0.8v0.8h-0.8zM394.6,106.1h0.8v0.8h-0.8zM388.9,107.3h0.8v0.8h-0.8zM384.0,107.4h0.8v0.8h-0.8zM389.0,101.8h0.8v0.8h-0.8zM383.5,103.7h0.8v0.8h-0.8zM390.1,106.3h0.8v0.8h-0.8zM392.8,106.8h0.8v0.8h-0.8zM381.2,102.7h0.8v0.8h-0.8zM383.7,105.6h0.8v0.8h-0.8zM380.4,103.5h0.8v0.8h-0.8zM388.0,103.7h0.8v0.8h-0.8zM387.6,105.8h0.8v0.8h-0.8zM380.9,106.7h0.8v0.8h-0.8zM391.3,105.2h0.8v0.8h-0.8zM388.4,105.9h0.8v0.8h-0.8zM389.2,102.8h0.8v0.8h-0.8zM387.3,104.1h0.8v0.8h-0.8zM385.3,103.3h0.8v0.8h-0.8zM386.1,103.5h0.8v0.8h-0.8zM393.4,104.4h0.8v0.8h-0.8zM383.5,106.7h0.8v0.8h-0.8zM392.1,105.0h0.8v0.8h-0.8zM389.3,105.5h0.8v0.8h-0.8zM386.6,105.8h0.8v0.8h-0.8zM390.2,106.0h0.8v0.8h-0.8zM387.5,104.9h0.8v0.8h-0.8zM392.4,107.7h0.8v0.8h-0.8zM384.0,105.8h0.8v0.8h-0.8zM391.0,134.0h0.8v0.8h-0.8zM386.7,140.3h0.8v0.8h-0.8zM388.0,130.8h0.8v0.8h-0.8zM384.0,131.8h0.8v0.8h-0.8zM385.3,135.1h0.8v0.8h-0.8zM387.8,133.5h0.8v0.8h-0.8zM379.7,131.8h0.8v0.8h-0.8zM389.9,134.5h0.8v0.8h-0.8zM386.1,133.9h0.8v0.8h-0.8zM394.9,134.1h0.8v0.8h-0.8zM388.9,133.1h0.8v0.8h-0.8zM390.3,131.3h0.8v0.8h-0.8zM388.7,136.4h0.8v0.8h-0.8zM384.9,133.6h0.8v0.8h-0.8zM389.4,141.6h0.8v0.8h-0.8zM393.8,134.3h0.8v0.8h-0.8zM394.3,130.9h0.8v0.8h-0.8zM387.6,138.6h0.8v0.8h-0.8zM385.1,136.3h0.8v0.8h-0.8zM391.6,133.6h0.8v0.8h-0.8zM391.3,127.0h0.8v0.8h-0.8zM386.1,135.6h0.8v0.8h-0.8zM383.0,131.3h0.8v0.8h-0.8zM385.4,134.9h0.8v0.8h-0.8zM386.5,134.7h0.8v0.8h-0.8zM371.0,133.2h0.8v0.8h-0.8zM389.2,135.8h0.8v0.8h-0.8zM390.7,137.7h0.8v0.8h-0.8zM396.9,134.2h0.8v0.8h-0.8zM406.0,136.7h0.8v0.8h-0.8zM386.5,130.6h0.8v0.8h-0.8zM386.3,138.4h0.8v0.8h-0.8zM395.6,136.2h0.8v0.8h-0.8zM382.7,136.9h0.8v0.8h-0.8zM381.2,130.1h0.8v0.8h-0.8zM394.9,132.6h0.8v0.8h-0.8zM394.0,132.0h0.8v0.8h-0.8zM387.9,130.9h0.8v0.8h-0.8zM391.3,139.3h0.8v0.8h-0.8zM386.8,133.4h0.8v0.8h-0.8zM381.1,129.9h0.8v0.8h-0.8zM393.1,132.8h0.8v0.8h-0.8zM381.4,137.1h0.8v0.8h-0.8zM385.5,135.5h0.8v0.8h-0.8zM380.9,135.8h0.8v0.8h-0.8zM377.9,134.9h0.8v0.8h-0.8zM386.2,136.6h0.8v0.8h-0.8zM381.2,134.8h0.8v0.8h-0.8zM406.1,138.0h0.8v0.8h-0.8zM377.5,129.9h0.8v0.8h-0.8zM392.3,133.3h0.8v0.8h-0.8zM386.0,135.6h0.8v0.8h-0.8zM386.4,136.9h0.8v0.8h-0.8zM381.3,136.6h0.8v0.8h-0.8zM393.9,131.1h0.8v0.8h-0.8zM382.0,132.1h0.8v0.8h-0.8zM395.6,129.7h0.8v0.8h-0.8zM384.7,130.2h0.8v0.8h-0.8zM387.8,136.7h0.8v0.8h-0.8zM392.3,131.4h0.8v0.8h-0.8zM382.0,138.9h0.8v0.8h-0.8zM387.6,135.2h0.8v0.8h-0.8zM376.1,133.3h0.8v0.8h-0.8zM372.7,134.2h0.8v0.8h-0.8zM388.0,136.3h0.8v0.8h-0.8zM386.0,137.7h0.8v0.8h-0.8zM392.5,134.0h0.8v0.8h-0.8zM390.2,139.4h0.8v0.8h-0.8zM396.9,129.7h0.8v0.8h-0.8zM390.6,139.0h0.8v0.8h-0.8zM391.2,131.2h0.8v0.8h-0.8zM388.0,134.6h0.8v0.8h-0.8zM387.4,134.4h0.8v0.8h-0.8zM380.3,134.0h0.8v0.8h-0.8zM388.0,137.1h0.8v0.8h-0.8zM392.4,134.9h0.8v0.8h-0.8zM388.3,132.5h0.8v0.8h-0.8zM386.4,134.7h0.8v0.8h-0.8zM379.8,137.9h0.8v0.8h-0.8zM382.3,140.3h0.8v0.8h-0.8zM393.9,134.6h0.8v0.8h-0.8zM389.0,134.9h0.8v0.8h-0.8zM387.7,128.2h0.8v0.8h-0.8zM385.9,130.7h0.8v0.8h-0.8zM389.8,134.4h0.8v0.8h-0.8zM381.7,136.3h0.8v0.8h-0.8zM392.6,134.4h0.8v0.8h-0.8zM379.0,136.7h0.8v0.8h-0.8zM392.6,136.3h0.8v0.8h-0.8zM398.0,132.1h0.8v0.8h-0.8zM381.3,136.1h0.8v0.8h-0.8zM381.2,135.5h0.8v0.8h-0.8zM386.4,137.1h0.8v0.8h-0.8zM389.5,134.6h0.8v0.8h-0.8zM382.9,132.2h0.8v0.8h-0.8zM389.9,135.3h0.8v0.8h-0.8zM386.2,134.3h0.8v0.8h-0.8zM383.6,137.6h0.8v0.8h-0.8zM383.9,137.4h0.8v0.8h-0.8zM394.6,135.0h0.8v0.8h-0.8zM385.6,135.7h0.8v0.8h-0.8zM380.9,129.9h0.8v0.8h-0.8zM393.5,135.5h0.8v0.8h-0.8zM386.2,138.7h0.8v0.8h-0.8zM388.7,130.1h0.8v0.8h-0.8zM386.1,133.0h0.8v0.8h-0.8zM391.6,132.4h0.8v0.8h-0.8zM386.1,137.3h0.8v0.8h-0.8zM383.3,133.7h0.8v0.8h-0.8zM391.7,135.8h0.8v0.8h-0.8zM389.2,133.9h0.8v0.8h-0.8zM380.5,134.9h0.8v0.8h-0.8zM393.0,130.3h0.8v0.8h-0.8zM386.2,136.3h0.8v0.8h-0.8zM387.9,134.8h0.8v0.8h-0.8zM390.0,139.2h0.8v0.8h-0.8zM383.1,132.9h0.8v0.8h-0.8zM391.1,131.8h0.8v0.8h-0.8zM383.2,141.8h0.8v0.8h-0.8zM392.5,130.8h0.8v0.8h-0.8zM387.2,137.1h0.8v0.8h-0.8zM393.1,137.2h0.8v0.8h-0.8zM382.3,132.7h0.8v0.8h-0.8zM391.5,134.8h0.8v0.8h-0.8zM382.7,136.3h0.8v0.8h-0.8zM388.4,131.5h0.8v0.8h-0.8zM383.5,135.3h0.8v0.8h-0.8zM390.5,135.2h0.8v0.8h-0.8zM383.1,128.1h0.8v0.8h-0.8zM382.5,130.4h0.8v0.8h-0.8zM386.0,131.1h0.8v0.8h-0.8zM388.3,130.0h0.8v0.8h-0.8zM387.9,138.9h0.8v0.8h-0.8zM385.6,131.3h0.8v0.8h-0.8zM387.8,140.8h0.8v0.8h-0.8zM384.4,130.6h0.8v0.8h-0.8zM392.8,134.5h0.8v0.8h-0.8zM379.4,132.3h0.8v0.8h-0.8zM392.2,130.1h0.8v0.8h-0.8zM382.5,138.5h0.8v0.8h-0.8zM384.1,130.2h0.8v0.8h-0.8zM386.0,138.0h0.8v0.8h-0.8zM377.9,138.0h0.8v0.8h-0.8zM387.8,135.9h0.8v0.8h-0.8zM389.8,134.2h0.8v0.8h-0.8zM376.9,134.3h0.8v0.8h-0.8zM389.8,141.4h0.8v0.8h-0.8zM383.7,131.0h0.8v0.8h-0.8zM390.8,130.7h0.8v0.8h-0.8zM384.7,132.2h0.8v0.8h-0.8zM383.1,133.3h0.8v0.8h-0.8zM385.9,129.4h0.8v0.8h-0.8zM382.4,136.3h0.8v0.8h-0.8zM386.3,131.2h0.8v0.8h-0.8zM383.6,137.0h0.8v0.8h-0.8zM388.6,127.1h0.8v0.8h-0.8zM391.5,137.3h0.8v0.8h-0.8zM384.5,136.2h0.8v0.8h-0.8zM388.7,142.3h0.8v0.8h-0.8zM384.7,124.9h0.8v0.8h-0.8zM387.3,134.8h0.8v0.8h-0.8zM372.8,133.9h0.8v0.8h-0.8zM389.8,135.3h0.8v0.8h-0.8zM385.3,132.7h0.8v0.8h-0.8zM384.4,136.6h0.8v0.8h-0.8zM391.7,134.6h0.8v0.8h-0.8zM382.8,134.0h0.8v0.8h-0.8zM380.8,134.2h0.8v0.8h-0.8zM391.3,133.8h0.8v0.8h-0.8zM390.4,128.7h0.8v0.8h-0.8zM398.3,135.8h0.8v0.8h-0.8zM382.7,134.0h0.8v0.8h-0.8zM380.4,134.5h0.8v0.8h-0.8zM382.2,139.0h0.8v0.8h-0.8zM390.5,136.0h0.8v0.8h-0.8zM384.1,131.7h0.8v0.8h-0.8zM382.4,138.9h0.8v0.8h-0.8zM379.9,135.1h0.8v0.8h-0.8zM384.4,134.6h0.8v0.8h-0.8zM389.2,137.1h0.8v0.8h-0.8zM390.6,135.0h0.8v0.8h-0.8zM382.7,131.5h0.8v0.8h-0.8zM383.8,135.7h0.8v0.8h-0.8zM390.8,135.3h0.8v0.8h-0.8zM391.0,134.8h0.8v0.8h-0.8zM382.1,131.8h0.8v0.8h-0.8zM393.3,135.8h0.8v0.8h-0.8zM387.5,133.6h0.8v0.8h-0.8zM388.8,135.3h0.8v0.8h-0.8zM383.8,134.5h0.8v0.8h-0.8zM383.8,132.4h0.8v0.8h-0.8zM387.1,131.2h0.8v0.8h-0.8zM390.2,133.3h0.8v0.8h-0.8zM391.1,131.2h0.8v0.8h-0.8zM382.1,140.6h0.8v0.8h-0.8zM393.9,135.4h0.8v0.8h-0.8zM394.1,136.3h0.8v0.8h-0.8zM388.8,135.6h0.8v0.8h-0.8zM394.4,137.8h0.8v0.8h-0.8zM380.6,135.0h0.8v0.8h-0.8zM378.1,133.4h0.8v0.8h-0.8zM385.4,136.9h0.8v0.8h-0.8zM390.9,133.4h0.8v0.8h-0.8zM386.7,138.3h0.8v0.8h-0.8zM386.8,132.8h0.8v0.8h-0.8zM385.4,139.2h0.8v0.8h-0.8zM387.1,135.2h0.8v0.8h-0.8zM386.6,136.1h0.8v0.8h-0.8zM386.2,138.4h0.8v0.8h-0.8zM393.7,135.5h0.8v0.8h-0.8zM378.9,138.4h0.8v0.8h-0.8zM387.7,134.8h0.8v0.8h-0.8zM375.7,136.6h0.8v0.8h-0.8zM388.6,124.8h0.8v0.8h-0.8zM389.6,142.9h0.8v0.8h-0.8zM394.4,135.8h0.8v0.8h-0.8zM385.6,132.6h0.8v0.8h-0.8zM394.7,136.8h0.8v0.8h-0.8zM383.5,130.4h0.8v0.8h-0.8zM389.7,133.3h0.8v0.8h-0.8zM396.4,137.7h0.8v0.8h-0.8zM387.5,136.5h0.8v0.8h-0.8zM388.6,131.5h0.8v0.8h-0.8zM389.3,138.2h0.8v0.8h-0.8zM384.0,133.3h0.8v0.8h-0.8zM388.7,134.0h0.8v0.8h-0.8zM392.9,137.3h0.8v0.8h-0.8zM392.0,135.5h0.8v0.8h-0.8zM386.2,139.0h0.8v0.8h-0.8zM389.1,136.2h0.8v0.8h-0.8zM393.6,132.2h0.8v0.8h-0.8zM378.8,133.6h0.8v0.8h-0.8zM388.4,137.8h0.8v0.8h-0.8zM385.6,133.2h0.8v0.8h-0.8zM383.7,134.3h0.8v0.8h-0.8zM384.5,138.8h0.8v0.8h-0.8zM399.5,134.2h0.8v0.8h-0.8zM387.0,133.6h0.8v0.8h-0.8zM388.1,132.3h0.8v0.8h-0.8zM386.0,132.5h0.8v0.8h-0.8zM386.0,132.5h0.8v0.8h-0.8zM390.4,131.1h0.8v0.8h-0.8zM393.8,135.0h0.8v0.8h-0.8zM380.6,130.2h0.8v0.8h-0.8zM382.8,129.6h0.8v0.8h-0.8zM386.4,141.2h0.8v0.8h-0.8zM385.9,136.7h0.8v0.8h-0.8zM387.5,134.0h0.8v0.8h-0.8zM395.8,136.1h0.8v0.8h-0.8zM380.2,134.8h0.8v0.8h-0.8zM380.4,133.9h0.8v0.8h-0.8zM387.4,138.7h0.8v0.8h-0.8zM387.7,132.3h0.8v0.8h-0.8zM387.6,135.9h0.8v0.8h-0.8zM383.2,134.2h0.8v0.8h-0.8zM392.4,142.7h0.8v0.8h-0.8zM389.0,132.2h0.8v0.8h-0.8zM391.1,132.4h0.8v0.8h-0.8zM383.0,134.0h0.8v0.8h-0.8zM388.3,134.7h0.8v0.8h-0.8zM390.0,130.8h0.8v0.8h-0.8zM373.3,136.2h0.8v0.8h-0.8zM390.2,134.3h0.8v0.8h-0.8zM382.9,135.6h0.8v0.8h-0.8zM383.6,138.4h0.8v0.8h-0.8zM386.3,136.9h0.8v0.8h-0.8zM377.8,131.9h0.8v0.8h-0.8zM382.8,135.8h0.8v0.8h-0.8zM381.9,132.4h0.8v0.8h-0.8zM380.2,133.5h0.8v0.8h-0.8zM378.2,130.8h0.8v0.8h-0.8zM389.1,136.7h0.8v0.8h-0.8zM394.9,138.2h0.8v0.8h-0.8zM393.3,136.4h0.8v0.8h-0.8zM383.0,131.8h0.8v0.8h-0.8zM390.5,137.8h0.8v0.8h-0.8zM382.0,137.8h0.8v0.8h-0.8zM387.2,135.9h0.8v0.8h-0.8zM381.9,127.9h0.8v0.8h-0.8zM379.9,133.5h0.8v0.8h-0.8zM390.3,133.7h0.8v0.8h-0.8zM392.8,130.7h0.8v0.8h-0.8zM394.9,135.5h0.8v0.8h-0.8zM383.7,133.1h0.8v0.8h-0.8zM391.3,131.3h0.8v0.8h-0.8zM380.4,134.5h0.8v0.8h-0.8zM389.7,133.9h0.8v0.8h-0.8zM385.2,138.1h0.8v0.8h-0.8zM386.5,134.6h0.8v0.8h-0.8zM395.3,139.9h0.8v0.8h-0.8zM382.0,131.3h0.8v0.8h-0.8zM380.8,136.4h0.8v0.8h-0.8zM389.6,133.6h0.8v0.8h-0.8zM385.8,132.2h0.8v0.8h-0.8zM387.8,137.6h0.8v0.8h-0.8zM379.7,132.5h0.8v0.8h-0.8zM390.4,135.4h0.8v0.8h-0.8zM385.2,134.0h0.8v0.8h-0.8zM373.3,130.6h0.8v0.8h-0.8zM384.9,133.7h0.8v0.8h-0.8zM382.5,133.6h0.8v0.8h-0.8zM386.3,130.7h0.8v0.8h-0.8zM386.4,134.5h0.8v0.8h-0.8zM386.4,135.5h0.8v0.8h-0.8zM390.2,141.0h0.8v0.8h-0.8zM375.0,141.1h0.8v0.8h-0.8zM387.1,136.8h0.8v0.8h-0.8zM385.1,135.5h0.8v0.8h-0.8zM384.5,134.4h0.8v0.8h-0.8zM396.8,136.0h0.8v0.8h-0.8zM381.5,138.3h0.8v0.8h-0.8zM385.4,131.1h0.8v0.8h-0.8zM379.8,137.1h0.8v0.8h-0.8zM386.6,136.7h0.8v0.8h-0.8zM378.8,130.2h0.8v0.8h-0.8zM385.6,136.4h0.8v0.8h-0.8zM384.3,138.6h0.8v0.8h-0.8zM385.8,131.2h0.8v0.8h-0.8zM389.3,136.6h0.8v0.8h-0.8zM388.7,135.4h0.8v0.8h-0.8zM379.3,136.1h0.8v0.8h-0.8zM384.9,129.7h0.8v0.8h-0.8zM386.5,134.2h0.8v0.8h-0.8zM383.1,136.5h0.8v0.8h-0.8zM383.1,131.3h0.8v0.8h-0.8zM393.1,135.6h0.8v0.8h-0.8zM391.9,138.1h0.8v0.8h-0.8zM388.1,138.9h0.8v0.8h-0.8zM376.7,133.8h0.8v0.8h-0.8zM396.1,130.5h0.8v0.8h-0.8zM377.4,132.9h0.8v0.8h-0.8zM383.7,132.4h0.8v0.8h-0.8zM385.2,132.7h0.8v0.8h-0.8zM387.8,134.0h0.8v0.8h-0.8zM389.8,133.8h0.8v0.8h-0.8zM384.6,135.4h0.8v0.8h-0.8zM381.1,133.6h0.8v0.8h-0.8zM388.9,133.0h0.8v0.8h-0.8zM391.0,133.6h0.8v0.8h-0.8zM386.2,135.4h0.8v0.8h-0.8zM387.3,134.6h0.8v0.8h-0.8zM377.2,134.5h0.8v0.8h-0.8zM398.6,128.8h0.8v0.8h-0.8zM383.6,132.7h0.8v0.8h-0.8zM388.5,131.6h0.8v0.8h-0.8zM384.9,133.2h0.8v0.8h-0.8zM379.0,134.5h0.8v0.8h-0.8zM392.8,134.9h0.8v0.8h-0.8zM386.0,133.8h0.8v0.8h-0.8zM384.0,129.5h0.8v0.8h-0.8zM386.5,136.7h0.8v0.8h-0.8zM377.1,128.5h0.8v0.8h-0.8zM387.5,139.9h0.8v0.8h-0.8zM393.5,135.6h0.8v0.8h-0.8zM381.3,140.4h0.8v0.8h-0.8zM386.5,131.9h0.8v0.8h-0.8zM381.2,138.6h0.8v0.8h-0.8zM386.3,137.5h0.8v0.8h-0.8zM381.2,136.0h0.8v0.8h-0.8zM382.7,137.7h0.8v0.8h-0.8zM378.4,137.8h0.8v0.8h-0.8zM382.1,133.5h0.8v0.8h-0.8zM380.5,139.2h0.8v0.8h-0.8zM386.1,134.5h0.8v0.8h-0.8zM382.8,133.1h0.8v0.8h-0.8zM386.2,134.1h0.8v0.8h-0.8zM385.3,135.4h0.8v0.8h-0.8zM391.7,136.5h0.8v0.8h-0.8zM387.3,134.8h0.8v0.8h-0.8zM382.0,137.1h0.8v0.8h-0.8zM380.2,132.6h0.8v0.8h-0.8zM393.1,128.3h0.8v0.8h-0.8zM384.8,134.7h0.8v0.8h-0.8zM388.3,137.5h0.8v0.8h-0.8zM382.9,132.4h0.8v0.8h-0.8zM382.2,135.8h0.8v0.8h-0.8zM393.1,136.0h0.8v0.8h-0.8zM385.8,136.7h0.8v0.8h-0.8zM390.2,139.0h0.8v0.8h-0.8zM378.3,135.1h0.8v0.8h-0.8zM392.3,135.3h0.8v0.8h-0.8zM380.6,136.8h0.8v0.8h-0.8zM384.1,135.4h0.8v0.8h-0.8zM397.9,133.2h0.8v0.8h-0.8zM384.4,136.5h0.8v0.8h-0.8zM382.7,136.0h0.8v0.8h-0.8zM381.8,135.9h0.8v0.8h-0.8zM376.3,140.9h0.8v0.8h-0.8zM391.9,135.1h0.8v0.8h-0.8zM395.7,135.6h0.8v0.8h-0.8zM386.6,132.0h0.8v0.8h-0.8zM387.6,132.8h0.8v0.8h-0.8zM382.7,125.6h0.8v0.8h-0.8zM388.1,136.1h0.8v0.8h-0.8zM390.0,130.7h0.8v0.8h-0.8zM386.4,129.0h0.8v0.8h-0.8zM390.6,133.0h0.8v0.8h-0.8zM382.1,131.6h0.8v0.8h-0.8zM382.4,136.8h0.8v0.8h-0.8zM381.8,130.7h0.8v0.8h-0.8zM392.0,129.3h0.8v0.8h-0.8zM384.9,134.6h0.8v0.8h-0.8zM384.8,137.1h0.8v0.8h-0.8zM384.2,135.2h0.8v0.8h-0.8zM385.4,139.9h0.8v0.8h-0.8zM388.7,138.7h0.8v0.8h-0.8zM389.3,132.1h0.8v0.8h-0.8zM385.8,135.3h0.8v0.8h-0.8zM384.9,129.3h0.8v0.8h-0.8zM386.8,132.9h0.8v0.8h-0.8zM388.3,133.5h0.8v0.8h-0.8zM388.7,131.1h0.8v0.8h-0.8zM381.0,133.9h0.8v0.8h-0.8zM389.7,132.3h0.8v0.8h-0.8zM383.1,131.3h0.8v0.8h-0.8zM373.9,136.7h0.8v0.8h-0.8zM383.8,129.1h0.8v0.8h-0.8zM388.5,135.0h0.8v0.8h-0.8zM396.6,136.6h0.8v0.8h-0.8zM391.5,135.8h0.8v0.8h-0.8zM395.5,135.3h0.8v0.8h-0.8zM390.3,135.3h0.8v0.8h-0.8zM383.5,130.0h0.8v0.8h-0.8zM392.6,136.7h0.8v0.8h-0.8zM395.0,131.8h0.8v0.8h-0.8zM373.7,136.9h0.8v0.8h-0.8zM374.4,133.4h0.8v0.8h-0.8zM381.1,132.0h0.8v0.8h-0.8zM376.7,131.8h0.8v0.8h-0.8zM378.9,134.5h0.8v0.8h-0.8zM382.4,135.1h0.8v0.8h-0.8zM377.6,141.7h0.8v0.8h-0.8zM394.3,135.8h0.8v0.8h-0.8zM389.6,139.1h0.8v0.8h-0.8zM381.3,134.6h0.8v0.8h-0.8zM395.8,126.8h0.8v0.8h-0.8zM389.4,135.9h0.8v0.8h-0.8zM384.7,136.5h0.8v0.8h-0.8zM388.5,132.9h0.8v0.8h-0.8zM389.1,133.7h0.8v0.8h-0.8zM391.5,136.0h0.8v0.8h-0.8zM383.2,140.9h0.8v0.8h-0.8zM384.8,135.7h0.8v0.8h-0.8zM385.2,138.3h0.8v0.8h-0.8zM382.7,132.1h0.8v0.8h-0.8zM389.1,129.6h0.8v0.8h-0.8zM385.9,136.8h0.8v0.8h-0.8zM395.0,129.8h0.8v0.8h-0.8zM378.9,132.3h0.8v0.8h-0.8zM389.1,137.3h0.8v0.8h-0.8zM383.9,138.5h0.8v0.8h-0.8zM383.3,136.1h0.8v0.8h-0.8zM385.1,140.2h0.8v0.8h-0.8zM393.5,138.3h0.8v0.8h-0.8zM383.8,129.4h0.8v0.8h-0.8zM384.4,132.9h0.8v0.8h-0.8zM382.9,132.2h0.8v0.8h-0.8zM384.4,136.1h0.8v0.8h-0.8zM392.7,137.9h0.8v0.8h-0.8zM394.4,127.8h0.8v0.8h-0.8zM389.9,142.5h0.8v0.8h-0.8zM392.0,137.3h0.8v0.8h-0.8zM391.3,134.2h0.8v0.8h-0.8zM385.2,132.9h0.8v0.8h-0.8zM384.1,133.8h0.8v0.8h-0.8zM383.1,139.6h0.8v0.8h-0.8zM389.8,137.7h0.8v0.8h-0.8zM395.2,135.6h0.8v0.8h-0.8zM391.6,132.4h0.8v0.8h-0.8zM388.6,136.9h0.8v0.8h-0.8zM380.6,137.0h0.8v0.8h-0.8zM386.9,133.0h0.8v0.8h-0.8zM393.7,135.1h0.8v0.8h-0.8zM386.4,137.5h0.8v0.8h-0.8zM383.7,130.1h0.8v0.8h-0.8zM391.0,138.1h0.8v0.8h-0.8zM383.9,135.5h0.8v0.8h-0.8zM386.9,135.6h0.8v0.8h-0.8zM392.1,135.1h0.8v0.8h-0.8zM390.4,137.4h0.8v0.8h-0.8zM385.1,135.9h0.8v0.8h-0.8zM384.8,134.3h0.8v0.8h-0.8zM393.3,132.2h0.8v0.8h-0.8zM390.6,134.2h0.8v0.8h-0.8zM384.3,135.2h0.8v0.8h-0.8zM383.8,129.5h0.8v0.8h-0.8zM392.2,137.1h0.8v0.8h-0.8zM384.4,130.6h0.8v0.8h-0.8zM381.8,140.3h0.8v0.8h-0.8zM381.9,132.5h0.8v0.8h-0.8zM396.7,128.1h0.8v0.8h-0.8zM380.9,131.6h0.8v0.8h-0.8zM383.7,127.8h0.8v0.8h-0.8zM387.5,130.4h0.8v0.8h-0.8zM379.8,135.7h0.8v0.8h-0.8zM381.9,136.0h0.8v0.8h-0.8zM382.6,140.0h0.8v0.8h-0.8zM380.7,135.6h0.8v0.8h-0.8zM381.0,139.2h0.8v0.8h-0.8zM377.2,133.6h0.8v0.8h-0.8zM387.4,133.4h0.8v0.8h-0.8zM385.8,133.1h0.8v0.8h-0.8zM384.0,135.6h0.8v0.8h-0.8zM396.4,136.2h0.8v0.8h-0.8zM389.0,132.7h0.8v0.8h-0.8zM382.2,134.9h0.8v0.8h-0.8zM383.2,140.1h0.8v0.8h-0.8zM386.6,139.8h0.8v0.8h-0.8zM385.6,138.5h0.8v0.8h-0.8zM379.1,140.4h0.8v0.8h-0.8zM380.4,135.4h0.8v0.8h-0.8zM385.9,134.3h0.8v0.8h-0.8zM390.8,131.8h0.8v0.8h-0.8zM389.2,129.6h0.8v0.8h-0.8zM379.3,137.2h0.8v0.8h-0.8zM393.6,131.4h0.8v0.8h-0.8zM389.6,133.6h0.8v0.8h-0.8zM395.0,135.9h0.8v0.8h-0.8zM396.0,133.5h0.8v0.8h-0.8zM396.4,132.8h0.8v0.8h-0.8zM395.6,137.0h0.8v0.8h-0.8zM379.3,138.2h0.8v0.8h-0.8zM387.9,137.6h0.8v0.8h-0.8zM382.3,133.4h0.8v0.8h-0.8zM380.3,140.0h0.8v0.8h-0.8zM386.6,127.0h0.8v0.8h-0.8zM390.8,135.3h0.8v0.8h-0.8zM400.4,133.8h0.8v0.8h-0.8zM389.3,133.4h0.8v0.8h-0.8zM371.0,137.9h0.8v0.8h-0.8zM384.1,137.2h0.8v0.8h-0.8zM387.1,127.3h0.8v0.8h-0.8zM386.1,137.7h0.8v0.8h-0.8zM391.9,137.9h0.8v0.8h-0.8zM384.1,130.7h0.8v0.8h-0.8zM388.8,131.2h0.8v0.8h-0.8zM393.6,134.1h0.8v0.8h-0.8zM390.7,135.9h0.8v0.8h-0.8zM391.2,136.1h0.8v0.8h-0.8zM389.0,135.4h0.8v0.8h-0.8zM382.7,129.4h0.8v0.8h-0.8zM378.2,138.6h0.8v0.8h-0.8zM383.2,136.1h0.8v0.8h-0.8zM377.0,133.5h0.8v0.8h-0.8zM398.2,141.3h0.8v0.8h-0.8zM390.3,135.6h0.8v0.8h-0.8zM390.4,141.7h0.8v0.8h-0.8zM380.7,134.9h0.8v0.8h-0.8zM384.3,125.1h0.8v0.8h-0.8zM387.4,138.2h0.8v0.8h-0.8zM383.8,131.1h0.8v0.8h-0.8zM393.9,132.8h0.8v0.8h-0.8zM385.5,133.1h0.8v0.8h-0.8zM385.5,135.4h0.8v0.8h-0.8zM391.4,136.1h0.8v0.8h-0.8zM397.9,131.0h0.8v0.8h-0.8zM388.2,134.1h0.8v0.8h-0.8zM398.9,129.4h0.8v0.8h-0.8zM386.4,137.9h0.8v0.8h-0.8zM382.7,134.9h0.8v0.8h-0.8zM387.5,136.3h0.8v0.8h-0.8zM387.9,131.0h0.8v0.8h-0.8zM391.1,126.8h0.8v0.8h-0.8zM381.8,131.9h0.8v0.8h-0.8zM385.9,135.3h0.8v0.8h-0.8zM404.7,139.7h0.8v0.8h-0.8zM386.5,135.7h0.8v0.8h-0.8zM394.2,136.6h0.8v0.8h-0.8zM386.0,128.2h0.8v0.8h-0.8zM375.8,136.4h0.8v0.8h-0.8zM392.6,134.4h0.8v0.8h-0.8zM400.0,135.8h0.8v0.8h-0.8zM380.7,136.3h0.8v0.8h-0.8zM381.1,138.8h0.8v0.8h-0.8zM384.8,133.4h0.8v0.8h-0.8zM386.5,139.6h0.8v0.8h-0.8zM379.3,139.0h0.8v0.8h-0.8zM395.2,137.6h0.8v0.8h-0.8zM386.7,138.0h0.8v0.8h-0.8zM384.1,132.1h0.8v0.8h-0.8zM393.0,129.8h0.8v0.8h-0.8zM388.8,133.0h0.8v0.8h-0.8zM384.9,134.7h0.8v0.8h-0.8zM384.0,139.0h0.8v0.8h-0.8zM382.9,131.1h0.8v0.8h-0.8zM379.7,134.9h0.8v0.8h-0.8zM387.6,134.6h0.8v0.8h-0.8zM387.5,131.0h0.8v0.8h-0.8zM388.6,137.5h0.8v0.8h-0.8zM379.0,133.8h0.8v0.8h-0.8zM386.6,133.6h0.8v0.8h-0.8zM382.5,132.6h0.8v0.8h-0.8zM381.2,140.1h0.8v0.8h-0.8zM380.1,131.3h0.8v0.8h-0.8zM378.7,135.3h0.8v0.8h-0.8zM381.5,136.7h0.8v0.8h-0.8zM387.2,135.9h0.8v0.8h-0.8zM390.6,134.6h0.8v0.8h-0.8zM384.5,135.0h0.8v0.8h-0.8zM391.7,131.8h0.8v0.8h-0.8zM385.3,140.2h0.8v0.8h-0.8zM388.6,138.9h0.8v0.8h-0.8zM390.2,129.0h0.8v0.8h-0.8zM384.6,130.4h0.8v0.8h-0.8zM388.0,134.3h0.8v0.8h-0.8zM390.4,135.5h0.8v0.8h-0.8zM384.7,138.5h0.8v0.8h-0.8zM379.8,129.1h0.8v0.8h-0.8zM391.4,136.1h0.8v0.8h-0.8zM390.1,131.6h0.8v0.8h-0.8zM390.2,136.9h0.8v0.8h-0.8zM386.9,134.8h0.8v0.8h-0.8zM385.7,136.2h0.8v0.8h-0.8zM379.4,139.2h0.8v0.8h-0.8zM381.8,131.3h0.8v0.8h-0.8zM393.0,134.5h0.8v0.8h-0.8zM378.4,135.3h0.8v0.8h-0.8zM383.8,136.0h0.8v0.8h-0.8zM380.4,134.4h0.8v0.8h-0.8zM384.5,140.1h0.8v0.8h-0.8zM381.4,138.1h0.8v0.8h-0.8zM391.5,135.9h0.8v0.8h-0.8zM385.1,136.4h0.8v0.8h-0.8zM382.4,138.2h0.8v0.8h-0.8zM377.7,139.3h0.8v0.8h-0.8zM384.5,132.8h0.8v0.8h-0.8zM388.0,140.3h0.8v0.8h-0.8zM386.3,141.5h0.8v0.8h-0.8zM386.1,135.9h0.8v0.8h-0.8zM379.6,134.7h0.8v0.8h-0.8zM386.1,132.7h0.8v0.8h-0.8zM379.5,132.9h0.8v0.8h-0.8zM388.4,137.0h0.8v0.8h-0.8zM395.9,127.9h0.8v0.8h-0.8zM395.9,137.7h0.8v0.8h-0.8zM386.4,138.9h0.8v0.8h-0.8zM388.3,129.3h0.8v0.8h-0.8zM390.3,130.1h0.8v0.8h-0.8zM390.4,130.4h0.8v0.8h-0.8zM377.8,137.8h0.8v0.8h-0.8zM384.0,132.5h0.8v0.8h-0.8zM396.0,134.8h0.8v0.8h-0.8zM394.8,133.9h0.8v0.8h-0.8zM386.0,127.9h0.8v0.8h-0.8zM393.1,133.2h0.8v0.8h-0.8zM391.7,132.5h0.8v0.8h-0.8zM376.8,135.7h0.8v0.8h-0.8zM392.1,127.1h0.8v0.8h-0.8zM380.4,138.8h0.8v0.8h-0.8zM394.9,133.4h0.8v0.8h-0.8zM387.9,136.6h0.8v0.8h-0.8zM388.7,130.9h0.8v0.8h-0.8zM392.2,140.3h0.8v0.8h-0.8zM387.4,135.1h0.8v0.8h-0.8zM383.4,136.4h0.8v0.8h-0.8zM390.1,132.8h0.8v0.8h-0.8zM377.9,129.9h0.8v0.8h-0.8zM389.4,135.2h0.8v0.8h-0.8zM384.7,127.5h0.8v0.8h-0.8zM378.8,140.1h0.8v0.8h-0.8zM381.5,131.3h0.8v0.8h-0.8zM391.7,138.8h0.8v0.8h-0.8zM383.8,135.2h0.8v0.8h-0.8zM388.9,136.2h0.8v0.8h-0.8zM384.1,134.7h0.8v0.8h-0.8zM389.5,139.7h0.8v0.8h-0.8zM388.7,128.7h0.8v0.8h-0.8zM381.5,131.5h0.8v0.8h-0.8zM390.5,139.5h0.8v0.8h-0.8zM389.1,130.6h0.8v0.8h-0.8zM384.7,134.2h0.8v0.8h-0.8zM391.0,135.2h0.8v0.8h-0.8zM390.5,133.1h0.8v0.8h-0.8zM396.5,130.4h0.8v0.8h-0.8zM385.9,138.1h0.8v0.8h-0.8zM390.7,130.8h0.8v0.8h-0.8zM383.1,133.3h0.8v0.8h-0.8zM390.9,137.5h0.8v0.8h-0.8zM378.6,133.7h0.8v0.8h-0.8zM387.5,138.0h0.8v0.8h-0.8zM389.7,138.9h0.8v0.8h-0.8zM384.3,132.3h0.8v0.8h-0.8zM387.4,135.5h0.8v0.8h-0.8zM398.9,134.7h0.8v0.8h-0.8zM385.7,131.1h0.8v0.8h-0.8zM387.7,133.0h0.8v0.8h-0.8zM389.8,134.1h0.8v0.8h-0.8zM382.2,131.4h0.8v0.8h-0.8zM383.2,134.4h0.8v0.8h-0.8zM372.3,132.0h0.8v0.8h-0.8zM385.9,130.0h0.8v0.8h-0.8zM389.7,133.4h0.8v0.8h-0.8zM389.8,135.2h0.8v0.8h-0.8zM384.4,138.7h0.8v0.8h-0.8zM390.9,130.4h0.8v0.8h-0.8zM385.3,130.0h0.8v0.8h-0.8zM383.3,134.1h0.8v0.8h-0.8zM383.7,133.7h0.8v0.8h-0.8zM389.0,138.1h0.8v0.8h-0.8zM389.4,137.6h0.8v0.8h-0.8zM383.3,133.2h0.8v0.8h-0.8zM391.5,132.7h0.8v0.8h-0.8zM389.0,134.9h0.8v0.8h-0.8zM389.5,138.3h0.8v0.8h-0.8zM387.2,132.7h0.8v0.8h-0.8zM382.5,140.4h0.8v0.8h-0.8zM391.2,130.3h0.8v0.8h-0.8zM379.0,126.7h0.8v0.8h-0.8zM386.6,132.4h0.8v0.8h-0.8zM373.6,135.2h0.8v0.8h-0.8zM386.6,140.8h0.8v0.8h-0.8zM387.0,129.8h0.8v0.8h-0.8zM386.8,134.7h0.8v0.8h-0.8zM380.7,130.1h0.8v0.8h-0.8zM383.2,134.3h0.8v0.8h-0.8zM391.8,132.0h0.8v0.8h-0.8zM388.3,140.0h0.8v0.8h-0.8zM381.5,130.9h0.8v0.8h-0.8zM383.2,136.2h0.8v0.8h-0.8zM381.3,137.9h0.8v0.8h-0.8zM383.1,132.3h0.8v0.8h-0.8zM388.4,137.2h0.8v0.8h-0.8zM384.2,134.0h0.8v0.8h-0.8zM390.9,140.3h0.8v0.8h-0.8zM383.7,137.2h0.8v0.8h-0.8zM391.7,136.6h0.8v0.8h-0.8zM387.3,135.3h0.8v0.8h-0.8zM380.9,133.9h0.8v0.8h-0.8zM382.3,132.7h0.8v0.8h-0.8zM387.5,141.0h0.8v0.8h-0.8zM388.0,133.2h0.8v0.8h-0.8zM392.6,131.3h0.8v0.8h-0.8zM391.0,131.9h0.8v0.8h-0.8zM388.2,140.9h0.8v0.8h-0.8zM385.9,132.2h0.8v0.8h-0.8zM385.6,136.4h0.8v0.8h-0.8zM375.3,141.1h0.8v0.8h-0.8zM381.0,135.9h0.8v0.8h-0.8zM389.6,131.8h0.8v0.8h-0.8zM385.0,138.0h0.8v0.8h-0.8zM384.3,136.7h0.8v0.8h-0.8zM386.2,134.3h0.8v0.8h-0.8zM387.2,135.5h0.8v0.8h-0.8zM385.1,138.0h0.8v0.8h-0.8zM386.7,134.9h0.8v0.8h-0.8zM374.9,129.1h0.8v0.8h-0.8zM390.4,136.7h0.8v0.8h-0.8zM388.0,138.4h0.8v0.8h-0.8zM377.1,133.9h0.8v0.8h-0.8zM390.0,137.2h0.8v0.8h-0.8zM392.0,137.0h0.8v0.8h-0.8zM385.9,139.0h0.8v0.8h-0.8zM383.0,133.3h0.8v0.8h-0.8zM395.1,133.5h0.8v0.8h-0.8zM393.6,131.9h0.8v0.8h-0.8zM386.4,137.7h0.8v0.8h-0.8zM378.1,134.1h0.8v0.8h-0.8zM375.1,132.0h0.8v0.8h-0.8zM385.8,134.4h0.8v0.8h-0.8zM391.4,131.2h0.8v0.8h-0.8zM394.9,133.3h0.8v0.8h-0.8zM381.1,135.6h0.8v0.8h-0.8zM389.9,137.3h0.8v0.8h-0.8zM389.3,131.7h0.8v0.8h-0.8zM377.0,139.9h0.8v0.8h-0.8zM387.3,135.7h0.8v0.8h-0.8zM392.2,137.5h0.8v0.8h-0.8zM380.6,129.1h0.8v0.8h-0.8zM377.1,129.5h0.8v0.8h-0.8zM389.5,134.7h0.8v0.8h-0.8zM386.5,131.5h0.8v0.8h-0.8zM386.9,133.2h0.8v0.8h-0.8zM386.1,136.4h0.8v0.8h-0.8zM386.6,136.5h0.8v0.8h-0.8zM385.4,138.8h0.8v0.8h-0.8zM395.5,133.7h0.8v0.8h-0.8zM387.1,134.0h0.8v0.8h-0.8zM384.2,138.2h0.8v0.8h-0.8zM387.6,126.5h0.8v0.8h-0.8zM392.7,136.7h0.8v0.8h-0.8zM379.0,135.0h0.8v0.8h-0.8zM384.8,135.3h0.8v0.8h-0.8zM386.5,143.0h0.8v0.8h-0.8zM391.8,141.6h0.8v0.8h-0.8zM392.1,133.6h0.8v0.8h-0.8zM393.1,140.0h0.8v0.8h-0.8zM384.3,136.2h0.8v0.8h-0.8zM390.0,136.6h0.8v0.8h-0.8zM390.8,128.5h0.8v0.8h-0.8zM391.9,138.1h0.8v0.8h-0.8zM385.2,140.0h0.8v0.8h-0.8zM387.4,141.3h0.8v0.8h-0.8zM388.2,136.4h0.8v0.8h-0.8zM390.1,136.2h0.8v0.8h-0.8zM393.5,132.5h0.8v0.8h-0.8zM382.9,132.2h0.8v0.8h-0.8zM391.4,133.3h0.8v0.8h-0.8zM388.6,133.2h0.8v0.8h-0.8zM376.5,138.4h0.8v0.8h-0.8zM379.7,138.1h0.8v0.8h-0.8zM385.6,141.2h0.8v0.8h-0.8zM383.0,140.1h0.8v0.8h-0.8zM379.9,135.0h0.8v0.8h-0.8zM380.0,137.6h0.8v0.8h-0.8zM383.2,139.3h0.8v0.8h-0.8zM380.9,135.4h0.8v0.8h-0.8zM383.0,140.4h0.8v0.8h-0.8zM370.6,138.3h0.8v0.8h-0.8zM377.0,140.4h0.8v0.8h-0.8zM390.6,138.1h0.8v0.8h-0.8zM386.8,142.0h0.8v0.8h-0.8zM378.4,136.6h0.8v0.8h-0.8zM376.8,140.3h0.8v0.8h-0.8zM379.5,141.3h0.8v0.8h-0.8zM381.4,139.6h0.8v0.8h-0.8zM379.9,140.8h0.8v0.8h-0.8zM377.6,139.5h0.8v0.8h-0.8zM377.0,140.5h0.8v0.8h-0.8zM382.6,141.8h0.8v0.8h-0.8zM379.7,137.5h0.8v0.8h-0.8zM377.9,141.2h0.8v0.8h-0.8zM377.6,140.2h0.8v0.8h-0.8zM381.4,141.7h0.8v0.8h-0.8zM376.5,143.1h0.8v0.8h-0.8zM374.2,142.4h0.8v0.8h-0.8zM381.6,142.8h0.8v0.8h-0.8zM378.7,140.6h0.8v0.8h-0.8zM376.9,138.5h0.8v0.8h-0.8zM373.6,140.2h0.8v0.8h-0.8zM378.3,142.7h0.8v0.8h-0.8zM387.4,137.0h0.8v0.8h-0.8zM385.7,140.7h0.8v0.8h-0.8zM375.8,135.4h0.8v0.8h-0.8zM380.3,138.6h0.8v0.8h-0.8zM384.6,138.2h0.8v0.8h-0.8zM386.7,135.9h0.8v0.8h-0.8zM380.4,140.5h0.8v0.8h-0.8zM386.9,141.8h0.8v0.8h-0.8zM378.3,141.1h0.8v0.8h-0.8zM381.9,140.7h0.8v0.8h-0.8zM378.1,138.2h0.8v0.8h-0.8zM375.5,136.7h0.8v0.8h-0.8zM381.4,141.3h0.8v0.8h-0.8zM377.6,141.8h0.8v0.8h-0.8zM375.3,138.2h0.8v0.8h-0.8zM378.0,136.9h0.8v0.8h-0.8zM375.6,140.3h0.8v0.8h-0.8zM378.6,139.5h0.8v0.8h-0.8zM379.8,137.3h0.8v0.8h-0.8zM385.1,138.9h0.8v0.8h-0.8zM385.0,138.3h0.8v0.8h-0.8zM396.8,139.5h0.8v0.8h-0.8zM383.1,137.6h0.8v0.8h-0.8zM371.9,139.0h0.8v0.8h-0.8zM382.1,139.7h0.8v0.8h-0.8zM385.7,141.6h0.8v0.8h-0.8zM379.2,141.3h0.8v0.8h-0.8zM384.3,138.9h0.8v0.8h-0.8zM382.0,142.9h0.8v0.8h-0.8zM374.3,140.4h0.8v0.8h-0.8zM381.8,142.1h0.8v0.8h-0.8zM381.3,140.8h0.8v0.8h-0.8zM382.9,143.9h0.8v0.8h-0.8zM380.0,140.6h0.8v0.8h-0.8zM378.7,141.9h0.8v0.8h-0.8zM377.8,135.7h0.8v0.8h-0.8zM375.4,138.4h0.8v0.8h-0.8zM375.9,138.6h0.8v0.8h-0.8zM380.3,140.1h0.8v0.8h-0.8zM377.3,142.8h0.8v0.8h-0.8zM383.5,140.2h0.8v0.8h-0.8zM384.2,139.4h0.8v0.8h-0.8zM381.0,142.6h0.8v0.8h-0.8zM382.3,139.9h0.8v0.8h-0.8zM374.2,138.8h0.8v0.8h-0.8zM377.2,141.4h0.8v0.8h-0.8zM380.8,140.4h0.8v0.8h-0.8zM373.7,140.8h0.8v0.8h-0.8zM382.3,143.3h0.8v0.8h-0.8zM384.4,134.3h0.8v0.8h-0.8zM384.7,140.5h0.8v0.8h-0.8zM378.8,136.9h0.8v0.8h-0.8zM379.8,143.0h0.8v0.8h-0.8zM382.4,140.2h0.8v0.8h-0.8zM381.1,137.3h0.8v0.8h-0.8zM372.5,140.6h0.8v0.8h-0.8zM375.4,139.6h0.8v0.8h-0.8zM384.5,138.3h0.8v0.8h-0.8zM375.9,139.8h0.8v0.8h-0.8zM377.9,139.1h0.8v0.8h-0.8zM381.4,139.5h0.8v0.8h-0.8zM383.3,143.9h0.8v0.8h-0.8zM374.3,132.5h0.8v0.8h-0.8zM377.9,134.9h0.8v0.8h-0.8zM375.5,142.8h0.8v0.8h-0.8zM379.5,139.5h0.8v0.8h-0.8zM378.8,142.1h0.8v0.8h-0.8zM386.5,135.6h0.8v0.8h-0.8zM384.6,139.4h0.8v0.8h-0.8zM373.6,136.7h0.8v0.8h-0.8zM380.6,140.4h0.8v0.8h-0.8zM376.3,141.9h0.8v0.8h-0.8zM379.2,140.7h0.8v0.8h-0.8zM375.1,139.3h0.8v0.8h-0.8zM387.5,135.7h0.8v0.8h-0.8zM381.3,139.3h0.8v0.8h-0.8zM383.1,141.2h0.8v0.8h-0.8zM384.1,140.3h0.8v0.8h-0.8zM372.9,142.8h0.8v0.8h-0.8zM388.7,137.4h0.8v0.8h-0.8zM378.4,140.9h0.8v0.8h-0.8zM374.3,140.0h0.8v0.8h-0.8zM381.4,139.7h0.8v0.8h-0.8zM379.5,142.0h0.8v0.8h-0.8zM379.4,143.0h0.8v0.8h-0.8zM378.7,137.8h0.8v0.8h-0.8zM383.9,141.6h0.8v0.8h-0.8zM374.3,136.7h0.8v0.8h-0.8zM379.7,141.7h0.8v0.8h-0.8zM379.1,138.7h0.8v0.8h-0.8zM379.4,142.9h0.8v0.8h-0.8zM372.4,138.4h0.8v0.8h-0.8zM376.6,140.8h0.8v0.8h-0.8zM386.5,142.8h0.8v0.8h-0.8zM381.1,139.0h0.8v0.8h-0.8zM385.0,138.9h0.8v0.8h-0.8zM377.4,141.3h0.8v0.8h-0.8zM383.3,142.0h0.8v0.8h-0.8zM374.0,138.7h0.8v0.8h-0.8zM378.9,140.2h0.8v0.8h-0.8zM380.8,136.6h0.8v0.8h-0.8zM374.6,136.9h0.8v0.8h-0.8zM374.1,144.0h0.8v0.8h-0.8zM380.5,134.7h0.8v0.8h-0.8zM376.2,139.9h0.8v0.8h-0.8zM383.8,143.5h0.8v0.8h-0.8zM383.6,137.0h0.8v0.8h-0.8zM382.2,137.0h0.8v0.8h-0.8zM381.6,139.3h0.8v0.8h-0.8zM386.2,137.8h0.8v0.8h-0.8zM385.3,141.7h0.8v0.8h-0.8zM375.2,136.1h0.8v0.8h-0.8zM381.2,140.7h0.8v0.8h-0.8zM375.0,140.6h0.8v0.8h-0.8zM372.8,143.3h0.8v0.8h-0.8zM376.6,140.6h0.8v0.8h-0.8zM378.3,141.5h0.8v0.8h-0.8zM383.3,135.6h0.8v0.8h-0.8zM382.0,140.0h0.8v0.8h-0.8zM377.3,141.5h0.8v0.8h-0.8zM382.3,142.1h0.8v0.8h-0.8zM372.4,140.5h0.8v0.8h-0.8zM378.8,139.6h0.8v0.8h-0.8zM387.5,141.0h0.8v0.8h-0.8zM385.3,137.9h0.8v0.8h-0.8zM378.9,137.6h0.8v0.8h-0.8zM379.2,139.2h0.8v0.8h-0.8zM384.9,137.9h0.8v0.8h-0.8zM385.6,138.2h0.8v0.8h-0.8zM388.1,138.5h0.8v0.8h-0.8zM377.8,140.3h0.8v0.8h-0.8zM379.9,138.1h0.8v0.8h-0.8zM383.9,141.3h0.8v0.8h-0.8zM384.8,136.4h0.8v0.8h-0.8zM384.8,134.9h0.8v0.8h-0.8zM381.6,138.7h0.8v0.8h-0.8zM377.4,140.8h0.8v0.8h-0.8zM376.3,138.2h0.8v0.8h-0.8zM376.7,142.3h0.8v0.8h-0.8zM384.8,139.8h0.8v0.8h-0.8zM380.8,138.3h0.8v0.8h-0.8zM384.9,141.8h0.8v0.8h-0.8zM378.0,137.2h0.8v0.8h-0.8zM385.7,136.9h0.8v0.8h-0.8zM383.0,142.6h0.8v0.8h-0.8zM374.2,140.6h0.8v0.8h-0.8zM383.0,142.4h0.8v0.8h-0.8zM386.6,137.9h0.8v0.8h-0.8zM382.5,140.9h0.8v0.8h-0.8zM386.0,140.7h0.8v0.8h-0.8zM382.8,136.8h0.8v0.8h-0.8zM382.2,139.9h0.8v0.8h-0.8zM382.2,136.6h0.8v0.8h-0.8zM377.7,140.2h0.8v0.8h-0.8zM377.6,142.5h0.8v0.8h-0.8zM383.8,139.1h0.8v0.8h-0.8zM386.2,140.9h0.8v0.8h-0.8zM382.7,140.7h0.8v0.8h-0.8zM388.1,137.8h0.8v0.8h-0.8zM384.9,141.3h0.8v0.8h-0.8zM377.2,141.6h0.8v0.8h-0.8zM380.0,138.0h0.8v0.8h-0.8zM379.3,140.2h0.8v0.8h-0.8zM378.3,137.7h0.8v0.8h-0.8zM380.7,139.7h0.8v0.8h-0.8z" fill="#000" fill-opacity="1"/>
<path d="M383.9,104.0h0.8v0.8h-0.8zM382.3,104.6h0.8v0.8h-0.8zM394.8,107.2h0.8v0.8h-0.8zM383.3,106.1h0.8v0.8h-0.8zM387.3,106.9h0.8v0.8h-0.8zM391.1,101.7h0.8v0.8h-0.8zM381.1,106.7h0.8v0.8h-0.8zM386.8,108.0h0.8v0.8h-0.8zM383.7,101.3h0.8v0.8h-0.8zM404.3,110.2h0.8v0.8h-0.8zM386.0,109.5h0.8v0.8h-0.8zM385.4,104.0h0.8v0.8h-0.8zM393.5,100.8h0.8v0.8h-0.8zM381.5,102.6h0.8v0.8h-0.8zM398.0,103.1h0.8v0.8h-0.8zM389.2,106.2h0.8v0.8h-0.8zM390.2,106.8h0.8v0.8h-0.8zM394.9,106.9h0.8v0.8h-0.8zM385.6,106.3h0.8v0.8h-0.8zM390.7,107.3h0.8v0.8h-0.8zM396.4,105.5h0.8v0.8h-0.8zM385.3,100.6h0.8v0.8h-0.8zM392.2,105.5h0.8v0.8h-0.8zM394.0,103.5h0.8v0.8h-0.8zM387.7,104.3h0.8v0.8h-0.8zM383.0,103.1h0.8v0.8h-0.8zM387.4,104.4h0.8v0.8h-0.8zM393.7,107.1h0.8v0.8h-0.8zM392.8,105.0h0.8v0.8h-0.8zM392.2,105.6h0.8v0.8h-0.8zM380.3,103.8h0.8v0.8h-0.8zM387.9,107.6h0.8v0.8h-0.8zM380.7,110.6h0.8v0.8h-0.8zM388.3,104.2h0.8v0.8h-0.8zM389.6,104.9h0.8v0.8h-0.8zM389.7,102.1h0.8v0.8h-0.8zM392.0,106.9h0.8v0.8h-0.8zM403.1,105.6h0.8v0.8h-0.8zM391.2,109.6h0.8v0.8h-0.8zM384.3,108.2h0.8v0.8h-0.8zM390.4,104.6h0.8v0.8h-0.8zM383.2,111.7h0.8v0.8h-0.8zM389.2,107.8h0.8v0.8h-0.8zM391.5,101.2h0.8v0.8h-0.8zM388.3,105.2h0.8v0.8h-0.8zM397.6,108.2h0.8v0.8h-0.8zM381.4,105.9h0.8v0.8h-0.8zM374.1,106.4h0.8v0.8h-0.8zM387.1,108.8h0.8v0.8h-0.8zM395.0,103.5h0.8v0.8h-0.8zM391.2,105.6h0.8v0.8h-0.8zM388.1,105.9h0.8v0.8h-0.8zM387.7,108.9h0.8v0.8h-0.8zM387.0,112.1h0.8v0.8h-0.8zM375.8,104.8h0.8v0.8h-0.8zM387.2,104.2h0.8v0.8h-0.8zM374.4,102.2h0.8v0.8h-0.8zM388.8,103.7h0.8v0.8h-0.8zM401.6,105.1h0.8v0.8h-0.8zM390.4,103.4h0.8v0.8h-0.8zM381.7,109.8h0.8v0.8h-0.8zM381.6,105.9h0.8v0.8h-0.8zM391.3,105.8h0.8v0.8h-0.8zM393.9,108.8h0.8v0.8h-0.8zM387.7,108.0h0.8v0.8h-0.8zM396.2,106.7h0.8v0.8h-0.8zM398.9,104.0h0.8v0.8h-0.8zM398.4,104.2h0.8v0.8h-0.8zM390.7,107.5h0.8v0.8h-0.8zM394.4,113.4h0.8v0.8h-0.8zM388.1,108.9h0.8v0.8h-0.8zM377.1,106.9h0.8v0.8h-0.8zM378.4,100.2h0.8v0.8h-0.8zM382.1,108.5h0.8v0.8h-0.8zM388.5,105.6h0.8v0.8h-0.8zM386.8,103.4h0.8v0.8h-0.8zM382.8,106.3h0.8v0.8h-0.8zM372.0,107.8h0.8v0.8h-0.8zM387.0,105.5h0.8v0.8h-0.8zM384.7,108.8h0.8v0.8h-0.8zM386.1,108.5h0.8v0.8h-0.8zM381.0,106.7h0.8v0.8h-0.8zM392.5,106.8h0.8v0.8h-0.8zM387.1,103.0h0.8v0.8h-0.8zM397.4,102.4h0.8v0.8h-0.8zM398.3,111.1h0.8v0.8h-0.8zM383.1,107.6h0.8v0.8h-0.8zM396.6,102.8h0.8v0.8h-0.8zM383.9,110.1h0.8v0.8h-0.8zM395.1,109.1h0.8v0.8h-0.8zM385.9,105.3h0.8v0.8h-0.8zM383.9,100.8h0.8v0.8h-0.8zM388.2,110.6h0.8v0.8h-0.8zM390.8,108.8h0.8v0.8h-0.8zM386.8,103.2h0.8v0.8h-0.8zM384.0,101.2h0.8v0.8h-0.8zM383.2,101.0h0.8v0.8h-0.8zM388.8,109.8h0.8v0.8h-0.8zM385.9,106.3h0.8v0.8h-0.8zM388.1,105.7h0.8v0.8h-0.8zM386.3,106.8h0.8v0.8h-0.8zM375.7,106.3h0.8v0.8h-0.8zM377.0,106.6h0.8v0.8h-0.8zM379.7,106.6h0.8v0.8h-0.8zM388.9,107.0h0.8v0.8h-0.8zM383.8,105.3h0.8v0.8h-0.8zM388.3,104.4h0.8v0.8h-0.8zM382.8,108.3h0.8v0.8h-0.8zM385.9,106.5h0.8v0.8h-0.8zM385.7,104.0h0.8v0.8h-0.8zM398.7,104.3h0.8v0.8h-0.8zM389.2,106.4h0.8v0.8h-0.8zM391.7,107.3h0.8v0.8h-0.8zM379.5,106.7h0.8v0.8h-0.8zM381.4,105.5h0.8v0.8h-0.8zM392.7,100.9h0.8v0.8h-0.8zM393.0,107.5h0.8v0.8h-0.8zM380.2,109.3h0.8v0.8h-0.8zM394.9,104.5h0.8v0.8h-0.8zM381.7,107.7h0.8v0.8h-0.8zM384.1,100.9h0.8v0.8h-0.8zM384.2,106.7h0.8v0.8h-0.8zM395.8,104.3h0.8v0.8h-0.8zM387.2,105.7h0.8v0.8h-0.8zM387.4,105.4h0.8v0.8h-0.8zM393.7,106.8h0.8v0.8h-0.8zM395.6,101.7h0.8v0.8h-0.8zM395.0,103.8h0.8v0.8h-0.8zM382.4,106.3h0.8v0.8h-0.8zM391.5,108.5h0.8v0.8h-0.8zM382.0,106.7h0.8v0.8h-0.8zM395.1,102.8h0.8v0.8h-0.8zM399.2,105.5h0.8v0.8h-0.8zM376.9,104.5h0.8v0.8h-0.8zM393.2,105.4h0.8v0.8h-0.8zM392.9,107.2h0.8v0.8h-0.8zM386.8,102.2h0.8v0.8h-0.8zM390.4,102.9h0.8v0.8h-0.8zM391.8,107.1h0.8v0.8h-0.8zM388.1,107.0h0.8v0.8h-0.8zM390.5,104.4h0.8v0.8h-0.8zM378.0,101.0h0.8v0.8h-0.8zM387.8,110.5h0.8v0.8h-0.8zM384.7,104.3h0.8v0.8h-0.8zM382.4,106.0h0.8v0.8h-0.8zM387.6,106.0h0.8v0.8h-0.8zM388.7,100.5h0.8v0.8h-0.8zM374.6,106.9h0.8v0.8h-0.8zM390.2,104.0h0.8v0.8h-0.8zM388.9,107.6h0.8v0.8h-0.8zM378.2,105.9h0.8v0.8h-0.8zM386.1,104.8h0.8v0.8h-0.8zM385.2,100.0h0.8v0.8h-0.8zM389.7,106.8h0.8v0.8h-0.8zM383.6,105.8h0.8v0.8h-0.8zM385.0,105.0h0.8v0.8h-0.8zM391.4,104.7h0.8v0.8h-0.8zM403.2,107.1h0.8v0.8h-0.8zM380.0,107.0h0.8v0.8h-0.8zM393.7,100.2h0.8v0.8h-0.8zM399.8,132.9h0.8v0.8h-0.8zM389.7,134.2h0.8v0.8h-0.8zM376.0,134.3h0.8v0.8h-0.8zM391.5,135.1h0.8v0.8h-0.8zM379.4,135.3h0.8v0.8h-0.8zM392.2,131.2h0.8v0.8h-0.8zM402.5,137.0h0.8v0.8h-0.8zM402.2,134.9h0.8v0.8h-0.8zM395.4,142.4h0.8v0.8h-0.8zM397.1,135.2h0.8v0.8h-0.8zM389.3,139.6h0.8v0.8h-0.8zM393.6,133.1h0.8v0.8h-0.8zM386.6,139.3h0.8v0.8h-0.8zM383.8,136.0h0.8v0.8h-0.8zM396.3,127.1h0.8v0.8h-0.8zM402.9,134.8h0.8v0.8h-0.8zM385.7,140.0h0.8v0.8h-0.8zM391.6,136.5h0.8v0.8h-0.8zM399.9,139.7h0.8v0.8h-0.8zM394.8,138.6h0.8v0.8h-0.8zM381.7,132.9h0.8v0.8h-0.8zM401.8,135.3h0.8v0.8h-0.8zM385.1,141.7h0.8v0.8h-0.8zM405.5,138.3h0.8v0.8h-0.8zM392.1,142.7h0.8v0.8h-0.8zM389.1,131.8h0.8v0.8h-0.8zM393.6,134.4h0.8v0.8h-0.8zM396.2,132.7h0.8v0.8h-0.8zM409.2,135.8h0.8v0.8h-0.8zM399.3,140.0h0.8v0.8h-0.8zM421.5,134.2h0.8v0.8h-0.8zM389.3,138.4h0.8v0.8h-0.8zM399.3,137.9h0.8v0.8h-0.8zM397.0,142.1h0.8v0.8h-0.8zM405.4,140.6h0.8v0.8h-0.8zM369.6,134.4h0.8v0.8h-0.8zM384.0,133.4h0.8v0.8h-0.8zM396.8,130.7h0.8v0.8h-0.8zM395.2,140.1h0.8v0.8h-0.8zM408.0,136.0h0.8v0.8h-0.8zM390.1,131.8h0.8v0.8h-0.8zM391.7,135.1h0.8v0.8h-0.8zM378.7,131.9h0.8v0.8h-0.8zM412.4,141.0h0.8v0.8h-0.8zM377.4,142.8h0.8v0.8h-0.8zM401.9,129.2h0.8v0.8h-0.8zM391.4,137.6h0.8v0.8h-0.8zM387.5,140.7h0.8v0.8h-0.8zM386.8,137.3h0.8v0.8h-0.8zM397.2,130.5h0.8v0.8h-0.8zM378.0,139.0h0.8v0.8h-0.8zM398.9,140.2h0.8v0.8h-0.8zM391.5,132.5h0.8v0.8h-0.8zM373.3,136.3h0.8v0.8h-0.8zM393.5,128.0h0.8v0.8h-0.8zM390.8,138.3h0.8v0.8h-0.8zM397.0,132.7h0.8v0.8h-0.8zM385.2,134.8h0.8v0.8h-0.8zM394.3,135.9h0.8v0.8h-0.8zM385.1,134.2h0.8v0.8h-0.8zM396.6,131.6h0.8v0.8h-0.8zM373.1,135.8h0.8v0.8h-0.8zM396.2,139.1h0.8v0.8h-0.8zM404.2,138.8h0.8v0.8h-0.8zM392.8,141.1h0.8v0.8h-0.8zM399.3,127.3h0.8v0.8h-0.8zM414.4,137.2h0.8v0.8h-0.8zM391.0,133.7h0.8v0.8h-0.8zM388.0,130.9h0.8v0.8h-0.8zM397.6,133.6h0.8v0.8h-0.8zM396.0,129.2h0.8v0.8h-0.8zM401.8,139.3h0.8v0.8h-0.8zM402.7,138.6h0.8v0.8h-0.8zM400.1,136.6h0.8v0.8h-0.8zM397.4,140.7h0.8v0.8h-0.8zM394.4,130.2h0.8v0.8h-0.8zM394.3,137.1h0.8v0.8h-0.8zM413.5,137.7h0.8v0.8h-0.8zM380.1,133.6h0.8v0.8h-0.8zM400.4,134.7h0.8v0.8h-0.8zM384.8,140.8h0.8v0.8h-0.8zM393.5,138.0h0.8v0.8h-0.8zM386.8,136.4h0.8v0.8h-0.8zM409.2,142.7h0.8v0.8h-0.8zM395.1,133.5h0.8v0.8h-0.8zM389.7,129.5h0.8v0.8h-0.8zM397.5,130.9h0.8v0.8h-0.8zM395.2,134.6h0.8v0.8h-0.8zM398.6,141.1h0.8v0.8h-0.8zM396.5,138.6h0.8v0.8h-0.8zM392.1,128.7h0.8v0.8h-0.8zM394.4,141.3h0.8v0.8h-0.8zM402.7,136.2h0.8v0.8h-0.8zM408.3,130.7h0.8v0.8h-0.8zM404.4,137.5h0.8v0.8h-0.8zM394.9,138.1h0.8v0.8h-0.8zM410.5,132.0h0.8v0.8h-0.8zM404.7,138.0h0.8v0.8h-0.8zM391.7,135.9h0.8v0.8h-0.8zM382.6,135.6h0.8v0.8h-0.8zM400.4,139.0h0.8v0.8h-0.8zM390.1,141.8h0.8v0.8h-0.8zM388.1,136.4h0.8v0.8h-0.8zM405.4,132.9h0.8v0.8h-0.8zM394.0,139.9h0.8v0.8h-0.8zM405.6,139.9h0.8v0.8h-0.8zM377.3,142.7h0.8v0.8h-0.8zM386.0,140.5h0.8v0.8h-0.8zM389.2,137.7h0.8v0.8h-0.8zM390.0,144.2h0.8v0.8h-0.8zM399.3,139.4h0.8v0.8h-0.8zM376.0,133.2h0.8v0.8h-0.8zM401.6,137.2h0.8v0.8h-0.8zM393.5,143.9h0.8v0.8h-0.8zM394.9,134.3h0.8v0.8h-0.8zM390.1,132.2h0.8v0.8h-0.8zM395.0,138.1h0.8v0.8h-0.8zM389.8,135.3h0.8v0.8h-0.8zM391.6,137.2h0.8v0.8h-0.8zM400.7,135.8h0.8v0.8h-0.8zM386.6,132.7h0.8v0.8h-0.8zM389.5,134.0h0.8v0.8h-0.8zM395.7,133.2h0.8v0.8h-0.8zM389.0,143.0h0.8v0.8h-0.8zM386.6,129.9h0.8v0.8h-0.8zM385.9,135.2h0.8v0.8h-0.8zM391.8,138.8h0.8v0.8h-0.8zM397.7,138.0h0.8v0.8h-0.8zM380.3,142.4h0.8v0.8h-0.8zM386.2,134.5h0.8v0.8h-0.8zM392.0,138.2h0.8v0.8h-0.8zM392.6,130.1h0.8v0.8h-0.8zM403.1,131.4h0.8v0.8h-0.8zM381.7,135.8h0.8v0.8h-0.8zM392.5,136.3h0.8v0.8h-0.8zM384.7,133.3h0.8v0.8h-0.8zM384.7,134.4h0.8v0.8h-0.8zM396.6,139.3h0.8v0.8h-0.8zM402.3,140.0h0.8v0.8h-0.8zM369.7,133.0h0.8v0.8h-0.8zM381.8,137.6h0.8v0.8h-0.8zM380.8,137.5h0.8v0.8h-0.8zM405.8,133.4h0.8v0.8h-0.8zM391.6,140.6h0.8v0.8h-0.8zM383.8,134.0h0.8v0.8h-0.8zM401.3,134.6h0.8v0.8h-0.8zM401.6,130.8h0.8v0.8h-0.8zM397.1,137.8h0.8v0.8h-0.8zM377.9,133.6h0.8v0.8h-0.8zM386.5,138.5h0.8v0.8h-0.8zM386.5,136.4h0.8v0.8h-0.8zM379.9,144.0h0.8v0.8h-0.8zM401.6,137.8h0.8v0.8h-0.8zM388.5,136.8h0.8v0.8h-0.8zM376.6,136.2h0.8v0.8h-0.8zM369.4,132.6h0.8v0.8h-0.8zM392.7,144.0h0.8v0.8h-0.8zM401.9,140.4h0.8v0.8h-0.8zM411.1,136.6h0.8v0.8h-0.8zM400.1,134.6h0.8v0.8h-0.8zM398.1,136.6h0.8v0.8h-0.8zM368.8,135.4h0.8v0.8h-0.8zM409.1,131.5h0.8v0.8h-0.8zM398.2,142.8h0.8v0.8h-0.8zM390.2,137.4h0.8v0.8h-0.8zM387.0,132.1h0.8v0.8h-0.8zM402.1,135.7h0.8v0.8h-0.8zM387.3,140.0h0.8v0.8h-0.8zM399.5,139.6h0.8v0.8h-0.8zM414.7,134.8h0.8v0.8h-0.8zM394.0,133.5h0.8v0.8h-0.8zM388.5,139.8h0.8v0.8h-0.8zM398.4,137.0h0.8v0.8h-0.8zM401.6,133.3h0.8v0.8h-0.8zM387.2,137.4h0.8v0.8h-0.8zM389.2,123.3h0.8v0.8h-0.8zM395.6,140.1h0.8v0.8h-0.8zM387.1,128.3h0.8v0.8h-0.8zM405.6,137.2h0.8v0.8h-0.8zM394.5,137.3h0.8v0.8h-0.8zM393.9,132.8h0.8v0.8h-0.8zM388.8,138.3h0.8v0.8h-0.8zM385.8,134.4h0.8v0.8h-0.8zM398.1,135.5h0.8v0.8h-0.8zM392.0,133.3h0.8v0.8h-0.8zM403.9,133.4h0.8v0.8h-0.8zM376.8,129.7h0.8v0.8h-0.8zM393.1,135.3h0.8v0.8h-0.8zM393.8,137.3h0.8v0.8h-0.8zM399.8,143.1h0.8v0.8h-0.8zM390.1,133.8h0.8v0.8h-0.8zM382.4,141.5h0.8v0.8h-0.8zM409.2,129.2h0.8v0.8h-0.8zM384.6,136.6h0.8v0.8h-0.8zM399.9,140.3h0.8v0.8h-0.8zM387.6,137.7h0.8v0.8h-0.8zM396.2,135.2h0.8v0.8h-0.8zM395.0,134.0h0.8v0.8h-0.8zM391.7,136.8h0.8v0.8h-0.8zM400.4,133.8h0.8v0.8h-0.8zM392.3,136.9h0.8v0.8h-0.8zM387.3,137.2h0.8v0.8h-0.8zM389.0,138.5h0.8v0.8h-0.8zM391.1,137.9h0.8v0.8h-0.8zM387.7,135.0h0.8v0.8h-0.8zM378.3,128.5h0.8v0.8h-0.8zM408.1,143.0h0.8v0.8h-0.8zM388.5,139.3h0.8v0.8h-0.8zM368.9,138.1h0.8v0.8h-0.8zM389.6,131.1h0.8v0.8h-0.8zM400.0,140.7h0.8v0.8h-0.8zM388.6,137.1h0.8v0.8h-0.8zM392.7,130.3h0.8v0.8h-0.8zM381.8,127.4h0.8v0.8h-0.8zM383.7,133.9h0.8v0.8h-0.8zM384.6,131.9h0.8v0.8h-0.8zM393.0,136.6h0.8v0.8h-0.8zM391.5,135.1h0.8v0.8h-0.8zM388.5,132.6h0.8v0.8h-0.8zM409.0,135.5h0.8v0.8h-0.8zM395.5,140.3h0.8v0.8h-0.8zM378.8,134.7h0.8v0.8h-0.8zM399.8,134.6h0.8v0.8h-0.8zM399.1,139.7h0.8v0.8h-0.8zM392.8,141.6h0.8v0.8h-0.8zM404.3,135.7h0.8v0.8h-0.8zM403.3,140.7h0.8v0.8h-0.8zM390.5,130.5h0.8v0.8h-0.8zM394.9,139.3h0.8v0.8h-0.8zM381.2,130.3h0.8v0.8h-0.8zM396.7,139.5h0.8v0.8h-0.8zM393.1,136.3h0.8v0.8h-0.8zM386.8,134.4h0.8v0.8h-0.8zM407.9,128.1h0.8v0.8h-0.8zM382.7,139.8h0.8v0.8h-0.8zM398.9,136.0h0.8v0.8h-0.8zM388.7,137.5h0.8v0.8h-0.8zM394.7,135.6h0.8v0.8h-0.8zM383.6,134.2h0.8v0.8h-0.8zM422.9,134.3h0.8v0.8h-0.8zM420.4,135.1h0.8v0.8h-0.8zM395.0,138.4h0.8v0.8h-0.8zM384.5,137.4h0.8v0.8h-0.8zM399.5,131.5h0.8v0.8h-0.8zM386.8,131.8h0.8v0.8h-0.8zM400.7,134.3h0.8v0.8h-0.8zM401.1,139.2h0.8v0.8h-0.8zM385.3,134.4h0.8v0.8h-0.8zM375.3,141.9h0.8v0.8h-0.8zM394.3,132.8h0.8v0.8h-0.8zM396.1,138.2h0.8v0.8h-0.8zM397.2,131.0h0.8v0.8h-0.8zM399.5,136.6h0.8v0.8h-0.8zM404.7,138.3h0.8v0.8h-0.8zM375.6,134.2h0.8v0.8h-0.8zM378.4,137.4h0.8v0.8h-0.8zM390.4,137.6h0.8v0.8h-0.8zM408.0,129.1h0.8v0.8h-0.8zM397.8,142.2h0.8v0.8h-0.8zM391.7,134.7h0.8v0.8h-0.8zM394.7,131.5h0.8v0.8h-0.8zM398.1,141.1h0.8v0.8h-0.8zM399.1,132.0h0.8v0.8h-0.8zM398.2,135.0h0.8v0.8h-0.8zM393.6,133.4h0.8v0.8h-0.8zM411.9,131.7h0.8v0.8h-0.8zM390.4,143.3h0.8v0.8h-0.8zM392.8,137.4h0.8v0.8h-0.8zM407.1,137.4h0.8v0.8h-0.8zM404.2,137.2h0.8v0.8h-0.8zM386.6,136.4h0.8v0.8h-0.8zM384.4,134.7h0.8v0.8h-0.8zM395.8,133.5h0.8v0.8h-0.8zM371.1,135.2h0.8v0.8h-0.8zM394.4,133.0h0.8v0.8h-0.8zM390.1,133.2h0.8v0.8h-0.8zM397.2,134.9h0.8v0.8h-0.8zM402.3,138.1h0.8v0.8h-0.8zM381.3,136.4h0.8v0.8h-0.8zM390.4,136.5h0.8v0.8h-0.8zM391.6,129.6h0.8v0.8h-0.8zM390.0,138.2h0.8v0.8h-0.8zM393.9,136.8h0.8v0.8h-0.8zM391.0,135.0h0.8v0.8h-0.8zM405.5,140.6h0.8v0.8h-0.8zM390.8,134.1h0.8v0.8h-0.8zM400.1,132.5h0.8v0.8h-0.8zM380.1,127.6h0.8v0.8h-0.8zM380.1,137.2h0.8v0.8h-0.8zM391.1,131.9h0.8v0.8h-0.8zM404.5,135.0h0.8v0.8h-0.8zM378.3,135.7h0.8v0.8h-0.8zM403.5,142.9h0.8v0.8h-0.8zM398.1,140.5h0.8v0.8h-0.8zM403.4,131.2h0.8v0.8h-0.8zM385.1,134.6h0.8v0.8h-0.8zM386.5,138.0h0.8v0.8h-0.8zM378.5,137.9h0.8v0.8h-0.8zM398.7,136.8h0.8v0.8h-0.8zM413.3,132.8h0.8v0.8h-0.8zM391.3,143.0h0.8v0.8h-0.8zM399.5,128.5h0.8v0.8h-0.8zM388.4,136.3h0.8v0.8h-0.8zM384.4,132.4h0.8v0.8h-0.8zM377.4,139.1h0.8v0.8h-0.8zM387.8,140.4h0.8v0.8h-0.8zM405.6,132.2h0.8v0.8h-0.8zM394.6,132.9h0.8v0.8h-0.8zM382.4,138.2h0.8v0.8h-0.8zM401.1,133.3h0.8v0.8h-0.8zM392.9,138.5h0.8v0.8h-0.8zM394.1,140.1h0.8v0.8h-0.8zM385.3,137.9h0.8v0.8h-0.8zM393.1,129.0h0.8v0.8h-0.8zM401.0,143.3h0.8v0.8h-0.8zM394.7,135.2h0.8v0.8h-0.8zM396.9,130.9h0.8v0.8h-0.8zM378.7,143.7h0.8v0.8h-0.8zM396.6,135.6h0.8v0.8h-0.8zM393.1,135.4h0.8v0.8h-0.8zM386.5,136.7h0.8v0.8h-0.8zM404.8,138.5h0.8v0.8h-0.8zM396.4,137.4h0.8v0.8h-0.8zM381.9,137.3h0.8v0.8h-0.8zM391.4,134.5h0.8v0.8h-0.8zM380.4,128.4h0.8v0.8h-0.8zM399.5,131.5h0.8v0.8h-0.8zM395.2,131.2h0.8v0.8h-0.8zM387.1,137.6h0.8v0.8h-0.8zM397.9,128.1h0.8v0.8h-0.8zM394.2,136.3h0.8v0.8h-0.8zM387.4,139.4h0.8v0.8h-0.8zM393.7,133.4h0.8v0.8h-0.8zM392.7,127.9h0.8v0.8h-0.8zM382.4,140.6h0.8v0.8h-0.8zM402.4,142.8h0.8v0.8h-0.8zM403.3,130.8h0.8v0.8h-0.8zM406.2,139.9h0.8v0.8h-0.8zM377.4,128.2h0.8v0.8h-0.8zM393.2,126.8h0.8v0.8h-0.8zM401.3,136.9h0.8v0.8h-0.8zM387.5,141.0h0.8v0.8h-0.8zM388.0,138.7h0.8v0.8h-0.8zM371.3,133.0h0.8v0.8h-0.8zM375.1,130.7h0.8v0.8h-0.8zM389.2,137.7h0.8v0.8h-0.8zM377.8,133.2h0.8v0.8h-0.8zM394.6,131.5h0.8v0.8h-0.8zM371.3,135.6h0.8v0.8h-0.8zM392.5,138.5h0.8v0.8h-0.8zM396.2,140.9h0.8v0.8h-0.8zM395.3,127.3h0.8v0.8h-0.8zM395.1,139.8h0.8v0.8h-0.8zM394.8,142.0h0.8v0.8h-0.8zM395.3,134.6h0.8v0.8h-0.8zM381.2,130.2h0.8v0.8h-0.8zM399.5,141.6h0.8v0.8h-0.8zM393.7,134.1h0.8v0.8h-0.8zM388.8,134.9h0.8v0.8h-0.8zM391.8,132.6h0.8v0.8h-0.8zM393.3,137.4h0.8v0.8h-0.8zM412.3,137.6h0.8v0.8h-0.8zM391.6,134.4h0.8v0.8h-0.8zM383.0,136.4h0.8v0.8h-0.8zM384.5,141.5h0.8v0.8h-0.8zM381.9,138.8h0.8v0.8h-0.8zM408.2,131.0h0.8v0.8h-0.8zM379.2,141.7h0.8v0.8h-0.8zM392.6,131.3h0.8v0.8h-0.8zM405.2,133.2h0.8v0.8h-0.8zM401.9,140.8h0.8v0.8h-0.8zM408.9,136.9h0.8v0.8h-0.8zM388.9,129.5h0.8v0.8h-0.8zM382.5,138.0h0.8v0.8h-0.8zM403.9,129.8h0.8v0.8h-0.8zM391.4,135.8h0.8v0.8h-0.8zM385.3,125.6h0.8v0.8h-0.8zM382.3,138.5h0.8v0.8h-0.8zM397.7,137.7h0.8v0.8h-0.8zM398.9,130.7h0.8v0.8h-0.8zM375.3,131.4h0.8v0.8h-0.8zM408.6,130.1h0.8v0.8h-0.8zM390.3,132.2h0.8v0.8h-0.8zM401.1,130.2h0.8v0.8h-0.8zM387.5,129.2h0.8v0.8h-0.8zM396.1,136.3h0.8v0.8h-0.8zM389.0,134.4h0.8v0.8h-0.8zM390.0,133.1h0.8v0.8h-0.8zM413.9,140.9h0.8v0.8h-0.8zM399.8,136.7h0.8v0.8h-0.8zM379.0,139.9h0.8v0.8h-0.8zM396.6,137.3h0.8v0.8h-0.8zM395.0,141.8h0.8v0.8h-0.8zM413.6,132.5h0.8v0.8h-0.8zM396.9,136.0h0.8v0.8h-0.8zM390.0,135.2h0.8v0.8h-0.8zM385.0,138.5h0.8v0.8h-0.8zM374.5,136.2h0.8v0.8h-0.8zM393.6,135.4h0.8v0.8h-0.8zM382.7,130.2h0.8v0.8h-0.8zM375.9,130.4h0.8v0.8h-0.8zM401.3,143.5h0.8v0.8h-0.8zM387.7,138.6h0.8v0.8h-0.8zM373.1,131.3h0.8v0.8h-0.8zM396.5,141.0h0.8v0.8h-0.8zM386.0,126.8h0.8v0.8h-0.8zM389.1,139.8h0.8v0.8h-0.8zM387.7,133.4h0.8v0.8h-0.8zM396.5,136.4h0.8v0.8h-0.8zM377.6,141.2h0.8v0.8h-0.8zM397.4,132.3h0.8v0.8h-0.8zM405.2,141.1h0.8v0.8h-0.8zM420.3,143.5h0.8v0.8h-0.8zM393.1,132.7h0.8v0.8h-0.8zM395.1,138.0h0.8v0.8h-0.8zM397.5,133.3h0.8v0.8h-0.8zM378.3,131.2h0.8v0.8h-0.8zM394.6,139.8h0.8v0.8h-0.8zM390.4,140.7h0.8v0.8h-0.8zM395.4,133.8h0.8v0.8h-0.8zM395.0,133.7h0.8v0.8h-0.8zM383.5,134.7h0.8v0.8h-0.8zM392.3,138.9h0.8v0.8h-0.8zM388.9,124.9h0.8v0.8h-0.8zM395.4,138.7h0.8v0.8h-0.8zM387.8,135.6h0.8v0.8h-0.8zM379.9,129.6h0.8v0.8h-0.8zM401.5,137.2h0.8v0.8h-0.8zM398.5,133.7h0.8v0.8h-0.8zM401.9,136.9h0.8v0.8h-0.8zM376.5,134.0h0.8v0.8h-0.8zM388.8,136.3h0.8v0.8h-0.8zM383.0,131.4h0.8v0.8h-0.8zM381.4,135.8h0.8v0.8h-0.8zM399.5,139.2h0.8v0.8h-0.8zM406.0,142.5h0.8v0.8h-0.8zM392.2,132.4h0.8v0.8h-0.8zM388.7,132.4h0.8v0.8h-0.8zM386.1,132.7h0.8v0.8h-0.8zM391.0,129.7h0.8v0.8h-0.8zM388.6,136.4h0.8v0.8h-0.8zM388.4,134.5h0.8v0.8h-0.8zM398.7,134.0h0.8v0.8h-0.8zM385.2,135.9h0.8v0.8h-0.8zM386.4,135.7h0.8v0.8h-0.8zM397.3,137.8h0.8v0.8h-0.8zM393.2,129.0h0.8v0.8h-0.8zM396.6,141.4h0.8v0.8h-0.8zM386.8,138.0h0.8v0.8h-0.8zM398.8,140.9h0.8v0.8h-0.8zM399.6,137.2h0.8v0.8h-0.8zM400.0,131.9h0.8v0.8h-0.8zM399.5,134.6h0.8v0.8h-0.8zM383.2,128.9h0.8v0.8h-0.8zM380.5,136.6h0.8v0.8h-0.8zM373.9,133.9h0.8v0.8h-0.8zM384.9,135.7h0.8v0.8h-0.8zM380.1,136.9h0.8v0.8h-0.8zM383.2,136.7h0.8v0.8h-0.8zM399.3,131.0h0.8v0.8h-0.8zM396.2,136.7h0.8v0.8h-0.8zM403.4,123.1h0.8v0.8h-0.8zM398.5,133.0h0.8v0.8h-0.8zM399.1,135.8h0.8v0.8h-0.8zM394.2,134.2h0.8v0.8h-0.8zM385.3,136.6h0.8v0.8h-0.8zM395.9,143.9h0.8v0.8h-0.8zM389.8,138.8h0.8v0.8h-0.8zM380.0,139.1h0.8v0.8h-0.8zM387.6,129.0h0.8v0.8h-0.8zM390.7,138.3h0.8v0.8h-0.8zM383.3,133.1h0.8v0.8h-0.8zM389.1,133.3h0.8v0.8h-0.8zM396.3,131.7h0.8v0.8h-0.8zM398.3,133.1h0.8v0.8h-0.8zM414.1,130.9h0.8v0.8h-0.8zM401.2,132.3h0.8v0.8h-0.8zM393.6,134.6h0.8v0.8h-0.8zM388.7,131.6h0.8v0.8h-0.8zM395.7,140.4h0.8v0.8h-0.8zM381.0,129.3h0.8v0.8h-0.8zM408.5,131.2h0.8v0.8h-0.8zM381.8,137.4h0.8v0.8h-0.8zM393.9,143.0h0.8v0.8h-0.8zM392.9,143.0h0.8v0.8h-0.8zM397.0,137.0h0.8v0.8h-0.8zM378.6,138.6h0.8v0.8h-0.8zM372.8,139.7h0.8v0.8h-0.8zM411.2,138.5h0.8v0.8h-0.8zM401.9,137.2h0.8v0.8h-0.8zM382.3,137.0h0.8v0.8h-0.8zM376.3,139.8h0.8v0.8h-0.8zM383.7,134.7h0.8v0.8h-0.8zM382.0,143.9h0.8v0.8h-0.8zM391.9,138.5h0.8v0.8h-0.8zM388.6,136.5h0.8v0.8h-0.8zM386.0,132.1h0.8v0.8h-0.8zM386.2,141.7h0.8v0.8h-0.8zM387.4,136.1h0.8v0.8h-0.8zM411.3,138.1h0.8v0.8h-0.8zM401.5,135.3h0.8v0.8h-0.8zM397.8,140.5h0.8v0.8h-0.8zM389.0,141.4h0.8v0.8h-0.8zM403.7,126.2h0.8v0.8h-0.8zM412.7,139.9h0.8v0.8h-0.8zM401.2,137.1h0.8v0.8h-0.8zM403.7,132.5h0.8v0.8h-0.8zM376.0,135.1h0.8v0.8h-0.8zM398.1,132.8h0.8v0.8h-0.8zM402.5,130.4h0.8v0.8h-0.8zM388.3,140.2h0.8v0.8h-0.8zM379.4,134.1h0.8v0.8h-0.8zM405.2,128.6h0.8v0.8h-0.8zM388.8,129.5h0.8v0.8h-0.8zM392.2,129.2h0.8v0.8h-0.8zM386.0,133.6h0.8v0.8h-0.8zM380.9,136.6h0.8v0.8h-0.8zM401.0,135.4h0.8v0.8h-0.8zM385.1,144.0h0.8v0.8h-0.8zM405.3,134.2h0.8v0.8h-0.8zM392.6,133.7h0.8v0.8h-0.8zM388.9,135.0h0.8v0.8h-0.8zM390.6,127.7h0.8v0.8h-0.8zM376.7,136.8h0.8v0.8h-0.8zM385.6,137.7h0.8v0.8h-0.8zM378.6,141.0h0.8v0.8h-0.8zM394.3,132.9h0.8v0.8h-0.8zM389.7,138.9h0.8v0.8h-0.8zM387.7,136.4h0.8v0.8h-0.8zM372.4,105.1h0.8v0.8h-0.8zM399.8,105.9h0.8v0.8h-0.8zM405.0,98.7h0.8v0.8h-0.8zM379.5,117.4h0.8v0.8h-0.8zM402.7,98.8h0.8v0.8h-0.8zM382.9,109.8h0.8v0.8h-0.8zM390.5,109.5h0.8v0.8h-0.8zM400.1,113.3h0.8v0.8h-0.8zM390.1,105.8h0.8v0.8h-0.8zM376.3,109.8h0.8v0.8h-0.8zM399.4,102.5h0.8v0.8h-0.8zM375.0,112.4h0.8v0.8h-0.8zM374.3,114.4h0.8v0.8h-0.8zM384.8,101.9h0.8v0.8h-0.8zM382.6,115.8h0.8v0.8h-0.8zM396.3,114.0h0.8v0.8h-0.8zM385.2,103.4h0.8v0.8h-0.8zM380.8,102.9h0.8v0.8h-0.8zM391.0,101.4h0.8v0.8h-0.8zM402.6,101.3h0.8v0.8h-0.8zM398.1,104.7h0.8v0.8h-0.8zM379.1,109.7h0.8v0.8h-0.8zM379.8,117.0h0.8v0.8h-0.8zM392.8,113.6h0.8v0.8h-0.8zM396.9,113.2h0.8v0.8h-0.8zM387.5,100.9h0.8v0.8h-0.8zM389.3,104.0h0.8v0.8h-0.8zM385.6,111.7h0.8v0.8h-0.8zM397.6,113.0h0.8v0.8h-0.8zM402.5,107.0h0.8v0.8h-0.8zM398.1,115.4h0.8v0.8h-0.8zM385.0,112.6h0.8v0.8h-0.8zM375.3,107.9h0.8v0.8h-0.8zM386.5,104.5h0.8v0.8h-0.8zM404.3,115.1h0.8v0.8h-0.8zM402.1,101.8h0.8v0.8h-0.8zM382.7,100.8h0.8v0.8h-0.8zM384.2,109.9h0.8v0.8h-0.8zM404.2,105.8h0.8v0.8h-0.8zM396.1,111.3h0.8v0.8h-0.8zM377.5,102.0h0.8v0.8h-0.8zM395.6,100.3h0.8v0.8h-0.8zM392.2,99.8h0.8v0.8h-0.8zM372.5,117.7h0.8v0.8h-0.8zM384.8,112.4h0.8v0.8h-0.8zM396.2,112.5h0.8v0.8h-0.8zM402.8,117.1h0.8v0.8h-0.8zM385.0,98.8h0.8v0.8h-0.8zM404.2,110.4h0.8v0.8h-0.8zM403.6,112.3h0.8v0.8h-0.8zM393.6,101.7h0.8v0.8h-0.8zM391.0,102.5h0.8v0.8h-0.8zM403.8,113.6h0.8v0.8h-0.8zM374.9,99.0h0.8v0.8h-0.8zM395.5,98.2h0.8v0.8h-0.8zM404.1,98.8h0.8v0.8h-0.8zM389.8,116.3h0.8v0.8h-0.8zM385.9,116.4h0.8v0.8h-0.8zM393.0,99.9h0.8v0.8h-0.8zM401.3,111.8h0.8v0.8h-0.8zM404.3,120.0h0.8v0.8h-0.8zM372.2,94.7h0.8v0.8h-0.8zM385.6,98.8h0.8v0.8h-0.8zM419.3,134.9h0.8v0.8h-0.8zM413.0,99.3h0.8v0.8h-0.8zM387.8,88.6h0.8v0.8h-0.8zM406.0,139.1h0.8v0.8h-0.8zM421.8,110.7h0.8v0.8h-0.8zM417.8,115.3h0.8v0.8h-0.8zM369.0,104.3h0.8v0.8h-0.8zM421.6,115.1h0.8v0.8h-0.8zM404.6,126.0h0.8v0.8h-0.8zM383.5,94.6h0.8v0.8h-0.8zM392.6,111.1h0.8v0.8h-0.8zM414.9,119.2h0.8v0.8h-0.8zM394.1,91.1h0.8v0.8h-0.8zM374.9,100.3h0.8v0.8h-0.8zM402.0,91.4h0.8v0.8h-0.8zM377.0,112.1h0.8v0.8h-0.8zM382.9,118.1h0.8v0.8h-0.8zM417.1,104.1h0.8v0.8h-0.8zM370.5,104.9h0.8v0.8h-0.8zM377.2,117.1h0.8v0.8h-0.8zM375.3,118.9h0.8v0.8h-0.8zM369.8,130.8h0.8v0.8h-0.8zM403.9,125.7h0.8v0.8h-0.8zM403.2,142.0h0.8v0.8h-0.8zM403.6,96.5h0.8v0.8h-0.8zM383.7,111.2h0.8v0.8h-0.8zM379.8,123.8h0.8v0.8h-0.8zM415.2,99.7h0.8v0.8h-0.8zM376.9,110.3h0.8v0.8h-0.8zM397.7,114.8h0.8v0.8h-0.8zM417.5,97.3h0.8v0.8h-0.8zM371.5,132.0h0.8v0.8h-0.8zM423.2,105.7h0.8v0.8h-0.8zM410.3,132.3h0.8v0.8h-0.8zM388.1,101.9h0.8v0.8h-0.8zM400.2,93.2h0.8v0.8h-0.8zM400.0,136.9h0.8v0.8h-0.8zM410.6,86.3h0.8v0.8h-0.8zM401.1,99.0h0.8v0.8h-0.8zM376.6,115.3h0.8v0.8h-0.8zM378.5,120.6h0.8v0.8h-0.8zM391.3,118.1h0.8v0.8h-0.8zM423.2,92.1h0.8v0.8h-0.8zM380.1,99.8h0.8v0.8h-0.8zM386.7,137.1h0.8v0.8h-0.8zM382.6,123.8h0.8v0.8h-0.8zM396.6,103.9h0.8v0.8h-0.8zM409.7,122.2h0.8v0.8h-0.8zM415.8,134.8h0.8v0.8h-0.8zM423.9,99.7h0.8v0.8h-0.8zM416.2,106.3h0.8v0.8h-0.8zM383.2,92.6h0.8v0.8h-0.8zM395.4,100.4h0.8v0.8h-0.8zM413.6,102.6h0.8v0.8h-0.8zM381.1,96.4h0.8v0.8h-0.8zM409.9,120.7h0.8v0.8h-0.8zM404.3,103.6h0.8v0.8h-0.8z" fill="#000" fill-opacity="0.75"/>
<text x="416.5" y="92.8" font-size="9.9" text-anchor="start" fill="#000" textLength="18.3" lengthAdjust="spacingAndGlyphs" stroke="#000" stroke-width="0.55">2.2%</text>
<text x="411.4" y="130.1" font-size="9.9" text-anchor="start" fill="#000" textLength="23.3" lengthAdjust="spacingAndGlyphs" stroke="#000" stroke-width="0.55">13.2%</text>
<text transform="translate(250.4,127.5) rotate(-90)" font-size="12.5" text-anchor="start" fill="#000" textLength="92.9" lengthAdjust="spacingAndGlyphs" stroke="#000" stroke-width="0.22">BZLF 1&#8211;B8-RAK</text>
<text transform="translate(358.4,126.8) rotate(-90)" font-size="12.5" text-anchor="start" fill="#000" textLength="93.3" lengthAdjust="spacingAndGlyphs" stroke="#000" stroke-width="0.22">BZLF 1&#8211;B8-RAK</text>
<text x="262.7" y="162.6" font-size="12.3" text-anchor="start" fill="#000" textLength="56.6" lengthAdjust="spacingAndGlyphs" stroke="#000" stroke-width="0.22">CD8-FITC</text>
<text x="360.6" y="161.7" font-size="14" style="font-family:&quot;Liberation Serif&quot;,serif;font-style:italic" stroke="#000" stroke-width="0.1" textLength="8.2" lengthAdjust="spacingAndGlyphs">&#945;</text>
<text x="369.1" y="161.7" font-size="12" text-anchor="start" fill="#000" textLength="30.2" lengthAdjust="spacingAndGlyphs" stroke="#000" stroke-width="0.22">-hIgG</text>
<text x="400.4" y="161.7" font-size="12" text-anchor="start" fill="#000" textLength="57.8" lengthAdjust="spacingAndGlyphs" stroke="#000" stroke-width="0.22">(H+L)-Cy5</text>
<text x="460" y="48" font-size="12.3" text-anchor="start" fill="#000" textLength="49.6" lengthAdjust="spacingAndGlyphs" stroke="#000" stroke-width="0.22">NT CTLs</text>
<text x="455" y="111.7" font-size="12.3" text-anchor="start" fill="#000" textLength="58.2" lengthAdjust="spacingAndGlyphs" stroke="#000" stroke-width="0.22">CD30CAR</text>
<text x="513.6" y="107.3" font-size="11.5" text-anchor="start" fill="#000" textLength="6.3" lengthAdjust="spacingAndGlyphs" stroke="#000" stroke-width="0.22">+</text>
<text x="472.8" y="127.1" font-size="12.3" text-anchor="start" fill="#000" textLength="29.3" lengthAdjust="spacingAndGlyphs" stroke="#000" stroke-width="0.22">CTLs</text>
<line x1="36.5" y1="210.3" x2="36.5" y2="309.4" stroke="#333" stroke-width="1.15"/>
<line x1="36.5" y1="309.4" x2="235.6" y2="309.4" stroke="#333" stroke-width="1.1"/>
<line x1="36.5" y1="309.8" x2="40.5" y2="307.40000000000003" stroke="#222" stroke-width="1.1"/>
<text x="29.0" y="312.1" font-size="9.6" text-anchor="end" fill="#000" textLength="5.0" lengthAdjust="spacingAndGlyphs" stroke="#000" stroke-width="0.3">0</text>
<line x1="36.5" y1="289.5" x2="40.5" y2="287.1" stroke="#222" stroke-width="1.1"/>
<text x="29.0" y="292.8" font-size="9.6" text-anchor="end" fill="#000" textLength="10.0" lengthAdjust="spacingAndGlyphs" stroke="#000" stroke-width="0.3">20</text>
<line x1="36.5" y1="269.7" x2="40.5" y2="267.3" stroke="#222" stroke-width="1.1"/>
<text x="29.0" y="273.1" font-size="9.6" text-anchor="end" fill="#000" textLength="10.0" lengthAdjust="spacingAndGlyphs" stroke="#000" stroke-width="0.3">40</text>
<line x1="36.5" y1="249.79999999999998" x2="40.5" y2="247.4" stroke="#222" stroke-width="1.1"/>
<text x="29.0" y="253.0" font-size="9.6" text-anchor="end" fill="#000" textLength="10.0" lengthAdjust="spacingAndGlyphs" stroke="#000" stroke-width="0.3">60</text>
<line x1="36.5" y1="229.7" x2="40.5" y2="227.3" stroke="#222" stroke-width="1.1"/>
<text x="29.0" y="233.2" font-size="9.6" text-anchor="end" fill="#000" textLength="10.0" lengthAdjust="spacingAndGlyphs" stroke="#000" stroke-width="0.3">80</text>
<line x1="36.5" y1="210.7" x2="40.5" y2="208.3" stroke="#222" stroke-width="1.1"/>
<text x="29.0" y="216.2" font-size="9.6" text-anchor="end" fill="#000" textLength="15.2" lengthAdjust="spacingAndGlyphs" stroke="#000" stroke-width="0.3">100</text>
<line x1="76" y1="309.4" x2="76" y2="311.4" stroke="#333" stroke-width="0.9"/>
<line x1="115.8" y1="309.4" x2="115.8" y2="311.4" stroke="#333" stroke-width="0.9"/>
<line x1="155.6" y1="309.4" x2="155.6" y2="311.4" stroke="#333" stroke-width="0.9"/>
<line x1="195.8" y1="309.4" x2="195.8" y2="311.4" stroke="#333" stroke-width="0.9"/>
<line x1="235.6" y1="309.4" x2="235.6" y2="311.4" stroke="#333" stroke-width="0.9"/>
<text transform="translate(12.3,282.9) rotate(-90)" font-size="9.8" text-anchor="start" fill="#000" textLength="52.4" lengthAdjust="spacingAndGlyphs" stroke="#000" stroke-width="0.22">positive (%)</text>
<line x1="50.150000000000006" y1="271.4" x2="50.150000000000006" y2="295.1" stroke="#000" stroke-width="1"/>
<line x1="48.25000000000001" y1="271.4" x2="52.050000000000004" y2="271.4" stroke="#000" stroke-width="1.3"/>
<rect x="44.2" y="295.1" width="11.899999999999999" height="14.299999999999955" fill="#fff" stroke="#000" stroke-width="1"/>
<line x1="61.849999999999994" y1="258.6" x2="61.849999999999994" y2="290.5" stroke="#000" stroke-width="1"/>
<line x1="59.949999999999996" y1="258.6" x2="63.74999999999999" y2="258.6" stroke="#000" stroke-width="1.3"/>
<rect x="56.1" y="290.5" width="11.499999999999993" height="18.899999999999977" fill="#000" stroke="#000" stroke-width="1"/>
<line x1="90.0" y1="210.8" x2="90.0" y2="226" stroke="#000" stroke-width="1"/>
<line x1="88.1" y1="210.8" x2="91.9" y2="210.8" stroke="#000" stroke-width="1.3"/>
<rect x="84.4" y="226" width="11.199999999999989" height="83.39999999999998" fill="#fff" stroke="#000" stroke-width="1"/>
<line x1="101.55" y1="209.7" x2="101.55" y2="229.3" stroke="#000" stroke-width="1"/>
<line x1="99.64999999999999" y1="209.7" x2="103.45" y2="209.7" stroke="#000" stroke-width="1.3"/>
<rect x="95.6" y="229.3" width="11.900000000000006" height="80.09999999999997" fill="#000" stroke="#000" stroke-width="1"/>
<line x1="130.10000000000002" y1="260" x2="130.10000000000002" y2="265.8" stroke="#000" stroke-width="1"/>
<line x1="128.20000000000002" y1="260" x2="132.00000000000003" y2="260" stroke="#000" stroke-width="1.3"/>
<rect x="123.9" y="265.8" width="12.400000000000006" height="43.599999999999966" fill="#fff" stroke="#000" stroke-width="1"/>
<line x1="142.15" y1="266.2" x2="142.15" y2="269.7" stroke="#000" stroke-width="1"/>
<line x1="140.25" y1="266.2" x2="144.05" y2="266.2" stroke="#000" stroke-width="1.3"/>
<rect x="136.3" y="269.7" width="11.699999999999989" height="39.69999999999999" fill="#000" stroke="#000" stroke-width="1"/>
<rect x="121.6" y="195.8" width="7.9" height="10.6" fill="#fff" stroke="#000" stroke-width="1.1"/>
<rect x="121.7" y="215.4" width="8.3" height="8.1" fill="#000"/>
<text x="135.6" y="206.3" font-size="10.2" text-anchor="start" fill="#000" textLength="57.3" lengthAdjust="spacingAndGlyphs" stroke="#000" stroke-width="0.22">Control CTLs</text>
<text x="135.6" y="223.5" font-size="10.2" text-anchor="start" fill="#000" textLength="76.3" lengthAdjust="spacingAndGlyphs" stroke="#000" stroke-width="0.22">CD30CAR<tspan font-size="8" dy="-3.8">+</tspan><tspan dy="3.8"> CTLs</tspan></text>
<text x="42.4" y="323.9" font-size="10.2" text-anchor="start" fill="#000" textLength="27" lengthAdjust="spacingAndGlyphs" stroke="#000" stroke-width="0.22">CD3<tspan font-size="9.2" dx="0.6" dy="-4.2">+</tspan></text>
<text x="42.4" y="337.2" font-size="10.2" text-anchor="start" fill="#000" textLength="27" lengthAdjust="spacingAndGlyphs" stroke="#000" stroke-width="0.22">CD4<tspan font-size="9.2" dx="0.6" dy="-4.2">+</tspan></text>
<text x="81.8" y="323.9" font-size="10.2" text-anchor="start" fill="#000" textLength="27" lengthAdjust="spacingAndGlyphs" stroke="#000" stroke-width="0.22">CD3<tspan font-size="9.2" dx="0.6" dy="-4.2">+</tspan></text>
<text x="81.8" y="337.2" font-size="10.2" text-anchor="start" fill="#000" textLength="27" lengthAdjust="spacingAndGlyphs" stroke="#000" stroke-width="0.22">CD8<tspan font-size="9.2" dx="0.6" dy="-4.2">+</tspan></text>
<text x="121.8" y="323.9" font-size="10.2" text-anchor="start" fill="#000" textLength="27.3" lengthAdjust="spacingAndGlyphs" stroke="#000" stroke-width="0.22">CD3<tspan font-size="9.2" dx="0.6" dy="-4.2">+</tspan></text>
<text x="119.0" y="337.2" font-size="10.2" text-anchor="start" fill="#000" textLength="33.2" lengthAdjust="spacingAndGlyphs" stroke="#000" stroke-width="0.22">CD56<tspan font-size="9.2" dx="0.6" dy="-4.2">+</tspan></text>
<text x="164.8" y="323.9" font-size="10.2" text-anchor="start" fill="#000" textLength="25.3" lengthAdjust="spacingAndGlyphs" stroke="#000" stroke-width="0.22">CD3<tspan font-size="9.2" dx="0.6" dy="-4.5">-</tspan></text>
<text x="160.7" y="337.2" font-size="10.2" text-anchor="start" fill="#000" textLength="33.5" lengthAdjust="spacingAndGlyphs" stroke="#000" stroke-width="0.22">CD56<tspan font-size="9.2" dx="0.6" dy="-5.5">+</tspan></text>
<text x="203" y="323.9" font-size="10.2" text-anchor="start" fill="#000" textLength="32.2" lengthAdjust="spacingAndGlyphs" stroke="#000" stroke-width="0.22">CD19<tspan font-size="9.2" dx="0.6" dy="-4.2">+</tspan></text>
<line x1="308.8" y1="190.5" x2="308.8" y2="292.4" stroke="#444" stroke-width="1.1"/>
<line x1="308.8" y1="292.4" x2="519" y2="292.4" stroke="#333" stroke-width="1.1"/>
<line x1="306.3" y1="292.4" x2="308.8" y2="292.4" stroke="#444" stroke-width="0.9"/>
<text x="300.2" y="293.0" font-size="9.5" text-anchor="start" fill="#000" textLength="4.4" lengthAdjust="spacingAndGlyphs" stroke="#000" stroke-width="0.35">0</text>
<line x1="306.3" y1="273" x2="308.8" y2="273" stroke="#444" stroke-width="0.9"/>
<text x="294.9" y="273.9" font-size="9.5" text-anchor="start" fill="#000" textLength="10" lengthAdjust="spacingAndGlyphs" stroke="#000" stroke-width="0.35">20</text>
<line x1="306.3" y1="252.5" x2="308.8" y2="252.5" stroke="#444" stroke-width="0.9"/>
<text x="294.9" y="251.6" font-size="9.5" text-anchor="start" fill="#000" textLength="10" lengthAdjust="spacingAndGlyphs" stroke="#000" stroke-width="0.35">40</text>
<line x1="306.3" y1="230.9" x2="308.8" y2="230.9" stroke="#444" stroke-width="0.9"/>
<text x="295.5" y="232.5" font-size="9.5" text-anchor="start" fill="#000" textLength="9.1" lengthAdjust="spacingAndGlyphs" stroke="#000" stroke-width="0.35">60</text>
<line x1="306.3" y1="211" x2="308.8" y2="211" stroke="#444" stroke-width="0.9"/>
<text x="295.7" y="213.1" font-size="9.5" text-anchor="start" fill="#000" textLength="8.9" lengthAdjust="spacingAndGlyphs" stroke="#000" stroke-width="0.35">80</text>
<line x1="306.3" y1="191" x2="308.8" y2="191" stroke="#444" stroke-width="0.9"/>
<text x="290.1" y="192.7" font-size="9.5" text-anchor="start" fill="#000" textLength="14.2" lengthAdjust="spacingAndGlyphs" stroke="#000" stroke-width="0.35">100</text>
<line x1="308.8" y1="292.4" x2="308.8" y2="294.4" stroke="#444" stroke-width="0.9"/>
<line x1="342.8" y1="292.4" x2="342.8" y2="294.4" stroke="#444" stroke-width="0.9"/>
<line x1="378.8" y1="292.4" x2="378.8" y2="294.4" stroke="#444" stroke-width="0.9"/>
<line x1="414.2" y1="292.4" x2="414.2" y2="294.4" stroke="#444" stroke-width="0.9"/>
<line x1="449.1" y1="292.4" x2="449.1" y2="294.4" stroke="#444" stroke-width="0.9"/>
<line x1="484" y1="292.4" x2="484" y2="294.4" stroke="#444" stroke-width="0.9"/>
<line x1="519" y1="292.4" x2="519" y2="294.4" stroke="#444" stroke-width="0.9"/>
<text transform="translate(284.3,281.3) rotate(-90)" font-size="9.3" text-anchor="start" fill="#000" textLength="69.4" lengthAdjust="spacingAndGlyphs" stroke="#000" stroke-width="0.22">% specific killing</text>
<line x1="320.9" y1="225.2" x2="320.9" y2="234.6" stroke="#000" stroke-width="1"/>
<line x1="319.09999999999997" y1="225.2" x2="322.7" y2="225.2" stroke="#000" stroke-width="1.2"/>
<rect x="315.9" y="234.6" width="10.0" height="57.79999999999998" fill="#fff" stroke="#000" stroke-width="1"/>
<line x1="331.35" y1="208.1" x2="331.35" y2="229.3" stroke="#000" stroke-width="1"/>
<line x1="329.55" y1="208.1" x2="333.15000000000003" y2="208.1" stroke="#000" stroke-width="1.2"/>
<rect x="325.9" y="229.3" width="10.900000000000034" height="63.099999999999966" fill="#000" stroke="#000" stroke-width="1"/>
<line x1="356.1" y1="274.5" x2="356.1" y2="282.9" stroke="#000" stroke-width="1"/>
<line x1="354.3" y1="274.5" x2="357.90000000000003" y2="274.5" stroke="#000" stroke-width="1.2"/>
<rect x="351.1" y="282.9" width="10.0" height="9.5" fill="#fff" stroke="#000" stroke-width="1"/>
<line x1="366.25" y1="237.7" x2="366.25" y2="252.7" stroke="#000" stroke-width="1"/>
<line x1="364.45" y1="237.7" x2="368.05" y2="237.7" stroke="#000" stroke-width="1.2"/>
<rect x="361.1" y="252.7" width="10.299999999999955" height="39.69999999999999" fill="#000" stroke="#000" stroke-width="1"/>
<line x1="391.1" y1="288.6" x2="391.1" y2="290.5" stroke="#000" stroke-width="1"/>
<line x1="389.3" y1="288.6" x2="392.90000000000003" y2="288.6" stroke="#000" stroke-width="1.2"/>
<rect x="386" y="290.5" width="10.199999999999989" height="1.8999999999999773" fill="#fff" stroke="#000" stroke-width="1"/>
<line x1="401.4" y1="230.8" x2="401.4" y2="248" stroke="#000" stroke-width="1"/>
<line x1="399.59999999999997" y1="230.8" x2="403.2" y2="230.8" stroke="#000" stroke-width="1.2"/>
<rect x="396.2" y="248" width="10.400000000000034" height="44.39999999999998" fill="#000" stroke="#000" stroke-width="1"/>
<line x1="426.2" y1="282.9" x2="426.2" y2="284.4" stroke="#000" stroke-width="1"/>
<line x1="424.4" y1="282.9" x2="428.0" y2="282.9" stroke="#000" stroke-width="1.2"/>
<rect x="421.2" y="284.4" width="10.0" height="8.0" fill="#fff" stroke="#000" stroke-width="1"/>
<line x1="436.29999999999995" y1="241.8" x2="436.29999999999995" y2="258.9" stroke="#000" stroke-width="1"/>
<line x1="434.49999999999994" y1="241.8" x2="438.09999999999997" y2="241.8" stroke="#000" stroke-width="1.2"/>
<rect x="431.2" y="258.9" width="10.199999999999989" height="33.5" fill="#000" stroke="#000" stroke-width="1"/>
<line x1="461.25" y1="284.8" x2="461.25" y2="289.4" stroke="#000" stroke-width="1"/>
<line x1="459.45" y1="284.8" x2="463.05" y2="284.8" stroke="#000" stroke-width="1.2"/>
<rect x="456.3" y="289.4" width="9.899999999999977" height="3.0" fill="#fff" stroke="#000" stroke-width="1"/>
<line x1="471.35" y1="289" x2="471.35" y2="291.6" stroke="#000" stroke-width="1"/>
<line x1="469.55" y1="289" x2="473.15000000000003" y2="289" stroke="#000" stroke-width="1.2"/>
<rect x="466.2" y="291.6" width="10.300000000000011" height="0.7999999999999545" fill="#000" stroke="#000" stroke-width="1"/>
<line x1="496.8" y1="291.2" x2="496.8" y2="291.9" stroke="#000" stroke-width="1"/>
<rect x="494.5" y="290.6" width="4.6" height="1.8" rx="0.8" fill="#000"/>
<rect x="491.8" y="291.9" width="10.0" height="0.5" fill="#fff" stroke="#000" stroke-width="1"/>
<line x1="506.8" y1="291.2" x2="506.8" y2="291.9" stroke="#000" stroke-width="1"/>
<rect x="504.5" y="290.6" width="4.6" height="1.8" rx="0.8" fill="#000"/>
<rect x="501.8" y="291.9" width="10.0" height="0.5" fill="#000" stroke="#000" stroke-width="1"/>
<rect x="326.7" y="185.9" width="8.2" height="7.9" fill="#fff" stroke="#333" stroke-width="1"/>
<rect x="400.8" y="186.5" width="8.4" height="7.2" fill="#000"/>
<text x="337.6" y="193.7" font-size="10" text-anchor="start" fill="#000" textLength="57" lengthAdjust="spacingAndGlyphs" stroke="#000" stroke-width="0.22">Control CTLs</text>
<text x="410.7" y="193.7" font-size="10" text-anchor="start" fill="#000" textLength="76.6" lengthAdjust="spacingAndGlyphs" stroke="#000" stroke-width="0.22">CD30CAR<tspan font-size="8.2" dy="-3.8">+</tspan><tspan dy="3.8"> CTLs</tspan></text>
<text transform="translate(325.0,318.9) rotate(-90)" font-size="8.9" text-anchor="start" fill="#000" textLength="21.6" lengthAdjust="spacingAndGlyphs" stroke="#000" stroke-width="0.22">Autol</text>
<text transform="translate(336.4,318.7) rotate(-90)" font-size="8.9" text-anchor="start" fill="#000" textLength="16.5" lengthAdjust="spacingAndGlyphs" stroke="#000" stroke-width="0.22">LCL</text>
<text transform="translate(360.9,318.9) rotate(-90)" font-size="8.9" text-anchor="start" fill="#000" textLength="21.0" lengthAdjust="spacingAndGlyphs" stroke="#000" stroke-width="0.22">Allog</text>
<text transform="translate(372.4,318.6) rotate(-90)" font-size="8.9" text-anchor="start" fill="#000" textLength="16.3" lengthAdjust="spacingAndGlyphs" stroke="#000" stroke-width="0.22">LCL</text>
<text transform="translate(400.2,333.6) rotate(-90)" font-size="8.9" text-anchor="start" fill="#000" textLength="35.0" lengthAdjust="spacingAndGlyphs" stroke="#000" stroke-width="0.22">HDLM-2</text>
<text transform="translate(433.4,327.9) rotate(-90)" font-size="8.9" text-anchor="start" fill="#000" textLength="29.2" lengthAdjust="spacingAndGlyphs" stroke="#000" stroke-width="0.22">Karpas</text>
<text transform="translate(445.1,321.2) rotate(-90)" font-size="8.9" text-anchor="start" fill="#000" textLength="16.3" lengthAdjust="spacingAndGlyphs" stroke="#000" stroke-width="0.22">299</text>
<text transform="translate(464.7,327.5) rotate(-90)" font-size="8.9" text-anchor="start" fill="#000" textLength="25.6" lengthAdjust="spacingAndGlyphs" stroke="#000" stroke-width="0.22">CD30-</text>
<text transform="translate(475.6,327.5) rotate(-90)" font-size="8.9" text-anchor="start" fill="#000" textLength="29.8" lengthAdjust="spacingAndGlyphs" stroke="#000" stroke-width="0.22">targets</text>
<text transform="translate(499.9,319.5) rotate(-90)" font-size="8.9" text-anchor="start" fill="#000" textLength="18.2" lengthAdjust="spacingAndGlyphs" stroke="#000" stroke-width="0.22">PHA</text>
<text transform="translate(512.2,319.5) rotate(-90)" font-size="8.9" text-anchor="start" fill="#000" textLength="23.7" lengthAdjust="spacingAndGlyphs" stroke="#000" stroke-width="0.22">blasts</text>
</svg>
</body></html>
